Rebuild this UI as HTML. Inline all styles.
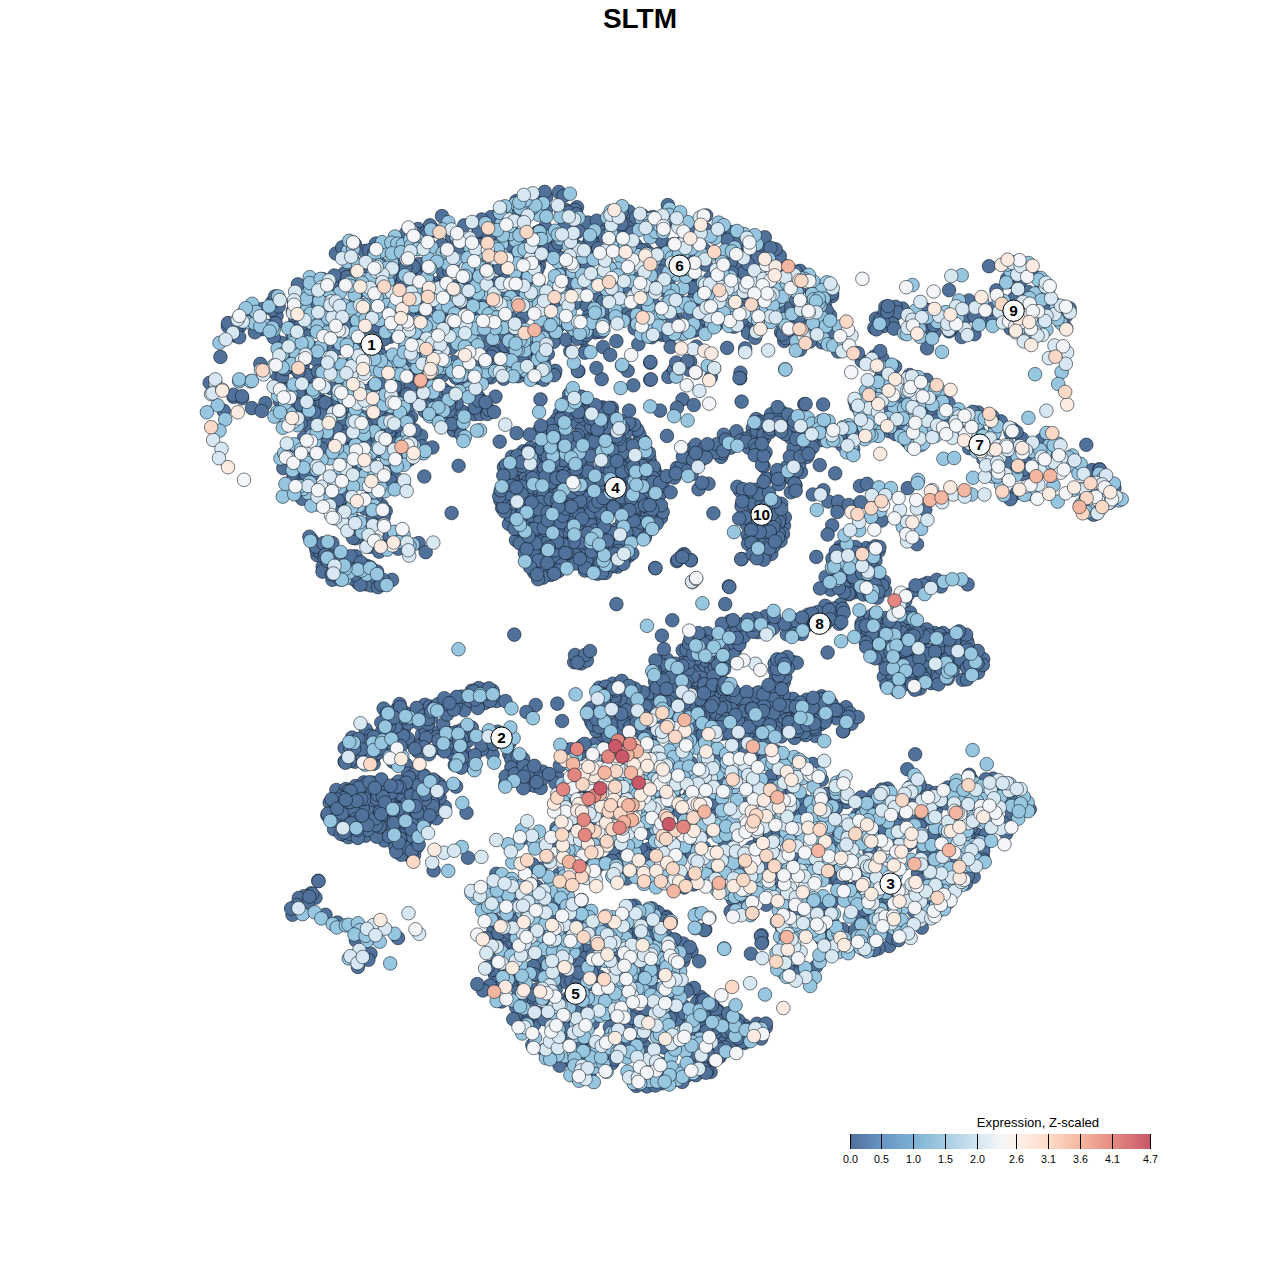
<!DOCTYPE html>
<html><head><meta charset="utf-8"><title>SLTM</title>
<style>
html,body{margin:0;padding:0;background:#fff;}
body{width:1280px;height:1280px;overflow:hidden;font-family:"Liberation Sans",sans-serif;}
svg{display:block}
#d circle{stroke:#0b1622;stroke-opacity:.8;stroke-width:.7px}
.lc{fill:#fafbfc;stroke:#000;stroke-width:1px}
text{font-family:"Liberation Sans",sans-serif;fill:#000;text-anchor:middle}
#lb text{font-weight:bold;font-size:15.4px}
.tk{font-size:10.67px}
</style></head><body>
<svg width="1280" height="1280" viewBox="0 0 1280 1280">
<defs><linearGradient id="lg" x1="0" x2="1" y1="0" y2="0">
<stop offset="0" stop-color="#4f6f98"/><stop offset="0.106" stop-color="#6796c6"/><stop offset="0.213" stop-color="#7db1d4"/><stop offset="0.319" stop-color="#a6cee3"/><stop offset="0.426" stop-color="#d4e6f1"/><stop offset="0.5" stop-color="#f4f6f8"/><stop offset="0.553" stop-color="#fdf1ea"/><stop offset="0.66" stop-color="#fddbc8"/><stop offset="0.766" stop-color="#f5b7a0"/><stop offset="0.872" stop-color="#e48b80"/><stop offset="1" stop-color="#c8566a"/>
</linearGradient></defs>
<text x="640" y="27.5" style="font-weight:bold;font-size:28px">SLTM</text>
<g id="d">
<g fill="#50719a">
<circle cx="1016.2" cy="493.4" r="6.8"/><circle cx="1010.4" cy="499.2" r="6.8"/><circle cx="1020.5" cy="490.9" r="6.8"/><circle cx="616.4" cy="604.1" r="6.8"/><circle cx="514.3" cy="634.6" r="6.8"/><circle cx="650.2" cy="736.8" r="6.8"/><circle cx="688.4" cy="735.6" r="6.8"/><circle cx="701.9" cy="738.6" r="6.8"/><circle cx="733.5" cy="735.6" r="6.8"/><circle cx="734.9" cy="736.6" r="6.8"/><circle cx="745.8" cy="738.3" r="6.8"/><circle cx="749.7" cy="738.9" r="6.8"/><circle cx="759.2" cy="739.4" r="6.8"/><circle cx="766.4" cy="737.7" r="6.8"/><circle cx="777.7" cy="735.4" r="6.8"/><circle cx="794.5" cy="737.9" r="6.8"/><circle cx="781.2" cy="736.4" r="6.8"/><circle cx="815.4" cy="736.0" r="6.8"/><circle cx="805.6" cy="735.1" r="6.8"/><circle cx="566.9" cy="749.9" r="6.8"/><circle cx="579.7" cy="754.2" r="6.8"/><circle cx="571.0" cy="749.3" r="6.8"/><circle cx="595.4" cy="743.6" r="6.8"/><circle cx="582.2" cy="745.7" r="6.8"/><circle cx="584.5" cy="743.9" r="6.8"/><circle cx="605.2" cy="753.5" r="6.8"/><circle cx="623.2" cy="743.6" r="6.8"/><circle cx="638.6" cy="745.8" r="6.8"/><circle cx="673.3" cy="750.5" r="6.8"/><circle cx="679.9" cy="742.6" r="6.8"/><circle cx="719.1" cy="757.9" r="6.8"/><circle cx="737.2" cy="742.7" r="6.8"/><circle cx="733.9" cy="744.3" r="6.8"/><circle cx="558.6" cy="778.3" r="6.8"/><circle cx="559.9" cy="765.6" r="6.8"/><circle cx="612.1" cy="771.2" r="6.8"/><circle cx="659.0" cy="772.4" r="6.8"/><circle cx="691.0" cy="763.0" r="6.8"/><circle cx="686.5" cy="770.1" r="6.8"/><circle cx="739.7" cy="772.6" r="6.8"/><circle cx="555.6" cy="783.3" r="6.8"/><circle cx="579.5" cy="791.8" r="6.8"/><circle cx="573.2" cy="799.8" r="6.8"/><circle cx="590.2" cy="791.5" r="6.8"/><circle cx="590.5" cy="793.3" r="6.8"/><circle cx="606.2" cy="783.1" r="6.8"/><circle cx="625.0" cy="784.2" r="6.8"/><circle cx="676.9" cy="785.0" r="6.8"/><circle cx="662.9" cy="795.8" r="6.8"/><circle cx="675.0" cy="797.6" r="6.8"/><circle cx="689.2" cy="796.0" r="6.8"/><circle cx="692.9" cy="785.2" r="6.8"/><circle cx="719.6" cy="781.0" r="6.8"/><circle cx="711.0" cy="799.2" r="6.8"/><circle cx="572.0" cy="807.0" r="6.8"/><circle cx="617.4" cy="808.5" r="6.8"/><circle cx="600.5" cy="815.0" r="6.8"/><circle cx="661.6" cy="813.0" r="6.8"/><circle cx="678.0" cy="819.6" r="6.8"/><circle cx="675.9" cy="812.3" r="6.8"/><circle cx="667.1" cy="809.5" r="6.8"/><circle cx="712.2" cy="809.5" r="6.8"/><circle cx="702.7" cy="807.6" r="6.8"/><circle cx="712.9" cy="802.9" r="6.8"/><circle cx="728.4" cy="812.5" r="6.8"/><circle cx="730.6" cy="815.2" r="6.8"/><circle cx="556.5" cy="828.0" r="6.8"/><circle cx="570.0" cy="839.1" r="6.8"/><circle cx="561.6" cy="837.2" r="6.8"/><circle cx="569.3" cy="835.2" r="6.8"/><circle cx="573.2" cy="829.3" r="6.8"/><circle cx="589.4" cy="822.2" r="6.8"/><circle cx="586.2" cy="826.4" r="6.8"/><circle cx="600.7" cy="839.9" r="6.8"/><circle cx="639.4" cy="824.7" r="6.8"/><circle cx="647.4" cy="832.6" r="6.8"/><circle cx="644.0" cy="830.5" r="6.8"/><circle cx="651.7" cy="834.5" r="6.8"/><circle cx="706.6" cy="831.7" r="6.8"/><circle cx="721.8" cy="834.3" r="6.8"/><circle cx="554.9" cy="840.3" r="6.8"/><circle cx="598.7" cy="843.8" r="6.8"/><circle cx="609.7" cy="856.2" r="6.8"/><circle cx="613.8" cy="859.5" r="6.8"/><circle cx="616.4" cy="846.2" r="6.8"/><circle cx="607.4" cy="849.5" r="6.8"/><circle cx="602.5" cy="853.9" r="6.8"/><circle cx="612.6" cy="848.3" r="6.8"/><circle cx="613.9" cy="853.8" r="6.8"/><circle cx="638.1" cy="847.8" r="6.8"/><circle cx="620.5" cy="859.6" r="6.8"/><circle cx="625.8" cy="851.1" r="6.8"/><circle cx="649.0" cy="848.9" r="6.8"/><circle cx="644.3" cy="857.2" r="6.8"/><circle cx="646.3" cy="853.8" r="6.8"/><circle cx="641.1" cy="849.7" r="6.8"/><circle cx="649.5" cy="856.3" r="6.8"/><circle cx="686.3" cy="850.6" r="6.8"/><circle cx="692.2" cy="853.4" r="6.8"/><circle cx="688.2" cy="840.5" r="6.8"/><circle cx="718.0" cy="857.3" r="6.8"/><circle cx="714.2" cy="852.5" r="6.8"/><circle cx="703.7" cy="847.2" r="6.8"/><circle cx="724.8" cy="843.0" r="6.8"/><circle cx="739.8" cy="856.8" r="6.8"/><circle cx="727.9" cy="858.5" r="6.8"/><circle cx="559.1" cy="874.2" r="6.8"/><circle cx="573.0" cy="872.9" r="6.8"/><circle cx="599.4" cy="864.8" r="6.8"/><circle cx="582.2" cy="862.8" r="6.8"/><circle cx="592.2" cy="860.2" r="6.8"/><circle cx="612.1" cy="861.0" r="6.8"/><circle cx="626.0" cy="874.4" r="6.8"/><circle cx="626.8" cy="878.5" r="6.8"/><circle cx="644.2" cy="863.9" r="6.8"/><circle cx="687.1" cy="878.7" r="6.8"/><circle cx="698.2" cy="877.6" r="6.8"/><circle cx="697.5" cy="874.4" r="6.8"/><circle cx="714.5" cy="866.7" r="6.8"/><circle cx="704.7" cy="877.6" r="6.8"/><circle cx="714.5" cy="871.2" r="6.8"/><circle cx="720.5" cy="869.0" r="6.8"/><circle cx="731.5" cy="862.8" r="6.8"/><circle cx="815.7" cy="967.0" r="6.8"/><circle cx="566.6" cy="517.1" r="6.8"/><circle cx="527.1" cy="542.2" r="6.8"/><circle cx="610.9" cy="507.3" r="6.8"/><circle cx="605.5" cy="479.9" r="6.8"/><circle cx="627.4" cy="536.7" r="6.8"/><circle cx="649.6" cy="515.4" r="6.8"/><circle cx="526.5" cy="469.5" r="6.8"/><circle cx="510.2" cy="476.0" r="6.8"/><circle cx="591.8" cy="443.0" r="6.8"/><circle cx="593.6" cy="421.0" r="6.8"/><circle cx="544.0" cy="549.5" r="6.8"/><circle cx="605.9" cy="422.4" r="6.8"/><circle cx="530.9" cy="447.7" r="6.8"/><circle cx="539.4" cy="430.1" r="6.8"/><circle cx="546.6" cy="481.3" r="6.8"/><circle cx="565.2" cy="558.7" r="6.8"/><circle cx="628.8" cy="476.4" r="6.8"/><circle cx="628.8" cy="556.0" r="6.8"/><circle cx="558.5" cy="453.1" r="6.8"/><circle cx="572.5" cy="480.7" r="6.8"/><circle cx="574.1" cy="537.5" r="6.8"/><circle cx="632.7" cy="533.7" r="6.8"/><circle cx="586.1" cy="520.0" r="6.8"/><circle cx="562.2" cy="465.9" r="6.8"/><circle cx="535.0" cy="524.2" r="6.8"/><circle cx="584.6" cy="551.6" r="6.8"/><circle cx="639.3" cy="495.9" r="6.8"/><circle cx="516.3" cy="490.7" r="6.8"/><circle cx="551.7" cy="562.3" r="6.8"/><circle cx="646.1" cy="499.3" r="6.8"/><circle cx="547.5" cy="536.0" r="6.8"/><circle cx="569.0" cy="424.0" r="6.8"/><circle cx="567.4" cy="447.6" r="6.8"/><circle cx="595.9" cy="455.3" r="6.8"/><circle cx="587.3" cy="432.6" r="6.8"/><circle cx="500.3" cy="500.2" r="6.8"/><circle cx="603.1" cy="558.1" r="6.8"/><circle cx="644.0" cy="441.5" r="6.8"/><circle cx="533.7" cy="552.8" r="6.8"/><circle cx="508.9" cy="523.9" r="6.8"/><circle cx="542.4" cy="460.4" r="6.8"/><circle cx="516.0" cy="540.2" r="6.8"/><circle cx="586.0" cy="496.8" r="6.8"/><circle cx="584.5" cy="410.6" r="6.8"/><circle cx="573.6" cy="519.6" r="6.8"/><circle cx="583.5" cy="473.2" r="6.8"/><circle cx="634.6" cy="479.7" r="6.8"/><circle cx="577.4" cy="423.1" r="6.8"/><circle cx="614.6" cy="481.6" r="6.8"/><circle cx="507.5" cy="470.1" r="6.8"/><circle cx="559.8" cy="413.3" r="6.8"/><circle cx="601.4" cy="446.8" r="6.8"/><circle cx="555.2" cy="518.4" r="6.8"/><circle cx="587.3" cy="464.7" r="6.8"/><circle cx="650.1" cy="462.6" r="6.8"/><circle cx="600.1" cy="516.3" r="6.8"/><circle cx="597.5" cy="573.8" r="6.8"/><circle cx="561.1" cy="425.6" r="6.8"/><circle cx="517.7" cy="512.1" r="6.8"/><circle cx="594.0" cy="498.7" r="6.8"/><circle cx="558.0" cy="571.3" r="6.8"/><circle cx="505.1" cy="491.4" r="6.8"/><circle cx="616.2" cy="529.3" r="6.8"/><circle cx="541.0" cy="525.1" r="6.8"/><circle cx="614.1" cy="467.1" r="6.8"/><circle cx="575.5" cy="439.0" r="6.8"/><circle cx="543.0" cy="566.2" r="6.8"/><circle cx="546.8" cy="492.7" r="6.8"/><circle cx="603.6" cy="534.7" r="6.8"/><circle cx="614.9" cy="536.5" r="6.8"/><circle cx="517.6" cy="529.1" r="6.8"/><circle cx="530.5" cy="537.9" r="6.8"/><circle cx="608.1" cy="490.1" r="6.8"/><circle cx="524.2" cy="481.0" r="6.8"/><circle cx="624.0" cy="421.2" r="6.8"/><circle cx="582.2" cy="428.8" r="6.8"/><circle cx="585.8" cy="509.1" r="6.8"/><circle cx="511.9" cy="456.8" r="6.8"/><circle cx="528.6" cy="506.9" r="6.8"/><circle cx="543.4" cy="558.9" r="6.8"/><circle cx="516.5" cy="526.2" r="6.8"/><circle cx="639.3" cy="434.2" r="6.8"/><circle cx="547.1" cy="428.1" r="6.8"/><circle cx="516.4" cy="464.5" r="6.8"/><circle cx="652.8" cy="526.0" r="6.8"/><circle cx="632.2" cy="454.4" r="6.8"/><circle cx="562.5" cy="502.3" r="6.8"/><circle cx="649.7" cy="477.9" r="6.8"/><circle cx="554.2" cy="464.4" r="6.8"/><circle cx="523.3" cy="451.4" r="6.8"/><circle cx="575.2" cy="497.6" r="6.8"/><circle cx="586.7" cy="564.9" r="6.8"/><circle cx="630.6" cy="528.9" r="6.8"/><circle cx="611.9" cy="407.9" r="6.8"/><circle cx="519.9" cy="543.4" r="6.8"/><circle cx="588.4" cy="447.1" r="6.8"/><circle cx="637.7" cy="508.1" r="6.8"/><circle cx="595.2" cy="432.3" r="6.8"/><circle cx="549.1" cy="530.5" r="6.8"/><circle cx="587.9" cy="539.5" r="6.8"/><circle cx="651.5" cy="472.2" r="6.8"/><circle cx="561.4" cy="535.6" r="6.8"/><circle cx="636.6" cy="520.8" r="6.8"/><circle cx="576.0" cy="555.3" r="6.8"/><circle cx="564.5" cy="530.9" r="6.8"/><circle cx="596.8" cy="564.6" r="6.8"/><circle cx="572.5" cy="402.8" r="6.8"/><circle cx="517.9" cy="498.8" r="6.8"/><circle cx="614.6" cy="478.2" r="6.8"/><circle cx="612.0" cy="497.3" r="6.8"/><circle cx="636.6" cy="444.3" r="6.8"/><circle cx="609.9" cy="435.0" r="6.8"/><circle cx="617.5" cy="465.9" r="6.8"/><circle cx="619.4" cy="429.4" r="6.8"/><circle cx="556.1" cy="557.5" r="6.8"/><circle cx="582.7" cy="404.8" r="6.8"/><circle cx="581.1" cy="467.3" r="6.8"/><circle cx="642.3" cy="505.4" r="6.8"/><circle cx="595.9" cy="548.4" r="6.8"/><circle cx="509.0" cy="508.3" r="6.8"/><circle cx="585.1" cy="419.4" r="6.8"/><circle cx="537.0" cy="449.9" r="6.8"/><circle cx="580.3" cy="400.3" r="6.8"/><circle cx="649.3" cy="458.0" r="6.8"/><circle cx="651.3" cy="506.3" r="6.8"/><circle cx="586.1" cy="482.2" r="6.8"/><circle cx="627.1" cy="501.4" r="6.8"/><circle cx="555.1" cy="567.4" r="6.8"/><circle cx="518.3" cy="474.4" r="6.8"/><circle cx="560.7" cy="558.3" r="6.8"/><circle cx="567.0" cy="462.8" r="6.8"/><circle cx="579.7" cy="542.2" r="6.8"/><circle cx="581.1" cy="396.6" r="6.8"/><circle cx="514.7" cy="506.3" r="6.8"/><circle cx="608.3" cy="415.4" r="6.8"/><circle cx="644.7" cy="520.3" r="6.8"/><circle cx="567.2" cy="545.1" r="6.8"/><circle cx="575.1" cy="460.2" r="6.8"/><circle cx="606.8" cy="477.2" r="6.8"/><circle cx="553.8" cy="434.7" r="6.8"/><circle cx="635.8" cy="497.3" r="6.8"/><circle cx="645.9" cy="532.6" r="6.8"/><circle cx="533.8" cy="453.7" r="6.8"/><circle cx="593.5" cy="557.7" r="6.8"/><circle cx="536.9" cy="498.3" r="6.8"/><circle cx="594.8" cy="448.8" r="6.8"/><circle cx="556.8" cy="488.2" r="6.8"/><circle cx="587.3" cy="555.0" r="6.8"/><circle cx="595.4" cy="438.8" r="6.8"/><circle cx="579.4" cy="445.9" r="6.8"/><circle cx="589.2" cy="570.4" r="6.8"/><circle cx="568.9" cy="413.5" r="6.8"/><circle cx="638.3" cy="485.8" r="6.8"/><circle cx="616.8" cy="456.5" r="6.8"/><circle cx="582.9" cy="562.3" r="6.8"/><circle cx="609.2" cy="463.7" r="6.8"/><circle cx="637.2" cy="429.6" r="6.8"/><circle cx="555.8" cy="492.6" r="6.8"/><circle cx="598.9" cy="409.3" r="6.8"/><circle cx="545.1" cy="454.9" r="6.8"/><circle cx="522.1" cy="507.0" r="6.8"/><circle cx="623.8" cy="495.6" r="6.8"/><circle cx="539.9" cy="570.9" r="6.8"/><circle cx="573.0" cy="486.3" r="6.8"/><circle cx="625.3" cy="440.9" r="6.8"/><circle cx="579.0" cy="524.5" r="6.8"/><circle cx="610.4" cy="552.7" r="6.8"/><circle cx="579.4" cy="415.8" r="6.8"/><circle cx="637.3" cy="460.6" r="6.8"/><circle cx="627.0" cy="463.5" r="6.8"/><circle cx="649.2" cy="479.8" r="6.8"/><circle cx="510.6" cy="515.8" r="6.8"/><circle cx="529.7" cy="434.5" r="6.8"/><circle cx="548.7" cy="478.8" r="6.8"/><circle cx="621.1" cy="477.7" r="6.8"/><circle cx="589.2" cy="529.6" r="6.8"/><circle cx="635.9" cy="489.2" r="6.8"/><circle cx="524.1" cy="484.6" r="6.8"/><circle cx="622.5" cy="562.4" r="6.8"/><circle cx="550.6" cy="575.0" r="6.8"/><circle cx="591.4" cy="520.0" r="6.8"/><circle cx="583.6" cy="500.0" r="6.8"/><circle cx="534.2" cy="572.4" r="6.8"/><circle cx="609.5" cy="431.6" r="6.8"/><circle cx="543.0" cy="577.6" r="6.8"/><circle cx="546.7" cy="504.7" r="6.8"/><circle cx="539.0" cy="468.7" r="6.8"/><circle cx="571.0" cy="467.0" r="6.8"/><circle cx="557.8" cy="441.6" r="6.8"/><circle cx="572.4" cy="396.4" r="6.8"/><circle cx="650.0" cy="491.8" r="6.8"/><circle cx="553.5" cy="556.2" r="6.8"/><circle cx="655.7" cy="473.3" r="6.8"/><circle cx="570.6" cy="510.0" r="6.8"/><circle cx="604.7" cy="484.9" r="6.8"/><circle cx="553.0" cy="520.2" r="6.8"/><circle cx="629.1" cy="548.3" r="6.8"/><circle cx="562.4" cy="419.2" r="6.8"/><circle cx="505.7" cy="497.5" r="6.8"/><circle cx="587.7" cy="492.0" r="6.8"/><circle cx="603.0" cy="530.4" r="6.8"/><circle cx="590.5" cy="489.4" r="6.8"/><circle cx="609.6" cy="484.0" r="6.8"/><circle cx="645.5" cy="529.7" r="6.8"/><circle cx="649.2" cy="467.8" r="6.8"/><circle cx="528.1" cy="487.3" r="6.8"/><circle cx="617.4" cy="566.6" r="6.8"/><circle cx="613.1" cy="566.1" r="6.8"/><circle cx="577.5" cy="442.0" r="6.8"/><circle cx="598.3" cy="536.8" r="6.8"/><circle cx="649.0" cy="483.8" r="6.8"/><circle cx="605.3" cy="573.0" r="6.8"/><circle cx="607.3" cy="454.1" r="6.8"/><circle cx="580.3" cy="459.2" r="6.8"/><circle cx="632.3" cy="553.3" r="6.8"/><circle cx="596.5" cy="477.4" r="6.8"/><circle cx="550.5" cy="508.8" r="6.8"/><circle cx="550.7" cy="451.6" r="6.8"/><circle cx="623.2" cy="522.5" r="6.8"/><circle cx="561.4" cy="458.9" r="6.8"/><circle cx="609.5" cy="504.3" r="6.8"/><circle cx="654.2" cy="469.4" r="6.8"/><circle cx="632.3" cy="468.5" r="6.8"/><circle cx="540.6" cy="484.8" r="6.8"/><circle cx="590.9" cy="441.1" r="6.8"/><circle cx="607.9" cy="546.3" r="6.8"/><circle cx="515.6" cy="472.6" r="6.8"/><circle cx="543.3" cy="543.9" r="6.8"/><circle cx="635.2" cy="500.9" r="6.8"/><circle cx="652.6" cy="501.4" r="6.8"/><circle cx="629.3" cy="481.9" r="6.8"/><circle cx="618.4" cy="482.9" r="6.8"/><circle cx="608.6" cy="455.2" r="6.8"/><circle cx="502.1" cy="507.9" r="6.8"/><circle cx="579.3" cy="514.5" r="6.8"/><circle cx="598.2" cy="453.2" r="6.8"/><circle cx="599.0" cy="442.1" r="6.8"/><circle cx="575.7" cy="563.4" r="6.8"/><circle cx="586.3" cy="560.4" r="6.8"/><circle cx="556.3" cy="420.0" r="6.8"/><circle cx="557.0" cy="512.2" r="6.8"/><circle cx="574.5" cy="504.5" r="6.8"/><circle cx="602.7" cy="518.7" r="6.8"/><circle cx="581.0" cy="442.9" r="6.8"/><circle cx="608.5" cy="500.8" r="6.8"/><circle cx="563.3" cy="454.5" r="6.8"/><circle cx="611.7" cy="480.0" r="6.8"/><circle cx="658.2" cy="490.9" r="6.8"/><circle cx="630.2" cy="488.9" r="6.8"/><circle cx="526.9" cy="500.6" r="6.8"/><circle cx="657.0" cy="509.2" r="6.8"/><circle cx="533.5" cy="533.3" r="6.8"/><circle cx="570.4" cy="526.8" r="6.8"/><circle cx="614.7" cy="425.3" r="6.8"/><circle cx="576.1" cy="449.3" r="6.8"/><circle cx="503.9" cy="467.1" r="6.8"/><circle cx="571.4" cy="496.1" r="6.8"/><circle cx="568.2" cy="487.6" r="6.8"/><circle cx="639.8" cy="499.3" r="6.8"/><circle cx="552.1" cy="424.4" r="6.8"/><circle cx="608.0" cy="501.8" r="6.8"/><circle cx="552.7" cy="544.2" r="6.8"/><circle cx="553.7" cy="501.7" r="6.8"/><circle cx="600.5" cy="563.6" r="6.8"/><circle cx="562.0" cy="471.0" r="6.8"/><circle cx="596.0" cy="414.7" r="6.8"/><circle cx="615.1" cy="556.3" r="6.8"/><circle cx="647.6" cy="514.5" r="6.8"/><circle cx="564.1" cy="412.1" r="6.8"/><circle cx="589.5" cy="504.5" r="6.8"/><circle cx="660.0" cy="494.3" r="6.8"/><circle cx="660.8" cy="518.0" r="6.8"/><circle cx="630.4" cy="458.5" r="6.8"/><circle cx="558.2" cy="526.4" r="6.8"/><circle cx="631.6" cy="477.0" r="6.8"/><circle cx="600.8" cy="469.2" r="6.8"/><circle cx="557.7" cy="432.6" r="6.8"/><circle cx="554.1" cy="511.7" r="6.8"/><circle cx="504.6" cy="511.5" r="6.8"/><circle cx="521.6" cy="471.1" r="6.8"/><circle cx="628.0" cy="489.8" r="6.8"/><circle cx="538.5" cy="560.5" r="6.8"/><circle cx="524.1" cy="518.6" r="6.8"/><circle cx="648.2" cy="507.6" r="6.8"/><circle cx="562.4" cy="565.0" r="6.8"/><circle cx="512.9" cy="494.8" r="6.8"/><circle cx="560.8" cy="522.4" r="6.8"/><circle cx="616.0" cy="546.3" r="6.8"/><circle cx="530.2" cy="567.3" r="6.8"/><circle cx="533.5" cy="462.5" r="6.8"/><circle cx="553.1" cy="430.9" r="6.8"/><circle cx="662.7" cy="512.1" r="6.8"/><circle cx="539.4" cy="535.7" r="6.8"/><circle cx="527.7" cy="451.6" r="6.8"/><circle cx="591.6" cy="525.3" r="6.8"/><circle cx="600.6" cy="507.5" r="6.8"/><circle cx="532.9" cy="488.3" r="6.8"/><circle cx="555.1" cy="550.4" r="6.8"/><circle cx="615.9" cy="442.6" r="6.8"/><circle cx="536.1" cy="543.4" r="6.8"/><circle cx="614.9" cy="549.9" r="6.8"/><circle cx="577.9" cy="435.3" r="6.8"/><circle cx="627.5" cy="526.3" r="6.8"/><circle cx="623.6" cy="520.1" r="6.8"/><circle cx="547.6" cy="471.8" r="6.8"/><circle cx="539.4" cy="529.0" r="6.8"/><circle cx="584.8" cy="570.5" r="6.8"/><circle cx="538.7" cy="514.2" r="6.8"/><circle cx="607.6" cy="410.2" r="6.8"/><circle cx="531.5" cy="515.8" r="6.8"/><circle cx="563.1" cy="494.2" r="6.8"/><circle cx="531.7" cy="510.5" r="6.8"/><circle cx="654.9" cy="475.0" r="6.8"/><circle cx="624.8" cy="508.5" r="6.8"/><circle cx="622.3" cy="521.3" r="6.8"/><circle cx="594.1" cy="493.5" r="6.8"/><circle cx="591.8" cy="551.5" r="6.8"/><circle cx="642.8" cy="531.5" r="6.8"/><circle cx="538.0" cy="579.2" r="6.8"/><circle cx="615.2" cy="504.2" r="6.8"/><circle cx="600.2" cy="531.6" r="6.8"/><circle cx="566.3" cy="478.9" r="6.8"/><circle cx="546.2" cy="484.6" r="6.8"/><circle cx="541.0" cy="425.7" r="6.8"/><circle cx="661.0" cy="505.3" r="6.8"/><circle cx="598.8" cy="540.5" r="6.8"/><circle cx="569.1" cy="394.6" r="6.8"/><circle cx="592.6" cy="488.7" r="6.8"/><circle cx="552.6" cy="468.0" r="6.8"/><circle cx="628.8" cy="454.4" r="6.8"/><circle cx="525.8" cy="476.0" r="6.8"/><circle cx="527.8" cy="482.0" r="6.8"/><circle cx="591.6" cy="511.9" r="6.8"/><circle cx="653.7" cy="466.8" r="6.8"/><circle cx="541.8" cy="448.6" r="6.8"/><circle cx="584.4" cy="412.2" r="6.8"/><circle cx="540.0" cy="521.5" r="6.8"/><circle cx="517.5" cy="455.7" r="6.8"/><circle cx="560.4" cy="489.2" r="6.8"/><circle cx="613.8" cy="539.3" r="6.8"/><circle cx="524.8" cy="553.3" r="6.8"/><circle cx="614.1" cy="464.7" r="6.8"/><circle cx="550.2" cy="449.2" r="6.8"/><circle cx="551.1" cy="482.4" r="6.8"/><circle cx="544.2" cy="468.1" r="6.8"/><circle cx="560.5" cy="448.6" r="6.8"/><circle cx="527.0" cy="493.8" r="6.8"/><circle cx="537.1" cy="574.3" r="6.8"/><circle cx="514.5" cy="528.8" r="6.8"/><circle cx="614.7" cy="427.9" r="6.8"/><circle cx="623.9" cy="558.6" r="6.8"/><circle cx="615.7" cy="497.0" r="6.8"/><circle cx="636.8" cy="529.5" r="6.8"/><circle cx="614.3" cy="509.3" r="6.8"/><circle cx="503.5" cy="506.9" r="6.8"/><circle cx="545.0" cy="507.1" r="6.8"/><circle cx="626.4" cy="532.4" r="6.8"/><circle cx="533.7" cy="507.9" r="6.8"/><circle cx="567.3" cy="552.9" r="6.8"/><circle cx="603.3" cy="522.9" r="6.8"/><circle cx="625.9" cy="432.2" r="6.8"/><circle cx="556.9" cy="534.9" r="6.8"/><circle cx="644.9" cy="537.5" r="6.8"/><circle cx="516.4" cy="469.0" r="6.8"/><circle cx="589.0" cy="497.6" r="6.8"/><circle cx="559.2" cy="570.4" r="6.8"/><circle cx="591.4" cy="426.4" r="6.8"/><circle cx="543.5" cy="495.2" r="6.8"/><circle cx="511.1" cy="497.7" r="6.8"/><circle cx="564.6" cy="451.4" r="6.8"/><circle cx="594.4" cy="445.7" r="6.8"/><circle cx="574.0" cy="473.3" r="6.8"/><circle cx="623.0" cy="452.5" r="6.8"/><circle cx="573.6" cy="541.8" r="6.8"/><circle cx="504.4" cy="496.1" r="6.8"/><circle cx="601.2" cy="547.9" r="6.8"/><circle cx="509.3" cy="493.7" r="6.8"/><circle cx="607.6" cy="469.4" r="6.8"/><circle cx="540.4" cy="502.1" r="6.8"/><circle cx="640.6" cy="473.8" r="6.8"/><circle cx="640.6" cy="522.6" r="6.8"/><circle cx="610.2" cy="470.7" r="6.8"/><circle cx="633.8" cy="520.9" r="6.8"/><circle cx="613.0" cy="533.1" r="6.8"/><circle cx="576.1" cy="438.0" r="6.8"/><circle cx="642.4" cy="466.0" r="6.8"/><circle cx="624.1" cy="548.4" r="6.8"/><circle cx="529.7" cy="500.1" r="6.8"/><circle cx="548.3" cy="540.8" r="6.8"/><circle cx="545.0" cy="530.1" r="6.8"/><circle cx="530.7" cy="469.1" r="6.8"/><circle cx="534.3" cy="528.9" r="6.8"/><circle cx="620.5" cy="543.2" r="6.8"/><circle cx="634.2" cy="507.5" r="6.8"/><circle cx="611.6" cy="411.3" r="6.8"/><circle cx="562.7" cy="515.8" r="6.8"/><circle cx="590.4" cy="455.8" r="6.8"/><circle cx="566.1" cy="508.6" r="6.8"/><circle cx="606.2" cy="441.1" r="6.8"/><circle cx="558.1" cy="494.4" r="6.8"/><circle cx="590.4" cy="418.2" r="6.8"/><circle cx="612.0" cy="417.0" r="6.8"/><circle cx="545.2" cy="476.7" r="6.8"/><circle cx="632.3" cy="463.1" r="6.8"/><circle cx="521.8" cy="486.5" r="6.8"/><circle cx="547.4" cy="562.9" r="6.8"/><circle cx="570.7" cy="446.2" r="6.8"/><circle cx="557.3" cy="501.1" r="6.8"/><circle cx="618.8" cy="550.9" r="6.8"/><circle cx="566.8" cy="437.9" r="6.8"/><circle cx="634.0" cy="424.6" r="6.8"/><circle cx="599.7" cy="481.6" r="6.8"/><circle cx="559.5" cy="463.5" r="6.8"/><circle cx="589.7" cy="484.2" r="6.8"/><circle cx="617.0" cy="494.6" r="6.8"/><circle cx="646.5" cy="480.9" r="6.8"/><circle cx="522.2" cy="465.8" r="6.8"/><circle cx="592.2" cy="502.8" r="6.8"/><circle cx="621.0" cy="445.4" r="6.8"/><circle cx="623.4" cy="563.7" r="6.8"/><circle cx="606.2" cy="460.9" r="6.8"/><circle cx="550.7" cy="499.0" r="6.8"/><circle cx="508.0" cy="467.7" r="6.8"/><circle cx="601.0" cy="512.5" r="6.8"/><circle cx="499.1" cy="496.1" r="6.8"/><circle cx="601.9" cy="572.8" r="6.8"/><circle cx="621.8" cy="467.9" r="6.8"/><circle cx="579.4" cy="409.8" r="6.8"/><circle cx="557.1" cy="499.7" r="6.8"/><circle cx="538.4" cy="509.3" r="6.8"/><circle cx="652.0" cy="519.4" r="6.8"/><circle cx="565.2" cy="403.3" r="6.8"/><circle cx="500.7" cy="490.4" r="6.8"/><circle cx="656.7" cy="523.7" r="6.8"/><circle cx="612.2" cy="449.6" r="6.8"/><circle cx="580.1" cy="501.1" r="6.8"/><circle cx="521.2" cy="462.2" r="6.8"/><circle cx="505.9" cy="464.9" r="6.8"/><circle cx="562.8" cy="460.0" r="6.8"/><circle cx="547.6" cy="512.4" r="6.8"/><circle cx="520.7" cy="517.2" r="6.8"/><circle cx="588.2" cy="471.7" r="6.8"/><circle cx="562.6" cy="544.3" r="6.8"/><circle cx="650.7" cy="512.2" r="6.8"/><circle cx="621.6" cy="497.3" r="6.8"/><circle cx="571.7" cy="492.1" r="6.8"/><circle cx="645.1" cy="505.5" r="6.8"/><circle cx="582.1" cy="518.7" r="6.8"/><circle cx="631.1" cy="498.7" r="6.8"/><circle cx="614.7" cy="554.1" r="6.8"/><circle cx="556.4" cy="478.3" r="6.8"/><circle cx="560.9" cy="419.1" r="6.8"/><circle cx="571.3" cy="506.7" r="6.8"/><circle cx="598.9" cy="489.5" r="6.8"/><circle cx="626.9" cy="511.4" r="6.8"/><circle cx="543.9" cy="527.8" r="6.8"/><circle cx="653.6" cy="478.2" r="6.8"/><circle cx="607.0" cy="427.8" r="6.8"/><circle cx="613.1" cy="486.8" r="6.8"/><circle cx="629.0" cy="423.2" r="6.8"/><circle cx="622.3" cy="471.7" r="6.8"/><circle cx="511.6" cy="485.4" r="6.8"/><circle cx="602.3" cy="496.3" r="6.8"/><circle cx="635.0" cy="475.8" r="6.8"/><circle cx="602.3" cy="417.1" r="6.8"/><circle cx="576.0" cy="468.9" r="6.8"/><circle cx="601.1" cy="424.3" r="6.8"/><circle cx="526.7" cy="549.1" r="6.8"/><circle cx="622.7" cy="428.3" r="6.8"/><circle cx="528.6" cy="536.3" r="6.8"/><circle cx="521.6" cy="493.9" r="6.8"/><circle cx="648.4" cy="486.1" r="6.8"/><circle cx="576.7" cy="485.7" r="6.8"/><circle cx="516.3" cy="487.3" r="6.8"/><circle cx="656.5" cy="489.5" r="6.8"/><circle cx="594.7" cy="505.6" r="6.8"/><circle cx="607.2" cy="540.7" r="6.8"/><circle cx="547.9" cy="520.4" r="6.8"/><circle cx="557.2" cy="541.8" r="6.8"/><circle cx="593.9" cy="419.0" r="6.8"/><circle cx="613.4" cy="507.2" r="6.8"/><circle cx="598.5" cy="501.6" r="6.8"/><circle cx="563.2" cy="476.6" r="6.8"/><circle cx="601.8" cy="444.1" r="6.8"/><circle cx="565.4" cy="553.0" r="6.8"/><circle cx="558.3" cy="506.9" r="6.8"/><circle cx="602.5" cy="407.4" r="6.8"/><circle cx="594.5" cy="530.7" r="6.8"/><circle cx="618.7" cy="427.8" r="6.8"/><circle cx="618.8" cy="438.6" r="6.8"/><circle cx="633.0" cy="445.7" r="6.8"/><circle cx="594.0" cy="441.6" r="6.8"/><circle cx="548.8" cy="547.4" r="6.8"/><circle cx="616.5" cy="436.4" r="6.8"/><circle cx="652.2" cy="509.3" r="6.8"/><circle cx="585.2" cy="567.9" r="6.8"/><circle cx="600.5" cy="479.2" r="6.8"/><circle cx="588.2" cy="533.1" r="6.8"/><circle cx="579.8" cy="558.7" r="6.8"/><circle cx="629.4" cy="510.1" r="6.8"/><circle cx="547.8" cy="456.9" r="6.8"/><circle cx="532.5" cy="478.2" r="6.8"/><circle cx="649.6" cy="505.1" r="6.8"/><circle cx="511.0" cy="472.4" r="6.8"/><circle cx="602.1" cy="409.3" r="6.8"/><circle cx="652.8" cy="482.3" r="6.8"/><circle cx="604.0" cy="526.6" r="6.8"/><circle cx="611.2" cy="565.1" r="6.8"/><circle cx="597.4" cy="429.5" r="6.8"/><circle cx="648.9" cy="452.9" r="6.8"/><circle cx="617.0" cy="461.1" r="6.8"/><circle cx="576.6" cy="408.3" r="6.8"/><circle cx="553.2" cy="461.9" r="6.8"/><circle cx="631.1" cy="468.1" r="6.8"/><circle cx="528.6" cy="503.7" r="6.8"/><circle cx="554.1" cy="573.8" r="6.8"/><circle cx="523.4" cy="511.5" r="6.8"/><circle cx="603.4" cy="498.0" r="6.8"/><circle cx="503.3" cy="475.5" r="6.8"/><circle cx="633.6" cy="466.7" r="6.8"/><circle cx="531.6" cy="502.4" r="6.8"/><circle cx="578.7" cy="489.0" r="6.8"/><circle cx="765.9" cy="496.6" r="6.8"/><circle cx="766.7" cy="530.1" r="6.8"/><circle cx="754.8" cy="535.4" r="6.8"/><circle cx="743.8" cy="513.6" r="6.8"/><circle cx="754.2" cy="513.7" r="6.8"/><circle cx="739.9" cy="490.7" r="6.8"/><circle cx="784.0" cy="525.6" r="6.8"/><circle cx="765.5" cy="549.4" r="6.8"/><circle cx="745.9" cy="500.1" r="6.8"/><circle cx="746.5" cy="524.0" r="6.8"/><circle cx="762.3" cy="513.9" r="6.8"/><circle cx="756.3" cy="537.9" r="6.8"/><circle cx="762.1" cy="497.6" r="6.8"/><circle cx="778.7" cy="529.6" r="6.8"/><circle cx="747.7" cy="535.0" r="6.8"/><circle cx="756.0" cy="489.7" r="6.8"/><circle cx="771.3" cy="553.9" r="6.8"/><circle cx="737.3" cy="486.8" r="6.8"/><circle cx="742.4" cy="503.9" r="6.8"/><circle cx="746.1" cy="509.3" r="6.8"/><circle cx="749.5" cy="539.2" r="6.8"/><circle cx="776.6" cy="518.7" r="6.8"/><circle cx="760.9" cy="551.4" r="6.8"/><circle cx="778.6" cy="511.1" r="6.8"/><circle cx="757.6" cy="524.8" r="6.8"/><circle cx="752.5" cy="546.7" r="6.8"/><circle cx="758.8" cy="508.1" r="6.8"/><circle cx="783.0" cy="533.9" r="6.8"/><circle cx="780.5" cy="540.9" r="6.8"/><circle cx="757.0" cy="551.6" r="6.8"/><circle cx="747.3" cy="499.5" r="6.8"/><circle cx="784.8" cy="517.3" r="6.8"/><circle cx="752.9" cy="503.9" r="6.8"/><circle cx="751.7" cy="491.3" r="6.8"/><circle cx="778.6" cy="533.5" r="6.8"/><circle cx="768.3" cy="535.4" r="6.8"/><circle cx="755.4" cy="542.9" r="6.8"/><circle cx="742.9" cy="489.2" r="6.8"/><circle cx="752.0" cy="526.4" r="6.8"/><circle cx="781.2" cy="503.7" r="6.8"/><circle cx="761.7" cy="503.3" r="6.8"/><circle cx="779.7" cy="518.2" r="6.8"/><circle cx="778.9" cy="521.8" r="6.8"/><circle cx="764.6" cy="555.2" r="6.8"/><circle cx="778.0" cy="537.6" r="6.8"/><circle cx="762.9" cy="544.9" r="6.8"/><circle cx="774.6" cy="523.0" r="6.8"/><circle cx="754.3" cy="549.5" r="6.8"/><circle cx="771.4" cy="514.4" r="6.8"/><circle cx="741.5" cy="506.1" r="6.8"/><circle cx="758.2" cy="520.7" r="6.8"/><circle cx="763.5" cy="494.0" r="6.8"/><circle cx="756.0" cy="513.9" r="6.8"/><circle cx="759.0" cy="494.4" r="6.8"/><circle cx="781.2" cy="509.1" r="6.8"/><circle cx="773.3" cy="527.3" r="6.8"/><circle cx="748.0" cy="543.8" r="6.8"/><circle cx="766.2" cy="506.2" r="6.8"/><circle cx="742.3" cy="501.4" r="6.8"/><circle cx="769.7" cy="531.5" r="6.8"/><circle cx="769.3" cy="545.2" r="6.8"/><circle cx="759.7" cy="532.1" r="6.8"/><circle cx="751.2" cy="530.2" r="6.8"/><circle cx="750.3" cy="489.4" r="6.8"/><circle cx="769.1" cy="492.7" r="6.8"/><circle cx="773.9" cy="545.9" r="6.8"/><circle cx="774.9" cy="501.7" r="6.8"/><circle cx="745.1" cy="517.4" r="6.8"/><circle cx="739.1" cy="518.6" r="6.8"/><circle cx="751.4" cy="542.7" r="6.8"/><circle cx="755.9" cy="554.8" r="6.8"/><circle cx="883.5" cy="653.6" r="6.8"/><circle cx="905.8" cy="684.3" r="6.8"/><circle cx="952.1" cy="635.8" r="6.8"/><circle cx="922.1" cy="640.9" r="6.8"/><circle cx="972.4" cy="658.5" r="6.8"/><circle cx="875.0" cy="613.4" r="6.8"/><circle cx="931.2" cy="683.1" r="6.8"/><circle cx="904.8" cy="655.2" r="6.8"/><circle cx="892.9" cy="664.2" r="6.8"/><circle cx="876.1" cy="643.9" r="6.8"/><circle cx="962.6" cy="679.7" r="6.8"/><circle cx="881.3" cy="618.7" r="6.8"/><circle cx="959.3" cy="650.1" r="6.8"/><circle cx="876.1" cy="649.9" r="6.8"/><circle cx="914.8" cy="649.1" r="6.8"/><circle cx="966.2" cy="664.6" r="6.8"/><circle cx="934.7" cy="633.0" r="6.8"/><circle cx="907.2" cy="630.9" r="6.8"/><circle cx="934.1" cy="657.2" r="6.8"/><circle cx="875.6" cy="636.2" r="6.8"/><circle cx="926.7" cy="629.4" r="6.8"/><circle cx="863.8" cy="620.1" r="6.8"/><circle cx="936.1" cy="667.0" r="6.8"/><circle cx="906.3" cy="620.4" r="6.8"/><circle cx="953.8" cy="664.6" r="6.8"/><circle cx="975.3" cy="669.2" r="6.8"/><circle cx="943.0" cy="633.0" r="6.8"/><circle cx="958.0" cy="639.0" r="6.8"/><circle cx="920.9" cy="632.6" r="6.8"/><circle cx="957.0" cy="661.7" r="6.8"/><circle cx="892.5" cy="627.2" r="6.8"/><circle cx="911.9" cy="679.1" r="6.8"/><circle cx="890.1" cy="634.6" r="6.8"/><circle cx="946.0" cy="642.9" r="6.8"/><circle cx="967.0" cy="679.3" r="6.8"/><circle cx="883.8" cy="676.8" r="6.8"/><circle cx="897.2" cy="656.2" r="6.8"/><circle cx="864.8" cy="634.9" r="6.8"/><circle cx="908.4" cy="642.9" r="6.8"/><circle cx="887.3" cy="665.2" r="6.8"/><circle cx="914.3" cy="668.1" r="6.8"/><circle cx="960.6" cy="659.2" r="6.8"/><circle cx="897.7" cy="677.1" r="6.8"/><circle cx="886.4" cy="685.0" r="6.8"/><circle cx="918.3" cy="674.5" r="6.8"/><circle cx="967.0" cy="667.7" r="6.8"/><circle cx="885.4" cy="642.6" r="6.8"/><circle cx="892.6" cy="645.3" r="6.8"/><circle cx="893.1" cy="640.3" r="6.8"/><circle cx="910.1" cy="612.5" r="6.8"/><circle cx="885.7" cy="618.0" r="6.8"/><circle cx="947.8" cy="649.8" r="6.8"/><circle cx="919.8" cy="688.5" r="6.8"/><circle cx="882.4" cy="659.8" r="6.8"/><circle cx="920.7" cy="654.3" r="6.8"/><circle cx="915.3" cy="637.7" r="6.8"/><circle cx="906.0" cy="645.7" r="6.8"/><circle cx="928.4" cy="635.2" r="6.8"/><circle cx="904.9" cy="678.0" r="6.8"/><circle cx="920.1" cy="650.8" r="6.8"/><circle cx="952.7" cy="671.0" r="6.8"/><circle cx="918.0" cy="664.3" r="6.8"/><circle cx="910.2" cy="625.7" r="6.8"/><circle cx="874.2" cy="624.7" r="6.8"/><circle cx="929.7" cy="650.1" r="6.8"/><circle cx="945.2" cy="672.1" r="6.8"/><circle cx="914.8" cy="689.7" r="6.8"/><circle cx="861.6" cy="623.3" r="6.8"/><circle cx="945.7" cy="659.2" r="6.8"/><circle cx="911.9" cy="671.8" r="6.8"/><circle cx="938.9" cy="663.9" r="6.8"/><circle cx="886.9" cy="655.8" r="6.8"/><circle cx="967.0" cy="641.0" r="6.8"/><circle cx="939.9" cy="634.7" r="6.8"/><circle cx="870.8" cy="616.5" r="6.8"/><circle cx="983.2" cy="659.1" r="6.8"/><circle cx="885.7" cy="647.9" r="6.8"/><circle cx="906.4" cy="660.8" r="6.8"/><circle cx="903.0" cy="642.5" r="6.8"/><circle cx="892.7" cy="675.6" r="6.8"/><circle cx="978.4" cy="669.6" r="6.8"/><circle cx="910.4" cy="648.1" r="6.8"/><circle cx="947.0" cy="659.5" r="6.8"/><circle cx="884.6" cy="625.8" r="6.8"/><circle cx="900.5" cy="646.4" r="6.8"/><circle cx="913.0" cy="633.6" r="6.8"/><circle cx="928.9" cy="674.4" r="6.8"/><circle cx="861.4" cy="626.6" r="6.8"/><circle cx="889.4" cy="638.7" r="6.8"/><circle cx="938.4" cy="677.8" r="6.8"/><circle cx="977.7" cy="650.9" r="6.8"/><circle cx="880.8" cy="637.4" r="6.8"/><circle cx="967.8" cy="644.2" r="6.8"/><circle cx="890.9" cy="685.7" r="6.8"/><circle cx="901.2" cy="664.3" r="6.8"/><circle cx="891.5" cy="637.5" r="6.8"/><circle cx="941.5" cy="668.7" r="6.8"/><circle cx="913.1" cy="640.1" r="6.8"/><circle cx="914.9" cy="622.6" r="6.8"/><circle cx="924.7" cy="671.2" r="6.8"/><circle cx="900.0" cy="623.9" r="6.8"/><circle cx="881.1" cy="630.3" r="6.8"/><circle cx="901.6" cy="632.5" r="6.8"/><circle cx="976.4" cy="666.4" r="6.8"/><circle cx="941.3" cy="647.7" r="6.8"/><circle cx="970.0" cy="664.9" r="6.8"/><circle cx="896.6" cy="690.5" r="6.8"/><circle cx="978.0" cy="672.6" r="6.8"/><circle cx="938.0" cy="648.5" r="6.8"/><circle cx="918.4" cy="645.8" r="6.8"/><circle cx="947.7" cy="678.6" r="6.8"/><circle cx="909.8" cy="636.9" r="6.8"/><circle cx="921.6" cy="674.4" r="6.8"/><circle cx="967.5" cy="649.9" r="6.8"/><circle cx="926.5" cy="661.6" r="6.8"/><circle cx="880.0" cy="652.6" r="6.8"/><circle cx="881.9" cy="642.9" r="6.8"/><circle cx="872.8" cy="656.7" r="6.8"/><circle cx="945.4" cy="639.4" r="6.8"/><circle cx="982.8" cy="665.0" r="6.8"/><circle cx="928.3" cy="654.2" r="6.8"/><circle cx="902.6" cy="677.8" r="6.8"/><circle cx="888.5" cy="626.0" r="6.8"/><circle cx="867.6" cy="629.3" r="6.8"/><circle cx="904.1" cy="664.2" r="6.8"/><circle cx="925.2" cy="637.0" r="6.8"/><circle cx="909.7" cy="667.6" r="6.8"/><circle cx="966.2" cy="634.7" r="6.8"/><circle cx="869.0" cy="647.6" r="6.8"/><circle cx="879.1" cy="640.6" r="6.8"/><circle cx="894.7" cy="626.8" r="6.8"/><circle cx="912.0" cy="684.3" r="6.8"/><circle cx="940.9" cy="640.2" r="6.8"/><circle cx="889.5" cy="620.8" r="6.8"/><circle cx="911.5" cy="662.6" r="6.8"/><circle cx="890.5" cy="651.7" r="6.8"/><circle cx="950.9" cy="649.1" r="6.8"/><circle cx="872.1" cy="633.5" r="6.8"/><circle cx="908.1" cy="617.8" r="6.8"/><circle cx="959.1" cy="631.4" r="6.8"/><circle cx="875.3" cy="617.9" r="6.8"/><circle cx="865.8" cy="642.5" r="6.8"/><circle cx="866.2" cy="646.9" r="6.8"/><circle cx="906.4" cy="649.8" r="6.8"/><circle cx="875.2" cy="658.3" r="6.8"/><circle cx="865.9" cy="625.5" r="6.8"/><circle cx="917.0" cy="632.9" r="6.8"/><circle cx="885.6" cy="668.5" r="6.8"/><circle cx="949.4" cy="639.7" r="6.8"/><circle cx="924.3" cy="678.5" r="6.8"/><circle cx="919.4" cy="658.7" r="6.8"/><circle cx="934.9" cy="651.8" r="6.8"/><circle cx="918.6" cy="670.0" r="6.8"/><circle cx="977.5" cy="663.5" r="6.8"/><circle cx="913.6" cy="635.7" r="6.8"/><circle cx="938.3" cy="684.3" r="6.8"/><circle cx="852.0" cy="550.3" r="6.8"/><circle cx="884.0" cy="581.6" r="6.8"/><circle cx="869.9" cy="592.4" r="6.8"/><circle cx="875.5" cy="560.6" r="6.8"/><circle cx="846.0" cy="582.6" r="6.8"/><circle cx="850.6" cy="568.6" r="6.8"/><circle cx="830.7" cy="589.6" r="6.8"/><circle cx="873.4" cy="587.0" r="6.8"/><circle cx="878.6" cy="551.2" r="6.8"/><circle cx="885.1" cy="590.3" r="6.8"/><circle cx="831.6" cy="577.3" r="6.8"/><circle cx="877.8" cy="580.6" r="6.8"/><circle cx="872.7" cy="567.9" r="6.8"/><circle cx="848.5" cy="590.0" r="6.8"/><circle cx="839.8" cy="547.0" r="6.8"/><circle cx="840.1" cy="572.1" r="6.8"/><circle cx="870.1" cy="574.1" r="6.8"/><circle cx="864.4" cy="576.4" r="6.8"/><circle cx="866.4" cy="548.1" r="6.8"/><circle cx="857.0" cy="557.9" r="6.8"/><circle cx="838.5" cy="583.4" r="6.8"/><circle cx="854.5" cy="589.7" r="6.8"/><circle cx="855.1" cy="592.1" r="6.8"/><circle cx="865.4" cy="583.9" r="6.8"/><circle cx="842.3" cy="554.0" r="6.8"/><circle cx="833.4" cy="561.0" r="6.8"/><circle cx="837.5" cy="557.2" r="6.8"/><circle cx="851.5" cy="575.5" r="6.8"/><circle cx="838.3" cy="550.7" r="6.8"/><circle cx="875.2" cy="546.2" r="6.8"/><circle cx="864.9" cy="589.0" r="6.8"/><circle cx="855.3" cy="547.0" r="6.8"/><circle cx="833.2" cy="579.6" r="6.8"/><circle cx="864.3" cy="579.7" r="6.8"/><circle cx="870.5" cy="560.5" r="6.8"/><circle cx="877.4" cy="597.7" r="6.8"/><circle cx="865.4" cy="562.8" r="6.8"/><circle cx="871.5" cy="588.3" r="6.8"/><circle cx="874.1" cy="553.8" r="6.8"/><circle cx="862.0" cy="566.3" r="6.8"/><circle cx="849.3" cy="594.3" r="6.8"/><circle cx="832.5" cy="558.5" r="6.8"/><circle cx="863.5" cy="594.5" r="6.8"/><circle cx="844.2" cy="587.6" r="6.8"/><circle cx="882.4" cy="585.6" r="6.8"/><circle cx="872.2" cy="549.5" r="6.8"/><circle cx="870.0" cy="595.4" r="6.8"/><circle cx="832.0" cy="580.7" r="6.8"/><circle cx="857.5" cy="565.9" r="6.8"/><circle cx="842.2" cy="556.3" r="6.8"/><circle cx="853.5" cy="577.2" r="6.8"/><circle cx="848.6" cy="593.6" r="6.8"/><circle cx="825.6" cy="577.0" r="6.8"/><circle cx="844.0" cy="592.5" r="6.8"/><circle cx="839.8" cy="566.9" r="6.8"/><circle cx="862.2" cy="573.2" r="6.8"/><circle cx="838.8" cy="588.0" r="6.8"/><circle cx="835.8" cy="551.2" r="6.8"/><circle cx="879.4" cy="547.0" r="6.8"/><circle cx="877.0" cy="590.5" r="6.8"/><circle cx="875.2" cy="584.6" r="6.8"/><circle cx="878.4" cy="591.7" r="6.8"/><circle cx="855.6" cy="552.8" r="6.8"/><circle cx="798.2" cy="715.6" r="6.8"/><circle cx="700.9" cy="639.6" r="6.8"/><circle cx="652.8" cy="697.1" r="6.8"/><circle cx="706.3" cy="673.9" r="6.8"/><circle cx="824.7" cy="700.5" r="6.8"/><circle cx="793.1" cy="698.9" r="6.8"/><circle cx="724.6" cy="655.1" r="6.8"/><circle cx="714.1" cy="717.4" r="6.8"/><circle cx="675.9" cy="663.7" r="6.8"/><circle cx="722.0" cy="718.6" r="6.8"/><circle cx="814.5" cy="714.6" r="6.8"/><circle cx="728.6" cy="706.8" r="6.8"/><circle cx="740.8" cy="695.5" r="6.8"/><circle cx="673.9" cy="695.0" r="6.8"/><circle cx="755.3" cy="727.3" r="6.8"/><circle cx="682.0" cy="691.2" r="6.8"/><circle cx="654.7" cy="717.1" r="6.8"/><circle cx="708.4" cy="705.8" r="6.8"/><circle cx="772.7" cy="703.9" r="6.8"/><circle cx="698.4" cy="688.5" r="6.8"/><circle cx="850.3" cy="717.9" r="6.8"/><circle cx="675.4" cy="712.2" r="6.8"/><circle cx="696.9" cy="721.3" r="6.8"/><circle cx="806.6" cy="699.7" r="6.8"/><circle cx="688.7" cy="661.3" r="6.8"/><circle cx="691.0" cy="684.5" r="6.8"/><circle cx="659.0" cy="727.7" r="6.8"/><circle cx="735.9" cy="648.0" r="6.8"/><circle cx="674.6" cy="668.1" r="6.8"/><circle cx="765.0" cy="725.7" r="6.8"/><circle cx="694.9" cy="679.7" r="6.8"/><circle cx="820.9" cy="724.2" r="6.8"/><circle cx="780.3" cy="666.4" r="6.8"/><circle cx="841.7" cy="714.6" r="6.8"/><circle cx="741.8" cy="729.4" r="6.8"/><circle cx="783.8" cy="682.1" r="6.8"/><circle cx="760.1" cy="702.6" r="6.8"/><circle cx="662.9" cy="686.8" r="6.8"/><circle cx="680.7" cy="728.3" r="6.8"/><circle cx="703.5" cy="656.2" r="6.8"/><circle cx="713.7" cy="697.9" r="6.8"/><circle cx="810.4" cy="716.1" r="6.8"/><circle cx="775.9" cy="677.8" r="6.8"/><circle cx="744.0" cy="705.9" r="6.8"/><circle cx="829.6" cy="709.3" r="6.8"/><circle cx="783.9" cy="723.1" r="6.8"/><circle cx="649.4" cy="717.3" r="6.8"/><circle cx="781.6" cy="696.9" r="6.8"/><circle cx="793.7" cy="662.3" r="6.8"/><circle cx="788.9" cy="724.2" r="6.8"/><circle cx="667.3" cy="662.7" r="6.8"/><circle cx="745.3" cy="725.1" r="6.8"/><circle cx="760.0" cy="705.2" r="6.8"/><circle cx="719.1" cy="695.3" r="6.8"/><circle cx="716.8" cy="727.7" r="6.8"/><circle cx="776.5" cy="692.9" r="6.8"/><circle cx="699.2" cy="694.4" r="6.8"/><circle cx="724.1" cy="638.4" r="6.8"/><circle cx="735.6" cy="718.9" r="6.8"/><circle cx="704.4" cy="684.2" r="6.8"/><circle cx="774.2" cy="727.7" r="6.8"/><circle cx="727.1" cy="697.6" r="6.8"/><circle cx="685.9" cy="657.7" r="6.8"/><circle cx="831.1" cy="702.8" r="6.8"/><circle cx="846.0" cy="707.2" r="6.8"/><circle cx="705.0" cy="727.7" r="6.8"/><circle cx="659.2" cy="661.7" r="6.8"/><circle cx="662.4" cy="681.6" r="6.8"/><circle cx="710.5" cy="730.1" r="6.8"/><circle cx="793.8" cy="731.5" r="6.8"/><circle cx="707.2" cy="709.8" r="6.8"/><circle cx="689.8" cy="724.9" r="6.8"/><circle cx="791.1" cy="708.9" r="6.8"/><circle cx="699.3" cy="709.7" r="6.8"/><circle cx="645.8" cy="709.2" r="6.8"/><circle cx="814.2" cy="705.8" r="6.8"/><circle cx="748.9" cy="702.1" r="6.8"/><circle cx="699.1" cy="704.9" r="6.8"/><circle cx="713.0" cy="732.9" r="6.8"/><circle cx="850.2" cy="713.3" r="6.8"/><circle cx="821.2" cy="712.2" r="6.8"/><circle cx="822.7" cy="705.8" r="6.8"/><circle cx="682.0" cy="710.3" r="6.8"/><circle cx="645.8" cy="727.4" r="6.8"/><circle cx="684.9" cy="679.0" r="6.8"/><circle cx="851.5" cy="723.7" r="6.8"/><circle cx="643.4" cy="698.3" r="6.8"/><circle cx="676.7" cy="679.2" r="6.8"/><circle cx="718.6" cy="681.4" r="6.8"/><circle cx="670.3" cy="695.8" r="6.8"/><circle cx="731.9" cy="643.0" r="6.8"/><circle cx="695.9" cy="665.8" r="6.8"/><circle cx="785.3" cy="677.2" r="6.8"/><circle cx="836.5" cy="718.3" r="6.8"/><circle cx="783.4" cy="695.0" r="6.8"/><circle cx="710.5" cy="661.9" r="6.8"/><circle cx="785.0" cy="711.8" r="6.8"/><circle cx="729.1" cy="704.1" r="6.8"/><circle cx="756.1" cy="693.7" r="6.8"/><circle cx="705.7" cy="722.3" r="6.8"/><circle cx="701.4" cy="661.6" r="6.8"/><circle cx="735.4" cy="641.6" r="6.8"/><circle cx="724.5" cy="701.6" r="6.8"/><circle cx="668.2" cy="704.2" r="6.8"/><circle cx="732.1" cy="700.7" r="6.8"/><circle cx="776.9" cy="703.3" r="6.8"/><circle cx="739.9" cy="712.3" r="6.8"/><circle cx="709.6" cy="724.5" r="6.8"/><circle cx="701.9" cy="708.7" r="6.8"/><circle cx="821.7" cy="696.3" r="6.8"/><circle cx="796.8" cy="662.8" r="6.8"/><circle cx="786.5" cy="728.2" r="6.8"/><circle cx="779.7" cy="712.9" r="6.8"/><circle cx="669.6" cy="683.0" r="6.8"/><circle cx="708.1" cy="702.0" r="6.8"/><circle cx="753.5" cy="702.8" r="6.8"/><circle cx="673.2" cy="684.3" r="6.8"/><circle cx="780.2" cy="708.1" r="6.8"/><circle cx="667.2" cy="659.7" r="6.8"/><circle cx="777.1" cy="699.9" r="6.8"/><circle cx="714.8" cy="642.3" r="6.8"/><circle cx="655.9" cy="701.2" r="6.8"/><circle cx="711.3" cy="637.0" r="6.8"/><circle cx="646.6" cy="702.4" r="6.8"/><circle cx="728.0" cy="660.6" r="6.8"/><circle cx="673.5" cy="708.5" r="6.8"/><circle cx="655.0" cy="681.8" r="6.8"/><circle cx="715.6" cy="646.5" r="6.8"/><circle cx="816.1" cy="719.4" r="6.8"/><circle cx="774.6" cy="670.0" r="6.8"/><circle cx="654.2" cy="732.5" r="6.8"/><circle cx="651.4" cy="724.0" r="6.8"/><circle cx="722.6" cy="704.6" r="6.8"/><circle cx="776.8" cy="721.7" r="6.8"/><circle cx="683.1" cy="677.3" r="6.8"/><circle cx="692.7" cy="694.7" r="6.8"/><circle cx="732.6" cy="721.0" r="6.8"/><circle cx="789.0" cy="722.3" r="6.8"/><circle cx="692.7" cy="676.2" r="6.8"/><circle cx="792.6" cy="706.9" r="6.8"/><circle cx="826.1" cy="718.7" r="6.8"/><circle cx="736.3" cy="697.7" r="6.8"/><circle cx="685.3" cy="699.0" r="6.8"/><circle cx="653.5" cy="707.8" r="6.8"/><circle cx="807.4" cy="726.9" r="6.8"/><circle cx="665.7" cy="678.8" r="6.8"/><circle cx="800.2" cy="702.6" r="6.8"/><circle cx="670.6" cy="733.3" r="6.8"/><circle cx="705.3" cy="665.4" r="6.8"/><circle cx="681.4" cy="667.6" r="6.8"/><circle cx="683.6" cy="719.8" r="6.8"/><circle cx="775.4" cy="727.4" r="6.8"/><circle cx="733.3" cy="690.0" r="6.8"/><circle cx="708.2" cy="695.9" r="6.8"/><circle cx="770.6" cy="691.5" r="6.8"/><circle cx="699.4" cy="727.8" r="6.8"/><circle cx="811.5" cy="727.4" r="6.8"/><circle cx="763.5" cy="732.8" r="6.8"/><circle cx="659.0" cy="678.3" r="6.8"/><circle cx="734.2" cy="652.6" r="6.8"/><circle cx="694.4" cy="702.6" r="6.8"/><circle cx="677.0" cy="722.4" r="6.8"/><circle cx="705.0" cy="730.9" r="6.8"/><circle cx="758.5" cy="698.1" r="6.8"/><circle cx="660.2" cy="691.4" r="6.8"/><circle cx="778.6" cy="675.4" r="6.8"/><circle cx="701.7" cy="726.0" r="6.8"/><circle cx="711.5" cy="668.9" r="6.8"/><circle cx="678.7" cy="718.8" r="6.8"/><circle cx="719.0" cy="662.4" r="6.8"/><circle cx="814.9" cy="729.2" r="6.8"/><circle cx="673.0" cy="726.0" r="6.8"/><circle cx="693.4" cy="722.7" r="6.8"/><circle cx="787.3" cy="657.0" r="6.8"/><circle cx="754.7" cy="696.3" r="6.8"/><circle cx="787.9" cy="668.3" r="6.8"/><circle cx="721.4" cy="733.8" r="6.8"/><circle cx="731.4" cy="709.2" r="6.8"/><circle cx="732.0" cy="730.2" r="6.8"/><circle cx="789.5" cy="706.2" r="6.8"/><circle cx="813.7" cy="727.2" r="6.8"/><circle cx="698.9" cy="650.0" r="6.8"/><circle cx="725.1" cy="707.2" r="6.8"/><circle cx="703.2" cy="717.0" r="6.8"/><circle cx="721.1" cy="708.1" r="6.8"/><circle cx="773.6" cy="699.3" r="6.8"/><circle cx="774.7" cy="732.0" r="6.8"/><circle cx="785.7" cy="706.0" r="6.8"/><circle cx="734.0" cy="730.1" r="6.8"/><circle cx="769.0" cy="707.6" r="6.8"/><circle cx="738.6" cy="720.6" r="6.8"/><circle cx="668.1" cy="672.7" r="6.8"/><circle cx="801.1" cy="711.4" r="6.8"/><circle cx="774.6" cy="663.5" r="6.8"/><circle cx="799.6" cy="708.1" r="6.8"/><circle cx="725.0" cy="733.4" r="6.8"/><circle cx="751.1" cy="718.2" r="6.8"/><circle cx="667.4" cy="716.1" r="6.8"/><circle cx="729.2" cy="654.7" r="6.8"/><circle cx="668.8" cy="701.9" r="6.8"/><circle cx="705.9" cy="660.4" r="6.8"/><circle cx="649.4" cy="697.3" r="6.8"/><circle cx="691.7" cy="698.7" r="6.8"/><circle cx="814.7" cy="709.2" r="6.8"/><circle cx="723.2" cy="647.0" r="6.8"/><circle cx="758.5" cy="692.4" r="6.8"/><circle cx="655.9" cy="705.6" r="6.8"/><circle cx="680.8" cy="674.1" r="6.8"/><circle cx="751.3" cy="714.5" r="6.8"/><circle cx="857.7" cy="717.0" r="6.8"/><circle cx="708.5" cy="643.4" r="6.8"/><circle cx="695.8" cy="707.9" r="6.8"/><circle cx="767.1" cy="721.5" r="6.8"/><circle cx="777.0" cy="668.8" r="6.8"/><circle cx="714.9" cy="666.5" r="6.8"/><circle cx="682.7" cy="650.3" r="6.8"/><circle cx="713.4" cy="702.5" r="6.8"/><circle cx="651.2" cy="692.8" r="6.8"/><circle cx="746.6" cy="692.0" r="6.8"/><circle cx="665.0" cy="665.5" r="6.8"/><circle cx="743.6" cy="732.6" r="6.8"/><circle cx="746.8" cy="704.0" r="6.8"/><circle cx="691.6" cy="657.6" r="6.8"/><circle cx="777.2" cy="659.3" r="6.8"/><circle cx="803.7" cy="732.4" r="6.8"/><circle cx="706.0" cy="648.9" r="6.8"/><circle cx="723.5" cy="662.0" r="6.8"/><circle cx="713.6" cy="676.1" r="6.8"/><circle cx="822.3" cy="699.0" r="6.8"/><circle cx="771.5" cy="718.1" r="6.8"/><circle cx="810.3" cy="719.8" r="6.8"/><circle cx="687.3" cy="700.6" r="6.8"/><circle cx="818.2" cy="707.4" r="6.8"/><circle cx="656.8" cy="733.4" r="6.8"/><circle cx="821.9" cy="714.3" r="6.8"/><circle cx="823.0" cy="703.6" r="6.8"/><circle cx="661.1" cy="720.4" r="6.8"/><circle cx="824.8" cy="721.8" r="6.8"/><circle cx="722.1" cy="655.1" r="6.8"/><circle cx="695.9" cy="658.4" r="6.8"/><circle cx="729.4" cy="726.8" r="6.8"/><circle cx="711.6" cy="706.1" r="6.8"/><circle cx="833.4" cy="706.5" r="6.8"/><circle cx="837.9" cy="710.9" r="6.8"/><circle cx="714.3" cy="685.2" r="6.8"/><circle cx="781.7" cy="689.0" r="6.8"/><circle cx="668.8" cy="707.9" r="6.8"/><circle cx="814.3" cy="720.2" r="6.8"/><circle cx="714.8" cy="659.5" r="6.8"/><circle cx="708.8" cy="690.4" r="6.8"/><circle cx="763.3" cy="694.6" r="6.8"/><circle cx="655.9" cy="729.0" r="6.8"/><circle cx="660.8" cy="664.8" r="6.8"/><circle cx="724.1" cy="669.0" r="6.8"/><circle cx="726.8" cy="719.3" r="6.8"/><circle cx="805.9" cy="717.1" r="6.8"/><circle cx="707.7" cy="637.8" r="6.8"/><circle cx="654.6" cy="669.1" r="6.8"/><circle cx="660.3" cy="695.8" r="6.8"/><circle cx="699.5" cy="699.2" r="6.8"/><circle cx="643.1" cy="692.2" r="6.8"/><circle cx="734.6" cy="644.6" r="6.8"/><circle cx="666.1" cy="730.2" r="6.8"/><circle cx="674.7" cy="685.5" r="6.8"/><circle cx="703.0" cy="653.2" r="6.8"/><circle cx="848.5" cy="716.9" r="6.8"/><circle cx="699.9" cy="716.5" r="6.8"/><circle cx="644.0" cy="719.5" r="6.8"/><circle cx="666.3" cy="723.0" r="6.8"/><circle cx="812.6" cy="707.4" r="6.8"/><circle cx="781.6" cy="659.6" r="6.8"/><circle cx="689.3" cy="706.5" r="6.8"/><circle cx="813.1" cy="697.8" r="6.8"/><circle cx="712.9" cy="684.9" r="6.8"/><circle cx="745.0" cy="710.9" r="6.8"/><circle cx="699.3" cy="731.7" r="6.8"/><circle cx="656.7" cy="687.7" r="6.8"/><circle cx="773.3" cy="713.3" r="6.8"/><circle cx="703.9" cy="693.2" r="6.8"/><circle cx="723.5" cy="722.7" r="6.8"/><circle cx="797.0" cy="730.8" r="6.8"/><circle cx="664.7" cy="702.3" r="6.8"/><circle cx="682.9" cy="684.6" r="6.8"/><circle cx="709.4" cy="647.7" r="6.8"/><circle cx="749.0" cy="726.7" r="6.8"/><circle cx="798.5" cy="727.3" r="6.8"/><circle cx="758.4" cy="719.8" r="6.8"/><circle cx="692.7" cy="649.5" r="6.8"/><circle cx="670.6" cy="677.5" r="6.8"/><circle cx="694.3" cy="652.8" r="6.8"/><circle cx="729.0" cy="732.7" r="6.8"/><circle cx="722.6" cy="688.5" r="6.8"/><circle cx="687.7" cy="669.7" r="6.8"/><circle cx="696.8" cy="728.7" r="6.8"/><circle cx="723.8" cy="689.2" r="6.8"/><circle cx="795.8" cy="706.8" r="6.8"/><circle cx="694.0" cy="733.6" r="6.8"/><circle cx="811.0" cy="721.3" r="6.8"/><circle cx="689.7" cy="650.8" r="6.8"/><circle cx="717.8" cy="664.0" r="6.8"/><circle cx="719.4" cy="727.3" r="6.8"/><circle cx="768.5" cy="685.0" r="6.8"/><circle cx="712.3" cy="652.9" r="6.8"/><circle cx="764.0" cy="706.5" r="6.8"/><circle cx="726.3" cy="688.0" r="6.8"/><circle cx="686.7" cy="681.8" r="6.8"/><circle cx="806.9" cy="724.9" r="6.8"/><circle cx="814.2" cy="723.6" r="6.8"/><circle cx="685.1" cy="712.1" r="6.8"/><circle cx="733.6" cy="655.4" r="6.8"/><circle cx="735.4" cy="715.1" r="6.8"/><circle cx="688.3" cy="662.1" r="6.8"/><circle cx="763.1" cy="711.0" r="6.8"/><circle cx="784.6" cy="664.2" r="6.8"/><circle cx="769.8" cy="725.2" r="6.8"/><circle cx="655.0" cy="671.8" r="6.8"/><circle cx="779.5" cy="704.6" r="6.8"/><circle cx="739.4" cy="644.3" r="6.8"/><circle cx="835.8" cy="710.1" r="6.8"/><circle cx="724.6" cy="683.1" r="6.8"/><circle cx="751.4" cy="709.0" r="6.8"/><circle cx="684.8" cy="702.3" r="6.8"/><circle cx="707.6" cy="657.0" r="6.8"/><circle cx="663.1" cy="680.4" r="6.8"/><circle cx="682.2" cy="665.8" r="6.8"/><circle cx="645.7" cy="706.3" r="6.8"/><circle cx="666.5" cy="688.9" r="6.8"/><circle cx="686.5" cy="649.6" r="6.8"/><circle cx="643.8" cy="716.1" r="6.8"/><circle cx="710.7" cy="643.6" r="6.8"/><circle cx="667.5" cy="720.1" r="6.8"/><circle cx="752.2" cy="708.7" r="6.8"/><circle cx="684.8" cy="684.8" r="6.8"/><circle cx="662.3" cy="724.0" r="6.8"/><circle cx="646.2" cy="735.4" r="6.8"/><circle cx="693.2" cy="725.0" r="6.8"/><circle cx="702.7" cy="734.7" r="6.8"/><circle cx="467.6" cy="741.1" r="6.8"/><circle cx="523.2" cy="758.9" r="6.8"/><circle cx="488.1" cy="736.5" r="6.8"/><circle cx="505.5" cy="783.5" r="6.8"/><circle cx="519.3" cy="768.9" r="6.8"/><circle cx="394.3" cy="755.8" r="6.8"/><circle cx="452.4" cy="753.6" r="6.8"/><circle cx="355.1" cy="754.2" r="6.8"/><circle cx="529.5" cy="784.7" r="6.8"/><circle cx="441.2" cy="742.4" r="6.8"/><circle cx="438.5" cy="748.1" r="6.8"/><circle cx="509.3" cy="743.4" r="6.8"/><circle cx="381.7" cy="732.0" r="6.8"/><circle cx="352.0" cy="737.6" r="6.8"/><circle cx="429.0" cy="754.3" r="6.8"/><circle cx="471.8" cy="727.6" r="6.8"/><circle cx="392.8" cy="761.7" r="6.8"/><circle cx="542.6" cy="771.6" r="6.8"/><circle cx="456.7" cy="731.8" r="6.8"/><circle cx="373.6" cy="763.7" r="6.8"/><circle cx="422.0" cy="734.5" r="6.8"/><circle cx="374.6" cy="755.4" r="6.8"/><circle cx="472.0" cy="766.9" r="6.8"/><circle cx="497.3" cy="738.7" r="6.8"/><circle cx="449.5" cy="732.9" r="6.8"/><circle cx="344.6" cy="761.4" r="6.8"/><circle cx="366.9" cy="733.0" r="6.8"/><circle cx="418.6" cy="751.9" r="6.8"/><circle cx="370.3" cy="760.2" r="6.8"/><circle cx="492.6" cy="754.5" r="6.8"/><circle cx="481.7" cy="749.6" r="6.8"/><circle cx="355.1" cy="761.7" r="6.8"/><circle cx="403.9" cy="729.0" r="6.8"/><circle cx="365.8" cy="729.5" r="6.8"/><circle cx="537.4" cy="775.5" r="6.8"/><circle cx="433.7" cy="732.7" r="6.8"/><circle cx="464.5" cy="752.4" r="6.8"/><circle cx="377.6" cy="752.9" r="6.8"/><circle cx="422.7" cy="744.1" r="6.8"/><circle cx="425.8" cy="730.8" r="6.8"/><circle cx="519.4" cy="781.0" r="6.8"/><circle cx="393.6" cy="727.0" r="6.8"/><circle cx="398.9" cy="738.5" r="6.8"/><circle cx="481.4" cy="745.3" r="6.8"/><circle cx="534.6" cy="785.8" r="6.8"/><circle cx="393.4" cy="749.5" r="6.8"/><circle cx="509.2" cy="754.1" r="6.8"/><circle cx="437.4" cy="736.9" r="6.8"/><circle cx="370.7" cy="735.8" r="6.8"/><circle cx="410.0" cy="742.1" r="6.8"/><circle cx="467.8" cy="735.1" r="6.8"/><circle cx="426.2" cy="737.9" r="6.8"/><circle cx="391.9" cy="744.2" r="6.8"/><circle cx="418.0" cy="746.5" r="6.8"/><circle cx="462.1" cy="729.8" r="6.8"/><circle cx="344.6" cy="747.9" r="6.8"/><circle cx="359.9" cy="747.0" r="6.8"/><circle cx="364.3" cy="754.3" r="6.8"/><circle cx="443.2" cy="724.3" r="6.8"/><circle cx="514.6" cy="767.1" r="6.8"/><circle cx="540.7" cy="788.0" r="6.8"/><circle cx="511.3" cy="759.1" r="6.8"/><circle cx="463.3" cy="765.6" r="6.8"/><circle cx="454.9" cy="742.1" r="6.8"/><circle cx="368.3" cy="741.0" r="6.8"/><circle cx="380.6" cy="748.2" r="6.8"/><circle cx="511.4" cy="767.4" r="6.8"/><circle cx="360.9" cy="759.1" r="6.8"/><circle cx="542.7" cy="778.5" r="6.8"/><circle cx="358.4" cy="738.9" r="6.8"/><circle cx="438.5" cy="740.2" r="6.8"/><circle cx="455.1" cy="736.1" r="6.8"/><circle cx="474.8" cy="755.2" r="6.8"/><circle cx="461.3" cy="767.6" r="6.8"/><circle cx="371.6" cy="753.4" r="6.8"/><circle cx="462.0" cy="738.3" r="6.8"/><circle cx="536.5" cy="782.0" r="6.8"/><circle cx="361.6" cy="749.4" r="6.8"/><circle cx="408.0" cy="738.6" r="6.8"/><circle cx="505.7" cy="776.4" r="6.8"/><circle cx="403.1" cy="735.7" r="6.8"/><circle cx="399.2" cy="751.4" r="6.8"/><circle cx="423.9" cy="747.3" r="6.8"/><circle cx="517.4" cy="755.9" r="6.8"/><circle cx="350.4" cy="748.3" r="6.8"/><circle cx="349.8" cy="761.0" r="6.8"/><circle cx="514.8" cy="774.0" r="6.8"/><circle cx="523.3" cy="788.3" r="6.8"/><circle cx="523.6" cy="765.7" r="6.8"/><circle cx="373.8" cy="737.0" r="6.8"/><circle cx="450.1" cy="747.5" r="6.8"/><circle cx="497.8" cy="731.7" r="6.8"/><circle cx="461.8" cy="754.2" r="6.8"/><circle cx="345.4" cy="762.8" r="6.8"/><circle cx="406.2" cy="764.7" r="6.8"/><circle cx="459.3" cy="749.9" r="6.8"/><circle cx="454.8" cy="764.9" r="6.8"/><circle cx="395.8" cy="726.5" r="6.8"/><circle cx="388.9" cy="725.9" r="6.8"/><circle cx="354.1" cy="748.8" r="6.8"/><circle cx="444.4" cy="751.4" r="6.8"/><circle cx="493.5" cy="743.9" r="6.8"/><circle cx="400.6" cy="746.1" r="6.8"/><circle cx="528.0" cy="771.9" r="6.8"/><circle cx="459.0" cy="741.1" r="6.8"/><circle cx="549.0" cy="773.9" r="6.8"/><circle cx="462.1" cy="757.4" r="6.8"/><circle cx="414.9" cy="748.8" r="6.8"/><circle cx="488.3" cy="733.0" r="6.8"/><circle cx="534.3" cy="765.9" r="6.8"/><circle cx="523.6" cy="776.6" r="6.8"/><circle cx="353.4" cy="823.9" r="6.8"/><circle cx="424.9" cy="821.7" r="6.8"/><circle cx="333.7" cy="818.1" r="6.8"/><circle cx="355.5" cy="786.1" r="6.8"/><circle cx="365.7" cy="835.6" r="6.8"/><circle cx="413.7" cy="827.2" r="6.8"/><circle cx="397.1" cy="803.3" r="6.8"/><circle cx="375.4" cy="813.5" r="6.8"/><circle cx="330.9" cy="803.2" r="6.8"/><circle cx="410.4" cy="855.7" r="6.8"/><circle cx="427.7" cy="787.2" r="6.8"/><circle cx="384.4" cy="840.5" r="6.8"/><circle cx="362.7" cy="827.8" r="6.8"/><circle cx="332.1" cy="806.8" r="6.8"/><circle cx="403.0" cy="803.8" r="6.8"/><circle cx="377.2" cy="830.9" r="6.8"/><circle cx="369.6" cy="791.5" r="6.8"/><circle cx="382.9" cy="805.9" r="6.8"/><circle cx="408.7" cy="838.0" r="6.8"/><circle cx="340.1" cy="831.2" r="6.8"/><circle cx="440.5" cy="812.7" r="6.8"/><circle cx="370.9" cy="785.7" r="6.8"/><circle cx="387.5" cy="827.2" r="6.8"/><circle cx="391.8" cy="810.1" r="6.8"/><circle cx="374.4" cy="800.9" r="6.8"/><circle cx="404.0" cy="843.4" r="6.8"/><circle cx="372.0" cy="820.4" r="6.8"/><circle cx="433.1" cy="792.2" r="6.8"/><circle cx="356.1" cy="810.2" r="6.8"/><circle cx="405.5" cy="816.3" r="6.8"/><circle cx="407.8" cy="854.8" r="6.8"/><circle cx="423.7" cy="775.3" r="6.8"/><circle cx="412.9" cy="790.7" r="6.8"/><circle cx="408.0" cy="773.7" r="6.8"/><circle cx="369.2" cy="801.7" r="6.8"/><circle cx="415.0" cy="781.1" r="6.8"/><circle cx="415.8" cy="843.2" r="6.8"/><circle cx="344.8" cy="815.6" r="6.8"/><circle cx="414.0" cy="774.7" r="6.8"/><circle cx="436.5" cy="818.3" r="6.8"/><circle cx="395.3" cy="846.4" r="6.8"/><circle cx="339.0" cy="811.7" r="6.8"/><circle cx="343.1" cy="801.4" r="6.8"/><circle cx="419.2" cy="799.1" r="6.8"/><circle cx="347.8" cy="833.1" r="6.8"/><circle cx="396.1" cy="792.3" r="6.8"/><circle cx="329.7" cy="802.8" r="6.8"/><circle cx="376.7" cy="836.7" r="6.8"/><circle cx="336.3" cy="790.0" r="6.8"/><circle cx="350.4" cy="805.7" r="6.8"/><circle cx="406.5" cy="799.6" r="6.8"/><circle cx="357.1" cy="803.9" r="6.8"/><circle cx="342.9" cy="810.8" r="6.8"/><circle cx="414.1" cy="855.1" r="6.8"/><circle cx="361.8" cy="792.3" r="6.8"/><circle cx="400.5" cy="816.4" r="6.8"/><circle cx="388.2" cy="799.6" r="6.8"/><circle cx="345.8" cy="789.1" r="6.8"/><circle cx="381.3" cy="788.7" r="6.8"/><circle cx="414.4" cy="795.9" r="6.8"/><circle cx="363.8" cy="796.5" r="6.8"/><circle cx="402.8" cy="835.7" r="6.8"/><circle cx="423.3" cy="785.5" r="6.8"/><circle cx="402.0" cy="794.7" r="6.8"/><circle cx="397.5" cy="807.7" r="6.8"/><circle cx="403.4" cy="787.7" r="6.8"/><circle cx="366.6" cy="816.3" r="6.8"/><circle cx="437.0" cy="809.1" r="6.8"/><circle cx="435.2" cy="781.2" r="6.8"/><circle cx="434.3" cy="801.4" r="6.8"/><circle cx="363.8" cy="782.4" r="6.8"/><circle cx="408.9" cy="781.4" r="6.8"/><circle cx="426.1" cy="813.0" r="6.8"/><circle cx="391.2" cy="792.7" r="6.8"/><circle cx="384.7" cy="814.8" r="6.8"/><circle cx="401.2" cy="854.8" r="6.8"/><circle cx="444.9" cy="806.9" r="6.8"/><circle cx="409.2" cy="777.6" r="6.8"/><circle cx="393.7" cy="816.3" r="6.8"/><circle cx="405.5" cy="847.3" r="6.8"/><circle cx="355.6" cy="833.9" r="6.8"/><circle cx="394.5" cy="827.5" r="6.8"/><circle cx="404.1" cy="816.0" r="6.8"/><circle cx="370.0" cy="812.6" r="6.8"/><circle cx="327.4" cy="815.4" r="6.8"/><circle cx="345.0" cy="803.6" r="6.8"/><circle cx="362.7" cy="808.3" r="6.8"/><circle cx="400.0" cy="828.6" r="6.8"/><circle cx="411.9" cy="815.9" r="6.8"/><circle cx="439.7" cy="797.8" r="6.8"/><circle cx="421.5" cy="798.0" r="6.8"/><circle cx="349.6" cy="828.9" r="6.8"/><circle cx="367.0" cy="787.9" r="6.8"/><circle cx="416.6" cy="802.8" r="6.8"/><circle cx="341.2" cy="827.0" r="6.8"/><circle cx="396.3" cy="851.8" r="6.8"/><circle cx="412.1" cy="835.3" r="6.8"/><circle cx="401.0" cy="808.2" r="6.8"/><circle cx="410.8" cy="799.7" r="6.8"/><circle cx="342.2" cy="795.8" r="6.8"/><circle cx="373.0" cy="782.7" r="6.8"/><circle cx="426.5" cy="818.8" r="6.8"/><circle cx="398.9" cy="839.2" r="6.8"/><circle cx="437.7" cy="793.6" r="6.8"/><circle cx="349.1" cy="815.5" r="6.8"/><circle cx="348.2" cy="790.9" r="6.8"/><circle cx="331.8" cy="812.8" r="6.8"/><circle cx="439.2" cy="784.0" r="6.8"/><circle cx="327.8" cy="813.7" r="6.8"/><circle cx="395.0" cy="784.8" r="6.8"/><circle cx="412.9" cy="836.7" r="6.8"/><circle cx="344.9" cy="835.2" r="6.8"/><circle cx="431.5" cy="798.5" r="6.8"/><circle cx="365.0" cy="798.9" r="6.8"/><circle cx="416.2" cy="848.1" r="6.8"/><circle cx="335.6" cy="818.7" r="6.8"/><circle cx="398.4" cy="781.5" r="6.8"/><circle cx="365.6" cy="784.3" r="6.8"/><circle cx="407.0" cy="803.5" r="6.8"/><circle cx="358.9" cy="787.6" r="6.8"/><circle cx="421.0" cy="781.3" r="6.8"/><circle cx="346.1" cy="796.3" r="6.8"/><circle cx="342.7" cy="816.2" r="6.8"/><circle cx="350.4" cy="791.0" r="6.8"/><circle cx="353.8" cy="803.9" r="6.8"/><circle cx="348.4" cy="837.2" r="6.8"/><circle cx="411.8" cy="851.0" r="6.8"/><circle cx="379.1" cy="815.1" r="6.8"/><circle cx="411.5" cy="795.2" r="6.8"/><circle cx="343.5" cy="798.2" r="6.8"/><circle cx="353.3" cy="810.1" r="6.8"/><circle cx="356.1" cy="818.9" r="6.8"/><circle cx="394.8" cy="833.9" r="6.8"/><circle cx="420.0" cy="832.7" r="6.8"/><circle cx="377.0" cy="799.0" r="6.8"/><circle cx="418.3" cy="785.4" r="6.8"/><circle cx="339.8" cy="815.7" r="6.8"/><circle cx="336.7" cy="799.5" r="6.8"/><circle cx="397.5" cy="817.8" r="6.8"/><circle cx="406.0" cy="782.7" r="6.8"/><circle cx="385.3" cy="786.7" r="6.8"/><circle cx="416.4" cy="810.7" r="6.8"/><circle cx="343.8" cy="821.5" r="6.8"/><circle cx="381.4" cy="779.4" r="6.8"/><circle cx="419.5" cy="830.2" r="6.8"/><circle cx="418.7" cy="844.7" r="6.8"/><circle cx="432.8" cy="803.3" r="6.8"/><circle cx="337.8" cy="828.3" r="6.8"/><circle cx="377.9" cy="794.7" r="6.8"/><circle cx="424.7" cy="776.4" r="6.8"/><circle cx="422.0" cy="821.0" r="6.8"/><circle cx="399.5" cy="787.0" r="6.8"/><circle cx="404.6" cy="822.8" r="6.8"/><circle cx="404.6" cy="821.2" r="6.8"/><circle cx="361.6" cy="822.4" r="6.8"/><circle cx="396.9" cy="786.6" r="6.8"/><circle cx="432.7" cy="806.2" r="6.8"/><circle cx="350.9" cy="834.2" r="6.8"/><circle cx="442.5" cy="787.5" r="6.8"/><circle cx="334.0" cy="829.1" r="6.8"/><circle cx="358.3" cy="821.1" r="6.8"/><circle cx="367.6" cy="829.9" r="6.8"/><circle cx="408.5" cy="823.0" r="6.8"/><circle cx="340.9" cy="833.9" r="6.8"/><circle cx="429.7" cy="815.5" r="6.8"/><circle cx="392.7" cy="830.3" r="6.8"/><circle cx="357.8" cy="837.9" r="6.8"/><circle cx="333.3" cy="820.5" r="6.8"/><circle cx="379.5" cy="826.6" r="6.8"/><circle cx="376.2" cy="825.2" r="6.8"/><circle cx="350.0" cy="802.1" r="6.8"/><circle cx="331.5" cy="799.2" r="6.8"/><circle cx="392.4" cy="812.4" r="6.8"/><circle cx="342.0" cy="813.5" r="6.8"/><circle cx="390.6" cy="785.7" r="6.8"/><circle cx="369.5" cy="782.2" r="6.8"/><circle cx="390.4" cy="815.8" r="6.8"/><circle cx="357.3" cy="829.7" r="6.8"/><circle cx="344.2" cy="832.4" r="6.8"/><circle cx="407.2" cy="808.1" r="6.8"/><circle cx="424.6" cy="799.5" r="6.8"/><circle cx="411.2" cy="822.1" r="6.8"/><circle cx="400.2" cy="838.7" r="6.8"/><circle cx="404.8" cy="809.3" r="6.8"/><circle cx="394.1" cy="818.6" r="6.8"/><circle cx="389.0" cy="836.4" r="6.8"/><circle cx="398.5" cy="809.2" r="6.8"/><circle cx="382.8" cy="796.9" r="6.8"/><circle cx="387.1" cy="809.2" r="6.8"/><circle cx="361.2" cy="799.1" r="6.8"/><circle cx="411.6" cy="829.3" r="6.8"/><circle cx="393.0" cy="810.6" r="6.8"/><circle cx="337.1" cy="808.7" r="6.8"/><circle cx="374.7" cy="787.9" r="6.8"/><circle cx="417.2" cy="812.5" r="6.8"/><circle cx="375.4" cy="818.5" r="6.8"/><circle cx="418.6" cy="796.1" r="6.8"/><circle cx="356.7" cy="800.9" r="6.8"/><circle cx="380.0" cy="811.9" r="6.8"/><circle cx="425.4" cy="794.2" r="6.8"/><circle cx="384.9" cy="802.5" r="6.8"/><circle cx="398.9" cy="842.4" r="6.8"/><circle cx="345.8" cy="799.8" r="6.8"/><circle cx="393.7" cy="823.0" r="6.8"/><circle cx="433.2" cy="779.5" r="6.8"/><circle cx="367.3" cy="825.0" r="6.8"/><circle cx="351.1" cy="823.3" r="6.8"/><circle cx="362.0" cy="815.4" r="6.8"/><circle cx="415.5" cy="806.2" r="6.8"/><circle cx="381.0" cy="814.0" r="6.8"/><circle cx="599.2" cy="687.7" r="6.8"/><circle cx="602.7" cy="734.7" r="6.8"/><circle cx="625.8" cy="696.3" r="6.8"/><circle cx="612.8" cy="683.7" r="6.8"/><circle cx="588.8" cy="716.4" r="6.8"/><circle cx="632.1" cy="710.0" r="6.8"/><circle cx="620.3" cy="698.5" r="6.8"/><circle cx="596.3" cy="730.8" r="6.8"/><circle cx="596.4" cy="705.4" r="6.8"/><circle cx="621.8" cy="680.9" r="6.8"/><circle cx="635.5" cy="716.4" r="6.8"/><circle cx="619.7" cy="722.4" r="6.8"/><circle cx="615.3" cy="736.8" r="6.8"/><circle cx="596.2" cy="711.4" r="6.8"/><circle cx="608.1" cy="694.7" r="6.8"/><circle cx="627.0" cy="733.9" r="6.8"/><circle cx="634.8" cy="688.6" r="6.8"/><circle cx="591.3" cy="721.9" r="6.8"/><circle cx="615.1" cy="710.6" r="6.8"/><circle cx="599.2" cy="701.0" r="6.8"/><circle cx="618.5" cy="729.6" r="6.8"/><circle cx="631.4" cy="727.8" r="6.8"/><circle cx="603.0" cy="698.4" r="6.8"/><circle cx="609.1" cy="711.3" r="6.8"/><circle cx="587.8" cy="711.2" r="6.8"/><circle cx="623.8" cy="693.2" r="6.8"/><circle cx="604.4" cy="728.7" r="6.8"/><circle cx="623.4" cy="702.6" r="6.8"/><circle cx="623.8" cy="713.7" r="6.8"/><circle cx="635.0" cy="732.3" r="6.8"/><circle cx="614.6" cy="698.9" r="6.8"/><circle cx="601.8" cy="718.3" r="6.8"/><circle cx="605.6" cy="686.6" r="6.8"/><circle cx="631.8" cy="737.4" r="6.8"/><circle cx="632.6" cy="703.0" r="6.8"/><circle cx="629.4" cy="720.9" r="6.8"/><circle cx="601.7" cy="693.7" r="6.8"/><circle cx="592.7" cy="724.8" r="6.8"/><circle cx="590.9" cy="708.1" r="6.8"/><circle cx="627.4" cy="717.3" r="6.8"/><circle cx="607.9" cy="736.1" r="6.8"/><circle cx="611.0" cy="724.5" r="6.8"/><circle cx="602.5" cy="695.3" r="6.8"/><circle cx="614.5" cy="696.2" r="6.8"/><circle cx="600.7" cy="705.1" r="6.8"/><circle cx="615.0" cy="690.5" r="6.8"/><circle cx="627.9" cy="723.1" r="6.8"/><circle cx="634.2" cy="713.3" r="6.8"/><circle cx="624.0" cy="724.2" r="6.8"/><circle cx="630.2" cy="726.6" r="6.8"/><circle cx="621.0" cy="712.5" r="6.8"/><circle cx="628.9" cy="685.9" r="6.8"/><circle cx="599.4" cy="727.1" r="6.8"/><circle cx="626.5" cy="710.4" r="6.8"/><circle cx="636.5" cy="722.3" r="6.8"/><circle cx="594.0" cy="715.6" r="6.8"/><circle cx="605.9" cy="695.7" r="6.8"/><circle cx="596.4" cy="719.0" r="6.8"/><circle cx="607.8" cy="713.7" r="6.8"/><circle cx="621.3" cy="713.7" r="6.8"/><circle cx="613.1" cy="688.6" r="6.8"/><circle cx="603.9" cy="701.9" r="6.8"/><circle cx="522.3" cy="838.4" r="6.8"/><circle cx="540.7" cy="868.8" r="6.8"/><circle cx="532.7" cy="864.4" r="6.8"/><circle cx="542.5" cy="896.6" r="6.8"/><circle cx="474.2" cy="414.1" r="6.8"/><circle cx="451.7" cy="419.1" r="6.8"/><circle cx="424.4" cy="392.0" r="6.8"/><circle cx="461.9" cy="392.2" r="6.8"/><circle cx="479.0" cy="397.8" r="6.8"/><circle cx="434.4" cy="405.2" r="6.8"/><circle cx="453.8" cy="430.4" r="6.8"/><circle cx="474.6" cy="383.4" r="6.8"/><circle cx="443.6" cy="389.6" r="6.8"/><circle cx="480.2" cy="414.0" r="6.8"/><circle cx="422.6" cy="388.3" r="6.8"/><circle cx="439.8" cy="421.7" r="6.8"/><circle cx="436.0" cy="385.0" r="6.8"/><circle cx="437.9" cy="412.5" r="6.8"/><circle cx="436.7" cy="396.2" r="6.8"/><circle cx="427.0" cy="394.5" r="6.8"/><circle cx="463.8" cy="412.7" r="6.8"/><circle cx="484.6" cy="407.2" r="6.8"/><circle cx="425.1" cy="400.8" r="6.8"/><circle cx="487.4" cy="414.0" r="6.8"/><circle cx="461.7" cy="411.2" r="6.8"/><circle cx="439.7" cy="412.9" r="6.8"/><circle cx="474.8" cy="407.8" r="6.8"/><circle cx="442.0" cy="422.9" r="6.8"/><circle cx="476.9" cy="395.2" r="6.8"/><circle cx="457.9" cy="426.6" r="6.8"/><circle cx="424.6" cy="411.0" r="6.8"/><circle cx="456.6" cy="403.4" r="6.8"/><circle cx="433.5" cy="412.9" r="6.8"/><circle cx="424.5" cy="405.5" r="6.8"/><circle cx="448.9" cy="392.8" r="6.8"/><circle cx="427.6" cy="386.4" r="6.8"/><circle cx="438.8" cy="403.8" r="6.8"/><circle cx="440.8" cy="416.8" r="6.8"/><circle cx="461.3" cy="434.4" r="6.8"/><circle cx="488.9" cy="409.8" r="6.8"/><circle cx="478.7" cy="400.5" r="6.8"/><circle cx="421.5" cy="396.5" r="6.8"/><circle cx="446.8" cy="423.8" r="6.8"/><circle cx="449.5" cy="411.1" r="6.8"/><circle cx="450.7" cy="400.3" r="6.8"/><circle cx="448.9" cy="404.7" r="6.8"/><circle cx="451.6" cy="424.0" r="6.8"/><circle cx="462.3" cy="386.9" r="6.8"/><circle cx="432.6" cy="416.2" r="6.8"/><circle cx="365.3" cy="508.6" r="6.8"/><circle cx="280.1" cy="401.6" r="6.8"/><circle cx="283.3" cy="468.1" r="6.8"/><circle cx="313.8" cy="404.7" r="6.8"/><circle cx="378.0" cy="470.4" r="6.8"/><circle cx="348.3" cy="422.1" r="6.8"/><circle cx="295.7" cy="452.2" r="6.8"/><circle cx="411.2" cy="417.2" r="6.8"/><circle cx="345.8" cy="491.1" r="6.8"/><circle cx="296.4" cy="474.9" r="6.8"/><circle cx="363.2" cy="447.7" r="6.8"/><circle cx="421.1" cy="435.7" r="6.8"/><circle cx="293.5" cy="476.5" r="6.8"/><circle cx="307.0" cy="450.5" r="6.8"/><circle cx="372.8" cy="517.3" r="6.8"/><circle cx="293.0" cy="403.1" r="6.8"/><circle cx="394.4" cy="439.2" r="6.8"/><circle cx="377.1" cy="440.2" r="6.8"/><circle cx="370.1" cy="546.7" r="6.8"/><circle cx="378.0" cy="417.7" r="6.8"/><circle cx="400.7" cy="406.4" r="6.8"/><circle cx="318.8" cy="449.2" r="6.8"/><circle cx="300.6" cy="409.4" r="6.8"/><circle cx="306.7" cy="384.2" r="6.8"/><circle cx="302.9" cy="442.6" r="6.8"/><circle cx="348.5" cy="503.9" r="6.8"/><circle cx="405.7" cy="426.6" r="6.8"/><circle cx="371.1" cy="494.7" r="6.8"/><circle cx="377.2" cy="451.4" r="6.8"/><circle cx="342.1" cy="497.8" r="6.8"/><circle cx="383.3" cy="416.2" r="6.8"/><circle cx="366.0" cy="528.5" r="6.8"/><circle cx="307.5" cy="416.3" r="6.8"/><circle cx="398.4" cy="428.5" r="6.8"/><circle cx="346.9" cy="478.9" r="6.8"/><circle cx="401.5" cy="388.6" r="6.8"/><circle cx="321.8" cy="401.4" r="6.8"/><circle cx="404.6" cy="488.1" r="6.8"/><circle cx="389.6" cy="536.4" r="6.8"/><circle cx="309.5" cy="426.6" r="6.8"/><circle cx="385.7" cy="511.0" r="6.8"/><circle cx="344.5" cy="431.3" r="6.8"/><circle cx="347.2" cy="466.4" r="6.8"/><circle cx="356.8" cy="464.5" r="6.8"/><circle cx="329.1" cy="447.9" r="6.8"/><circle cx="329.1" cy="499.9" r="6.8"/><circle cx="343.2" cy="403.3" r="6.8"/><circle cx="383.1" cy="399.6" r="6.8"/><circle cx="392.1" cy="468.0" r="6.8"/><circle cx="322.0" cy="414.6" r="6.8"/><circle cx="398.5" cy="459.7" r="6.8"/><circle cx="336.5" cy="508.2" r="6.8"/><circle cx="387.7" cy="546.6" r="6.8"/><circle cx="340.7" cy="444.7" r="6.8"/><circle cx="328.4" cy="438.8" r="6.8"/><circle cx="350.1" cy="457.4" r="6.8"/><circle cx="284.0" cy="388.5" r="6.8"/><circle cx="366.7" cy="543.3" r="6.8"/><circle cx="301.1" cy="423.6" r="6.8"/><circle cx="352.7" cy="518.8" r="6.8"/><circle cx="301.2" cy="476.0" r="6.8"/><circle cx="315.0" cy="393.9" r="6.8"/><circle cx="332.7" cy="495.1" r="6.8"/><circle cx="358.9" cy="451.4" r="6.8"/><circle cx="380.6" cy="427.5" r="6.8"/><circle cx="383.6" cy="517.0" r="6.8"/><circle cx="401.4" cy="386.9" r="6.8"/><circle cx="400.0" cy="399.7" r="6.8"/><circle cx="398.4" cy="449.3" r="6.8"/><circle cx="422.4" cy="446.3" r="6.8"/><circle cx="369.5" cy="412.3" r="6.8"/><circle cx="293.3" cy="479.8" r="6.8"/><circle cx="337.7" cy="499.9" r="6.8"/><circle cx="398.2" cy="548.7" r="6.8"/><circle cx="375.1" cy="411.4" r="6.8"/><circle cx="388.1" cy="411.4" r="6.8"/><circle cx="380.2" cy="384.0" r="6.8"/><circle cx="401.0" cy="454.7" r="6.8"/><circle cx="393.8" cy="398.1" r="6.8"/><circle cx="378.3" cy="512.4" r="6.8"/><circle cx="320.0" cy="388.9" r="6.8"/><circle cx="381.5" cy="505.3" r="6.8"/><circle cx="288.7" cy="389.0" r="6.8"/><circle cx="384.3" cy="407.0" r="6.8"/><circle cx="355.4" cy="538.3" r="6.8"/><circle cx="373.4" cy="386.1" r="6.8"/><circle cx="306.0" cy="394.1" r="6.8"/><circle cx="391.3" cy="436.6" r="6.8"/><circle cx="312.0" cy="491.3" r="6.8"/><circle cx="322.5" cy="456.2" r="6.8"/><circle cx="364.6" cy="439.5" r="6.8"/><circle cx="389.1" cy="432.2" r="6.8"/><circle cx="376.1" cy="498.0" r="6.8"/><circle cx="377.1" cy="421.4" r="6.8"/><circle cx="402.1" cy="437.5" r="6.8"/><circle cx="414.6" cy="430.4" r="6.8"/><circle cx="343.3" cy="418.8" r="6.8"/><circle cx="359.2" cy="398.0" r="6.8"/><circle cx="302.2" cy="498.8" r="6.8"/><circle cx="361.9" cy="469.8" r="6.8"/><circle cx="401.6" cy="457.8" r="6.8"/><circle cx="418.6" cy="543.1" r="6.8"/><circle cx="379.0" cy="410.0" r="6.8"/><circle cx="371.4" cy="464.0" r="6.8"/><circle cx="353.0" cy="537.8" r="6.8"/><circle cx="349.2" cy="443.4" r="6.8"/><circle cx="410.1" cy="405.2" r="6.8"/><circle cx="314.0" cy="412.4" r="6.8"/><circle cx="325.7" cy="444.4" r="6.8"/><circle cx="302.3" cy="461.7" r="6.8"/><circle cx="395.2" cy="443.9" r="6.8"/><circle cx="324.3" cy="495.0" r="6.8"/><circle cx="367.5" cy="446.3" r="6.8"/><circle cx="312.5" cy="474.7" r="6.8"/><circle cx="345.1" cy="409.9" r="6.8"/><circle cx="336.5" cy="429.0" r="6.8"/><circle cx="340.4" cy="385.4" r="6.8"/><circle cx="299.6" cy="484.3" r="6.8"/><circle cx="394.7" cy="387.0" r="6.8"/><circle cx="425.7" cy="552.1" r="6.8"/><circle cx="411.0" cy="386.2" r="6.8"/><circle cx="336.4" cy="400.6" r="6.8"/><circle cx="360.9" cy="458.9" r="6.8"/><circle cx="344.6" cy="386.9" r="6.8"/><circle cx="294.2" cy="407.7" r="6.8"/><circle cx="364.2" cy="413.5" r="6.8"/><circle cx="337.5" cy="512.9" r="6.8"/><circle cx="399.4" cy="482.7" r="6.8"/><circle cx="353.1" cy="481.7" r="6.8"/><circle cx="325.4" cy="402.6" r="6.8"/><circle cx="306.1" cy="475.1" r="6.8"/><circle cx="412.1" cy="448.8" r="6.8"/><circle cx="395.8" cy="478.0" r="6.8"/><circle cx="390.1" cy="423.4" r="6.8"/><circle cx="388.5" cy="427.1" r="6.8"/><circle cx="365.5" cy="424.7" r="6.8"/><circle cx="349.5" cy="411.4" r="6.8"/><circle cx="295.0" cy="456.2" r="6.8"/><circle cx="392.7" cy="452.2" r="6.8"/><circle cx="319.8" cy="429.5" r="6.8"/><circle cx="406.9" cy="394.6" r="6.8"/><circle cx="341.2" cy="442.1" r="6.8"/><circle cx="408.3" cy="420.6" r="6.8"/><circle cx="365.6" cy="391.1" r="6.8"/><circle cx="346.1" cy="398.9" r="6.8"/><circle cx="316.6" cy="462.8" r="6.8"/><circle cx="351.6" cy="528.9" r="6.8"/><circle cx="350.2" cy="526.1" r="6.8"/><circle cx="378.0" cy="431.1" r="6.8"/><circle cx="350.9" cy="404.3" r="6.8"/><circle cx="330.7" cy="388.2" r="6.8"/><circle cx="297.1" cy="399.8" r="6.8"/><circle cx="304.0" cy="437.8" r="6.8"/><circle cx="345.5" cy="435.8" r="6.8"/><circle cx="334.2" cy="410.8" r="6.8"/><circle cx="390.6" cy="481.0" r="6.8"/><circle cx="321.6" cy="448.8" r="6.8"/><circle cx="298.6" cy="392.2" r="6.8"/><circle cx="316.4" cy="387.3" r="6.8"/><circle cx="344.6" cy="406.1" r="6.8"/><circle cx="300.9" cy="404.6" r="6.8"/><circle cx="357.4" cy="393.1" r="6.8"/><circle cx="379.1" cy="551.6" r="6.8"/><circle cx="409.1" cy="459.8" r="6.8"/><circle cx="338.3" cy="457.2" r="6.8"/><circle cx="421.2" cy="452.4" r="6.8"/><circle cx="342.7" cy="556.6" r="6.8"/><circle cx="322.7" cy="566.6" r="6.8"/><circle cx="366.2" cy="584.3" r="6.8"/><circle cx="317.4" cy="555.3" r="6.8"/><circle cx="366.5" cy="565.7" r="6.8"/><circle cx="316.4" cy="549.9" r="6.8"/><circle cx="358.6" cy="567.3" r="6.8"/><circle cx="330.4" cy="567.7" r="6.8"/><circle cx="332.4" cy="579.8" r="6.8"/><circle cx="338.6" cy="571.5" r="6.8"/><circle cx="347.5" cy="567.6" r="6.8"/><circle cx="355.6" cy="556.3" r="6.8"/><circle cx="392.0" cy="579.9" r="6.8"/><circle cx="330.7" cy="547.3" r="6.8"/><circle cx="344.6" cy="560.6" r="6.8"/><circle cx="322.5" cy="571.6" r="6.8"/><circle cx="319.9" cy="551.6" r="6.8"/><circle cx="311.8" cy="539.9" r="6.8"/><circle cx="315.9" cy="546.7" r="6.8"/><circle cx="323.2" cy="543.2" r="6.8"/><circle cx="341.9" cy="560.2" r="6.8"/><circle cx="362.9" cy="576.5" r="6.8"/><circle cx="357.8" cy="582.6" r="6.8"/><circle cx="371.3" cy="585.5" r="6.8"/><circle cx="350.5" cy="556.2" r="6.8"/><circle cx="377.3" cy="579.5" r="6.8"/><circle cx="309.4" cy="536.7" r="6.8"/><circle cx="324.5" cy="557.4" r="6.8"/><circle cx="378.0" cy="587.1" r="6.8"/><circle cx="334.0" cy="554.0" r="6.8"/><circle cx="330.6" cy="545.7" r="6.8"/><circle cx="325.3" cy="554.7" r="6.8"/><circle cx="383.0" cy="579.8" r="6.8"/><circle cx="352.9" cy="578.7" r="6.8"/><circle cx="360.8" cy="562.4" r="6.8"/><circle cx="370.3" cy="567.2" r="6.8"/><circle cx="340.3" cy="579.5" r="6.8"/><circle cx="331.7" cy="574.3" r="6.8"/><circle cx="327.8" cy="561.3" r="6.8"/><circle cx="377.1" cy="571.6" r="6.8"/><circle cx="336.9" cy="563.8" r="6.8"/><circle cx="381.0" cy="584.5" r="6.8"/><circle cx="360.2" cy="584.8" r="6.8"/><circle cx="332.4" cy="543.1" r="6.8"/><circle cx="354.6" cy="574.6" r="6.8"/><circle cx="335.5" cy="559.2" r="6.8"/><circle cx="876.0" cy="318.6" r="6.8"/><circle cx="885.4" cy="306.8" r="6.8"/><circle cx="889.5" cy="325.2" r="6.8"/><circle cx="895.7" cy="313.2" r="6.8"/><circle cx="883.6" cy="326.1" r="6.8"/><circle cx="884.1" cy="313.5" r="6.8"/><circle cx="894.4" cy="314.5" r="6.8"/><circle cx="902.5" cy="308.6" r="6.8"/><circle cx="874.3" cy="328.0" r="6.8"/><circle cx="895.5" cy="306.8" r="6.8"/><circle cx="887.4" cy="317.7" r="6.8"/><circle cx="880.1" cy="320.0" r="6.8"/><circle cx="897.7" cy="312.5" r="6.8"/><circle cx="892.5" cy="323.8" r="6.8"/><circle cx="893.9" cy="328.6" r="6.8"/><circle cx="883.0" cy="321.8" r="6.8"/><circle cx="887.2" cy="311.8" r="6.8"/><circle cx="888.0" cy="306.1" r="6.8"/><circle cx="876.4" cy="329.4" r="6.8"/><circle cx="1069.5" cy="308.2" r="6.8"/><circle cx="1011.4" cy="281.9" r="6.8"/><circle cx="1018.2" cy="285.9" r="6.8"/><circle cx="1066.1" cy="328.2" r="6.8"/><circle cx="1030.5" cy="270.8" r="6.8"/><circle cx="996.4" cy="290.4" r="6.8"/><circle cx="1033.1" cy="275.2" r="6.8"/><circle cx="1041.1" cy="282.3" r="6.8"/><circle cx="1028.3" cy="292.0" r="6.8"/><circle cx="1065.5" cy="316.6" r="6.8"/><circle cx="1014.9" cy="321.7" r="6.8"/><circle cx="1010.5" cy="328.5" r="6.8"/><circle cx="998.5" cy="320.6" r="6.8"/><circle cx="1042.6" cy="288.0" r="6.8"/><circle cx="1021.7" cy="279.8" r="6.8"/><circle cx="1046.7" cy="308.8" r="6.8"/><circle cx="987.9" cy="319.9" r="6.8"/><circle cx="1016.3" cy="296.4" r="6.8"/><circle cx="993.2" cy="318.3" r="6.8"/><circle cx="1026.6" cy="323.3" r="6.8"/><circle cx="1040.3" cy="315.8" r="6.8"/><circle cx="1052.7" cy="316.4" r="6.8"/><circle cx="1007.1" cy="278.7" r="6.8"/><circle cx="1021.6" cy="311.5" r="6.8"/><circle cx="1013.5" cy="299.4" r="6.8"/><circle cx="1025.9" cy="305.3" r="6.8"/><circle cx="804.8" cy="326.6" r="6.8"/><circle cx="832.0" cy="296.1" r="6.8"/><circle cx="832.2" cy="293.1" r="6.8"/><circle cx="839.3" cy="348.2" r="6.8"/><circle cx="838.1" cy="351.5" r="6.8"/><circle cx="810.3" cy="288.7" r="6.8"/><circle cx="822.0" cy="342.4" r="6.8"/><circle cx="830.6" cy="328.0" r="6.8"/><circle cx="830.5" cy="332.1" r="6.8"/><circle cx="816.6" cy="288.4" r="6.8"/><circle cx="824.8" cy="303.7" r="6.8"/><circle cx="810.4" cy="336.6" r="6.8"/><circle cx="810.0" cy="341.5" r="6.8"/><circle cx="830.0" cy="315.4" r="6.8"/><circle cx="821.2" cy="329.8" r="6.8"/><circle cx="880.9" cy="377.2" r="6.8"/><circle cx="995.0" cy="427.1" r="6.8"/><circle cx="1092.1" cy="470.0" r="6.8"/><circle cx="948.5" cy="403.0" r="6.8"/><circle cx="1049.0" cy="472.5" r="6.8"/><circle cx="948.6" cy="417.0" r="6.8"/><circle cx="1022.2" cy="438.8" r="6.8"/><circle cx="874.3" cy="356.6" r="6.8"/><circle cx="948.8" cy="433.3" r="6.8"/><circle cx="1045.0" cy="442.2" r="6.8"/><circle cx="1036.5" cy="475.7" r="6.8"/><circle cx="1016.2" cy="452.2" r="6.8"/><circle cx="889.3" cy="431.3" r="6.8"/><circle cx="861.8" cy="360.9" r="6.8"/><circle cx="1023.4" cy="474.2" r="6.8"/><circle cx="941.5" cy="393.5" r="6.8"/><circle cx="978.3" cy="412.5" r="6.8"/><circle cx="923.6" cy="412.9" r="6.8"/><circle cx="1024.5" cy="459.0" r="6.8"/><circle cx="960.2" cy="426.0" r="6.8"/><circle cx="929.3" cy="426.6" r="6.8"/><circle cx="1025.2" cy="469.1" r="6.8"/><circle cx="1000.8" cy="421.4" r="6.8"/><circle cx="864.3" cy="405.9" r="6.8"/><circle cx="924.3" cy="383.7" r="6.8"/><circle cx="1006.5" cy="469.5" r="6.8"/><circle cx="933.3" cy="415.3" r="6.8"/><circle cx="856.2" cy="406.3" r="6.8"/><circle cx="938.3" cy="392.4" r="6.8"/><circle cx="1050.5" cy="440.7" r="6.8"/><circle cx="902.5" cy="411.8" r="6.8"/><circle cx="876.5" cy="419.8" r="6.8"/><circle cx="973.3" cy="423.0" r="6.8"/><circle cx="886.4" cy="413.0" r="6.8"/><circle cx="992.3" cy="416.2" r="6.8"/><circle cx="880.7" cy="368.4" r="6.8"/><circle cx="920.7" cy="433.7" r="6.8"/><circle cx="1012.6" cy="429.0" r="6.8"/><circle cx="884.7" cy="421.6" r="6.8"/><circle cx="988.9" cy="416.0" r="6.8"/><circle cx="926.6" cy="379.9" r="6.8"/><circle cx="972.8" cy="411.8" r="6.8"/><circle cx="882.3" cy="358.2" r="6.8"/><circle cx="922.0" cy="424.0" r="6.8"/><circle cx="1010.5" cy="432.8" r="6.8"/><circle cx="945.8" cy="412.9" r="6.8"/><circle cx="1054.2" cy="469.2" r="6.8"/><circle cx="911.7" cy="391.1" r="6.8"/><circle cx="903.7" cy="385.4" r="6.8"/><circle cx="902.5" cy="398.4" r="6.8"/><circle cx="1003.1" cy="463.5" r="6.8"/><circle cx="963.1" cy="435.0" r="6.8"/><circle cx="993.0" cy="472.7" r="6.8"/><circle cx="983.4" cy="459.0" r="6.8"/><circle cx="1047.0" cy="439.0" r="6.8"/><circle cx="927.2" cy="403.3" r="6.8"/><circle cx="1007.3" cy="462.3" r="6.8"/><circle cx="898.9" cy="427.2" r="6.8"/><circle cx="857.9" cy="353.1" r="6.8"/><circle cx="1050.6" cy="457.3" r="6.8"/><circle cx="871.0" cy="383.6" r="6.8"/><circle cx="866.1" cy="399.8" r="6.8"/><circle cx="978.3" cy="430.5" r="6.8"/><circle cx="992.4" cy="438.1" r="6.8"/><circle cx="919.9" cy="425.8" r="6.8"/><circle cx="1016.6" cy="432.1" r="6.8"/><circle cx="912.9" cy="439.3" r="6.8"/><circle cx="969.2" cy="448.1" r="6.8"/><circle cx="883.8" cy="380.8" r="6.8"/><circle cx="1028.2" cy="451.0" r="6.8"/><circle cx="853.2" cy="448.9" r="6.8"/><circle cx="852.7" cy="429.2" r="6.8"/><circle cx="845.2" cy="435.4" r="6.8"/><circle cx="820.9" cy="440.1" r="6.8"/><circle cx="824.8" cy="424.8" r="6.8"/><circle cx="861.1" cy="430.1" r="6.8"/><circle cx="829.4" cy="427.1" r="6.8"/><circle cx="819.9" cy="433.7" r="6.8"/><circle cx="852.9" cy="435.9" r="6.8"/><circle cx="833.6" cy="439.2" r="6.8"/><circle cx="519.4" cy="287.4" r="6.8"/><circle cx="493.9" cy="336.5" r="6.8"/><circle cx="442.0" cy="216.1" r="6.8"/><circle cx="421.7" cy="302.6" r="6.8"/><circle cx="344.4" cy="273.4" r="6.8"/><circle cx="315.5" cy="289.8" r="6.8"/><circle cx="422.7" cy="283.1" r="6.8"/><circle cx="312.9" cy="347.7" r="6.8"/><circle cx="390.3" cy="336.7" r="6.8"/><circle cx="444.2" cy="293.4" r="6.8"/><circle cx="430.5" cy="357.5" r="6.8"/><circle cx="424.7" cy="263.9" r="6.8"/><circle cx="360.1" cy="342.4" r="6.8"/><circle cx="501.8" cy="260.7" r="6.8"/><circle cx="466.6" cy="368.5" r="6.8"/><circle cx="443.6" cy="276.9" r="6.8"/><circle cx="542.0" cy="231.6" r="6.8"/><circle cx="444.3" cy="370.9" r="6.8"/><circle cx="459.7" cy="338.5" r="6.8"/><circle cx="502.9" cy="317.9" r="6.8"/><circle cx="333.3" cy="291.6" r="6.8"/><circle cx="545.1" cy="226.9" r="6.8"/><circle cx="467.1" cy="298.1" r="6.8"/><circle cx="404.3" cy="326.6" r="6.8"/><circle cx="304.3" cy="324.0" r="6.8"/><circle cx="535.9" cy="202.0" r="6.8"/><circle cx="538.0" cy="283.4" r="6.8"/><circle cx="404.7" cy="237.3" r="6.8"/><circle cx="514.4" cy="253.7" r="6.8"/><circle cx="315.7" cy="302.7" r="6.8"/><circle cx="402.4" cy="300.2" r="6.8"/><circle cx="506.1" cy="349.5" r="6.8"/><circle cx="541.6" cy="373.9" r="6.8"/><circle cx="520.7" cy="334.9" r="6.8"/><circle cx="510.9" cy="317.5" r="6.8"/><circle cx="405.0" cy="361.8" r="6.8"/><circle cx="426.6" cy="326.3" r="6.8"/><circle cx="339.0" cy="348.4" r="6.8"/><circle cx="453.9" cy="362.0" r="6.8"/><circle cx="295.4" cy="319.7" r="6.8"/><circle cx="534.9" cy="198.1" r="6.8"/><circle cx="369.9" cy="277.0" r="6.8"/><circle cx="418.0" cy="229.0" r="6.8"/><circle cx="396.0" cy="280.2" r="6.8"/><circle cx="364.3" cy="251.0" r="6.8"/><circle cx="419.9" cy="324.8" r="6.8"/><circle cx="522.0" cy="293.3" r="6.8"/><circle cx="335.9" cy="253.5" r="6.8"/><circle cx="276.5" cy="374.0" r="6.8"/><circle cx="479.4" cy="349.1" r="6.8"/><circle cx="337.6" cy="316.7" r="6.8"/><circle cx="466.7" cy="349.1" r="6.8"/><circle cx="526.1" cy="285.4" r="6.8"/><circle cx="477.0" cy="225.3" r="6.8"/><circle cx="451.3" cy="347.9" r="6.8"/><circle cx="475.9" cy="317.9" r="6.8"/><circle cx="491.2" cy="217.1" r="6.8"/><circle cx="538.0" cy="251.0" r="6.8"/><circle cx="465.4" cy="376.6" r="6.8"/><circle cx="497.9" cy="371.6" r="6.8"/><circle cx="441.4" cy="314.2" r="6.8"/><circle cx="432.1" cy="345.2" r="6.8"/><circle cx="497.2" cy="283.1" r="6.8"/><circle cx="524.4" cy="203.6" r="6.8"/><circle cx="300.9" cy="376.9" r="6.8"/><circle cx="511.5" cy="247.4" r="6.8"/><circle cx="402.3" cy="263.7" r="6.8"/><circle cx="427.8" cy="345.7" r="6.8"/><circle cx="418.0" cy="269.1" r="6.8"/><circle cx="460.1" cy="255.9" r="6.8"/><circle cx="340.3" cy="286.0" r="6.8"/><circle cx="482.9" cy="241.2" r="6.8"/><circle cx="529.3" cy="263.6" r="6.8"/><circle cx="292.8" cy="310.9" r="6.8"/><circle cx="473.2" cy="287.4" r="6.8"/><circle cx="395.3" cy="273.5" r="6.8"/><circle cx="462.5" cy="307.6" r="6.8"/><circle cx="373.2" cy="278.9" r="6.8"/><circle cx="534.9" cy="303.5" r="6.8"/><circle cx="448.6" cy="333.4" r="6.8"/><circle cx="290.0" cy="354.4" r="6.8"/><circle cx="448.1" cy="246.4" r="6.8"/><circle cx="331.9" cy="284.3" r="6.8"/><circle cx="341.5" cy="374.1" r="6.8"/><circle cx="522.8" cy="316.7" r="6.8"/><circle cx="521.7" cy="254.1" r="6.8"/><circle cx="417.6" cy="353.7" r="6.8"/><circle cx="331.9" cy="338.4" r="6.8"/><circle cx="545.0" cy="332.7" r="6.8"/><circle cx="522.5" cy="353.7" r="6.8"/><circle cx="342.2" cy="247.4" r="6.8"/><circle cx="452.3" cy="238.0" r="6.8"/><circle cx="363.7" cy="334.1" r="6.8"/><circle cx="303.0" cy="325.8" r="6.8"/><circle cx="303.8" cy="287.1" r="6.8"/><circle cx="442.6" cy="375.5" r="6.8"/><circle cx="443.2" cy="271.5" r="6.8"/><circle cx="433.9" cy="283.3" r="6.8"/><circle cx="327.0" cy="308.1" r="6.8"/><circle cx="486.0" cy="280.5" r="6.8"/><circle cx="527.7" cy="240.6" r="6.8"/><circle cx="415.6" cy="302.8" r="6.8"/><circle cx="488.3" cy="353.5" r="6.8"/><circle cx="530.8" cy="253.5" r="6.8"/><circle cx="297.9" cy="284.4" r="6.8"/><circle cx="479.9" cy="336.2" r="6.8"/><circle cx="356.9" cy="293.0" r="6.8"/><circle cx="298.6" cy="328.8" r="6.8"/><circle cx="531.6" cy="202.6" r="6.8"/><circle cx="371.4" cy="323.9" r="6.8"/><circle cx="513.9" cy="368.4" r="6.8"/><circle cx="321.0" cy="297.9" r="6.8"/><circle cx="441.8" cy="245.0" r="6.8"/><circle cx="546.2" cy="209.8" r="6.8"/><circle cx="387.1" cy="329.5" r="6.8"/><circle cx="517.6" cy="281.3" r="6.8"/><circle cx="458.7" cy="325.4" r="6.8"/><circle cx="482.7" cy="297.2" r="6.8"/><circle cx="428.1" cy="281.4" r="6.8"/><circle cx="430.0" cy="225.3" r="6.8"/><circle cx="439.0" cy="371.8" r="6.8"/><circle cx="375.6" cy="351.3" r="6.8"/><circle cx="369.0" cy="285.3" r="6.8"/><circle cx="530.8" cy="369.2" r="6.8"/><circle cx="292.0" cy="358.3" r="6.8"/><circle cx="501.5" cy="360.7" r="6.8"/><circle cx="518.9" cy="324.3" r="6.8"/><circle cx="350.7" cy="330.0" r="6.8"/><circle cx="539.0" cy="265.4" r="6.8"/><circle cx="474.6" cy="279.2" r="6.8"/><circle cx="354.8" cy="244.2" r="6.8"/><circle cx="325.0" cy="326.5" r="6.8"/><circle cx="419.0" cy="264.0" r="6.8"/><circle cx="402.9" cy="312.8" r="6.8"/><circle cx="386.3" cy="249.9" r="6.8"/><circle cx="347.1" cy="277.1" r="6.8"/><circle cx="380.7" cy="295.0" r="6.8"/><circle cx="469.3" cy="271.5" r="6.8"/><circle cx="375.9" cy="243.6" r="6.8"/><circle cx="356.4" cy="338.1" r="6.8"/><circle cx="377.9" cy="348.0" r="6.8"/><circle cx="428.0" cy="270.6" r="6.8"/><circle cx="282.2" cy="376.3" r="6.8"/><circle cx="452.7" cy="265.1" r="6.8"/><circle cx="527.3" cy="375.8" r="6.8"/><circle cx="492.5" cy="364.4" r="6.8"/><circle cx="338.2" cy="365.2" r="6.8"/><circle cx="386.8" cy="322.0" r="6.8"/><circle cx="420.9" cy="313.8" r="6.8"/><circle cx="403.6" cy="249.8" r="6.8"/><circle cx="326.5" cy="368.8" r="6.8"/><circle cx="418.3" cy="333.2" r="6.8"/><circle cx="401.7" cy="284.3" r="6.8"/><circle cx="325.6" cy="301.1" r="6.8"/><circle cx="311.0" cy="375.9" r="6.8"/><circle cx="317.2" cy="327.9" r="6.8"/><circle cx="365.5" cy="270.9" r="6.8"/><circle cx="466.8" cy="339.9" r="6.8"/><circle cx="384.3" cy="339.1" r="6.8"/><circle cx="496.5" cy="326.2" r="6.8"/><circle cx="515.3" cy="354.1" r="6.8"/><circle cx="449.4" cy="271.4" r="6.8"/><circle cx="536.6" cy="350.7" r="6.8"/><circle cx="410.9" cy="264.3" r="6.8"/><circle cx="512.7" cy="257.6" r="6.8"/><circle cx="520.1" cy="242.1" r="6.8"/><circle cx="481.7" cy="219.5" r="6.8"/><circle cx="506.4" cy="355.0" r="6.8"/><circle cx="497.0" cy="351.2" r="6.8"/><circle cx="435.1" cy="230.7" r="6.8"/><circle cx="512.0" cy="209.1" r="6.8"/><circle cx="419.3" cy="288.1" r="6.8"/><circle cx="316.1" cy="359.8" r="6.8"/><circle cx="304.7" cy="334.0" r="6.8"/><circle cx="420.2" cy="318.7" r="6.8"/><circle cx="454.9" cy="286.3" r="6.8"/><circle cx="449.8" cy="321.1" r="6.8"/><circle cx="376.5" cy="332.3" r="6.8"/><circle cx="466.8" cy="318.8" r="6.8"/><circle cx="505.5" cy="274.9" r="6.8"/><circle cx="423.4" cy="376.1" r="6.8"/><circle cx="368.8" cy="272.6" r="6.8"/><circle cx="411.0" cy="270.1" r="6.8"/><circle cx="363.1" cy="289.6" r="6.8"/><circle cx="457.2" cy="242.7" r="6.8"/><circle cx="516.4" cy="201.0" r="6.8"/><circle cx="490.0" cy="285.9" r="6.8"/><circle cx="294.1" cy="302.6" r="6.8"/><circle cx="512.1" cy="231.8" r="6.8"/><circle cx="352.8" cy="323.1" r="6.8"/><circle cx="369.1" cy="250.4" r="6.8"/><circle cx="326.6" cy="344.5" r="6.8"/><circle cx="437.7" cy="309.6" r="6.8"/><circle cx="482.7" cy="231.2" r="6.8"/><circle cx="410.1" cy="376.0" r="6.8"/><circle cx="466.0" cy="244.1" r="6.8"/><circle cx="419.8" cy="234.0" r="6.8"/><circle cx="489.0" cy="323.0" r="6.8"/><circle cx="413.7" cy="267.2" r="6.8"/><circle cx="292.4" cy="335.8" r="6.8"/><circle cx="461.4" cy="296.6" r="6.8"/><circle cx="365.6" cy="324.1" r="6.8"/><circle cx="303.4" cy="363.1" r="6.8"/><circle cx="334.3" cy="275.6" r="6.8"/><circle cx="537.4" cy="269.4" r="6.8"/><circle cx="437.3" cy="303.7" r="6.8"/><circle cx="353.2" cy="261.0" r="6.8"/><circle cx="504.4" cy="335.5" r="6.8"/><circle cx="518.3" cy="376.2" r="6.8"/><circle cx="512.3" cy="334.4" r="6.8"/><circle cx="522.1" cy="301.5" r="6.8"/><circle cx="439.7" cy="289.2" r="6.8"/><circle cx="292.3" cy="367.1" r="6.8"/><circle cx="416.9" cy="325.9" r="6.8"/><circle cx="409.6" cy="316.8" r="6.8"/><circle cx="419.5" cy="355.6" r="6.8"/><circle cx="475.3" cy="303.8" r="6.8"/><circle cx="535.3" cy="259.3" r="6.8"/><circle cx="303.8" cy="371.2" r="6.8"/><circle cx="464.3" cy="225.3" r="6.8"/><circle cx="488.8" cy="334.0" r="6.8"/><circle cx="307.3" cy="322.3" r="6.8"/><circle cx="478.6" cy="230.7" r="6.8"/><circle cx="544.3" cy="255.2" r="6.8"/><circle cx="406.2" cy="375.7" r="6.8"/><circle cx="456.2" cy="294.1" r="6.8"/><circle cx="522.7" cy="211.9" r="6.8"/><circle cx="479.2" cy="245.2" r="6.8"/><circle cx="377.1" cy="289.5" r="6.8"/><circle cx="425.2" cy="330.9" r="6.8"/><circle cx="529.3" cy="355.5" r="6.8"/><circle cx="449.9" cy="255.8" r="6.8"/><circle cx="368.4" cy="362.5" r="6.8"/><circle cx="484.0" cy="357.9" r="6.8"/><circle cx="403.9" cy="297.1" r="6.8"/><circle cx="306.8" cy="375.1" r="6.8"/><circle cx="408.2" cy="235.4" r="6.8"/><circle cx="403.3" cy="277.7" r="6.8"/><circle cx="317.9" cy="371.5" r="6.8"/><circle cx="355.9" cy="302.0" r="6.8"/><circle cx="419.7" cy="370.6" r="6.8"/><circle cx="546.1" cy="197.0" r="6.8"/><circle cx="529.8" cy="267.5" r="6.8"/><circle cx="469.3" cy="283.9" r="6.8"/><circle cx="291.4" cy="327.9" r="6.8"/><circle cx="381.4" cy="355.2" r="6.8"/><circle cx="429.2" cy="245.2" r="6.8"/><circle cx="539.1" cy="255.8" r="6.8"/><circle cx="281.5" cy="343.0" r="6.8"/><circle cx="524.3" cy="345.8" r="6.8"/><circle cx="422.4" cy="358.7" r="6.8"/><circle cx="458.3" cy="249.0" r="6.8"/><circle cx="546.3" cy="245.3" r="6.8"/><circle cx="483.9" cy="291.4" r="6.8"/><circle cx="417.5" cy="304.3" r="6.8"/><circle cx="399.1" cy="325.8" r="6.8"/><circle cx="481.7" cy="335.5" r="6.8"/><circle cx="284.9" cy="369.1" r="6.8"/><circle cx="322.9" cy="279.3" r="6.8"/><circle cx="451.1" cy="327.3" r="6.8"/><circle cx="345.6" cy="325.2" r="6.8"/><circle cx="504.6" cy="291.5" r="6.8"/><circle cx="351.9" cy="362.3" r="6.8"/><circle cx="360.6" cy="357.2" r="6.8"/><circle cx="298.5" cy="372.2" r="6.8"/><circle cx="530.6" cy="361.2" r="6.8"/><circle cx="300.9" cy="325.4" r="6.8"/><circle cx="409.8" cy="283.1" r="6.8"/><circle cx="499.4" cy="323.2" r="6.8"/><circle cx="353.3" cy="344.0" r="6.8"/><circle cx="378.6" cy="262.2" r="6.8"/><circle cx="341.3" cy="337.9" r="6.8"/><circle cx="532.9" cy="347.0" r="6.8"/><circle cx="544.2" cy="364.0" r="6.8"/><circle cx="490.7" cy="263.9" r="6.8"/><circle cx="357.7" cy="323.8" r="6.8"/><circle cx="483.5" cy="355.1" r="6.8"/><circle cx="452.1" cy="300.7" r="6.8"/><circle cx="478.1" cy="309.5" r="6.8"/><circle cx="386.6" cy="363.8" r="6.8"/><circle cx="347.9" cy="376.1" r="6.8"/><circle cx="479.2" cy="369.0" r="6.8"/><circle cx="532.3" cy="338.4" r="6.8"/><circle cx="406.0" cy="233.3" r="6.8"/><circle cx="425.2" cy="233.2" r="6.8"/><circle cx="502.1" cy="238.7" r="6.8"/><circle cx="424.6" cy="316.9" r="6.8"/><circle cx="535.7" cy="233.3" r="6.8"/><circle cx="479.3" cy="350.4" r="6.8"/><circle cx="544.7" cy="191.9" r="6.8"/><circle cx="439.6" cy="318.5" r="6.8"/><circle cx="377.1" cy="325.9" r="6.8"/><circle cx="405.7" cy="267.4" r="6.8"/><circle cx="381.2" cy="309.1" r="6.8"/><circle cx="521.9" cy="270.2" r="6.8"/><circle cx="344.9" cy="347.1" r="6.8"/><circle cx="402.5" cy="359.7" r="6.8"/><circle cx="338.0" cy="325.0" r="6.8"/><circle cx="538.8" cy="211.5" r="6.8"/><circle cx="405.2" cy="285.7" r="6.8"/><circle cx="374.4" cy="252.5" r="6.8"/><circle cx="497.1" cy="369.4" r="6.8"/><circle cx="538.2" cy="356.4" r="6.8"/><circle cx="469.4" cy="277.5" r="6.8"/><circle cx="533.2" cy="339.3" r="6.8"/><circle cx="426.6" cy="235.1" r="6.8"/><circle cx="518.7" cy="347.2" r="6.8"/><circle cx="440.8" cy="286.2" r="6.8"/><circle cx="468.8" cy="311.6" r="6.8"/><circle cx="329.7" cy="315.9" r="6.8"/><circle cx="488.4" cy="238.0" r="6.8"/><circle cx="472.5" cy="255.9" r="6.8"/><circle cx="361.5" cy="314.4" r="6.8"/><circle cx="539.0" cy="231.3" r="6.8"/><circle cx="457.6" cy="288.9" r="6.8"/><circle cx="491.5" cy="313.0" r="6.8"/><circle cx="499.9" cy="268.4" r="6.8"/><circle cx="467.3" cy="241.5" r="6.8"/><circle cx="498.0" cy="311.4" r="6.8"/><circle cx="481.9" cy="365.1" r="6.8"/><circle cx="529.4" cy="346.3" r="6.8"/><circle cx="509.5" cy="375.1" r="6.8"/><circle cx="255.3" cy="317.0" r="6.8"/><circle cx="235.3" cy="335.7" r="6.8"/><circle cx="271.3" cy="325.9" r="6.8"/><circle cx="276.6" cy="315.7" r="6.8"/><circle cx="273.7" cy="337.4" r="6.8"/><circle cx="262.5" cy="309.0" r="6.8"/><circle cx="275.7" cy="323.3" r="6.8"/><circle cx="272.5" cy="309.8" r="6.8"/><circle cx="227.9" cy="326.3" r="6.8"/><circle cx="278.6" cy="306.4" r="6.8"/><circle cx="262.1" cy="329.1" r="6.8"/><circle cx="248.2" cy="315.8" r="6.8"/><circle cx="239.0" cy="327.6" r="6.8"/><circle cx="257.3" cy="321.7" r="6.8"/><circle cx="254.9" cy="332.3" r="6.8"/><circle cx="254.1" cy="320.1" r="6.8"/><circle cx="236.4" cy="332.6" r="6.8"/><circle cx="243.2" cy="313.6" r="6.8"/><circle cx="272.3" cy="302.0" r="6.8"/><circle cx="477.2" cy="379.8" r="6.8"/><circle cx="503.6" cy="378.8" r="6.8"/><circle cx="538.8" cy="377.8" r="6.8"/><circle cx="533.1" cy="377.7" r="6.8"/><circle cx="491.0" cy="377.3" r="6.8"/><circle cx="487.7" cy="348.2" r="6.8"/><circle cx="546.6" cy="371.9" r="6.8"/><circle cx="493.2" cy="353.1" r="6.8"/><circle cx="462.1" cy="368.4" r="6.8"/><circle cx="537.9" cy="374.3" r="6.8"/><circle cx="491.3" cy="356.6" r="6.8"/><circle cx="478.0" cy="376.4" r="6.8"/><circle cx="472.2" cy="366.3" r="6.8"/><circle cx="541.8" cy="346.2" r="6.8"/><circle cx="535.0" cy="344.7" r="6.8"/><circle cx="456.2" cy="371.1" r="6.8"/><circle cx="472.8" cy="372.6" r="6.8"/><circle cx="479.8" cy="371.7" r="6.8"/><circle cx="543.8" cy="379.7" r="6.8"/><circle cx="548.9" cy="341.8" r="6.8"/><circle cx="516.6" cy="347.0" r="6.8"/><circle cx="517.6" cy="372.6" r="6.8"/><circle cx="489.2" cy="364.3" r="6.8"/><circle cx="547.8" cy="353.9" r="6.8"/><circle cx="522.3" cy="360.9" r="6.8"/><circle cx="478.3" cy="364.7" r="6.8"/><circle cx="505.3" cy="345.8" r="6.8"/><circle cx="522.1" cy="346.9" r="6.8"/><circle cx="455.9" cy="377.7" r="6.8"/><circle cx="484.3" cy="368.9" r="6.8"/><circle cx="519.7" cy="370.7" r="6.8"/><circle cx="511.2" cy="344.9" r="6.8"/><circle cx="614.4" cy="1022.5" r="6.8"/><circle cx="566.1" cy="999.4" r="6.8"/><circle cx="544.0" cy="1050.1" r="6.8"/><circle cx="592.1" cy="1001.7" r="6.8"/><circle cx="560.4" cy="956.8" r="6.8"/><circle cx="609.6" cy="999.1" r="6.8"/><circle cx="516.2" cy="1007.3" r="6.8"/><circle cx="632.8" cy="1049.4" r="6.8"/><circle cx="616.1" cy="957.0" r="6.8"/><circle cx="660.4" cy="1079.3" r="6.8"/><circle cx="493.7" cy="965.8" r="6.8"/><circle cx="587.2" cy="1062.9" r="6.8"/><circle cx="646.2" cy="915.9" r="6.8"/><circle cx="709.4" cy="1057.8" r="6.8"/><circle cx="691.5" cy="951.2" r="6.8"/><circle cx="534.1" cy="1024.4" r="6.8"/><circle cx="667.8" cy="1008.2" r="6.8"/><circle cx="592.5" cy="1023.2" r="6.8"/><circle cx="523.9" cy="1014.9" r="6.8"/><circle cx="632.2" cy="982.7" r="6.8"/><circle cx="531.2" cy="927.4" r="6.8"/><circle cx="647.7" cy="989.8" r="6.8"/><circle cx="576.8" cy="1047.0" r="6.8"/><circle cx="499.5" cy="939.1" r="6.8"/><circle cx="569.1" cy="936.5" r="6.8"/><circle cx="649.6" cy="940.2" r="6.8"/><circle cx="582.5" cy="958.0" r="6.8"/><circle cx="567.1" cy="1043.9" r="6.8"/><circle cx="611.9" cy="980.7" r="6.8"/><circle cx="649.5" cy="999.7" r="6.8"/><circle cx="711.6" cy="1050.5" r="6.8"/><circle cx="515.0" cy="971.7" r="6.8"/><circle cx="638.5" cy="943.1" r="6.8"/><circle cx="570.3" cy="1060.6" r="6.8"/><circle cx="647.2" cy="926.4" r="6.8"/><circle cx="644.7" cy="1045.9" r="6.8"/><circle cx="552.3" cy="904.6" r="6.8"/><circle cx="523.1" cy="988.7" r="6.8"/><circle cx="561.8" cy="887.1" r="6.8"/><circle cx="627.0" cy="1009.2" r="6.8"/><circle cx="525.4" cy="998.3" r="6.8"/><circle cx="561.3" cy="906.4" r="6.8"/><circle cx="594.3" cy="965.9" r="6.8"/><circle cx="704.3" cy="1052.1" r="6.8"/><circle cx="533.9" cy="893.6" r="6.8"/><circle cx="677.4" cy="1043.4" r="6.8"/><circle cx="546.9" cy="995.3" r="6.8"/><circle cx="581.4" cy="999.3" r="6.8"/><circle cx="528.6" cy="908.5" r="6.8"/><circle cx="612.0" cy="1063.3" r="6.8"/><circle cx="495.0" cy="975.0" r="6.8"/><circle cx="538.9" cy="1013.1" r="6.8"/><circle cx="513.2" cy="955.8" r="6.8"/><circle cx="541.9" cy="970.7" r="6.8"/><circle cx="497.6" cy="982.4" r="6.8"/><circle cx="523.0" cy="979.8" r="6.8"/><circle cx="592.7" cy="952.0" r="6.8"/><circle cx="638.7" cy="967.5" r="6.8"/><circle cx="585.1" cy="944.7" r="6.8"/><circle cx="533.9" cy="999.8" r="6.8"/><circle cx="510.7" cy="985.4" r="6.8"/><circle cx="602.1" cy="959.1" r="6.8"/><circle cx="488.2" cy="910.5" r="6.8"/><circle cx="624.6" cy="1045.0" r="6.8"/><circle cx="493.4" cy="929.7" r="6.8"/><circle cx="569.6" cy="1015.6" r="6.8"/><circle cx="680.1" cy="1012.2" r="6.8"/><circle cx="497.9" cy="959.3" r="6.8"/><circle cx="557.2" cy="975.2" r="6.8"/><circle cx="515.1" cy="948.1" r="6.8"/><circle cx="684.6" cy="1006.7" r="6.8"/><circle cx="530.1" cy="1010.0" r="6.8"/><circle cx="585.1" cy="1041.7" r="6.8"/><circle cx="559.6" cy="1065.7" r="6.8"/><circle cx="582.0" cy="921.4" r="6.8"/><circle cx="545.9" cy="928.7" r="6.8"/><circle cx="505.1" cy="943.4" r="6.8"/><circle cx="634.7" cy="905.7" r="6.8"/><circle cx="627.5" cy="930.1" r="6.8"/><circle cx="675.3" cy="1075.7" r="6.8"/><circle cx="679.0" cy="1018.4" r="6.8"/><circle cx="536.7" cy="886.5" r="6.8"/><circle cx="618.5" cy="1043.2" r="6.8"/><circle cx="616.2" cy="999.7" r="6.8"/><circle cx="492.5" cy="969.7" r="6.8"/><circle cx="683.3" cy="961.0" r="6.8"/><circle cx="667.5" cy="1078.0" r="6.8"/><circle cx="630.3" cy="934.6" r="6.8"/><circle cx="517.2" cy="992.0" r="6.8"/><circle cx="636.9" cy="982.5" r="6.8"/><circle cx="552.6" cy="1043.1" r="6.8"/><circle cx="566.6" cy="982.3" r="6.8"/><circle cx="657.6" cy="956.0" r="6.8"/><circle cx="655.8" cy="988.7" r="6.8"/><circle cx="486.0" cy="919.4" r="6.8"/><circle cx="552.6" cy="921.1" r="6.8"/><circle cx="559.7" cy="1016.3" r="6.8"/><circle cx="571.8" cy="1026.3" r="6.8"/><circle cx="582.7" cy="1024.7" r="6.8"/><circle cx="599.8" cy="976.9" r="6.8"/><circle cx="647.8" cy="1075.6" r="6.8"/><circle cx="521.1" cy="903.3" r="6.8"/><circle cx="543.9" cy="1019.2" r="6.8"/><circle cx="527.0" cy="947.9" r="6.8"/><circle cx="633.8" cy="1026.1" r="6.8"/><circle cx="505.6" cy="934.9" r="6.8"/><circle cx="496.1" cy="988.3" r="6.8"/><circle cx="581.8" cy="966.0" r="6.8"/><circle cx="611.5" cy="929.8" r="6.8"/><circle cx="676.5" cy="1019.6" r="6.8"/><circle cx="644.2" cy="1003.0" r="6.8"/><circle cx="578.8" cy="962.9" r="6.8"/><circle cx="561.1" cy="949.3" r="6.8"/><circle cx="666.4" cy="916.6" r="6.8"/><circle cx="571.3" cy="981.0" r="6.8"/><circle cx="704.4" cy="1066.1" r="6.8"/><circle cx="577.7" cy="1007.4" r="6.8"/><circle cx="648.6" cy="933.7" r="6.8"/><circle cx="591.8" cy="972.7" r="6.8"/><circle cx="661.0" cy="972.8" r="6.8"/><circle cx="511.1" cy="977.2" r="6.8"/><circle cx="656.4" cy="945.5" r="6.8"/><circle cx="556.7" cy="953.5" r="6.8"/><circle cx="667.3" cy="995.0" r="6.8"/><circle cx="618.3" cy="939.2" r="6.8"/><circle cx="555.7" cy="989.6" r="6.8"/><circle cx="538.3" cy="891.3" r="6.8"/><circle cx="580.5" cy="930.1" r="6.8"/><circle cx="551.5" cy="1001.4" r="6.8"/><circle cx="696.4" cy="1055.5" r="6.8"/><circle cx="642.5" cy="977.8" r="6.8"/><circle cx="635.7" cy="952.6" r="6.8"/><circle cx="636.3" cy="1035.1" r="6.8"/><circle cx="628.3" cy="937.7" r="6.8"/><circle cx="583.3" cy="987.0" r="6.8"/><circle cx="630.3" cy="984.5" r="6.8"/><circle cx="633.1" cy="1012.8" r="6.8"/><circle cx="680.1" cy="1077.5" r="6.8"/><circle cx="629.4" cy="1040.4" r="6.8"/><circle cx="580.9" cy="911.1" r="6.8"/><circle cx="695.9" cy="1075.1" r="6.8"/><circle cx="495.6" cy="921.8" r="6.8"/><circle cx="630.6" cy="906.0" r="6.8"/><circle cx="576.8" cy="947.9" r="6.8"/><circle cx="638.5" cy="984.3" r="6.8"/><circle cx="559.8" cy="1051.6" r="6.8"/><circle cx="509.6" cy="901.5" r="6.8"/><circle cx="644.7" cy="1015.7" r="6.8"/><circle cx="553.2" cy="906.4" r="6.8"/><circle cx="668.6" cy="1035.8" r="6.8"/><circle cx="611.8" cy="996.3" r="6.8"/><circle cx="538.7" cy="958.2" r="6.8"/><circle cx="718.2" cy="1054.4" r="6.8"/><circle cx="612.4" cy="933.1" r="6.8"/><circle cx="619.6" cy="925.8" r="6.8"/><circle cx="560.5" cy="1033.5" r="6.8"/><circle cx="639.1" cy="992.8" r="6.8"/><circle cx="590.3" cy="1078.8" r="6.8"/><circle cx="565.5" cy="1029.1" r="6.8"/><circle cx="529.0" cy="1017.8" r="6.8"/><circle cx="626.0" cy="932.9" r="6.8"/><circle cx="491.5" cy="916.0" r="6.8"/><circle cx="549.5" cy="995.9" r="6.8"/><circle cx="559.7" cy="914.5" r="6.8"/><circle cx="489.9" cy="985.6" r="6.8"/><circle cx="517.1" cy="934.2" r="6.8"/><circle cx="557.7" cy="904.8" r="6.8"/><circle cx="691.6" cy="1069.8" r="6.8"/><circle cx="589.7" cy="983.9" r="6.8"/><circle cx="636.7" cy="997.4" r="6.8"/><circle cx="486.5" cy="938.0" r="6.8"/><circle cx="684.9" cy="1013.6" r="6.8"/><circle cx="626.0" cy="1026.0" r="6.8"/><circle cx="607.0" cy="949.8" r="6.8"/><circle cx="662.8" cy="1064.4" r="6.8"/><circle cx="576.6" cy="995.3" r="6.8"/><circle cx="562.1" cy="891.5" r="6.8"/><circle cx="515.9" cy="913.9" r="6.8"/><circle cx="498.4" cy="933.3" r="6.8"/><circle cx="644.3" cy="1053.1" r="6.8"/><circle cx="516.8" cy="923.1" r="6.8"/><circle cx="675.8" cy="956.1" r="6.8"/><circle cx="614.5" cy="1059.3" r="6.8"/><circle cx="526.9" cy="1022.7" r="6.8"/><circle cx="553.7" cy="897.4" r="6.8"/><circle cx="652.1" cy="923.6" r="6.8"/><circle cx="558.4" cy="1024.7" r="6.8"/><circle cx="644.1" cy="967.9" r="6.8"/><circle cx="631.5" cy="1017.8" r="6.8"/><circle cx="566.3" cy="1023.3" r="6.8"/><circle cx="556.6" cy="970.7" r="6.8"/><circle cx="501.9" cy="949.3" r="6.8"/><circle cx="533.5" cy="966.1" r="6.8"/><circle cx="613.9" cy="938.4" r="6.8"/><circle cx="554.8" cy="931.4" r="6.8"/><circle cx="629.0" cy="945.8" r="6.8"/><circle cx="501.5" cy="1001.5" r="6.8"/><circle cx="577.9" cy="982.6" r="6.8"/><circle cx="589.1" cy="1076.0" r="6.8"/><circle cx="670.0" cy="1018.3" r="6.8"/><circle cx="578.8" cy="972.7" r="6.8"/><circle cx="513.3" cy="1019.2" r="6.8"/><circle cx="690.5" cy="1034.3" r="6.8"/><circle cx="537.9" cy="975.9" r="6.8"/><circle cx="568.9" cy="1000.9" r="6.8"/><circle cx="591.5" cy="1066.6" r="6.8"/><circle cx="612.5" cy="1017.7" r="6.8"/><circle cx="578.9" cy="1055.3" r="6.8"/><circle cx="535.7" cy="990.1" r="6.8"/><circle cx="646.5" cy="1008.9" r="6.8"/><circle cx="609.8" cy="1027.0" r="6.8"/><circle cx="489.9" cy="892.4" r="6.8"/><circle cx="675.5" cy="940.2" r="6.8"/><circle cx="642.1" cy="1035.8" r="6.8"/><circle cx="666.2" cy="935.7" r="6.8"/><circle cx="570.2" cy="943.5" r="6.8"/><circle cx="508.7" cy="970.4" r="6.8"/><circle cx="569.8" cy="957.7" r="6.8"/><circle cx="504.7" cy="897.2" r="6.8"/><circle cx="599.7" cy="1055.3" r="6.8"/><circle cx="575.9" cy="919.1" r="6.8"/><circle cx="697.8" cy="1032.2" r="6.8"/><circle cx="651.8" cy="961.8" r="6.8"/><circle cx="561.6" cy="1048.2" r="6.8"/><circle cx="486.1" cy="891.9" r="6.8"/><circle cx="578.6" cy="1049.4" r="6.8"/><circle cx="581.3" cy="1048.2" r="6.8"/><circle cx="658.0" cy="912.1" r="6.8"/><circle cx="509.4" cy="932.6" r="6.8"/><circle cx="553.4" cy="1045.2" r="6.8"/><circle cx="530.6" cy="899.3" r="6.8"/><circle cx="549.3" cy="915.2" r="6.8"/><circle cx="579.2" cy="1044.9" r="6.8"/><circle cx="664.5" cy="949.0" r="6.8"/><circle cx="533.5" cy="995.2" r="6.8"/><circle cx="663.7" cy="1047.4" r="6.8"/><circle cx="532.3" cy="1045.1" r="6.8"/><circle cx="603.9" cy="929.0" r="6.8"/><circle cx="564.0" cy="1027.3" r="6.8"/><circle cx="575.4" cy="989.8" r="6.8"/><circle cx="501.6" cy="994.5" r="6.8"/><circle cx="483.1" cy="990.4" r="6.8"/><circle cx="587.1" cy="912.2" r="6.8"/><circle cx="605.9" cy="927.1" r="6.8"/><circle cx="533.7" cy="974.4" r="6.8"/><circle cx="515.0" cy="931.5" r="6.8"/><circle cx="609.1" cy="942.4" r="6.8"/><circle cx="614.1" cy="962.3" r="6.8"/><circle cx="574.6" cy="1009.1" r="6.8"/><circle cx="514.8" cy="921.1" r="6.8"/><circle cx="727.4" cy="1015.9" r="6.8"/><circle cx="730.6" cy="1041.7" r="6.8"/><circle cx="701.5" cy="1062.4" r="6.8"/><circle cx="700.5" cy="996.9" r="6.8"/><circle cx="739.4" cy="1031.4" r="6.8"/><circle cx="647.0" cy="1086.4" r="6.8"/><circle cx="713.4" cy="1031.1" r="6.8"/><circle cx="761.2" cy="1038.5" r="6.8"/><circle cx="725.0" cy="1029.7" r="6.8"/><circle cx="694.4" cy="1071.1" r="6.8"/><circle cx="694.0" cy="987.9" r="6.8"/><circle cx="710.6" cy="1072.0" r="6.8"/><circle cx="751.3" cy="1036.1" r="6.8"/><circle cx="676.5" cy="1075.2" r="6.8"/><circle cx="744.5" cy="1037.7" r="6.8"/><circle cx="744.5" cy="1042.9" r="6.8"/><circle cx="719.8" cy="1056.8" r="6.8"/><circle cx="714.7" cy="1018.1" r="6.8"/><circle cx="718.9" cy="1039.5" r="6.8"/><circle cx="713.8" cy="1007.0" r="6.8"/><circle cx="697.3" cy="1002.1" r="6.8"/><circle cx="722.9" cy="1043.3" r="6.8"/><circle cx="661.9" cy="1083.2" r="6.8"/><circle cx="707.1" cy="1071.4" r="6.8"/><circle cx="636.4" cy="1085.9" r="6.8"/><circle cx="730.1" cy="1044.2" r="6.8"/><circle cx="685.8" cy="988.9" r="6.8"/><circle cx="744.5" cy="1025.5" r="6.8"/><circle cx="718.2" cy="1010.9" r="6.8"/><circle cx="724.5" cy="1047.4" r="6.8"/><circle cx="726.7" cy="1031.4" r="6.8"/><circle cx="686.9" cy="991.2" r="6.8"/><circle cx="718.9" cy="1056.3" r="6.8"/><circle cx="717.7" cy="1015.7" r="6.8"/><circle cx="738.3" cy="1020.2" r="6.8"/><circle cx="711.2" cy="1028.9" r="6.8"/><circle cx="701.1" cy="1021.2" r="6.8"/><circle cx="663.8" cy="1078.8" r="6.8"/><circle cx="687.0" cy="1075.6" r="6.8"/><circle cx="713.8" cy="1027.7" r="6.8"/><circle cx="655.4" cy="1085.5" r="6.8"/><circle cx="716.8" cy="1011.4" r="6.8"/><circle cx="742.3" cy="1041.9" r="6.8"/><circle cx="721.2" cy="1021.3" r="6.8"/><circle cx="701.2" cy="1006.2" r="6.8"/><circle cx="737.7" cy="1024.7" r="6.8"/><circle cx="682.2" cy="1081.9" r="6.8"/><circle cx="749.2" cy="1029.3" r="6.8"/><circle cx="765.8" cy="1027.5" r="6.8"/><circle cx="756.9" cy="1023.8" r="6.8"/><circle cx="728.1" cy="1013.2" r="6.8"/><circle cx="715.5" cy="1045.0" r="6.8"/><circle cx="714.4" cy="1029.0" r="6.8"/><circle cx="702.5" cy="1000.5" r="6.8"/><circle cx="737.6" cy="1038.2" r="6.8"/><circle cx="704.1" cy="999.8" r="6.8"/><circle cx="703.9" cy="1069.2" r="6.8"/><circle cx="706.9" cy="1048.1" r="6.8"/><circle cx="711.9" cy="1005.4" r="6.8"/><circle cx="685.5" cy="1071.8" r="6.8"/><circle cx="732.6" cy="1032.4" r="6.8"/><circle cx="706.8" cy="1023.7" r="6.8"/><circle cx="765.9" cy="1023.6" r="6.8"/><circle cx="708.9" cy="1055.0" r="6.8"/><circle cx="672.9" cy="1080.6" r="6.8"/><circle cx="706.3" cy="1031.2" r="6.8"/><circle cx="697.9" cy="1014.0" r="6.8"/><circle cx="720.2" cy="1049.3" r="6.8"/><circle cx="705.9" cy="1072.7" r="6.8"/><circle cx="703.8" cy="1015.4" r="6.8"/><circle cx="676.5" cy="991.1" r="6.8"/><circle cx="652.5" cy="988.6" r="6.8"/><circle cx="660.2" cy="968.4" r="6.8"/><circle cx="655.4" cy="972.4" r="6.8"/><circle cx="645.1" cy="993.7" r="6.8"/><circle cx="672.2" cy="992.2" r="6.8"/><circle cx="630.3" cy="1000.6" r="6.8"/><circle cx="676.6" cy="995.8" r="6.8"/><circle cx="658.8" cy="998.6" r="6.8"/><circle cx="645.8" cy="966.0" r="6.8"/><circle cx="661.0" cy="949.1" r="6.8"/><circle cx="685.2" cy="955.7" r="6.8"/><circle cx="683.1" cy="943.5" r="6.8"/><circle cx="689.8" cy="947.0" r="6.8"/><circle cx="699.1" cy="961.3" r="6.8"/><circle cx="675.9" cy="961.6" r="6.8"/><circle cx="672.6" cy="958.4" r="6.8"/><circle cx="745.2" cy="899.2" r="6.8"/><circle cx="796.5" cy="967.9" r="6.8"/><circle cx="732.9" cy="899.7" r="6.8"/><circle cx="766.2" cy="904.7" r="6.8"/><circle cx="791.8" cy="900.6" r="6.8"/><circle cx="786.9" cy="912.9" r="6.8"/><circle cx="776.5" cy="889.5" r="6.8"/><circle cx="798.8" cy="930.8" r="6.8"/><circle cx="758.3" cy="896.2" r="6.8"/><circle cx="794.5" cy="973.1" r="6.8"/><circle cx="787.5" cy="967.4" r="6.8"/><circle cx="798.5" cy="916.3" r="6.8"/><circle cx="730.6" cy="911.5" r="6.8"/><circle cx="782.3" cy="929.1" r="6.8"/><circle cx="792.7" cy="952.4" r="6.8"/><circle cx="693.5" cy="884.5" r="6.8"/><circle cx="684.1" cy="887.5" r="6.8"/><circle cx="748.1" cy="276.3" r="6.8"/><circle cx="575.6" cy="303.1" r="6.8"/><circle cx="695.3" cy="293.8" r="6.8"/><circle cx="565.9" cy="210.0" r="6.8"/><circle cx="643.9" cy="291.5" r="6.8"/><circle cx="595.7" cy="332.4" r="6.8"/><circle cx="577.0" cy="207.2" r="6.8"/><circle cx="587.0" cy="306.0" r="6.8"/><circle cx="602.1" cy="290.2" r="6.8"/><circle cx="751.8" cy="292.9" r="6.8"/><circle cx="662.4" cy="290.0" r="6.8"/><circle cx="693.6" cy="279.2" r="6.8"/><circle cx="567.1" cy="284.1" r="6.8"/><circle cx="632.0" cy="215.5" r="6.8"/><circle cx="558.9" cy="192.0" r="6.8"/><circle cx="592.9" cy="242.6" r="6.8"/><circle cx="574.2" cy="244.9" r="6.8"/><circle cx="703.7" cy="248.7" r="6.8"/><circle cx="661.9" cy="334.9" r="6.8"/><circle cx="639.7" cy="278.1" r="6.8"/><circle cx="602.4" cy="306.8" r="6.8"/><circle cx="587.7" cy="328.8" r="6.8"/><circle cx="661.3" cy="329.1" r="6.8"/><circle cx="651.2" cy="284.4" r="6.8"/><circle cx="604.0" cy="321.0" r="6.8"/><circle cx="716.4" cy="324.8" r="6.8"/><circle cx="706.2" cy="215.5" r="6.8"/><circle cx="620.5" cy="235.6" r="6.8"/><circle cx="789.6" cy="308.0" r="6.8"/><circle cx="782.9" cy="264.5" r="6.8"/><circle cx="703.2" cy="320.5" r="6.8"/><circle cx="765.0" cy="249.5" r="6.8"/><circle cx="779.8" cy="255.8" r="6.8"/><circle cx="796.2" cy="299.9" r="6.8"/><circle cx="645.6" cy="250.0" r="6.8"/><circle cx="607.6" cy="224.5" r="6.8"/><circle cx="645.1" cy="303.1" r="6.8"/><circle cx="563.7" cy="196.0" r="6.8"/><circle cx="719.0" cy="315.1" r="6.8"/><circle cx="752.9" cy="267.0" r="6.8"/><circle cx="655.0" cy="308.1" r="6.8"/><circle cx="702.3" cy="307.1" r="6.8"/><circle cx="800.2" cy="272.5" r="6.8"/><circle cx="564.0" cy="220.3" r="6.8"/><circle cx="666.9" cy="286.5" r="6.8"/><circle cx="587.7" cy="222.5" r="6.8"/><circle cx="600.9" cy="232.2" r="6.8"/><circle cx="652.7" cy="303.3" r="6.8"/><circle cx="724.4" cy="230.1" r="6.8"/><circle cx="665.0" cy="267.2" r="6.8"/><circle cx="686.4" cy="257.2" r="6.8"/><circle cx="658.6" cy="253.7" r="6.8"/><circle cx="625.5" cy="308.5" r="6.8"/><circle cx="775.6" cy="249.3" r="6.8"/><circle cx="558.3" cy="326.3" r="6.8"/><circle cx="743.9" cy="325.3" r="6.8"/><circle cx="748.1" cy="333.0" r="6.8"/><circle cx="628.9" cy="211.6" r="6.8"/><circle cx="692.4" cy="232.3" r="6.8"/><circle cx="567.3" cy="232.7" r="6.8"/><circle cx="565.7" cy="291.2" r="6.8"/><circle cx="760.0" cy="283.1" r="6.8"/><circle cx="661.4" cy="260.8" r="6.8"/><circle cx="581.9" cy="286.6" r="6.8"/><circle cx="740.8" cy="267.9" r="6.8"/><circle cx="575.1" cy="209.9" r="6.8"/><circle cx="716.8" cy="321.9" r="6.8"/><circle cx="732.3" cy="232.1" r="6.8"/><circle cx="778.3" cy="308.0" r="6.8"/><circle cx="661.9" cy="240.6" r="6.8"/><circle cx="661.3" cy="224.1" r="6.8"/><circle cx="675.0" cy="314.7" r="6.8"/><circle cx="595.1" cy="255.8" r="6.8"/><circle cx="778.0" cy="271.3" r="6.8"/><circle cx="592.9" cy="316.4" r="6.8"/><circle cx="742.8" cy="245.8" r="6.8"/><circle cx="722.9" cy="289.6" r="6.8"/><circle cx="565.2" cy="214.3" r="6.8"/><circle cx="604.7" cy="236.1" r="6.8"/><circle cx="792.3" cy="325.1" r="6.8"/><circle cx="646.0" cy="265.0" r="6.8"/><circle cx="755.0" cy="289.9" r="6.8"/><circle cx="690.5" cy="322.2" r="6.8"/><circle cx="732.0" cy="293.9" r="6.8"/><circle cx="623.1" cy="278.4" r="6.8"/><circle cx="738.4" cy="296.3" r="6.8"/><circle cx="693.9" cy="243.3" r="6.8"/><circle cx="556.6" cy="257.3" r="6.8"/><circle cx="643.0" cy="215.8" r="6.8"/><circle cx="681.3" cy="243.1" r="6.8"/><circle cx="572.6" cy="282.6" r="6.8"/><circle cx="596.7" cy="220.7" r="6.8"/><circle cx="705.8" cy="264.7" r="6.8"/><circle cx="590.9" cy="280.2" r="6.8"/><circle cx="763.8" cy="315.8" r="6.8"/><circle cx="576.4" cy="260.6" r="6.8"/><circle cx="587.1" cy="266.4" r="6.8"/><circle cx="658.9" cy="332.9" r="6.8"/><circle cx="664.6" cy="223.2" r="6.8"/><circle cx="746.5" cy="254.0" r="6.8"/><circle cx="757.6" cy="257.6" r="6.8"/><circle cx="798.9" cy="342.3" r="6.8"/><circle cx="634.6" cy="300.9" r="6.8"/><circle cx="554.9" cy="248.2" r="6.8"/><circle cx="641.4" cy="302.2" r="6.8"/><circle cx="699.6" cy="286.6" r="6.8"/><circle cx="721.0" cy="255.1" r="6.8"/><circle cx="601.0" cy="254.8" r="6.8"/><circle cx="706.3" cy="229.9" r="6.8"/><circle cx="652.8" cy="257.8" r="6.8"/><circle cx="771.0" cy="270.8" r="6.8"/><circle cx="639.3" cy="218.6" r="6.8"/><circle cx="621.7" cy="212.0" r="6.8"/><circle cx="723.0" cy="299.4" r="6.8"/><circle cx="618.4" cy="295.2" r="6.8"/><circle cx="738.9" cy="239.5" r="6.8"/><circle cx="694.3" cy="269.2" r="6.8"/><circle cx="589.6" cy="241.2" r="6.8"/><circle cx="730.6" cy="262.7" r="6.8"/><circle cx="723.3" cy="255.0" r="6.8"/><circle cx="750.0" cy="313.5" r="6.8"/><circle cx="576.3" cy="232.2" r="6.8"/><circle cx="702.1" cy="289.3" r="6.8"/><circle cx="596.7" cy="282.5" r="6.8"/><circle cx="563.7" cy="298.2" r="6.8"/><circle cx="641.6" cy="287.2" r="6.8"/><circle cx="740.3" cy="277.8" r="6.8"/><circle cx="647.3" cy="315.8" r="6.8"/><circle cx="744.0" cy="272.4" r="6.8"/><circle cx="589.8" cy="277.1" r="6.8"/><circle cx="694.4" cy="246.2" r="6.8"/><circle cx="661.2" cy="271.7" r="6.8"/><circle cx="630.5" cy="228.6" r="6.8"/><circle cx="763.7" cy="243.8" r="6.8"/><circle cx="762.7" cy="239.1" r="6.8"/><circle cx="620.5" cy="222.7" r="6.8"/><circle cx="564.1" cy="227.3" r="6.8"/><circle cx="599.3" cy="297.3" r="6.8"/><circle cx="561.4" cy="210.6" r="6.8"/><circle cx="747.6" cy="263.6" r="6.8"/><circle cx="673.8" cy="320.9" r="6.8"/><circle cx="639.6" cy="249.7" r="6.8"/><circle cx="690.2" cy="284.0" r="6.8"/><circle cx="746.9" cy="304.7" r="6.8"/><circle cx="568.3" cy="212.4" r="6.8"/><circle cx="766.6" cy="276.7" r="6.8"/><circle cx="616.1" cy="232.5" r="6.8"/><circle cx="754.0" cy="322.3" r="6.8"/><circle cx="635.6" cy="244.9" r="6.8"/><circle cx="649.0" cy="267.0" r="6.8"/><circle cx="590.4" cy="240.2" r="6.8"/><circle cx="603.3" cy="301.0" r="6.8"/><circle cx="652.8" cy="217.0" r="6.8"/><circle cx="728.3" cy="248.5" r="6.8"/><circle cx="687.8" cy="325.0" r="6.8"/><circle cx="649.9" cy="253.8" r="6.8"/><circle cx="584.0" cy="277.0" r="6.8"/><circle cx="578.5" cy="231.3" r="6.8"/><circle cx="798.9" cy="317.0" r="6.8"/><circle cx="714.4" cy="320.9" r="6.8"/><circle cx="710.4" cy="277.7" r="6.8"/><circle cx="756.2" cy="329.6" r="6.8"/><circle cx="632.6" cy="232.4" r="6.8"/><circle cx="742.5" cy="291.0" r="6.8"/><circle cx="712.5" cy="301.7" r="6.8"/><circle cx="692.2" cy="300.4" r="6.8"/><circle cx="558.4" cy="243.3" r="6.8"/><circle cx="677.3" cy="298.0" r="6.8"/><circle cx="611.1" cy="309.2" r="6.8"/><circle cx="646.2" cy="219.9" r="6.8"/><circle cx="799.3" cy="288.5" r="6.8"/><circle cx="706.6" cy="296.1" r="6.8"/><circle cx="562.1" cy="258.1" r="6.8"/><circle cx="564.0" cy="268.8" r="6.8"/><circle cx="785.1" cy="321.8" r="6.8"/><circle cx="668.3" cy="282.3" r="6.8"/><circle cx="604.6" cy="275.9" r="6.8"/><circle cx="695.3" cy="242.6" r="6.8"/><circle cx="598.3" cy="248.5" r="6.8"/><circle cx="580.8" cy="247.7" r="6.8"/><circle cx="644.8" cy="257.9" r="6.8"/><circle cx="642.1" cy="250.2" r="6.8"/><circle cx="696.1" cy="286.7" r="6.8"/><circle cx="716.3" cy="285.8" r="6.8"/><circle cx="727.4" cy="239.9" r="6.8"/><circle cx="633.3" cy="256.4" r="6.8"/><circle cx="559.0" cy="279.2" r="6.8"/><circle cx="798.8" cy="334.2" r="6.8"/><circle cx="721.7" cy="271.3" r="6.8"/><circle cx="691.7" cy="287.5" r="6.8"/><circle cx="690.0" cy="273.8" r="6.8"/><circle cx="775.4" cy="272.1" r="6.8"/><circle cx="665.7" cy="221.1" r="6.8"/><circle cx="553.2" cy="304.8" r="6.8"/><circle cx="731.7" cy="272.7" r="6.8"/><circle cx="772.4" cy="317.2" r="6.8"/><circle cx="776.9" cy="294.1" r="6.8"/><circle cx="636.0" cy="217.4" r="6.8"/><circle cx="740.6" cy="303.9" r="6.8"/><circle cx="628.5" cy="287.0" r="6.8"/><circle cx="581.1" cy="288.5" r="6.8"/><circle cx="875.2" cy="805.8" r="6.8"/><circle cx="857.4" cy="814.8" r="6.8"/><circle cx="873.6" cy="795.0" r="6.8"/><circle cx="861.2" cy="797.4" r="6.8"/><circle cx="861.9" cy="813.3" r="6.8"/><circle cx="875.2" cy="810.8" r="6.8"/><circle cx="917.0" cy="810.0" r="6.8"/><circle cx="907.4" cy="808.6" r="6.8"/><circle cx="909.7" cy="802.5" r="6.8"/><circle cx="936.2" cy="809.2" r="6.8"/><circle cx="925.8" cy="813.7" r="6.8"/><circle cx="911.0" cy="815.4" r="6.8"/><circle cx="927.8" cy="791.0" r="6.8"/><circle cx="936.4" cy="802.1" r="6.8"/><circle cx="973.7" cy="876.8" r="6.8"/><circle cx="982.7" cy="855.8" r="6.8"/><circle cx="969.4" cy="853.5" r="6.8"/><circle cx="977.1" cy="834.6" r="6.8"/><circle cx="971.3" cy="863.1" r="6.8"/><circle cx="965.8" cy="883.7" r="6.8"/><circle cx="985.6" cy="834.7" r="6.8"/><circle cx="959.9" cy="850.5" r="6.8"/><circle cx="959.7" cy="832.9" r="6.8"/><circle cx="821.1" cy="911.5" r="6.8"/><circle cx="796.4" cy="910.1" r="6.8"/><circle cx="832.1" cy="920.6" r="6.8"/><circle cx="829.9" cy="908.2" r="6.8"/><circle cx="800.0" cy="900.5" r="6.8"/><circle cx="814.6" cy="901.5" r="6.8"/><circle cx="757.3" cy="748.3" r="6.8"/><circle cx="744.8" cy="750.6" r="6.8"/><circle cx="743.2" cy="746.4" r="6.8"/><circle cx="758.8" cy="755.2" r="6.8"/><circle cx="752.5" cy="754.5" r="6.8"/><circle cx="971.6" cy="779.7" r="6.8"/><circle cx="821.8" cy="779.8" r="6.8"/><circle cx="778.2" cy="876.9" r="6.8"/><circle cx="947.6" cy="848.9" r="6.8"/><circle cx="755.4" cy="788.9" r="6.8"/><circle cx="993.0" cy="778.6" r="6.8"/><circle cx="954.3" cy="840.7" r="6.8"/><circle cx="917.9" cy="873.6" r="6.8"/><circle cx="794.0" cy="780.8" r="6.8"/><circle cx="1008.9" cy="803.7" r="6.8"/><circle cx="841.7" cy="792.3" r="6.8"/><circle cx="947.9" cy="787.5" r="6.8"/><circle cx="777.1" cy="837.4" r="6.8"/><circle cx="1006.2" cy="833.6" r="6.8"/><circle cx="889.1" cy="946.0" r="6.8"/><circle cx="903.8" cy="934.7" r="6.8"/><circle cx="827.6" cy="944.6" r="6.8"/><circle cx="930.7" cy="899.2" r="6.8"/><circle cx="952.9" cy="865.3" r="6.8"/><circle cx="835.2" cy="790.4" r="6.8"/><circle cx="990.3" cy="819.2" r="6.8"/><circle cx="826.7" cy="793.9" r="6.8"/><circle cx="976.1" cy="840.7" r="6.8"/><circle cx="870.1" cy="917.2" r="6.8"/><circle cx="970.9" cy="827.8" r="6.8"/><circle cx="783.9" cy="789.0" r="6.8"/><circle cx="794.8" cy="813.3" r="6.8"/><circle cx="892.6" cy="829.3" r="6.8"/><circle cx="842.5" cy="929.4" r="6.8"/><circle cx="885.9" cy="897.7" r="6.8"/><circle cx="783.0" cy="828.5" r="6.8"/><circle cx="863.7" cy="905.6" r="6.8"/><circle cx="812.8" cy="763.9" r="6.8"/><circle cx="842.0" cy="882.0" r="6.8"/><circle cx="964.4" cy="828.5" r="6.8"/><circle cx="985.3" cy="843.3" r="6.8"/><circle cx="900.5" cy="804.2" r="6.8"/><circle cx="892.2" cy="937.6" r="6.8"/><circle cx="891.7" cy="893.6" r="6.8"/><circle cx="775.9" cy="751.3" r="6.8"/><circle cx="798.3" cy="859.2" r="6.8"/><circle cx="778.8" cy="787.0" r="6.8"/><circle cx="882.3" cy="798.4" r="6.8"/><circle cx="855.4" cy="929.8" r="6.8"/><circle cx="799.4" cy="765.3" r="6.8"/><circle cx="804.1" cy="800.3" r="6.8"/><circle cx="825.0" cy="818.0" r="6.8"/><circle cx="1010.5" cy="819.8" r="6.8"/><circle cx="889.1" cy="908.7" r="6.8"/><circle cx="759.8" cy="839.6" r="6.8"/><circle cx="901.1" cy="864.4" r="6.8"/><circle cx="943.2" cy="882.5" r="6.8"/><circle cx="998.2" cy="789.1" r="6.8"/><circle cx="946.3" cy="803.3" r="6.8"/><circle cx="771.6" cy="775.7" r="6.8"/><circle cx="846.2" cy="802.1" r="6.8"/><circle cx="754.0" cy="865.5" r="6.8"/><circle cx="852.5" cy="868.4" r="6.8"/><circle cx="878.5" cy="948.4" r="6.8"/><circle cx="755.3" cy="823.1" r="6.8"/><circle cx="823.3" cy="801.8" r="6.8"/><circle cx="935.1" cy="839.1" r="6.8"/><circle cx="790.5" cy="808.2" r="6.8"/><circle cx="754.9" cy="743.6" r="6.8"/><circle cx="896.5" cy="905.0" r="6.8"/><circle cx="768.3" cy="864.2" r="6.8"/><circle cx="821.0" cy="934.2" r="6.8"/><circle cx="763.0" cy="846.2" r="6.8"/><circle cx="849.9" cy="849.7" r="6.8"/><circle cx="902.2" cy="814.4" r="6.8"/><circle cx="852.6" cy="945.6" r="6.8"/><circle cx="779.5" cy="825.9" r="6.8"/><circle cx="857.4" cy="916.2" r="6.8"/><circle cx="867.6" cy="875.1" r="6.8"/><circle cx="871.0" cy="803.5" r="6.8"/><circle cx="787.8" cy="759.7" r="6.8"/><circle cx="756.8" cy="748.8" r="6.8"/><circle cx="831.3" cy="877.5" r="6.8"/><circle cx="819.2" cy="916.6" r="6.8"/><circle cx="844.6" cy="860.9" r="6.8"/><circle cx="852.1" cy="888.9" r="6.8"/><circle cx="883.3" cy="828.7" r="6.8"/><circle cx="927.1" cy="867.7" r="6.8"/><circle cx="776.6" cy="758.6" r="6.8"/><circle cx="833.3" cy="812.5" r="6.8"/><circle cx="907.7" cy="845.2" r="6.8"/><circle cx="969.7" cy="793.6" r="6.8"/><circle cx="878.4" cy="857.7" r="6.8"/><circle cx="898.6" cy="940.1" r="6.8"/><circle cx="832.1" cy="901.7" r="6.8"/><circle cx="873.7" cy="950.1" r="6.8"/><circle cx="924.2" cy="820.1" r="6.8"/><circle cx="809.4" cy="808.1" r="6.8"/><circle cx="839.5" cy="848.3" r="6.8"/><circle cx="919.7" cy="825.8" r="6.8"/><circle cx="864.1" cy="909.8" r="6.8"/><circle cx="857.0" cy="886.8" r="6.8"/><circle cx="971.5" cy="784.4" r="6.8"/><circle cx="978.3" cy="855.2" r="6.8"/><circle cx="803.7" cy="869.8" r="6.8"/><circle cx="890.3" cy="912.9" r="6.8"/><circle cx="821.4" cy="872.5" r="6.8"/><circle cx="781.2" cy="795.2" r="6.8"/><circle cx="770.1" cy="833.5" r="6.8"/><circle cx="837.4" cy="879.6" r="6.8"/><circle cx="934.1" cy="849.8" r="6.8"/><circle cx="887.6" cy="788.6" r="6.8"/><circle cx="985.7" cy="779.3" r="6.8"/><circle cx="821.4" cy="833.7" r="6.8"/><circle cx="838.1" cy="830.2" r="6.8"/><circle cx="1012.2" cy="813.4" r="6.8"/><circle cx="749.3" cy="770.7" r="6.8"/><circle cx="841.1" cy="784.9" r="6.8"/><circle cx="893.3" cy="839.6" r="6.8"/><circle cx="917.9" cy="905.9" r="6.8"/><circle cx="915.2" cy="797.1" r="6.8"/><circle cx="881.9" cy="789.6" r="6.8"/><circle cx="921.8" cy="927.6" r="6.8"/><circle cx="870.7" cy="879.5" r="6.8"/><circle cx="839.1" cy="885.2" r="6.8"/><circle cx="876.3" cy="846.8" r="6.8"/><circle cx="821.7" cy="939.3" r="6.8"/><circle cx="983.2" cy="850.8" r="6.8"/><circle cx="855.4" cy="835.1" r="6.8"/><circle cx="745.2" cy="869.0" r="6.8"/><circle cx="833.6" cy="840.9" r="6.8"/><circle cx="805.3" cy="809.7" r="6.8"/><circle cx="814.2" cy="864.5" r="6.8"/><circle cx="861.2" cy="804.1" r="6.8"/><circle cx="839.0" cy="868.2" r="6.8"/><circle cx="876.4" cy="903.3" r="6.8"/><circle cx="989.1" cy="799.6" r="6.8"/><circle cx="913.6" cy="841.8" r="6.8"/><circle cx="932.3" cy="834.0" r="6.8"/><circle cx="777.8" cy="829.8" r="6.8"/><circle cx="946.2" cy="841.4" r="6.8"/><circle cx="910.3" cy="786.7" r="6.8"/><circle cx="745.3" cy="804.0" r="6.8"/><circle cx="829.6" cy="916.8" r="6.8"/><circle cx="869.5" cy="851.9" r="6.8"/><circle cx="888.0" cy="925.3" r="6.8"/><circle cx="844.8" cy="831.9" r="6.8"/><circle cx="856.9" cy="900.0" r="6.8"/><circle cx="824.5" cy="915.5" r="6.8"/><circle cx="983.4" cy="860.0" r="6.8"/><circle cx="803.0" cy="863.0" r="6.8"/><circle cx="935.8" cy="793.0" r="6.8"/><circle cx="958.4" cy="803.4" r="6.8"/><circle cx="792.1" cy="790.2" r="6.8"/><circle cx="835.8" cy="862.6" r="6.8"/><circle cx="815.8" cy="823.0" r="6.8"/><circle cx="992.3" cy="813.4" r="6.8"/><circle cx="967.8" cy="875.8" r="6.8"/><circle cx="872.0" cy="832.4" r="6.8"/><circle cx="903.4" cy="859.1" r="6.8"/><circle cx="1015.0" cy="793.7" r="6.8"/><circle cx="992.9" cy="814.8" r="6.8"/><circle cx="909.3" cy="790.6" r="6.8"/><circle cx="771.8" cy="786.1" r="6.8"/><circle cx="836.0" cy="808.0" r="6.8"/><circle cx="751.7" cy="847.3" r="6.8"/><circle cx="922.2" cy="879.8" r="6.8"/><circle cx="908.6" cy="816.2" r="6.8"/><circle cx="801.1" cy="867.0" r="6.8"/><circle cx="863.5" cy="949.2" r="6.8"/><circle cx="744.1" cy="753.8" r="6.8"/><circle cx="968.0" cy="835.6" r="6.8"/><circle cx="883.0" cy="803.5" r="6.8"/><circle cx="857.7" cy="873.2" r="6.8"/><circle cx="893.2" cy="924.8" r="6.8"/><circle cx="976.5" cy="862.5" r="6.8"/><circle cx="783.0" cy="778.4" r="6.8"/><circle cx="939.0" cy="795.9" r="6.8"/><circle cx="826.8" cy="925.1" r="6.8"/><circle cx="959.5" cy="798.7" r="6.8"/><circle cx="822.3" cy="903.1" r="6.8"/><circle cx="895.9" cy="825.2" r="6.8"/><circle cx="914.2" cy="911.6" r="6.8"/><circle cx="919.7" cy="784.9" r="6.8"/><circle cx="949.3" cy="791.1" r="6.8"/><circle cx="877.8" cy="802.2" r="6.8"/><circle cx="923.3" cy="852.0" r="6.8"/><circle cx="1097.9" cy="503.5" r="6.8"/><circle cx="1088.5" cy="492.9" r="6.8"/><circle cx="1114.5" cy="488.0" r="6.8"/><circle cx="1083.9" cy="506.3" r="6.8"/><circle cx="1093.5" cy="514.7" r="6.8"/><circle cx="1085.6" cy="498.9" r="6.8"/><circle cx="570.3" cy="351.2" r="6.8"/><circle cx="710.9" cy="377.1" r="6.8"/><circle cx="582.7" cy="338.6" r="6.8"/><circle cx="627.7" cy="370.8" r="6.8"/><circle cx="601.7" cy="379.1" r="6.8"/><circle cx="616.4" cy="341.1" r="6.8"/><circle cx="727.1" cy="347.9" r="6.8"/><circle cx="585.8" cy="350.7" r="6.8"/><circle cx="672.0" cy="373.5" r="6.8"/><circle cx="696.4" cy="346.5" r="6.8"/><circle cx="688.8" cy="369.7" r="6.8"/><circle cx="690.1" cy="361.6" r="6.8"/><circle cx="740.4" cy="372.7" r="6.8"/><circle cx="596.4" cy="368.0" r="6.8"/><circle cx="741.0" cy="438.9" r="6.8"/><circle cx="752.8" cy="428.2" r="6.8"/><circle cx="693.1" cy="448.1" r="6.8"/><circle cx="785.3" cy="421.7" r="6.8"/><circle cx="695.8" cy="444.7" r="6.8"/><circle cx="730.6" cy="447.6" r="6.8"/><circle cx="782.2" cy="412.6" r="6.8"/><circle cx="674.1" cy="477.6" r="6.8"/><circle cx="781.7" cy="424.8" r="6.8"/><circle cx="704.8" cy="447.9" r="6.8"/><circle cx="721.0" cy="456.9" r="6.8"/><circle cx="676.9" cy="467.9" r="6.8"/><circle cx="749.8" cy="437.1" r="6.8"/><circle cx="691.7" cy="474.2" r="6.8"/><circle cx="687.5" cy="457.6" r="6.8"/><circle cx="681.4" cy="466.4" r="6.8"/><circle cx="736.5" cy="431.2" r="6.8"/><circle cx="687.5" cy="470.9" r="6.8"/><circle cx="693.9" cy="455.0" r="6.8"/><circle cx="757.0" cy="430.4" r="6.8"/><circle cx="722.6" cy="453.1" r="6.8"/><circle cx="662.5" cy="484.4" r="6.8"/><circle cx="764.2" cy="438.4" r="6.8"/><circle cx="771.2" cy="414.2" r="6.8"/><circle cx="713.7" cy="449.7" r="6.8"/><circle cx="701.5" cy="459.5" r="6.8"/><circle cx="778.7" cy="417.0" r="6.8"/><circle cx="748.4" cy="447.5" r="6.8"/><circle cx="682.8" cy="456.6" r="6.8"/><circle cx="756.2" cy="419.0" r="6.8"/><circle cx="693.0" cy="459.5" r="6.8"/><circle cx="715.8" cy="452.2" r="6.8"/><circle cx="723.8" cy="434.7" r="6.8"/><circle cx="763.6" cy="434.4" r="6.8"/><circle cx="777.6" cy="407.1" r="6.8"/><circle cx="745.0" cy="438.7" r="6.8"/><circle cx="771.6" cy="423.1" r="6.8"/><circle cx="716.7" cy="444.2" r="6.8"/><circle cx="705.8" cy="457.4" r="6.8"/><circle cx="761.3" cy="421.6" r="6.8"/><circle cx="707.5" cy="444.2" r="6.8"/><circle cx="740.2" cy="440.9" r="6.8"/><circle cx="725.7" cy="439.7" r="6.8"/><circle cx="670.6" cy="492.3" r="6.8"/><circle cx="769.7" cy="432.3" r="6.8"/><circle cx="695.7" cy="453.0" r="6.8"/><circle cx="769.6" cy="419.8" r="6.8"/><circle cx="745.9" cy="441.5" r="6.8"/><circle cx="788.0" cy="414.6" r="6.8"/><circle cx="770.5" cy="429.2" r="6.8"/><circle cx="660.2" cy="482.7" r="6.8"/><circle cx="666.8" cy="476.1" r="6.8"/><circle cx="757.6" cy="422.8" r="6.8"/><circle cx="723.1" cy="450.9" r="6.8"/><circle cx="675.8" cy="473.4" r="6.8"/><circle cx="801.0" cy="472.0" r="6.8"/><circle cx="783.1" cy="471.5" r="6.8"/><circle cx="795.9" cy="443.6" r="6.8"/><circle cx="802.1" cy="449.5" r="6.8"/><circle cx="792.2" cy="460.7" r="6.8"/><circle cx="797.0" cy="427.4" r="6.8"/><circle cx="780.0" cy="481.2" r="6.8"/><circle cx="795.6" cy="485.4" r="6.8"/><circle cx="805.7" cy="429.0" r="6.8"/><circle cx="799.4" cy="463.9" r="6.8"/><circle cx="791.1" cy="432.0" r="6.8"/><circle cx="790.8" cy="437.8" r="6.8"/><circle cx="792.0" cy="479.0" r="6.8"/><circle cx="794.1" cy="421.0" r="6.8"/><circle cx="780.4" cy="429.1" r="6.8"/><circle cx="778.8" cy="484.1" r="6.8"/><circle cx="796.5" cy="470.6" r="6.8"/><circle cx="795.8" cy="457.2" r="6.8"/><circle cx="786.9" cy="466.8" r="6.8"/><circle cx="793.6" cy="448.3" r="6.8"/><circle cx="790.8" cy="492.3" r="6.8"/><circle cx="789.8" cy="456.7" r="6.8"/><circle cx="811.2" cy="441.6" r="6.8"/><circle cx="785.4" cy="434.0" r="6.8"/><circle cx="812.6" cy="447.4" r="6.8"/><circle cx="794.6" cy="483.6" r="6.8"/><circle cx="807.2" cy="456.8" r="6.8"/><circle cx="777.9" cy="422.6" r="6.8"/><circle cx="795.7" cy="490.7" r="6.8"/><circle cx="800.4" cy="456.6" r="6.8"/><circle cx="781.4" cy="431.4" r="6.8"/><circle cx="796.2" cy="438.9" r="6.8"/><circle cx="754.7" cy="445.0" r="6.8"/><circle cx="766.2" cy="478.4" r="6.8"/><circle cx="763.6" cy="466.2" r="6.8"/><circle cx="777.1" cy="473.3" r="6.8"/><circle cx="756.5" cy="449.1" r="6.8"/><circle cx="763.7" cy="481.7" r="6.8"/><circle cx="777.4" cy="470.1" r="6.8"/><circle cx="765.5" cy="452.4" r="6.8"/><circle cx="778.1" cy="479.0" r="6.8"/><circle cx="754.7" cy="455.2" r="6.8"/><circle cx="762.0" cy="464.9" r="6.8"/><circle cx="763.6" cy="455.7" r="6.8"/><circle cx="761.8" cy="443.7" r="6.8"/><circle cx="708.5" cy="483.7" r="6.8"/><circle cx="698.5" cy="489.2" r="6.8"/><circle cx="702.0" cy="482.7" r="6.8"/><circle cx="808.0" cy="614.7" r="6.8"/><circle cx="790.0" cy="621.2" r="6.8"/><circle cx="704.8" cy="638.8" r="6.8"/><circle cx="752.9" cy="621.7" r="6.8"/><circle cx="735.3" cy="624.5" r="6.8"/><circle cx="689.1" cy="643.4" r="6.8"/><circle cx="825.2" cy="605.8" r="6.8"/><circle cx="807.2" cy="625.2" r="6.8"/><circle cx="802.4" cy="629.8" r="6.8"/><circle cx="726.4" cy="626.0" r="6.8"/><circle cx="792.8" cy="619.3" r="6.8"/><circle cx="792.2" cy="625.2" r="6.8"/><circle cx="734.6" cy="626.9" r="6.8"/><circle cx="743.8" cy="636.5" r="6.8"/><circle cx="786.8" cy="634.3" r="6.8"/><circle cx="757.9" cy="632.1" r="6.8"/><circle cx="707.2" cy="633.2" r="6.8"/><circle cx="839.1" cy="623.8" r="6.8"/><circle cx="840.4" cy="604.8" r="6.8"/><circle cx="813.7" cy="624.4" r="6.8"/><circle cx="836.7" cy="613.5" r="6.8"/><circle cx="733.7" cy="631.3" r="6.8"/><circle cx="817.7" cy="612.1" r="6.8"/><circle cx="769.9" cy="624.3" r="6.8"/><circle cx="696.4" cy="640.2" r="6.8"/><circle cx="753.0" cy="631.6" r="6.8"/><circle cx="758.6" cy="622.5" r="6.8"/><circle cx="774.4" cy="626.2" r="6.8"/><circle cx="765.7" cy="616.4" r="6.8"/><circle cx="741.9" cy="624.2" r="6.8"/><circle cx="800.5" cy="622.7" r="6.8"/><circle cx="772.9" cy="628.5" r="6.8"/><circle cx="833.7" cy="608.5" r="6.8"/><circle cx="730.0" cy="621.2" r="6.8"/><circle cx="706.9" cy="642.0" r="6.8"/><circle cx="801.1" cy="621.0" r="6.8"/><circle cx="693.3" cy="654.4" r="6.8"/><circle cx="829.1" cy="610.1" r="6.8"/><circle cx="830.0" cy="619.1" r="6.8"/><circle cx="724.3" cy="632.7" r="6.8"/><circle cx="784.6" cy="623.7" r="6.8"/><circle cx="842.7" cy="608.8" r="6.8"/><circle cx="774.3" cy="617.0" r="6.8"/><circle cx="843.7" cy="612.7" r="6.8"/><circle cx="756.2" cy="618.4" r="6.8"/><circle cx="710.7" cy="646.5" r="6.8"/><circle cx="699.2" cy="637.0" r="6.8"/><circle cx="721.9" cy="623.8" r="6.8"/><circle cx="797.1" cy="621.7" r="6.8"/><circle cx="752.5" cy="624.7" r="6.8"/><circle cx="690.4" cy="638.5" r="6.8"/><circle cx="747.9" cy="619.8" r="6.8"/><circle cx="733.1" cy="620.1" r="6.8"/><circle cx="801.8" cy="634.0" r="6.8"/><circle cx="825.2" cy="624.1" r="6.8"/><circle cx="812.2" cy="613.6" r="6.8"/><circle cx="802.0" cy="617.6" r="6.8"/><circle cx="817.3" cy="625.3" r="6.8"/><circle cx="795.1" cy="634.0" r="6.8"/><circle cx="701.5" cy="646.9" r="6.8"/><circle cx="736.8" cy="638.0" r="6.8"/><circle cx="841.3" cy="622.1" r="6.8"/><circle cx="704.2" cy="644.0" r="6.8"/><circle cx="814.7" cy="622.5" r="6.8"/><circle cx="698.5" cy="633.1" r="6.8"/><circle cx="927.5" cy="583.0" r="6.8"/><circle cx="905.2" cy="600.9" r="6.8"/><circle cx="907.7" cy="594.9" r="6.8"/><circle cx="915.7" cy="589.9" r="6.8"/><circle cx="923.1" cy="584.8" r="6.8"/><circle cx="967.6" cy="584.4" r="6.8"/><circle cx="915.6" cy="585.4" r="6.8"/><circle cx="940.9" cy="586.5" r="6.8"/><circle cx="936.8" cy="579.9" r="6.8"/><circle cx="485.0" cy="702.9" r="6.8"/><circle cx="464.3" cy="710.3" r="6.8"/><circle cx="396.3" cy="709.8" r="6.8"/><circle cx="483.6" cy="689.9" r="6.8"/><circle cx="455.9" cy="704.7" r="6.8"/><circle cx="408.1" cy="723.1" r="6.8"/><circle cx="470.3" cy="700.7" r="6.8"/><circle cx="424.8" cy="704.8" r="6.8"/><circle cx="461.9" cy="696.6" r="6.8"/><circle cx="456.7" cy="696.9" r="6.8"/><circle cx="418.5" cy="722.8" r="6.8"/><circle cx="449.1" cy="707.8" r="6.8"/><circle cx="383.6" cy="708.6" r="6.8"/><circle cx="413.9" cy="713.0" r="6.8"/><circle cx="415.8" cy="717.2" r="6.8"/><circle cx="477.8" cy="708.0" r="6.8"/><circle cx="447.0" cy="714.5" r="6.8"/><circle cx="405.3" cy="713.1" r="6.8"/><circle cx="477.0" cy="697.7" r="6.8"/><circle cx="496.6" cy="701.0" r="6.8"/><circle cx="388.6" cy="715.2" r="6.8"/><circle cx="471.6" cy="690.8" r="6.8"/><circle cx="404.2" cy="717.7" r="6.8"/><circle cx="401.3" cy="712.0" r="6.8"/><circle cx="478.6" cy="688.1" r="6.8"/><circle cx="429.7" cy="706.5" r="6.8"/><circle cx="434.1" cy="707.6" r="6.8"/><circle cx="399.6" cy="704.0" r="6.8"/><circle cx="416.7" cy="707.9" r="6.8"/><circle cx="490.0" cy="700.9" r="6.8"/><circle cx="486.6" cy="693.5" r="6.8"/><circle cx="428.2" cy="723.7" r="6.8"/><circle cx="475.3" cy="699.4" r="6.8"/><circle cx="445.5" cy="703.9" r="6.8"/><circle cx="423.6" cy="715.8" r="6.8"/><circle cx="388.1" cy="720.9" r="6.8"/><circle cx="492.6" cy="690.8" r="6.8"/><circle cx="430.9" cy="718.0" r="6.8"/><circle cx="400.2" cy="707.0" r="6.8"/><circle cx="453.7" cy="709.7" r="6.8"/><circle cx="473.7" cy="691.4" r="6.8"/><circle cx="386.5" cy="713.7" r="6.8"/><circle cx="394.2" cy="717.4" r="6.8"/><circle cx="505.5" cy="701.1" r="6.8"/><circle cx="437.9" cy="704.2" r="6.8"/><circle cx="488.9" cy="688.4" r="6.8"/><circle cx="444.3" cy="698.2" r="6.8"/><circle cx="381.3" cy="722.5" r="6.8"/><circle cx="427.6" cy="719.2" r="6.8"/><circle cx="431.2" cy="711.5" r="6.8"/><circle cx="449.4" cy="703.1" r="6.8"/><circle cx="963.7" cy="320.2" r="6.8"/><circle cx="926.4" cy="309.5" r="6.8"/><circle cx="956.7" cy="328.7" r="6.8"/><circle cx="974.4" cy="316.4" r="6.8"/><circle cx="951.0" cy="319.9" r="6.8"/><circle cx="991.1" cy="309.1" r="6.8"/><circle cx="922.3" cy="332.8" r="6.8"/><circle cx="931.0" cy="328.7" r="6.8"/><circle cx="934.6" cy="332.3" r="6.8"/><circle cx="933.7" cy="325.3" r="6.8"/><circle cx="953.4" cy="313.1" r="6.8"/><circle cx="700.3" cy="314.3" r="6.8"/><circle cx="561.5" cy="323.6" r="6.8"/><circle cx="781.0" cy="332.2" r="6.8"/><circle cx="646.4" cy="319.1" r="6.8"/><circle cx="669.1" cy="337.0" r="6.8"/><circle cx="799.6" cy="339.8" r="6.8"/><circle cx="588.4" cy="316.5" r="6.8"/><circle cx="734.1" cy="318.5" r="6.8"/><circle cx="565.9" cy="339.7" r="6.8"/><circle cx="708.7" cy="313.8" r="6.8"/><circle cx="630.6" cy="317.5" r="6.8"/><circle cx="677.3" cy="325.6" r="6.8"/><circle cx="688.7" cy="316.8" r="6.8"/><circle cx="553.5" cy="341.9" r="6.8"/><circle cx="597.9" cy="315.9" r="6.8"/><circle cx="784.2" cy="340.9" r="6.8"/><circle cx="646.4" cy="333.3" r="6.8"/><circle cx="601.5" cy="332.0" r="6.8"/><circle cx="694.0" cy="330.7" r="6.8"/><circle cx="759.9" cy="325.1" r="6.8"/><circle cx="785.8" cy="338.2" r="6.8"/><circle cx="634.7" cy="328.4" r="6.8"/><circle cx="692.0" cy="326.9" r="6.8"/><circle cx="753.6" cy="306.8" r="6.8"/><circle cx="587.5" cy="320.9" r="6.8"/><circle cx="570.7" cy="320.3" r="6.8"/><circle cx="577.7" cy="338.7" r="6.8"/><circle cx="740.4" cy="308.1" r="6.8"/><circle cx="595.5" cy="326.5" r="6.8"/><circle cx="782.7" cy="334.3" r="6.8"/><circle cx="704.8" cy="331.6" r="6.8"/><circle cx="671.1" cy="317.5" r="6.8"/><circle cx="598.3" cy="318.9" r="6.8"/><circle cx="713.7" cy="316.5" r="6.8"/><circle cx="597.4" cy="322.9" r="6.8"/><circle cx="743.2" cy="318.5" r="6.8"/><circle cx="697.3" cy="329.2" r="6.8"/><circle cx="736.0" cy="310.1" r="6.8"/><circle cx="598.1" cy="330.8" r="6.8"/><circle cx="640.5" cy="313.7" r="6.8"/><circle cx="586.4" cy="335.0" r="6.8"/><circle cx="578.4" cy="371.2" r="6.8"/><circle cx="633.3" cy="385.3" r="6.8"/><circle cx="650.2" cy="379.7" r="6.8"/><circle cx="629.1" cy="410.6" r="6.8"/><circle cx="667.0" cy="435.9" r="6.8"/><circle cx="660.0" cy="410.6" r="6.8"/><circle cx="650.2" cy="362.8" r="6.8"/><circle cx="668.4" cy="376.9" r="6.8"/><circle cx="682.5" cy="399.4" r="6.8"/><circle cx="693.8" cy="405.0" r="6.8"/><circle cx="676.9" cy="407.8" r="6.8"/><circle cx="674.1" cy="369.8" r="6.8"/><circle cx="740.2" cy="378.3" r="6.8"/><circle cx="741.6" cy="401.6" r="6.8"/><circle cx="804.3" cy="404.2" r="6.8"/><circle cx="676.9" cy="561.1" r="6.8"/><circle cx="683.9" cy="554.1" r="6.8"/><circle cx="690.9" cy="560.2" r="6.8"/><circle cx="681.1" cy="556.9" r="6.8"/><circle cx="655.2" cy="568.1" r="6.8"/><circle cx="713.4" cy="513.3" r="6.8"/><circle cx="728.9" cy="586.4" r="6.8"/><circle cx="741.6" cy="559.1" r="6.8"/><circle cx="494.1" cy="412.0" r="6.8"/><circle cx="499.7" cy="441.6" r="6.8"/><circle cx="516.6" cy="433.1" r="6.8"/><circle cx="495.5" cy="396.6" r="6.8"/><circle cx="485.6" cy="402.2" r="6.8"/><circle cx="540.5" cy="399.4" r="6.8"/><circle cx="554.5" cy="374.1" r="6.8"/><circle cx="496.9" cy="365.6" r="6.8"/><circle cx="487.0" cy="376.9" r="6.8"/><circle cx="505.3" cy="371.2" r="6.8"/><circle cx="578.4" cy="412.0" r="6.8"/><circle cx="595.3" cy="405.0" r="6.8"/><circle cx="609.4" cy="407.8" r="6.8"/><circle cx="678.0" cy="559.7" r="6.8"/><circle cx="685.0" cy="555.5" r="6.8"/><circle cx="690.6" cy="560.2" r="6.8"/><circle cx="682.2" cy="556.9" r="6.8"/><circle cx="655.5" cy="568.1" r="6.8"/><circle cx="741.2" cy="559.1" r="6.8"/><circle cx="752.5" cy="554.1" r="6.8"/><circle cx="763.8" cy="559.7" r="6.8"/><circle cx="769.4" cy="548.4" r="6.8"/><circle cx="775.0" cy="541.4" r="6.8"/><circle cx="756.7" cy="558.3" r="6.8"/><circle cx="729.4" cy="587.0" r="6.8"/><circle cx="725.2" cy="604.1" r="6.8"/><circle cx="672.3" cy="620.2" r="6.8"/><circle cx="661.9" cy="635.6" r="6.8"/><circle cx="663.9" cy="649.1" r="6.8"/><circle cx="655.5" cy="660.4" r="6.8"/><circle cx="816.3" cy="556.9" r="6.8"/><circle cx="820.0" cy="588.4" r="6.8"/><circle cx="827.6" cy="652.5" r="6.8"/><circle cx="843.3" cy="731.2" r="6.8"/><circle cx="917.0" cy="544.2" r="6.8"/><circle cx="456.1" cy="786.6" r="6.8"/><circle cx="466.5" cy="812.7" r="6.8"/><circle cx="467.9" cy="857.7" r="6.8"/><circle cx="433.6" cy="870.4" r="6.8"/><circle cx="535.7" cy="705.0" r="6.8"/><circle cx="526.4" cy="712.0" r="6.8"/><circle cx="557.3" cy="703.6" r="6.8"/><circle cx="562.1" cy="721.0" r="6.8"/><circle cx="574.2" cy="662.2" r="6.8"/><circle cx="581.2" cy="663.4" r="6.8"/><circle cx="586.9" cy="660.6" r="6.8"/><circle cx="496.3" cy="873.8" r="6.8"/><circle cx="506.7" cy="886.4" r="6.8"/><circle cx="318.3" cy="880.8" r="6.8"/><circle cx="311.2" cy="893.4" r="6.8"/><circle cx="304.2" cy="896.2" r="6.8"/><circle cx="315.5" cy="897.7" r="6.8"/><circle cx="223.8" cy="410.9" r="6.8"/><circle cx="233.6" cy="396.9" r="6.8"/><circle cx="242.0" cy="398.3" r="6.8"/><circle cx="209.7" cy="382.8" r="6.8"/><circle cx="251.9" cy="408.1" r="6.8"/><circle cx="265.4" cy="403.1" r="6.8"/><circle cx="261.7" cy="410.9" r="6.8"/><circle cx="432.4" cy="447.5" r="6.8"/><circle cx="424.3" cy="476.5" r="6.8"/><circle cx="458.6" cy="465.8" r="6.8"/><circle cx="451.6" cy="513.0" r="6.8"/><circle cx="399.5" cy="486.9" r="6.8"/><circle cx="927.1" cy="348.3" r="6.8"/><circle cx="949.1" cy="331.4" r="6.8"/><circle cx="961.7" cy="337.0" r="6.8"/><circle cx="974.4" cy="334.2" r="6.8"/><circle cx="949.1" cy="290.1" r="6.8"/><circle cx="968.8" cy="300.5" r="6.8"/><circle cx="989.0" cy="266.2" r="6.8"/><circle cx="800.0" cy="270.9" r="6.8"/><circle cx="819.1" cy="297.7" r="6.8"/><circle cx="826.7" cy="310.3" r="6.8"/><circle cx="800.0" cy="349.7" r="6.8"/><circle cx="895.1" cy="366.6" r="6.8"/><circle cx="909.7" cy="375.0" r="6.8"/><circle cx="880.2" cy="351.1" r="6.8"/><circle cx="854.8" cy="401.7" r="6.8"/><circle cx="895.6" cy="434.1" r="6.8"/><circle cx="906.9" cy="441.1" r="6.8"/><circle cx="929.4" cy="435.5" r="6.8"/><circle cx="937.8" cy="420.0" r="6.8"/><circle cx="1041.9" cy="439.7" r="6.8"/><circle cx="1086.3" cy="444.8" r="6.8"/><circle cx="1078.4" cy="465.0" r="6.8"/><circle cx="1099.5" cy="469.2" r="6.8"/><circle cx="805.6" cy="404.0" r="6.8"/><circle cx="823.1" cy="404.5" r="6.8"/><circle cx="842.2" cy="445.3" r="6.8"/><circle cx="808.4" cy="453.8" r="6.8"/><circle cx="819.7" cy="465.0" r="6.8"/><circle cx="835.2" cy="473.4" r="6.8"/><circle cx="220.4" cy="356.9" r="6.8"/><circle cx="239.2" cy="337.2" r="6.8"/><circle cx="275.2" cy="296.4" r="6.8"/><circle cx="228.0" cy="323.1" r="6.8"/><circle cx="233.6" cy="394.8" r="6.8"/><circle cx="242.0" cy="396.2" r="6.8"/><circle cx="260.3" cy="363.9" r="6.8"/><circle cx="651.9" cy="908.4" r="6.8"/><circle cx="705.3" cy="929.5" r="6.8"/><circle cx="761.6" cy="935.2" r="6.8"/><circle cx="762.1" cy="942.2" r="6.8"/><circle cx="674.4" cy="939.4" r="6.8"/><circle cx="665.9" cy="918.3" r="6.8"/><circle cx="664.5" cy="921.1" r="6.8"/><circle cx="477.3" cy="984.1" r="6.8"/><circle cx="488.0" cy="967.2" r="6.8"/><circle cx="760.8" cy="936.2" r="6.8"/><circle cx="761.6" cy="943.3" r="6.8"/><circle cx="750.9" cy="953.7" r="6.8"/><circle cx="704.5" cy="930.1" r="6.8"/><circle cx="576.4" cy="328.8" r="6.8"/><circle cx="580.6" cy="333.0" r="6.8"/><circle cx="584.8" cy="352.7" r="6.8"/><circle cx="603.1" cy="347.0" r="6.8"/><circle cx="610.2" cy="354.9" r="6.8"/><circle cx="638.3" cy="344.2" r="6.8"/><circle cx="651.8" cy="337.2" r="6.8"/><circle cx="650.4" cy="361.9" r="6.8"/><circle cx="650.9" cy="379.4" r="6.8"/><circle cx="577.8" cy="370.9" r="6.8"/><circle cx="555.3" cy="370.9" r="6.8"/><circle cx="553.9" cy="375.2" r="6.8"/><circle cx="670.6" cy="347.0" r="6.8"/><circle cx="676.2" cy="362.5" r="6.8"/><circle cx="687.5" cy="361.1" r="6.8"/><circle cx="733.9" cy="326.8" r="6.8"/><circle cx="755.0" cy="337.8" r="6.8"/><circle cx="739.5" cy="378.0" r="6.8"/><circle cx="745.2" cy="348.4" r="6.8"/><circle cx="667.8" cy="205.0" r="6.8"/><circle cx="576.4" cy="214.3" r="6.8"/><circle cx="621.4" cy="224.1" r="6.8"/><circle cx="764.8" cy="237.3" r="6.8"/><circle cx="770.5" cy="247.8" r="6.8"/><circle cx="673.4" cy="244.4" r="6.8"/><circle cx="639.7" cy="306.2" r="6.8"/><circle cx="643.9" cy="325.9" r="6.8"/><circle cx="795.8" cy="271.9" r="6.8"/><circle cx="915.2" cy="754.3" r="6.8"/><circle cx="907.3" cy="769.2" r="6.8"/><circle cx="969.2" cy="774.8" r="6.8"/><circle cx="842.9" cy="731.2" r="6.8"/><circle cx="845.5" cy="797.3" r="6.8"/><circle cx="837.0" cy="795.9" r="6.8"/><circle cx="1029.7" cy="809.4" r="6.8"/><circle cx="318.5" cy="881.1" r="6.8"/><circle cx="312.2" cy="893.8" r="6.8"/><circle cx="298.8" cy="898.0" r="6.8"/><circle cx="308.0" cy="902.2" r="6.8"/><circle cx="296.7" cy="905.0" r="6.8"/><circle cx="292.5" cy="914.8" r="6.8"/><circle cx="291.1" cy="908.5" r="6.8"/><circle cx="309.4" cy="896.6" r="6.8"/><circle cx="325.5" cy="914.8" r="6.8"/><circle cx="337.5" cy="922.6" r="6.8"/><circle cx="355.8" cy="940.2" r="6.8"/><circle cx="370.5" cy="953.5" r="6.8"/><circle cx="368.4" cy="959.8" r="6.8"/><circle cx="357.9" cy="966.9" r="6.8"/><circle cx="398.0" cy="938.0" r="6.8"/><circle cx="823.4" cy="490.2" r="6.8"/><circle cx="812.8" cy="494.5" r="6.8"/><circle cx="828.3" cy="501.5" r="6.8"/><circle cx="838.1" cy="501.5" r="6.8"/><circle cx="837.4" cy="512.0" r="6.8"/><circle cx="848.7" cy="505.0" r="6.8"/><circle cx="859.9" cy="486.0" r="6.8"/><circle cx="867.0" cy="483.9" r="6.8"/><circle cx="860.6" cy="502.2" r="6.8"/><circle cx="881.7" cy="520.5" r="6.8"/><circle cx="832.2" cy="525.4" r="6.8"/><circle cx="827.6" cy="534.5" r="6.8"/><circle cx="907.7" cy="488.1" r="6.8"/><circle cx="925.3" cy="509.9" r="6.8"/><circle cx="1099.8" cy="469.8" r="6.8"/><circle cx="577.5" cy="658.7" r="6.8"/><circle cx="575.0" cy="655.0" r="6.8"/><circle cx="585.0" cy="655.0" r="6.8"/><circle cx="590.0" cy="651.0" r="6.8"/><circle cx="577.5" cy="662.5" r="6.8"/>
</g>
<g fill="#97c7e0">
<circle cx="1003.8" cy="495.1" r="6.8"/><circle cx="1000.7" cy="484.4" r="6.8"/><circle cx="1030.9" cy="494.0" r="6.8"/><circle cx="1024.5" cy="494.9" r="6.8"/><circle cx="458.5" cy="649.2" r="6.8"/><circle cx="644.4" cy="739.0" r="6.8"/><circle cx="679.2" cy="738.9" r="6.8"/><circle cx="712.2" cy="736.6" r="6.8"/><circle cx="575.9" cy="755.4" r="6.8"/><circle cx="560.3" cy="744.8" r="6.8"/><circle cx="596.1" cy="758.9" r="6.8"/><circle cx="595.4" cy="750.8" r="6.8"/><circle cx="610.5" cy="749.9" r="6.8"/><circle cx="641.4" cy="754.7" r="6.8"/><circle cx="653.1" cy="746.4" r="6.8"/><circle cx="679.2" cy="759.3" r="6.8"/><circle cx="674.4" cy="745.6" r="6.8"/><circle cx="669.3" cy="750.5" r="6.8"/><circle cx="673.4" cy="757.0" r="6.8"/><circle cx="696.8" cy="747.8" r="6.8"/><circle cx="687.5" cy="750.4" r="6.8"/><circle cx="690.1" cy="740.4" r="6.8"/><circle cx="686.5" cy="741.6" r="6.8"/><circle cx="686.3" cy="756.8" r="6.8"/><circle cx="709.4" cy="746.2" r="6.8"/><circle cx="717.3" cy="748.5" r="6.8"/><circle cx="705.1" cy="742.9" r="6.8"/><circle cx="704.1" cy="756.6" r="6.8"/><circle cx="731.5" cy="750.2" r="6.8"/><circle cx="726.1" cy="754.1" r="6.8"/><circle cx="573.8" cy="769.3" r="6.8"/><circle cx="569.9" cy="764.0" r="6.8"/><circle cx="571.8" cy="760.1" r="6.8"/><circle cx="586.6" cy="769.6" r="6.8"/><circle cx="587.0" cy="776.3" r="6.8"/><circle cx="598.7" cy="771.9" r="6.8"/><circle cx="611.6" cy="760.2" r="6.8"/><circle cx="619.5" cy="776.3" r="6.8"/><circle cx="607.9" cy="761.9" r="6.8"/><circle cx="630.4" cy="764.6" r="6.8"/><circle cx="630.2" cy="777.5" r="6.8"/><circle cx="647.1" cy="773.1" r="6.8"/><circle cx="654.2" cy="771.7" r="6.8"/><circle cx="643.3" cy="777.1" r="6.8"/><circle cx="641.6" cy="773.6" r="6.8"/><circle cx="653.0" cy="779.1" r="6.8"/><circle cx="669.1" cy="777.9" r="6.8"/><circle cx="679.5" cy="773.0" r="6.8"/><circle cx="667.9" cy="763.9" r="6.8"/><circle cx="671.3" cy="770.5" r="6.8"/><circle cx="680.0" cy="767.6" r="6.8"/><circle cx="689.0" cy="766.6" r="6.8"/><circle cx="692.7" cy="777.3" r="6.8"/><circle cx="683.7" cy="777.6" r="6.8"/><circle cx="717.5" cy="773.8" r="6.8"/><circle cx="713.8" cy="764.9" r="6.8"/><circle cx="727.3" cy="767.6" r="6.8"/><circle cx="726.8" cy="762.4" r="6.8"/><circle cx="734.1" cy="775.3" r="6.8"/><circle cx="736.5" cy="774.7" r="6.8"/><circle cx="569.5" cy="791.8" r="6.8"/><circle cx="562.5" cy="783.9" r="6.8"/><circle cx="596.5" cy="795.9" r="6.8"/><circle cx="613.7" cy="784.7" r="6.8"/><circle cx="618.3" cy="786.7" r="6.8"/><circle cx="603.7" cy="795.0" r="6.8"/><circle cx="625.8" cy="789.9" r="6.8"/><circle cx="635.2" cy="789.3" r="6.8"/><circle cx="637.3" cy="794.4" r="6.8"/><circle cx="621.9" cy="797.4" r="6.8"/><circle cx="654.9" cy="790.9" r="6.8"/><circle cx="648.6" cy="797.2" r="6.8"/><circle cx="651.7" cy="787.5" r="6.8"/><circle cx="645.5" cy="789.7" r="6.8"/><circle cx="642.2" cy="781.1" r="6.8"/><circle cx="673.3" cy="791.5" r="6.8"/><circle cx="695.9" cy="780.5" r="6.8"/><circle cx="714.4" cy="792.5" r="6.8"/><circle cx="708.3" cy="784.6" r="6.8"/><circle cx="703.4" cy="782.2" r="6.8"/><circle cx="733.9" cy="787.1" r="6.8"/><circle cx="728.7" cy="784.0" r="6.8"/><circle cx="737.0" cy="800.0" r="6.8"/><circle cx="722.2" cy="798.0" r="6.8"/><circle cx="725.5" cy="791.8" r="6.8"/><circle cx="562.9" cy="801.3" r="6.8"/><circle cx="585.3" cy="815.4" r="6.8"/><circle cx="601.0" cy="809.4" r="6.8"/><circle cx="612.0" cy="813.6" r="6.8"/><circle cx="639.2" cy="808.4" r="6.8"/><circle cx="634.4" cy="812.6" r="6.8"/><circle cx="645.8" cy="818.6" r="6.8"/><circle cx="653.5" cy="812.8" r="6.8"/><circle cx="649.4" cy="800.6" r="6.8"/><circle cx="666.9" cy="807.6" r="6.8"/><circle cx="674.3" cy="801.8" r="6.8"/><circle cx="669.0" cy="800.8" r="6.8"/><circle cx="684.3" cy="801.0" r="6.8"/><circle cx="684.9" cy="809.7" r="6.8"/><circle cx="693.5" cy="812.0" r="6.8"/><circle cx="689.4" cy="802.0" r="6.8"/><circle cx="705.7" cy="816.0" r="6.8"/><circle cx="722.3" cy="815.4" r="6.8"/><circle cx="724.1" cy="818.8" r="6.8"/><circle cx="721.8" cy="810.3" r="6.8"/><circle cx="557.8" cy="831.2" r="6.8"/><circle cx="594.9" cy="836.7" r="6.8"/><circle cx="582.8" cy="827.1" r="6.8"/><circle cx="617.7" cy="823.3" r="6.8"/><circle cx="617.5" cy="837.5" r="6.8"/><circle cx="614.0" cy="833.1" r="6.8"/><circle cx="617.1" cy="839.7" r="6.8"/><circle cx="636.9" cy="829.3" r="6.8"/><circle cx="656.0" cy="828.6" r="6.8"/><circle cx="649.9" cy="822.2" r="6.8"/><circle cx="646.5" cy="821.9" r="6.8"/><circle cx="668.1" cy="831.8" r="6.8"/><circle cx="678.4" cy="836.7" r="6.8"/><circle cx="691.0" cy="834.5" r="6.8"/><circle cx="686.6" cy="835.6" r="6.8"/><circle cx="683.2" cy="828.3" r="6.8"/><circle cx="684.7" cy="820.5" r="6.8"/><circle cx="718.2" cy="836.5" r="6.8"/><circle cx="700.9" cy="821.5" r="6.8"/><circle cx="703.0" cy="825.6" r="6.8"/><circle cx="715.7" cy="824.3" r="6.8"/><circle cx="732.7" cy="821.7" r="6.8"/><circle cx="733.1" cy="834.4" r="6.8"/><circle cx="726.2" cy="834.8" r="6.8"/><circle cx="726.1" cy="826.4" r="6.8"/><circle cx="568.2" cy="856.9" r="6.8"/><circle cx="572.6" cy="841.5" r="6.8"/><circle cx="578.8" cy="849.4" r="6.8"/><circle cx="565.4" cy="842.5" r="6.8"/><circle cx="568.4" cy="849.9" r="6.8"/><circle cx="563.5" cy="850.5" r="6.8"/><circle cx="594.3" cy="849.6" r="6.8"/><circle cx="593.5" cy="857.4" r="6.8"/><circle cx="593.6" cy="844.5" r="6.8"/><circle cx="585.8" cy="840.5" r="6.8"/><circle cx="586.1" cy="851.2" r="6.8"/><circle cx="634.9" cy="852.6" r="6.8"/><circle cx="636.2" cy="841.3" r="6.8"/><circle cx="627.9" cy="845.5" r="6.8"/><circle cx="659.7" cy="859.9" r="6.8"/><circle cx="655.2" cy="841.2" r="6.8"/><circle cx="671.2" cy="847.2" r="6.8"/><circle cx="665.2" cy="841.2" r="6.8"/><circle cx="698.4" cy="856.4" r="6.8"/><circle cx="697.0" cy="850.9" r="6.8"/><circle cx="684.9" cy="846.5" r="6.8"/><circle cx="708.6" cy="855.9" r="6.8"/><circle cx="732.8" cy="855.3" r="6.8"/><circle cx="556.7" cy="879.7" r="6.8"/><circle cx="564.8" cy="868.1" r="6.8"/><circle cx="579.1" cy="869.4" r="6.8"/><circle cx="564.5" cy="876.0" r="6.8"/><circle cx="594.1" cy="864.7" r="6.8"/><circle cx="605.8" cy="863.4" r="6.8"/><circle cx="612.3" cy="876.4" r="6.8"/><circle cx="618.9" cy="879.3" r="6.8"/><circle cx="616.2" cy="865.9" r="6.8"/><circle cx="634.3" cy="870.6" r="6.8"/><circle cx="629.5" cy="862.5" r="6.8"/><circle cx="635.7" cy="877.0" r="6.8"/><circle cx="653.6" cy="871.0" r="6.8"/><circle cx="651.3" cy="873.6" r="6.8"/><circle cx="655.4" cy="878.4" r="6.8"/><circle cx="650.6" cy="866.5" r="6.8"/><circle cx="677.9" cy="878.8" r="6.8"/><circle cx="674.1" cy="865.8" r="6.8"/><circle cx="664.8" cy="869.9" r="6.8"/><circle cx="680.1" cy="860.6" r="6.8"/><circle cx="706.1" cy="873.7" r="6.8"/><circle cx="710.8" cy="861.8" r="6.8"/><circle cx="719.8" cy="876.2" r="6.8"/><circle cx="739.0" cy="875.4" r="6.8"/><circle cx="732.9" cy="863.1" r="6.8"/><circle cx="725.0" cy="872.8" r="6.8"/><circle cx="814.9" cy="977.2" r="6.8"/><circle cx="819.7" cy="962.1" r="6.8"/><circle cx="810.2" cy="986.0" r="6.8"/><circle cx="605.8" cy="564.9" r="6.8"/><circle cx="621.7" cy="515.3" r="6.8"/><circle cx="501.8" cy="486.5" r="6.8"/><circle cx="552.9" cy="455.5" r="6.8"/><circle cx="550.7" cy="440.4" r="6.8"/><circle cx="565.4" cy="428.4" r="6.8"/><circle cx="580.6" cy="485.0" r="6.8"/><circle cx="642.8" cy="486.5" r="6.8"/><circle cx="631.3" cy="542.8" r="6.8"/><circle cx="634.3" cy="481.4" r="6.8"/><circle cx="594.9" cy="475.8" r="6.8"/><circle cx="552.3" cy="514.1" r="6.8"/><circle cx="509.9" cy="462.7" r="6.8"/><circle cx="600.8" cy="419.5" r="6.8"/><circle cx="550.6" cy="447.2" r="6.8"/><circle cx="635.8" cy="471.7" r="6.8"/><circle cx="566.0" cy="453.8" r="6.8"/><circle cx="541.5" cy="439.2" r="6.8"/><circle cx="563.7" cy="489.9" r="6.8"/><circle cx="602.1" cy="451.8" r="6.8"/><circle cx="603.2" cy="560.5" r="6.8"/><circle cx="525.1" cy="531.3" r="6.8"/><circle cx="533.4" cy="484.1" r="6.8"/><circle cx="607.7" cy="447.7" r="6.8"/><circle cx="519.9" cy="524.8" r="6.8"/><circle cx="645.5" cy="451.1" r="6.8"/><circle cx="566.9" cy="568.4" r="6.8"/><circle cx="607.2" cy="517.2" r="6.8"/><circle cx="590.8" cy="542.1" r="6.8"/><circle cx="648.0" cy="522.7" r="6.8"/><circle cx="526.7" cy="512.3" r="6.8"/><circle cx="605.4" cy="440.7" r="6.8"/><circle cx="542.3" cy="485.6" r="6.8"/><circle cx="564.4" cy="422.4" r="6.8"/><circle cx="569.7" cy="406.1" r="6.8"/><circle cx="571.5" cy="392.0" r="6.8"/><circle cx="525.0" cy="561.4" r="6.8"/><circle cx="623.6" cy="526.9" r="6.8"/><circle cx="610.3" cy="479.4" r="6.8"/><circle cx="619.4" cy="423.6" r="6.8"/><circle cx="616.8" cy="419.0" r="6.8"/><circle cx="548.0" cy="550.0" r="6.8"/><circle cx="645.2" cy="443.2" r="6.8"/><circle cx="579.1" cy="452.8" r="6.8"/><circle cx="573.9" cy="525.8" r="6.8"/><circle cx="571.1" cy="457.5" r="6.8"/><circle cx="643.5" cy="539.5" r="6.8"/><circle cx="559.6" cy="496.8" r="6.8"/><circle cx="516.6" cy="519.2" r="6.8"/><circle cx="632.9" cy="494.8" r="6.8"/><circle cx="574.3" cy="534.6" r="6.8"/><circle cx="604.1" cy="555.1" r="6.8"/><circle cx="596.6" cy="534.3" r="6.8"/><circle cx="552.6" cy="532.8" r="6.8"/><circle cx="530.8" cy="457.5" r="6.8"/><circle cx="646.2" cy="469.8" r="6.8"/><circle cx="582.8" cy="445.4" r="6.8"/><circle cx="564.7" cy="445.9" r="6.8"/><circle cx="593.5" cy="572.8" r="6.8"/><circle cx="575.4" cy="464.0" r="6.8"/><circle cx="655.5" cy="493.0" r="6.8"/><circle cx="627.7" cy="551.5" r="6.8"/><circle cx="591.3" cy="538.9" r="6.8"/><circle cx="548.8" cy="466.3" r="6.8"/><circle cx="599.1" cy="544.5" r="6.8"/><circle cx="652.2" cy="529.0" r="6.8"/><circle cx="610.6" cy="492.6" r="6.8"/><circle cx="594.1" cy="490.9" r="6.8"/><circle cx="575.2" cy="402.3" r="6.8"/><circle cx="636.4" cy="484.8" r="6.8"/><circle cx="553.4" cy="437.2" r="6.8"/><circle cx="894.5" cy="635.0" r="6.8"/><circle cx="946.1" cy="662.8" r="6.8"/><circle cx="946.5" cy="677.4" r="6.8"/><circle cx="903.3" cy="665.6" r="6.8"/><circle cx="925.3" cy="682.3" r="6.8"/><circle cx="892.9" cy="647.8" r="6.8"/><circle cx="975.5" cy="661.9" r="6.8"/><circle cx="870.3" cy="656.4" r="6.8"/><circle cx="948.0" cy="671.8" r="6.8"/><circle cx="896.5" cy="645.5" r="6.8"/><circle cx="971.0" cy="653.7" r="6.8"/><circle cx="900.2" cy="615.2" r="6.8"/><circle cx="913.5" cy="618.7" r="6.8"/><circle cx="893.0" cy="668.4" r="6.8"/><circle cx="831.9" cy="567.4" r="6.8"/><circle cx="844.6" cy="562.6" r="6.8"/><circle cx="846.8" cy="543.9" r="6.8"/><circle cx="872.8" cy="591.0" r="6.8"/><circle cx="879.4" cy="572.3" r="6.8"/><circle cx="850.4" cy="560.3" r="6.8"/><circle cx="872.0" cy="596.8" r="6.8"/><circle cx="837.2" cy="579.7" r="6.8"/><circle cx="755.5" cy="714.4" r="6.8"/><circle cx="721.8" cy="669.3" r="6.8"/><circle cx="697.9" cy="653.7" r="6.8"/><circle cx="730.3" cy="684.0" r="6.8"/><circle cx="828.6" cy="697.7" r="6.8"/><circle cx="846.4" cy="722.0" r="6.8"/><circle cx="665.9" cy="731.1" r="6.8"/><circle cx="681.8" cy="680.7" r="6.8"/><circle cx="807.4" cy="719.1" r="6.8"/><circle cx="825.6" cy="713.1" r="6.8"/><circle cx="698.6" cy="646.5" r="6.8"/><circle cx="727.6" cy="688.2" r="6.8"/><circle cx="652.3" cy="671.2" r="6.8"/><circle cx="671.1" cy="664.6" r="6.8"/><circle cx="718.7" cy="642.2" r="6.8"/><circle cx="768.8" cy="731.6" r="6.8"/><circle cx="712.2" cy="649.7" r="6.8"/><circle cx="802.3" cy="707.1" r="6.8"/><circle cx="687.5" cy="729.0" r="6.8"/><circle cx="688.9" cy="717.5" r="6.8"/><circle cx="667.2" cy="712.6" r="6.8"/><circle cx="680.6" cy="734.1" r="6.8"/><circle cx="658.2" cy="712.1" r="6.8"/><circle cx="640.9" cy="724.1" r="6.8"/><circle cx="660.4" cy="701.8" r="6.8"/><circle cx="679.6" cy="717.9" r="6.8"/><circle cx="697.8" cy="713.7" r="6.8"/><circle cx="702.4" cy="723.2" r="6.8"/><circle cx="398.4" cy="759.5" r="6.8"/><circle cx="353.7" cy="742.8" r="6.8"/><circle cx="373.1" cy="742.7" r="6.8"/><circle cx="504.1" cy="733.5" r="6.8"/><circle cx="513.6" cy="738.1" r="6.8"/><circle cx="402.5" cy="756.8" r="6.8"/><circle cx="389.4" cy="756.7" r="6.8"/><circle cx="365.1" cy="764.6" r="6.8"/><circle cx="476.3" cy="735.9" r="6.8"/><circle cx="382.4" cy="740.4" r="6.8"/><circle cx="398.2" cy="765.8" r="6.8"/><circle cx="458.6" cy="759.2" r="6.8"/><circle cx="489.0" cy="730.3" r="6.8"/><circle cx="418.5" cy="836.8" r="6.8"/><circle cx="423.5" cy="826.9" r="6.8"/><circle cx="423.3" cy="789.6" r="6.8"/><circle cx="408.5" cy="805.8" r="6.8"/><circle cx="631.4" cy="691.6" r="6.8"/><circle cx="604.6" cy="722.0" r="6.8"/><circle cx="596.2" cy="691.5" r="6.8"/><circle cx="600.3" cy="712.2" r="6.8"/><circle cx="496.4" cy="895.9" r="6.8"/><circle cx="501.9" cy="874.2" r="6.8"/><circle cx="491.2" cy="889.9" r="6.8"/><circle cx="511.8" cy="878.9" r="6.8"/><circle cx="504.1" cy="889.7" r="6.8"/><circle cx="551.1" cy="883.5" r="6.8"/><circle cx="520.8" cy="886.0" r="6.8"/><circle cx="538.2" cy="871.9" r="6.8"/><circle cx="533.8" cy="843.0" r="6.8"/><circle cx="508.4" cy="895.4" r="6.8"/><circle cx="522.0" cy="830.0" r="6.8"/><circle cx="517.5" cy="843.8" r="6.8"/><circle cx="535.0" cy="848.5" r="6.8"/><circle cx="486.5" cy="894.6" r="6.8"/><circle cx="548.3" cy="876.6" r="6.8"/><circle cx="448.5" cy="399.9" r="6.8"/><circle cx="443.6" cy="410.7" r="6.8"/><circle cx="468.3" cy="388.5" r="6.8"/><circle cx="431.9" cy="386.5" r="6.8"/><circle cx="463.4" cy="422.4" r="6.8"/><circle cx="469.6" cy="393.4" r="6.8"/><circle cx="429.6" cy="416.3" r="6.8"/><circle cx="433.9" cy="408.1" r="6.8"/><circle cx="459.0" cy="391.0" r="6.8"/><circle cx="438.4" cy="407.3" r="6.8"/><circle cx="464.9" cy="436.9" r="6.8"/><circle cx="468.4" cy="397.2" r="6.8"/><circle cx="433.0" cy="392.4" r="6.8"/><circle cx="481.9" cy="383.7" r="6.8"/><circle cx="339.1" cy="442.5" r="6.8"/><circle cx="407.3" cy="434.1" r="6.8"/><circle cx="322.9" cy="491.1" r="6.8"/><circle cx="348.6" cy="388.7" r="6.8"/><circle cx="360.2" cy="418.9" r="6.8"/><circle cx="290.8" cy="395.2" r="6.8"/><circle cx="326.8" cy="432.1" r="6.8"/><circle cx="311.9" cy="435.7" r="6.8"/><circle cx="313.4" cy="392.1" r="6.8"/><circle cx="374.2" cy="505.6" r="6.8"/><circle cx="394.1" cy="531.8" r="6.8"/><circle cx="385.0" cy="491.2" r="6.8"/><circle cx="329.6" cy="458.4" r="6.8"/><circle cx="354.5" cy="401.0" r="6.8"/><circle cx="358.1" cy="479.0" r="6.8"/><circle cx="282.8" cy="496.6" r="6.8"/><circle cx="374.3" cy="431.4" r="6.8"/><circle cx="353.7" cy="417.0" r="6.8"/><circle cx="312.9" cy="389.5" r="6.8"/><circle cx="382.7" cy="508.9" r="6.8"/><circle cx="305.3" cy="459.9" r="6.8"/><circle cx="308.0" cy="493.1" r="6.8"/><circle cx="284.6" cy="392.4" r="6.8"/><circle cx="297.5" cy="425.2" r="6.8"/><circle cx="347.6" cy="451.3" r="6.8"/><circle cx="286.7" cy="417.2" r="6.8"/><circle cx="401.4" cy="442.9" r="6.8"/><circle cx="367.0" cy="396.1" r="6.8"/><circle cx="386.8" cy="458.6" r="6.8"/><circle cx="315.0" cy="450.0" r="6.8"/><circle cx="296.3" cy="462.9" r="6.8"/><circle cx="341.4" cy="457.8" r="6.8"/><circle cx="407.7" cy="441.5" r="6.8"/><circle cx="317.2" cy="504.5" r="6.8"/><circle cx="403.5" cy="534.6" r="6.8"/><circle cx="335.7" cy="476.1" r="6.8"/><circle cx="413.9" cy="445.9" r="6.8"/><circle cx="375.2" cy="384.0" r="6.8"/><circle cx="309.0" cy="410.5" r="6.8"/><circle cx="292.6" cy="470.2" r="6.8"/><circle cx="364.1" cy="434.6" r="6.8"/><circle cx="280.4" cy="458.5" r="6.8"/><circle cx="397.3" cy="419.3" r="6.8"/><circle cx="408.7" cy="454.6" r="6.8"/><circle cx="355.5" cy="444.9" r="6.8"/><circle cx="339.4" cy="414.0" r="6.8"/><circle cx="372.4" cy="510.1" r="6.8"/><circle cx="344.4" cy="466.9" r="6.8"/><circle cx="358.8" cy="505.9" r="6.8"/><circle cx="363.2" cy="426.7" r="6.8"/><circle cx="380.4" cy="486.8" r="6.8"/><circle cx="423.7" cy="453.3" r="6.8"/><circle cx="371.1" cy="452.6" r="6.8"/><circle cx="337.1" cy="448.3" r="6.8"/><circle cx="390.8" cy="406.5" r="6.8"/><circle cx="372.4" cy="399.7" r="6.8"/><circle cx="350.3" cy="514.4" r="6.8"/><circle cx="318.5" cy="458.1" r="6.8"/><circle cx="294.2" cy="444.3" r="6.8"/><circle cx="364.6" cy="475.7" r="6.8"/><circle cx="398.1" cy="403.0" r="6.8"/><circle cx="375.3" cy="405.4" r="6.8"/><circle cx="285.4" cy="483.9" r="6.8"/><circle cx="378.9" cy="401.9" r="6.8"/><circle cx="284.2" cy="453.0" r="6.8"/><circle cx="362.3" cy="462.2" r="6.8"/><circle cx="370.2" cy="541.5" r="6.8"/><circle cx="403.9" cy="464.8" r="6.8"/><circle cx="362.0" cy="483.9" r="6.8"/><circle cx="353.0" cy="486.3" r="6.8"/><circle cx="352.4" cy="422.3" r="6.8"/><circle cx="361.9" cy="532.4" r="6.8"/><circle cx="277.9" cy="395.6" r="6.8"/><circle cx="377.9" cy="447.2" r="6.8"/><circle cx="396.9" cy="466.4" r="6.8"/><circle cx="338.6" cy="395.0" r="6.8"/><circle cx="316.4" cy="469.8" r="6.8"/><circle cx="309.7" cy="482.3" r="6.8"/><circle cx="314.6" cy="442.2" r="6.8"/><circle cx="343.9" cy="397.7" r="6.8"/><circle cx="425.1" cy="451.0" r="6.8"/><circle cx="316.6" cy="433.3" r="6.8"/><circle cx="374.7" cy="492.1" r="6.8"/><circle cx="290.0" cy="413.3" r="6.8"/><circle cx="349.6" cy="384.4" r="6.8"/><circle cx="333.9" cy="479.9" r="6.8"/><circle cx="285.2" cy="403.0" r="6.8"/><circle cx="303.2" cy="489.0" r="6.8"/><circle cx="332.5" cy="452.3" r="6.8"/><circle cx="404.0" cy="407.3" r="6.8"/><circle cx="306.7" cy="462.7" r="6.8"/><circle cx="386.7" cy="453.2" r="6.8"/><circle cx="400.0" cy="412.5" r="6.8"/><circle cx="394.8" cy="489.4" r="6.8"/><circle cx="300.1" cy="486.3" r="6.8"/><circle cx="360.0" cy="522.2" r="6.8"/><circle cx="385.5" cy="395.8" r="6.8"/><circle cx="387.2" cy="549.6" r="6.8"/><circle cx="383.9" cy="404.6" r="6.8"/><circle cx="355.4" cy="409.1" r="6.8"/><circle cx="413.0" cy="544.6" r="6.8"/><circle cx="281.6" cy="415.1" r="6.8"/><circle cx="351.7" cy="507.5" r="6.8"/><circle cx="321.6" cy="459.5" r="6.8"/><circle cx="343.1" cy="465.3" r="6.8"/><circle cx="341.2" cy="519.0" r="6.8"/><circle cx="385.4" cy="394.7" r="6.8"/><circle cx="294.2" cy="494.3" r="6.8"/><circle cx="293.6" cy="384.5" r="6.8"/><circle cx="301.1" cy="449.3" r="6.8"/><circle cx="348.4" cy="473.9" r="6.8"/><circle cx="311.5" cy="505.6" r="6.8"/><circle cx="277.2" cy="412.0" r="6.8"/><circle cx="325.0" cy="499.9" r="6.8"/><circle cx="374.6" cy="473.9" r="6.8"/><circle cx="409.5" cy="546.0" r="6.8"/><circle cx="384.0" cy="422.4" r="6.8"/><circle cx="351.6" cy="395.1" r="6.8"/><circle cx="398.4" cy="542.1" r="6.8"/><circle cx="303.7" cy="467.7" r="6.8"/><circle cx="340.0" cy="487.4" r="6.8"/><circle cx="345.1" cy="578.4" r="6.8"/><circle cx="340.7" cy="552.0" r="6.8"/><circle cx="349.4" cy="572.4" r="6.8"/><circle cx="367.0" cy="574.5" r="6.8"/><circle cx="361.4" cy="570.6" r="6.8"/><circle cx="357.9" cy="569.5" r="6.8"/><circle cx="345.5" cy="568.7" r="6.8"/><circle cx="386.6" cy="585.1" r="6.8"/><circle cx="328.1" cy="557.4" r="6.8"/><circle cx="1030.7" cy="331.9" r="6.8"/><circle cx="992.7" cy="326.0" r="6.8"/><circle cx="1028.5" cy="263.1" r="6.8"/><circle cx="1013.0" cy="323.6" r="6.8"/><circle cx="1046.4" cy="329.8" r="6.8"/><circle cx="1040.7" cy="278.0" r="6.8"/><circle cx="1010.7" cy="272.0" r="6.8"/><circle cx="1046.4" cy="298.0" r="6.8"/><circle cx="1016.2" cy="261.8" r="6.8"/><circle cx="1003.7" cy="300.8" r="6.8"/><circle cx="1043.7" cy="290.2" r="6.8"/><circle cx="1055.8" cy="304.7" r="6.8"/><circle cx="1036.6" cy="306.1" r="6.8"/><circle cx="1027.9" cy="326.4" r="6.8"/><circle cx="1061.0" cy="323.1" r="6.8"/><circle cx="1057.5" cy="319.2" r="6.8"/><circle cx="1036.4" cy="321.6" r="6.8"/><circle cx="1018.9" cy="329.5" r="6.8"/><circle cx="1009.9" cy="316.1" r="6.8"/><circle cx="1026.4" cy="321.2" r="6.8"/><circle cx="1035.0" cy="293.4" r="6.8"/><circle cx="1007.5" cy="264.5" r="6.8"/><circle cx="1029.3" cy="298.1" r="6.8"/><circle cx="1006.2" cy="282.5" r="6.8"/><circle cx="1018.5" cy="264.1" r="6.8"/><circle cx="1037.8" cy="327.5" r="6.8"/><circle cx="1038.4" cy="279.8" r="6.8"/><circle cx="1020.4" cy="303.3" r="6.8"/><circle cx="1048.1" cy="290.5" r="6.8"/><circle cx="1041.4" cy="300.1" r="6.8"/><circle cx="998.7" cy="301.0" r="6.8"/><circle cx="813.4" cy="281.4" r="6.8"/><circle cx="821.2" cy="316.9" r="6.8"/><circle cx="808.6" cy="279.3" r="6.8"/><circle cx="838.7" cy="326.6" r="6.8"/><circle cx="808.7" cy="274.8" r="6.8"/><circle cx="826.8" cy="282.3" r="6.8"/><circle cx="805.6" cy="335.1" r="6.8"/><circle cx="822.9" cy="337.7" r="6.8"/><circle cx="810.4" cy="315.5" r="6.8"/><circle cx="816.9" cy="295.0" r="6.8"/><circle cx="827.9" cy="344.3" r="6.8"/><circle cx="825.8" cy="326.2" r="6.8"/><circle cx="821.8" cy="290.1" r="6.8"/><circle cx="823.6" cy="298.6" r="6.8"/><circle cx="833.3" cy="345.6" r="6.8"/><circle cx="820.2" cy="305.6" r="6.8"/><circle cx="843.7" cy="342.1" r="6.8"/><circle cx="830.1" cy="320.5" r="6.8"/><circle cx="812.2" cy="294.0" r="6.8"/><circle cx="812.8" cy="323.2" r="6.8"/><circle cx="818.6" cy="303.2" r="6.8"/><circle cx="813.8" cy="299.2" r="6.8"/><circle cx="804.2" cy="278.8" r="6.8"/><circle cx="818.8" cy="298.5" r="6.8"/><circle cx="815.9" cy="301.3" r="6.8"/><circle cx="907.9" cy="431.9" r="6.8"/><circle cx="930.0" cy="432.9" r="6.8"/><circle cx="943.8" cy="413.4" r="6.8"/><circle cx="929.2" cy="388.8" r="6.8"/><circle cx="879.3" cy="429.6" r="6.8"/><circle cx="1048.8" cy="435.3" r="6.8"/><circle cx="894.1" cy="406.9" r="6.8"/><circle cx="865.8" cy="390.8" r="6.8"/><circle cx="887.1" cy="367.5" r="6.8"/><circle cx="873.3" cy="408.4" r="6.8"/><circle cx="917.4" cy="389.7" r="6.8"/><circle cx="914.3" cy="421.5" r="6.8"/><circle cx="1008.0" cy="444.8" r="6.8"/><circle cx="983.0" cy="435.9" r="6.8"/><circle cx="920.9" cy="431.5" r="6.8"/><circle cx="992.6" cy="476.5" r="6.8"/><circle cx="872.7" cy="389.5" r="6.8"/><circle cx="1056.4" cy="450.4" r="6.8"/><circle cx="994.4" cy="467.6" r="6.8"/><circle cx="904.0" cy="408.2" r="6.8"/><circle cx="1049.6" cy="445.0" r="6.8"/><circle cx="890.5" cy="399.9" r="6.8"/><circle cx="920.8" cy="445.1" r="6.8"/><circle cx="910.7" cy="445.7" r="6.8"/><circle cx="900.6" cy="436.0" r="6.8"/><circle cx="984.4" cy="442.3" r="6.8"/><circle cx="897.5" cy="391.8" r="6.8"/><circle cx="1016.3" cy="474.8" r="6.8"/><circle cx="882.5" cy="394.4" r="6.8"/><circle cx="923.3" cy="443.5" r="6.8"/><circle cx="911.8" cy="420.9" r="6.8"/><circle cx="919.3" cy="405.0" r="6.8"/><circle cx="939.7" cy="390.6" r="6.8"/><circle cx="942.5" cy="401.9" r="6.8"/><circle cx="1058.6" cy="443.8" r="6.8"/><circle cx="876.8" cy="384.7" r="6.8"/><circle cx="977.6" cy="423.2" r="6.8"/><circle cx="888.5" cy="417.9" r="6.8"/><circle cx="1032.1" cy="451.3" r="6.8"/><circle cx="882.0" cy="426.7" r="6.8"/><circle cx="918.3" cy="377.1" r="6.8"/><circle cx="976.4" cy="451.5" r="6.8"/><circle cx="882.7" cy="389.6" r="6.8"/><circle cx="1018.2" cy="467.0" r="6.8"/><circle cx="860.9" cy="400.9" r="6.8"/><circle cx="906.8" cy="392.9" r="6.8"/><circle cx="871.7" cy="423.2" r="6.8"/><circle cx="892.4" cy="384.7" r="6.8"/><circle cx="973.6" cy="445.2" r="6.8"/><circle cx="952.9" cy="426.3" r="6.8"/><circle cx="903.0" cy="418.5" r="6.8"/><circle cx="921.3" cy="402.3" r="6.8"/><circle cx="910.8" cy="401.3" r="6.8"/><circle cx="869.1" cy="419.2" r="6.8"/><circle cx="1017.5" cy="455.9" r="6.8"/><circle cx="877.5" cy="414.4" r="6.8"/><circle cx="997.2" cy="476.5" r="6.8"/><circle cx="1071.7" cy="465.3" r="6.8"/><circle cx="1072.3" cy="455.5" r="6.8"/><circle cx="1046.0" cy="466.7" r="6.8"/><circle cx="884.4" cy="384.0" r="6.8"/><circle cx="994.4" cy="433.1" r="6.8"/><circle cx="891.7" cy="364.6" r="6.8"/><circle cx="878.7" cy="399.1" r="6.8"/><circle cx="1045.2" cy="452.1" r="6.8"/><circle cx="935.6" cy="388.5" r="6.8"/><circle cx="1078.5" cy="473.4" r="6.8"/><circle cx="1035.8" cy="464.4" r="6.8"/><circle cx="1053.8" cy="445.4" r="6.8"/><circle cx="886.1" cy="423.9" r="6.8"/><circle cx="1099.3" cy="473.8" r="6.8"/><circle cx="935.9" cy="435.6" r="6.8"/><circle cx="990.2" cy="443.2" r="6.8"/><circle cx="1040.3" cy="449.9" r="6.8"/><circle cx="904.7" cy="438.4" r="6.8"/><circle cx="890.3" cy="427.0" r="6.8"/><circle cx="877.6" cy="381.8" r="6.8"/><circle cx="1046.5" cy="432.9" r="6.8"/><circle cx="860.0" cy="412.2" r="6.8"/><circle cx="987.4" cy="446.3" r="6.8"/><circle cx="958.6" cy="409.4" r="6.8"/><circle cx="1080.6" cy="463.8" r="6.8"/><circle cx="978.3" cy="417.2" r="6.8"/><circle cx="984.8" cy="418.6" r="6.8"/><circle cx="971.5" cy="442.8" r="6.8"/><circle cx="983.4" cy="445.3" r="6.8"/><circle cx="907.9" cy="404.8" r="6.8"/><circle cx="932.3" cy="404.8" r="6.8"/><circle cx="997.5" cy="426.2" r="6.8"/><circle cx="957.4" cy="428.3" r="6.8"/><circle cx="1060.6" cy="464.5" r="6.8"/><circle cx="871.2" cy="419.6" r="6.8"/><circle cx="1068.9" cy="457.6" r="6.8"/><circle cx="955.6" cy="414.0" r="6.8"/><circle cx="807.5" cy="417.7" r="6.8"/><circle cx="864.7" cy="439.3" r="6.8"/><circle cx="812.2" cy="423.6" r="6.8"/><circle cx="821.1" cy="421.1" r="6.8"/><circle cx="848.7" cy="425.3" r="6.8"/><circle cx="836.9" cy="440.5" r="6.8"/><circle cx="863.8" cy="426.6" r="6.8"/><circle cx="828.5" cy="421.1" r="6.8"/><circle cx="812.2" cy="433.4" r="6.8"/><circle cx="843.3" cy="427.0" r="6.8"/><circle cx="827.3" cy="433.8" r="6.8"/><circle cx="846.7" cy="452.3" r="6.8"/><circle cx="878.0" cy="436.0" r="6.8"/><circle cx="827.3" cy="436.4" r="6.8"/><circle cx="818.7" cy="428.8" r="6.8"/><circle cx="851.7" cy="446.1" r="6.8"/><circle cx="871.4" cy="435.4" r="6.8"/><circle cx="868.7" cy="434.0" r="6.8"/><circle cx="850.3" cy="428.2" r="6.8"/><circle cx="827.1" cy="441.2" r="6.8"/><circle cx="532.2" cy="306.9" r="6.8"/><circle cx="376.8" cy="305.1" r="6.8"/><circle cx="277.6" cy="348.7" r="6.8"/><circle cx="385.6" cy="359.8" r="6.8"/><circle cx="356.6" cy="271.5" r="6.8"/><circle cx="515.6" cy="240.5" r="6.8"/><circle cx="418.2" cy="321.4" r="6.8"/><circle cx="457.7" cy="333.6" r="6.8"/><circle cx="540.3" cy="319.7" r="6.8"/><circle cx="388.0" cy="282.2" r="6.8"/><circle cx="538.2" cy="214.7" r="6.8"/><circle cx="501.8" cy="244.0" r="6.8"/><circle cx="410.0" cy="341.0" r="6.8"/><circle cx="486.4" cy="371.6" r="6.8"/><circle cx="433.2" cy="322.9" r="6.8"/><circle cx="501.3" cy="223.7" r="6.8"/><circle cx="296.7" cy="299.4" r="6.8"/><circle cx="470.5" cy="248.4" r="6.8"/><circle cx="359.6" cy="362.1" r="6.8"/><circle cx="502.4" cy="254.9" r="6.8"/><circle cx="510.5" cy="297.1" r="6.8"/><circle cx="349.8" cy="369.9" r="6.8"/><circle cx="485.7" cy="293.4" r="6.8"/><circle cx="442.0" cy="307.7" r="6.8"/><circle cx="385.5" cy="332.0" r="6.8"/><circle cx="368.8" cy="292.0" r="6.8"/><circle cx="395.5" cy="314.1" r="6.8"/><circle cx="335.7" cy="363.0" r="6.8"/><circle cx="376.0" cy="366.6" r="6.8"/><circle cx="425.7" cy="290.2" r="6.8"/><circle cx="486.1" cy="264.1" r="6.8"/><circle cx="531.2" cy="334.7" r="6.8"/><circle cx="390.8" cy="371.9" r="6.8"/><circle cx="294.4" cy="335.3" r="6.8"/><circle cx="441.7" cy="367.8" r="6.8"/><circle cx="451.4" cy="298.1" r="6.8"/><circle cx="482.2" cy="308.2" r="6.8"/><circle cx="327.5" cy="326.2" r="6.8"/><circle cx="469.8" cy="264.0" r="6.8"/><circle cx="514.9" cy="272.6" r="6.8"/><circle cx="468.2" cy="314.3" r="6.8"/><circle cx="405.0" cy="347.6" r="6.8"/><circle cx="391.8" cy="262.0" r="6.8"/><circle cx="372.4" cy="305.9" r="6.8"/><circle cx="417.2" cy="243.9" r="6.8"/><circle cx="546.3" cy="236.5" r="6.8"/><circle cx="505.9" cy="209.5" r="6.8"/><circle cx="339.7" cy="292.7" r="6.8"/><circle cx="341.5" cy="364.8" r="6.8"/><circle cx="535.3" cy="273.4" r="6.8"/><circle cx="351.7" cy="339.8" r="6.8"/><circle cx="378.9" cy="285.7" r="6.8"/><circle cx="488.8" cy="314.0" r="6.8"/><circle cx="387.3" cy="306.5" r="6.8"/><circle cx="394.0" cy="363.7" r="6.8"/><circle cx="494.3" cy="246.9" r="6.8"/><circle cx="426.0" cy="334.3" r="6.8"/><circle cx="531.5" cy="208.8" r="6.8"/><circle cx="507.3" cy="266.5" r="6.8"/><circle cx="347.9" cy="250.8" r="6.8"/><circle cx="537.2" cy="296.7" r="6.8"/><circle cx="322.4" cy="372.6" r="6.8"/><circle cx="503.7" cy="324.4" r="6.8"/><circle cx="394.9" cy="236.5" r="6.8"/><circle cx="543.2" cy="337.9" r="6.8"/><circle cx="429.5" cy="286.3" r="6.8"/><circle cx="515.6" cy="203.5" r="6.8"/><circle cx="375.4" cy="258.8" r="6.8"/><circle cx="533.1" cy="207.2" r="6.8"/><circle cx="456.1" cy="259.1" r="6.8"/><circle cx="539.0" cy="339.1" r="6.8"/><circle cx="402.9" cy="370.3" r="6.8"/><circle cx="356.9" cy="320.7" r="6.8"/><circle cx="477.5" cy="321.5" r="6.8"/><circle cx="438.6" cy="316.7" r="6.8"/><circle cx="304.8" cy="307.8" r="6.8"/><circle cx="463.7" cy="369.5" r="6.8"/><circle cx="307.7" cy="342.6" r="6.8"/><circle cx="363.2" cy="279.2" r="6.8"/><circle cx="308.5" cy="316.0" r="6.8"/><circle cx="385.8" cy="366.6" r="6.8"/><circle cx="488.5" cy="227.6" r="6.8"/><circle cx="476.6" cy="342.4" r="6.8"/><circle cx="335.8" cy="310.0" r="6.8"/><circle cx="543.1" cy="203.3" r="6.8"/><circle cx="372.9" cy="268.9" r="6.8"/><circle cx="546.3" cy="216.6" r="6.8"/><circle cx="408.4" cy="306.4" r="6.8"/><circle cx="360.4" cy="310.5" r="6.8"/><circle cx="456.2" cy="236.1" r="6.8"/><circle cx="417.4" cy="367.4" r="6.8"/><circle cx="317.5" cy="319.9" r="6.8"/><circle cx="467.7" cy="257.9" r="6.8"/><circle cx="374.2" cy="369.5" r="6.8"/><circle cx="481.8" cy="268.0" r="6.8"/><circle cx="350.5" cy="281.9" r="6.8"/><circle cx="539.9" cy="233.7" r="6.8"/><circle cx="397.6" cy="306.0" r="6.8"/><circle cx="505.5" cy="303.0" r="6.8"/><circle cx="508.8" cy="365.8" r="6.8"/><circle cx="484.8" cy="254.5" r="6.8"/><circle cx="448.2" cy="306.6" r="6.8"/><circle cx="369.9" cy="338.9" r="6.8"/><circle cx="416.7" cy="238.8" r="6.8"/><circle cx="392.8" cy="354.7" r="6.8"/><circle cx="525.1" cy="350.4" r="6.8"/><circle cx="542.3" cy="350.6" r="6.8"/><circle cx="311.0" cy="322.7" r="6.8"/><circle cx="441.5" cy="341.8" r="6.8"/><circle cx="448.5" cy="365.9" r="6.8"/><circle cx="431.5" cy="247.3" r="6.8"/><circle cx="413.1" cy="356.9" r="6.8"/><circle cx="349.2" cy="240.8" r="6.8"/><circle cx="499.8" cy="369.2" r="6.8"/><circle cx="470.8" cy="335.8" r="6.8"/><circle cx="510.1" cy="234.0" r="6.8"/><circle cx="394.8" cy="374.0" r="6.8"/><circle cx="477.6" cy="345.3" r="6.8"/><circle cx="417.3" cy="296.2" r="6.8"/><circle cx="477.9" cy="293.4" r="6.8"/><circle cx="447.7" cy="263.9" r="6.8"/><circle cx="354.0" cy="350.0" r="6.8"/><circle cx="461.9" cy="375.5" r="6.8"/><circle cx="325.4" cy="340.1" r="6.8"/><circle cx="381.1" cy="251.4" r="6.8"/><circle cx="428.6" cy="259.0" r="6.8"/><circle cx="518.6" cy="251.5" r="6.8"/><circle cx="497.9" cy="316.4" r="6.8"/><circle cx="374.1" cy="256.6" r="6.8"/><circle cx="385.0" cy="300.3" r="6.8"/><circle cx="382.1" cy="242.2" r="6.8"/><circle cx="365.6" cy="319.2" r="6.8"/><circle cx="314.1" cy="281.9" r="6.8"/><circle cx="524.2" cy="340.7" r="6.8"/><circle cx="457.7" cy="376.2" r="6.8"/><circle cx="448.3" cy="222.3" r="6.8"/><circle cx="317.7" cy="325.6" r="6.8"/><circle cx="535.4" cy="205.4" r="6.8"/><circle cx="426.9" cy="277.3" r="6.8"/><circle cx="430.9" cy="229.6" r="6.8"/><circle cx="473.0" cy="305.9" r="6.8"/><circle cx="496.0" cy="304.2" r="6.8"/><circle cx="409.6" cy="323.9" r="6.8"/><circle cx="462.9" cy="362.2" r="6.8"/><circle cx="505.5" cy="359.5" r="6.8"/><circle cx="371.1" cy="278.0" r="6.8"/><circle cx="501.2" cy="209.4" r="6.8"/><circle cx="356.9" cy="289.0" r="6.8"/><circle cx="467.7" cy="268.9" r="6.8"/><circle cx="309.7" cy="277.2" r="6.8"/><circle cx="505.1" cy="206.3" r="6.8"/><circle cx="357.7" cy="279.9" r="6.8"/><circle cx="297.7" cy="336.3" r="6.8"/><circle cx="354.3" cy="359.6" r="6.8"/><circle cx="415.2" cy="284.6" r="6.8"/><circle cx="503.2" cy="327.9" r="6.8"/><circle cx="485.7" cy="362.2" r="6.8"/><circle cx="465.5" cy="275.9" r="6.8"/><circle cx="359.7" cy="367.4" r="6.8"/><circle cx="340.0" cy="343.6" r="6.8"/><circle cx="443.8" cy="296.2" r="6.8"/><circle cx="476.0" cy="328.4" r="6.8"/><circle cx="499.9" cy="212.8" r="6.8"/><circle cx="399.7" cy="360.9" r="6.8"/><circle cx="344.4" cy="305.4" r="6.8"/><circle cx="517.0" cy="263.4" r="6.8"/><circle cx="320.6" cy="347.0" r="6.8"/><circle cx="404.7" cy="341.1" r="6.8"/><circle cx="378.3" cy="265.3" r="6.8"/><circle cx="355.1" cy="332.6" r="6.8"/><circle cx="425.0" cy="244.5" r="6.8"/><circle cx="508.9" cy="340.6" r="6.8"/><circle cx="298.3" cy="300.3" r="6.8"/><circle cx="347.3" cy="261.9" r="6.8"/><circle cx="492.8" cy="338.7" r="6.8"/><circle cx="358.1" cy="264.7" r="6.8"/><circle cx="389.3" cy="271.4" r="6.8"/><circle cx="391.3" cy="242.7" r="6.8"/><circle cx="307.4" cy="293.5" r="6.8"/><circle cx="329.3" cy="296.5" r="6.8"/><circle cx="520.3" cy="208.2" r="6.8"/><circle cx="346.9" cy="344.8" r="6.8"/><circle cx="372.1" cy="341.5" r="6.8"/><circle cx="510.9" cy="373.9" r="6.8"/><circle cx="306.2" cy="298.8" r="6.8"/><circle cx="539.0" cy="303.8" r="6.8"/><circle cx="442.6" cy="253.1" r="6.8"/><circle cx="369.1" cy="340.0" r="6.8"/><circle cx="536.7" cy="289.1" r="6.8"/><circle cx="299.5" cy="357.9" r="6.8"/><circle cx="310.3" cy="288.6" r="6.8"/><circle cx="510.4" cy="225.8" r="6.8"/><circle cx="327.1" cy="332.5" r="6.8"/><circle cx="517.8" cy="350.3" r="6.8"/><circle cx="403.9" cy="352.2" r="6.8"/><circle cx="519.5" cy="235.2" r="6.8"/><circle cx="301.6" cy="347.5" r="6.8"/><circle cx="515.7" cy="350.1" r="6.8"/><circle cx="415.4" cy="289.1" r="6.8"/><circle cx="497.7" cy="249.2" r="6.8"/><circle cx="436.8" cy="261.7" r="6.8"/><circle cx="457.4" cy="343.5" r="6.8"/><circle cx="546.4" cy="376.4" r="6.8"/><circle cx="430.2" cy="268.4" r="6.8"/><circle cx="452.3" cy="371.4" r="6.8"/><circle cx="529.5" cy="295.0" r="6.8"/><circle cx="309.7" cy="283.0" r="6.8"/><circle cx="324.5" cy="303.3" r="6.8"/><circle cx="296.0" cy="354.3" r="6.8"/><circle cx="407.8" cy="298.9" r="6.8"/><circle cx="454.7" cy="313.6" r="6.8"/><circle cx="480.0" cy="252.4" r="6.8"/><circle cx="351.8" cy="308.4" r="6.8"/><circle cx="495.3" cy="328.2" r="6.8"/><circle cx="520.2" cy="340.1" r="6.8"/><circle cx="539.5" cy="231.9" r="6.8"/><circle cx="436.8" cy="368.2" r="6.8"/><circle cx="349.3" cy="282.8" r="6.8"/><circle cx="489.4" cy="257.1" r="6.8"/><circle cx="415.1" cy="332.5" r="6.8"/><circle cx="515.6" cy="343.5" r="6.8"/><circle cx="524.8" cy="329.7" r="6.8"/><circle cx="385.9" cy="291.8" r="6.8"/><circle cx="291.5" cy="364.0" r="6.8"/><circle cx="502.8" cy="235.4" r="6.8"/><circle cx="459.0" cy="289.5" r="6.8"/><circle cx="397.3" cy="243.7" r="6.8"/><circle cx="405.0" cy="275.3" r="6.8"/><circle cx="447.0" cy="251.7" r="6.8"/><circle cx="273.5" cy="365.7" r="6.8"/><circle cx="353.3" cy="249.1" r="6.8"/><circle cx="394.7" cy="306.1" r="6.8"/><circle cx="537.7" cy="359.5" r="6.8"/><circle cx="380.1" cy="371.1" r="6.8"/><circle cx="497.1" cy="230.1" r="6.8"/><circle cx="320.6" cy="278.9" r="6.8"/><circle cx="484.3" cy="328.6" r="6.8"/><circle cx="310.3" cy="313.7" r="6.8"/><circle cx="372.2" cy="265.6" r="6.8"/><circle cx="483.2" cy="277.6" r="6.8"/><circle cx="427.3" cy="352.6" r="6.8"/><circle cx="528.5" cy="276.4" r="6.8"/><circle cx="379.8" cy="319.8" r="6.8"/><circle cx="414.0" cy="306.3" r="6.8"/><circle cx="376.7" cy="297.4" r="6.8"/><circle cx="402.8" cy="244.5" r="6.8"/><circle cx="362.2" cy="282.8" r="6.8"/><circle cx="508.4" cy="306.8" r="6.8"/><circle cx="381.1" cy="360.9" r="6.8"/><circle cx="525.4" cy="200.3" r="6.8"/><circle cx="374.4" cy="359.0" r="6.8"/><circle cx="476.0" cy="285.9" r="6.8"/><circle cx="525.8" cy="294.3" r="6.8"/><circle cx="288.2" cy="328.2" r="6.8"/><circle cx="479.2" cy="276.3" r="6.8"/><circle cx="410.3" cy="239.2" r="6.8"/><circle cx="293.2" cy="342.9" r="6.8"/><circle cx="392.0" cy="253.3" r="6.8"/><circle cx="387.5" cy="267.8" r="6.8"/><circle cx="425.9" cy="326.2" r="6.8"/><circle cx="354.7" cy="294.9" r="6.8"/><circle cx="444.8" cy="360.8" r="6.8"/><circle cx="538.2" cy="239.1" r="6.8"/><circle cx="339.2" cy="376.7" r="6.8"/><circle cx="442.5" cy="229.4" r="6.8"/><circle cx="316.8" cy="331.7" r="6.8"/><circle cx="400.4" cy="374.4" r="6.8"/><circle cx="317.5" cy="351.5" r="6.8"/><circle cx="301.6" cy="342.9" r="6.8"/><circle cx="411.1" cy="245.6" r="6.8"/><circle cx="541.3" cy="239.0" r="6.8"/><circle cx="485.3" cy="223.3" r="6.8"/><circle cx="321.8" cy="311.9" r="6.8"/><circle cx="524.5" cy="249.5" r="6.8"/><circle cx="406.9" cy="323.0" r="6.8"/><circle cx="393.8" cy="327.0" r="6.8"/><circle cx="519.3" cy="202.5" r="6.8"/><circle cx="401.0" cy="252.2" r="6.8"/><circle cx="459.0" cy="365.6" r="6.8"/><circle cx="464.8" cy="346.6" r="6.8"/><circle cx="350.5" cy="285.8" r="6.8"/><circle cx="282.6" cy="367.5" r="6.8"/><circle cx="364.2" cy="305.1" r="6.8"/><circle cx="376.0" cy="313.5" r="6.8"/><circle cx="319.4" cy="300.7" r="6.8"/><circle cx="282.3" cy="354.2" r="6.8"/><circle cx="328.1" cy="318.1" r="6.8"/><circle cx="417.1" cy="249.1" r="6.8"/><circle cx="278.1" cy="296.4" r="6.8"/><circle cx="247.0" cy="322.3" r="6.8"/><circle cx="253.2" cy="309.2" r="6.8"/><circle cx="254.5" cy="323.3" r="6.8"/><circle cx="252.1" cy="303.8" r="6.8"/><circle cx="266.2" cy="326.1" r="6.8"/><circle cx="269.0" cy="306.4" r="6.8"/><circle cx="256.0" cy="311.9" r="6.8"/><circle cx="245.8" cy="308.2" r="6.8"/><circle cx="264.4" cy="325.2" r="6.8"/><circle cx="273.7" cy="329.9" r="6.8"/><circle cx="272.4" cy="327.8" r="6.8"/><circle cx="260.4" cy="326.2" r="6.8"/><circle cx="269.7" cy="331.4" r="6.8"/><circle cx="495.0" cy="371.2" r="6.8"/><circle cx="537.2" cy="348.3" r="6.8"/><circle cx="511.4" cy="360.4" r="6.8"/><circle cx="542.5" cy="356.0" r="6.8"/><circle cx="475.5" cy="372.1" r="6.8"/><circle cx="525.9" cy="370.9" r="6.8"/><circle cx="596.0" cy="937.2" r="6.8"/><circle cx="691.3" cy="1016.6" r="6.8"/><circle cx="601.9" cy="1055.8" r="6.8"/><circle cx="587.3" cy="982.7" r="6.8"/><circle cx="508.0" cy="979.6" r="6.8"/><circle cx="680.2" cy="971.2" r="6.8"/><circle cx="625.7" cy="937.8" r="6.8"/><circle cx="529.7" cy="973.5" r="6.8"/><circle cx="544.3" cy="941.2" r="6.8"/><circle cx="573.5" cy="952.2" r="6.8"/><circle cx="611.3" cy="946.6" r="6.8"/><circle cx="568.2" cy="907.4" r="6.8"/><circle cx="633.7" cy="1083.3" r="6.8"/><circle cx="671.0" cy="1057.0" r="6.8"/><circle cx="685.4" cy="1051.5" r="6.8"/><circle cx="542.3" cy="998.6" r="6.8"/><circle cx="610.3" cy="1036.7" r="6.8"/><circle cx="682.3" cy="1032.7" r="6.8"/><circle cx="698.6" cy="1048.9" r="6.8"/><circle cx="605.1" cy="960.9" r="6.8"/><circle cx="627.1" cy="1057.5" r="6.8"/><circle cx="594.1" cy="1067.4" r="6.8"/><circle cx="512.2" cy="1000.4" r="6.8"/><circle cx="653.0" cy="1057.8" r="6.8"/><circle cx="682.2" cy="1070.1" r="6.8"/><circle cx="643.5" cy="940.4" r="6.8"/><circle cx="555.1" cy="891.7" r="6.8"/><circle cx="557.0" cy="945.8" r="6.8"/><circle cx="606.6" cy="1071.8" r="6.8"/><circle cx="656.7" cy="946.7" r="6.8"/><circle cx="654.4" cy="915.6" r="6.8"/><circle cx="600.3" cy="995.1" r="6.8"/><circle cx="615.7" cy="933.7" r="6.8"/><circle cx="602.2" cy="1044.1" r="6.8"/><circle cx="564.9" cy="1056.2" r="6.8"/><circle cx="625.7" cy="961.2" r="6.8"/><circle cx="577.4" cy="1028.0" r="6.8"/><circle cx="658.0" cy="1062.6" r="6.8"/><circle cx="570.4" cy="1075.2" r="6.8"/><circle cx="633.3" cy="970.3" r="6.8"/><circle cx="556.9" cy="1018.7" r="6.8"/><circle cx="625.6" cy="1036.2" r="6.8"/><circle cx="554.1" cy="1005.6" r="6.8"/><circle cx="596.6" cy="1000.1" r="6.8"/><circle cx="527.0" cy="1024.7" r="6.8"/><circle cx="587.8" cy="998.2" r="6.8"/><circle cx="643.4" cy="935.1" r="6.8"/><circle cx="670.0" cy="1038.3" r="6.8"/><circle cx="627.3" cy="922.5" r="6.8"/><circle cx="664.0" cy="1018.2" r="6.8"/><circle cx="589.4" cy="1017.7" r="6.8"/><circle cx="535.1" cy="1037.8" r="6.8"/><circle cx="559.1" cy="1041.3" r="6.8"/><circle cx="689.2" cy="1008.9" r="6.8"/><circle cx="653.7" cy="1025.4" r="6.8"/><circle cx="649.8" cy="1080.9" r="6.8"/><circle cx="661.3" cy="1037.8" r="6.8"/><circle cx="660.4" cy="958.4" r="6.8"/><circle cx="591.2" cy="910.9" r="6.8"/><circle cx="596.6" cy="1060.9" r="6.8"/><circle cx="622.7" cy="999.1" r="6.8"/><circle cx="680.3" cy="997.4" r="6.8"/><circle cx="646.2" cy="942.4" r="6.8"/><circle cx="669.8" cy="922.2" r="6.8"/><circle cx="573.8" cy="1052.9" r="6.8"/><circle cx="677.6" cy="1079.6" r="6.8"/><circle cx="535.9" cy="947.9" r="6.8"/><circle cx="532.5" cy="900.3" r="6.8"/><circle cx="587.7" cy="1029.3" r="6.8"/><circle cx="587.9" cy="967.2" r="6.8"/><circle cx="689.2" cy="1065.9" r="6.8"/><circle cx="525.8" cy="952.6" r="6.8"/><circle cx="579.1" cy="1080.7" r="6.8"/><circle cx="671.7" cy="1067.6" r="6.8"/><circle cx="674.9" cy="1049.6" r="6.8"/><circle cx="589.2" cy="937.9" r="6.8"/><circle cx="620.3" cy="987.1" r="6.8"/><circle cx="548.6" cy="943.6" r="6.8"/><circle cx="693.1" cy="1073.3" r="6.8"/><circle cx="610.3" cy="936.8" r="6.8"/><circle cx="643.1" cy="989.7" r="6.8"/><circle cx="501.0" cy="951.4" r="6.8"/><circle cx="591.5" cy="1053.0" r="6.8"/><circle cx="612.8" cy="1002.1" r="6.8"/><circle cx="593.8" cy="1082.1" r="6.8"/><circle cx="643.0" cy="999.3" r="6.8"/><circle cx="610.2" cy="1048.2" r="6.8"/><circle cx="474.9" cy="894.2" r="6.8"/><circle cx="605.2" cy="1001.1" r="6.8"/><circle cx="661.9" cy="936.5" r="6.8"/><circle cx="585.9" cy="929.1" r="6.8"/><circle cx="631.4" cy="975.9" r="6.8"/><circle cx="700.0" cy="1038.7" r="6.8"/><circle cx="692.2" cy="1041.8" r="6.8"/><circle cx="504.9" cy="909.2" r="6.8"/><circle cx="567.8" cy="944.7" r="6.8"/><circle cx="597.3" cy="1048.2" r="6.8"/><circle cx="525.6" cy="983.0" r="6.8"/><circle cx="700.1" cy="1043.5" r="6.8"/><circle cx="476.4" cy="898.2" r="6.8"/><circle cx="551.7" cy="909.3" r="6.8"/><circle cx="617.6" cy="1052.2" r="6.8"/><circle cx="522.7" cy="940.1" r="6.8"/><circle cx="621.0" cy="979.6" r="6.8"/><circle cx="532.1" cy="904.3" r="6.8"/><circle cx="502.6" cy="977.2" r="6.8"/><circle cx="520.8" cy="964.7" r="6.8"/><circle cx="679.6" cy="952.4" r="6.8"/><circle cx="611.5" cy="1032.9" r="6.8"/><circle cx="496.7" cy="1001.0" r="6.8"/><circle cx="628.8" cy="983.4" r="6.8"/><circle cx="482.0" cy="910.8" r="6.8"/><circle cx="576.0" cy="1024.6" r="6.8"/><circle cx="591.3" cy="1057.4" r="6.8"/><circle cx="691.5" cy="1045.7" r="6.8"/><circle cx="523.7" cy="1008.2" r="6.8"/><circle cx="544.1" cy="949.0" r="6.8"/><circle cx="545.8" cy="1058.0" r="6.8"/><circle cx="548.7" cy="1050.6" r="6.8"/><circle cx="522.2" cy="1033.5" r="6.8"/><circle cx="693.8" cy="1025.8" r="6.8"/><circle cx="582.6" cy="993.1" r="6.8"/><circle cx="547.9" cy="964.8" r="6.8"/><circle cx="670.1" cy="946.8" r="6.8"/><circle cx="665.1" cy="975.2" r="6.8"/><circle cx="637.4" cy="988.9" r="6.8"/><circle cx="672.1" cy="952.5" r="6.8"/><circle cx="583.3" cy="1051.0" r="6.8"/><circle cx="678.0" cy="962.8" r="6.8"/><circle cx="648.7" cy="975.2" r="6.8"/><circle cx="624.1" cy="1012.3" r="6.8"/><circle cx="650.8" cy="979.3" r="6.8"/><circle cx="496.4" cy="902.1" r="6.8"/><circle cx="651.2" cy="994.9" r="6.8"/><circle cx="541.1" cy="924.4" r="6.8"/><circle cx="615.2" cy="1032.2" r="6.8"/><circle cx="568.0" cy="896.3" r="6.8"/><circle cx="540.9" cy="902.7" r="6.8"/><circle cx="577.2" cy="1035.9" r="6.8"/><circle cx="522.2" cy="912.0" r="6.8"/><circle cx="600.2" cy="1015.7" r="6.8"/><circle cx="725.7" cy="1051.4" r="6.8"/><circle cx="650.6" cy="970.1" r="6.8"/><circle cx="648.7" cy="908.7" r="6.8"/><circle cx="653.4" cy="950.6" r="6.8"/><circle cx="669.1" cy="990.9" r="6.8"/><circle cx="603.3" cy="944.9" r="6.8"/><circle cx="673.5" cy="1042.7" r="6.8"/><circle cx="563.8" cy="889.3" r="6.8"/><circle cx="603.4" cy="1063.7" r="6.8"/><circle cx="574.6" cy="1058.4" r="6.8"/><circle cx="666.4" cy="961.6" r="6.8"/><circle cx="520.0" cy="1006.6" r="6.8"/><circle cx="597.5" cy="927.5" r="6.8"/><circle cx="557.7" cy="1055.3" r="6.8"/><circle cx="651.6" cy="1072.3" r="6.8"/><circle cx="639.4" cy="1031.8" r="6.8"/><circle cx="656.8" cy="1036.7" r="6.8"/><circle cx="510.4" cy="907.9" r="6.8"/><circle cx="550.7" cy="928.4" r="6.8"/><circle cx="606.0" cy="1014.0" r="6.8"/><circle cx="692.9" cy="1020.4" r="6.8"/><circle cx="659.9" cy="1034.1" r="6.8"/><circle cx="663.7" cy="1007.3" r="6.8"/><circle cx="520.4" cy="930.4" r="6.8"/><circle cx="591.3" cy="931.7" r="6.8"/><circle cx="601.1" cy="1057.5" r="6.8"/><circle cx="616.2" cy="1014.9" r="6.8"/><circle cx="574.3" cy="1065.6" r="6.8"/><circle cx="533.9" cy="920.6" r="6.8"/><circle cx="516.6" cy="938.3" r="6.8"/><circle cx="552.9" cy="951.4" r="6.8"/><circle cx="552.0" cy="941.1" r="6.8"/><circle cx="506.7" cy="913.8" r="6.8"/><circle cx="642.9" cy="1063.5" r="6.8"/><circle cx="521.8" cy="975.8" r="6.8"/><circle cx="563.4" cy="950.8" r="6.8"/><circle cx="551.3" cy="977.2" r="6.8"/><circle cx="660.5" cy="996.1" r="6.8"/><circle cx="558.4" cy="1029.4" r="6.8"/><circle cx="672.9" cy="970.3" r="6.8"/><circle cx="494.5" cy="907.0" r="6.8"/><circle cx="554.0" cy="979.8" r="6.8"/><circle cx="638.0" cy="1051.0" r="6.8"/><circle cx="560.7" cy="898.0" r="6.8"/><circle cx="569.3" cy="1007.6" r="6.8"/><circle cx="527.3" cy="917.1" r="6.8"/><circle cx="645.6" cy="1069.8" r="6.8"/><circle cx="491.3" cy="919.5" r="6.8"/><circle cx="575.7" cy="941.8" r="6.8"/><circle cx="557.7" cy="931.8" r="6.8"/><circle cx="545.4" cy="923.7" r="6.8"/><circle cx="677.6" cy="988.8" r="6.8"/><circle cx="599.1" cy="934.5" r="6.8"/><circle cx="566.2" cy="940.4" r="6.8"/><circle cx="627.5" cy="1071.6" r="6.8"/><circle cx="543.7" cy="892.5" r="6.8"/><circle cx="615.2" cy="993.5" r="6.8"/><circle cx="622.2" cy="946.0" r="6.8"/><circle cx="476.5" cy="890.8" r="6.8"/><circle cx="488.1" cy="906.7" r="6.8"/><circle cx="582.6" cy="1000.5" r="6.8"/><circle cx="681.6" cy="1073.3" r="6.8"/><circle cx="646.6" cy="1027.5" r="6.8"/><circle cx="656.9" cy="1081.5" r="6.8"/><circle cx="510.9" cy="955.6" r="6.8"/><circle cx="584.2" cy="1037.3" r="6.8"/><circle cx="526.4" cy="892.0" r="6.8"/><circle cx="588.7" cy="917.1" r="6.8"/><circle cx="550.2" cy="1059.3" r="6.8"/><circle cx="636.6" cy="1045.8" r="6.8"/><circle cx="608.1" cy="1039.8" r="6.8"/><circle cx="647.6" cy="910.4" r="6.8"/><circle cx="544.6" cy="977.5" r="6.8"/><circle cx="630.6" cy="970.0" r="6.8"/><circle cx="602.3" cy="932.3" r="6.8"/><circle cx="620.8" cy="916.7" r="6.8"/><circle cx="672.5" cy="978.1" r="6.8"/><circle cx="686.8" cy="1063.0" r="6.8"/><circle cx="629.9" cy="1051.8" r="6.8"/><circle cx="659.0" cy="930.5" r="6.8"/><circle cx="663.2" cy="987.6" r="6.8"/><circle cx="511.6" cy="883.7" r="6.8"/><circle cx="566.6" cy="905.9" r="6.8"/><circle cx="644.9" cy="978.1" r="6.8"/><circle cx="668.7" cy="1025.2" r="6.8"/><circle cx="666.4" cy="967.1" r="6.8"/><circle cx="670.9" cy="921.0" r="6.8"/><circle cx="612.7" cy="917.2" r="6.8"/><circle cx="735.3" cy="1035.9" r="6.8"/><circle cx="699.6" cy="1010.4" r="6.8"/><circle cx="718.4" cy="1024.2" r="6.8"/><circle cx="750.4" cy="1041.2" r="6.8"/><circle cx="669.2" cy="1084.5" r="6.8"/><circle cx="700.3" cy="1015.2" r="6.8"/><circle cx="715.3" cy="1022.2" r="6.8"/><circle cx="682.5" cy="1076.9" r="6.8"/><circle cx="735.2" cy="1026.0" r="6.8"/><circle cx="732.9" cy="1016.7" r="6.8"/><circle cx="722.2" cy="1026.1" r="6.8"/><circle cx="761.2" cy="1028.8" r="6.8"/><circle cx="640.3" cy="1083.3" r="6.8"/><circle cx="708.8" cy="1003.5" r="6.8"/><circle cx="712.1" cy="1022.0" r="6.8"/><circle cx="745.7" cy="1030.0" r="6.8"/><circle cx="669.6" cy="1075.1" r="6.8"/><circle cx="664.7" cy="1081.7" r="6.8"/><circle cx="780.1" cy="936.9" r="6.8"/><circle cx="783.1" cy="893.7" r="6.8"/><circle cx="776.2" cy="894.4" r="6.8"/><circle cx="806.0" cy="927.8" r="6.8"/><circle cx="728.8" cy="893.7" r="6.8"/><circle cx="740.3" cy="886.8" r="6.8"/><circle cx="717.1" cy="890.2" r="6.8"/><circle cx="784.5" cy="973.9" r="6.8"/><circle cx="795.1" cy="932.5" r="6.8"/><circle cx="782.2" cy="950.0" r="6.8"/><circle cx="785.5" cy="936.4" r="6.8"/><circle cx="805.4" cy="917.7" r="6.8"/><circle cx="750.4" cy="915.2" r="6.8"/><circle cx="759.3" cy="888.7" r="6.8"/><circle cx="783.8" cy="945.0" r="6.8"/><circle cx="791.9" cy="895.1" r="6.8"/><circle cx="804.4" cy="899.2" r="6.8"/><circle cx="776.5" cy="953.0" r="6.8"/><circle cx="784.8" cy="901.7" r="6.8"/><circle cx="778.8" cy="910.4" r="6.8"/><circle cx="801.3" cy="927.5" r="6.8"/><circle cx="776.9" cy="921.6" r="6.8"/><circle cx="791.5" cy="890.4" r="6.8"/><circle cx="734.9" cy="896.8" r="6.8"/><circle cx="794.6" cy="958.4" r="6.8"/><circle cx="747.6" cy="908.8" r="6.8"/><circle cx="752.6" cy="890.3" r="6.8"/><circle cx="769.4" cy="887.7" r="6.8"/><circle cx="757.9" cy="892.8" r="6.8"/><circle cx="723.0" cy="890.4" r="6.8"/><circle cx="782.6" cy="904.8" r="6.8"/><circle cx="777.3" cy="969.4" r="6.8"/><circle cx="735.9" cy="910.6" r="6.8"/><circle cx="781.8" cy="959.5" r="6.8"/><circle cx="805.1" cy="968.0" r="6.8"/><circle cx="795.8" cy="925.0" r="6.8"/><circle cx="785.5" cy="926.0" r="6.8"/><circle cx="740.7" cy="894.5" r="6.8"/><circle cx="786.6" cy="976.9" r="6.8"/><circle cx="748.3" cy="906.7" r="6.8"/><circle cx="643.9" cy="884.0" r="6.8"/><circle cx="678.0" cy="885.0" r="6.8"/><circle cx="709.5" cy="883.6" r="6.8"/><circle cx="656.0" cy="887.3" r="6.8"/><circle cx="678.3" cy="306.9" r="6.8"/><circle cx="650.4" cy="237.3" r="6.8"/><circle cx="725.1" cy="250.6" r="6.8"/><circle cx="572.6" cy="271.8" r="6.8"/><circle cx="666.8" cy="252.6" r="6.8"/><circle cx="744.0" cy="234.1" r="6.8"/><circle cx="689.1" cy="303.7" r="6.8"/><circle cx="606.5" cy="261.7" r="6.8"/><circle cx="636.9" cy="314.9" r="6.8"/><circle cx="753.6" cy="317.3" r="6.8"/><circle cx="783.8" cy="289.1" r="6.8"/><circle cx="710.1" cy="255.0" r="6.8"/><circle cx="628.4" cy="253.4" r="6.8"/><circle cx="665.6" cy="304.2" r="6.8"/><circle cx="683.4" cy="251.9" r="6.8"/><circle cx="569.7" cy="311.7" r="6.8"/><circle cx="682.9" cy="288.1" r="6.8"/><circle cx="756.8" cy="244.1" r="6.8"/><circle cx="614.1" cy="247.8" r="6.8"/><circle cx="714.4" cy="288.6" r="6.8"/><circle cx="687.9" cy="222.1" r="6.8"/><circle cx="669.4" cy="208.8" r="6.8"/><circle cx="649.3" cy="219.0" r="6.8"/><circle cx="578.5" cy="217.9" r="6.8"/><circle cx="614.8" cy="213.5" r="6.8"/><circle cx="721.9" cy="262.0" r="6.8"/><circle cx="557.7" cy="319.0" r="6.8"/><circle cx="577.5" cy="283.5" r="6.8"/><circle cx="728.3" cy="294.5" r="6.8"/><circle cx="652.6" cy="263.6" r="6.8"/><circle cx="558.8" cy="274.9" r="6.8"/><circle cx="685.3" cy="303.3" r="6.8"/><circle cx="775.8" cy="319.8" r="6.8"/><circle cx="657.0" cy="317.7" r="6.8"/><circle cx="686.5" cy="331.7" r="6.8"/><circle cx="735.6" cy="314.4" r="6.8"/><circle cx="800.7" cy="303.5" r="6.8"/><circle cx="622.7" cy="274.6" r="6.8"/><circle cx="722.9" cy="309.1" r="6.8"/><circle cx="681.1" cy="333.7" r="6.8"/><circle cx="724.7" cy="319.1" r="6.8"/><circle cx="694.4" cy="265.5" r="6.8"/><circle cx="641.8" cy="219.2" r="6.8"/><circle cx="554.2" cy="284.3" r="6.8"/><circle cx="761.3" cy="303.8" r="6.8"/><circle cx="676.9" cy="274.6" r="6.8"/><circle cx="763.3" cy="323.3" r="6.8"/><circle cx="730.4" cy="276.8" r="6.8"/><circle cx="777.4" cy="289.6" r="6.8"/><circle cx="713.9" cy="294.0" r="6.8"/><circle cx="555.8" cy="332.0" r="6.8"/><circle cx="764.5" cy="311.6" r="6.8"/><circle cx="715.5" cy="298.3" r="6.8"/><circle cx="660.9" cy="228.0" r="6.8"/><circle cx="703.0" cy="282.7" r="6.8"/><circle cx="603.4" cy="329.9" r="6.8"/><circle cx="648.3" cy="309.9" r="6.8"/><circle cx="615.8" cy="313.2" r="6.8"/><circle cx="650.7" cy="275.4" r="6.8"/><circle cx="784.1" cy="319.1" r="6.8"/><circle cx="607.1" cy="217.5" r="6.8"/><circle cx="686.1" cy="276.8" r="6.8"/><circle cx="637.4" cy="255.2" r="6.8"/><circle cx="617.0" cy="306.4" r="6.8"/><circle cx="628.4" cy="271.0" r="6.8"/><circle cx="779.3" cy="300.5" r="6.8"/><circle cx="599.3" cy="256.7" r="6.8"/><circle cx="655.6" cy="231.9" r="6.8"/><circle cx="699.7" cy="297.4" r="6.8"/><circle cx="651.8" cy="327.1" r="6.8"/><circle cx="669.2" cy="214.8" r="6.8"/><circle cx="681.5" cy="251.2" r="6.8"/><circle cx="718.7" cy="222.6" r="6.8"/><circle cx="608.8" cy="296.0" r="6.8"/><circle cx="623.4" cy="320.8" r="6.8"/><circle cx="672.7" cy="290.0" r="6.8"/><circle cx="616.7" cy="290.2" r="6.8"/><circle cx="735.1" cy="282.8" r="6.8"/><circle cx="599.1" cy="311.9" r="6.8"/><circle cx="611.2" cy="232.6" r="6.8"/><circle cx="648.5" cy="306.1" r="6.8"/><circle cx="723.7" cy="225.2" r="6.8"/><circle cx="639.3" cy="262.8" r="6.8"/><circle cx="603.7" cy="259.9" r="6.8"/><circle cx="734.5" cy="247.6" r="6.8"/><circle cx="677.6" cy="249.0" r="6.8"/><circle cx="763.0" cy="307.9" r="6.8"/><circle cx="594.4" cy="308.7" r="6.8"/><circle cx="560.4" cy="238.5" r="6.8"/><circle cx="729.7" cy="305.2" r="6.8"/><circle cx="758.2" cy="291.0" r="6.8"/><circle cx="796.8" cy="292.0" r="6.8"/><circle cx="586.1" cy="331.3" r="6.8"/><circle cx="690.4" cy="307.7" r="6.8"/><circle cx="785.5" cy="325.5" r="6.8"/><circle cx="757.2" cy="332.4" r="6.8"/><circle cx="571.5" cy="327.1" r="6.8"/><circle cx="629.7" cy="247.1" r="6.8"/><circle cx="771.4" cy="309.4" r="6.8"/><circle cx="646.8" cy="327.1" r="6.8"/><circle cx="582.1" cy="274.3" r="6.8"/><circle cx="769.0" cy="302.4" r="6.8"/><circle cx="722.8" cy="274.7" r="6.8"/><circle cx="555.1" cy="230.7" r="6.8"/><circle cx="762.3" cy="288.6" r="6.8"/><circle cx="591.9" cy="322.7" r="6.8"/><circle cx="663.5" cy="220.0" r="6.8"/><circle cx="557.8" cy="234.6" r="6.8"/><circle cx="622.0" cy="206.2" r="6.8"/><circle cx="774.3" cy="313.6" r="6.8"/><circle cx="786.9" cy="283.7" r="6.8"/><circle cx="654.5" cy="259.3" r="6.8"/><circle cx="663.1" cy="232.1" r="6.8"/><circle cx="680.2" cy="212.2" r="6.8"/><circle cx="582.7" cy="331.5" r="6.8"/><circle cx="664.4" cy="286.8" r="6.8"/><circle cx="637.2" cy="324.0" r="6.8"/><circle cx="737.2" cy="291.4" r="6.8"/><circle cx="670.7" cy="296.1" r="6.8"/><circle cx="737.0" cy="231.0" r="6.8"/><circle cx="560.4" cy="216.7" r="6.8"/><circle cx="574.5" cy="329.9" r="6.8"/><circle cx="671.8" cy="257.5" r="6.8"/><circle cx="729.0" cy="326.0" r="6.8"/><circle cx="732.0" cy="251.4" r="6.8"/><circle cx="592.9" cy="287.0" r="6.8"/><circle cx="735.5" cy="322.2" r="6.8"/><circle cx="553.0" cy="321.4" r="6.8"/><circle cx="775.0" cy="299.8" r="6.8"/><circle cx="684.0" cy="333.6" r="6.8"/><circle cx="576.9" cy="326.0" r="6.8"/><circle cx="675.5" cy="330.4" r="6.8"/><circle cx="754.2" cy="285.5" r="6.8"/><circle cx="639.0" cy="229.9" r="6.8"/><circle cx="554.8" cy="276.1" r="6.8"/><circle cx="594.9" cy="312.7" r="6.8"/><circle cx="692.7" cy="270.8" r="6.8"/><circle cx="768.9" cy="258.9" r="6.8"/><circle cx="623.4" cy="301.3" r="6.8"/><circle cx="658.9" cy="224.9" r="6.8"/><circle cx="568.4" cy="324.1" r="6.8"/><circle cx="715.0" cy="237.9" r="6.8"/><circle cx="594.5" cy="230.6" r="6.8"/><circle cx="800.2" cy="278.0" r="6.8"/><circle cx="621.3" cy="256.9" r="6.8"/><circle cx="558.2" cy="262.0" r="6.8"/><circle cx="718.0" cy="306.5" r="6.8"/><circle cx="685.3" cy="268.7" r="6.8"/><circle cx="631.6" cy="281.6" r="6.8"/><circle cx="754.8" cy="235.2" r="6.8"/><circle cx="569.9" cy="193.7" r="6.8"/><circle cx="583.1" cy="257.6" r="6.8"/><circle cx="593.6" cy="259.5" r="6.8"/><circle cx="711.4" cy="323.1" r="6.8"/><circle cx="700.9" cy="253.9" r="6.8"/><circle cx="647.4" cy="292.7" r="6.8"/><circle cx="688.4" cy="241.6" r="6.8"/><circle cx="647.3" cy="226.1" r="6.8"/><circle cx="663.0" cy="313.0" r="6.8"/><circle cx="770.7" cy="322.0" r="6.8"/><circle cx="606.4" cy="289.3" r="6.8"/><circle cx="796.4" cy="341.4" r="6.8"/><circle cx="668.5" cy="272.1" r="6.8"/><circle cx="589.9" cy="235.2" r="6.8"/><circle cx="561.4" cy="312.3" r="6.8"/><circle cx="763.1" cy="309.6" r="6.8"/><circle cx="669.4" cy="301.6" r="6.8"/><circle cx="564.7" cy="297.3" r="6.8"/><circle cx="782.3" cy="296.8" r="6.8"/><circle cx="599.1" cy="275.1" r="6.8"/><circle cx="617.8" cy="268.4" r="6.8"/><circle cx="685.2" cy="251.3" r="6.8"/><circle cx="610.3" cy="268.7" r="6.8"/><circle cx="646.9" cy="299.1" r="6.8"/><circle cx="691.4" cy="248.6" r="6.8"/><circle cx="610.8" cy="211.1" r="6.8"/><circle cx="763.0" cy="273.7" r="6.8"/><circle cx="622.7" cy="250.2" r="6.8"/><circle cx="617.5" cy="275.3" r="6.8"/><circle cx="693.6" cy="324.3" r="6.8"/><circle cx="553.4" cy="258.1" r="6.8"/><circle cx="678.8" cy="254.9" r="6.8"/><circle cx="568.8" cy="245.8" r="6.8"/><circle cx="640.1" cy="291.8" r="6.8"/><circle cx="723.8" cy="312.8" r="6.8"/><circle cx="758.0" cy="320.1" r="6.8"/><circle cx="624.9" cy="243.9" r="6.8"/><circle cx="791.8" cy="314.1" r="6.8"/><circle cx="710.5" cy="235.8" r="6.8"/><circle cx="817.2" cy="833.3" r="6.8"/><circle cx="880.9" cy="909.3" r="6.8"/><circle cx="944.0" cy="860.8" r="6.8"/><circle cx="923.6" cy="844.9" r="6.8"/><circle cx="839.1" cy="952.0" r="6.8"/><circle cx="803.3" cy="763.1" r="6.8"/><circle cx="765.6" cy="763.9" r="6.8"/><circle cx="1027.6" cy="802.4" r="6.8"/><circle cx="843.3" cy="848.1" r="6.8"/><circle cx="861.5" cy="924.6" r="6.8"/><circle cx="1009.7" cy="783.8" r="6.8"/><circle cx="816.7" cy="797.0" r="6.8"/><circle cx="867.2" cy="951.4" r="6.8"/><circle cx="887.8" cy="795.0" r="6.8"/><circle cx="794.7" cy="837.1" r="6.8"/><circle cx="823.2" cy="896.2" r="6.8"/><circle cx="858.9" cy="837.4" r="6.8"/><circle cx="822.9" cy="877.8" r="6.8"/><circle cx="905.5" cy="863.4" r="6.8"/><circle cx="893.8" cy="928.2" r="6.8"/><circle cx="954.2" cy="845.0" r="6.8"/><circle cx="858.0" cy="936.3" r="6.8"/><circle cx="1028.1" cy="811.2" r="6.8"/><circle cx="935.3" cy="827.8" r="6.8"/><circle cx="844.3" cy="900.5" r="6.8"/><circle cx="826.2" cy="867.1" r="6.8"/><circle cx="749.5" cy="830.2" r="6.8"/><circle cx="1009.3" cy="828.2" r="6.8"/><circle cx="793.4" cy="804.2" r="6.8"/><circle cx="816.4" cy="842.3" r="6.8"/><circle cx="774.0" cy="840.6" r="6.8"/><circle cx="819.0" cy="935.9" r="6.8"/><circle cx="976.4" cy="844.7" r="6.8"/><circle cx="958.5" cy="852.2" r="6.8"/><circle cx="913.1" cy="785.0" r="6.8"/><circle cx="928.2" cy="910.5" r="6.8"/><circle cx="823.4" cy="831.4" r="6.8"/><circle cx="819.8" cy="773.5" r="6.8"/><circle cx="929.6" cy="873.8" r="6.8"/><circle cx="840.1" cy="836.2" r="6.8"/><circle cx="874.6" cy="932.4" r="6.8"/><circle cx="820.1" cy="844.6" r="6.8"/><circle cx="802.7" cy="778.1" r="6.8"/><circle cx="975.3" cy="797.9" r="6.8"/><circle cx="990.9" cy="804.1" r="6.8"/><circle cx="939.0" cy="910.4" r="6.8"/><circle cx="870.6" cy="943.8" r="6.8"/><circle cx="804.2" cy="861.9" r="6.8"/><circle cx="799.7" cy="792.0" r="6.8"/><circle cx="931.7" cy="845.1" r="6.8"/><circle cx="975.2" cy="783.6" r="6.8"/><circle cx="987.6" cy="813.7" r="6.8"/><circle cx="853.1" cy="819.6" r="6.8"/><circle cx="833.1" cy="934.2" r="6.8"/><circle cx="976.4" cy="820.6" r="6.8"/><circle cx="784.2" cy="802.2" r="6.8"/><circle cx="868.3" cy="845.2" r="6.8"/><circle cx="839.0" cy="826.2" r="6.8"/><circle cx="818.9" cy="838.7" r="6.8"/><circle cx="876.5" cy="924.2" r="6.8"/><circle cx="885.7" cy="803.4" r="6.8"/><circle cx="832.3" cy="806.5" r="6.8"/><circle cx="914.5" cy="825.4" r="6.8"/><circle cx="855.8" cy="844.5" r="6.8"/><circle cx="794.5" cy="767.1" r="6.8"/><circle cx="813.2" cy="930.6" r="6.8"/><circle cx="861.6" cy="936.2" r="6.8"/><circle cx="828.6" cy="826.6" r="6.8"/><circle cx="798.9" cy="825.8" r="6.8"/><circle cx="862.4" cy="815.4" r="6.8"/><circle cx="962.0" cy="885.0" r="6.8"/><circle cx="956.7" cy="780.5" r="6.8"/><circle cx="880.3" cy="934.3" r="6.8"/><circle cx="976.0" cy="795.1" r="6.8"/><circle cx="900.0" cy="929.3" r="6.8"/><circle cx="1018.2" cy="818.7" r="6.8"/><circle cx="837.4" cy="890.1" r="6.8"/><circle cx="775.2" cy="854.3" r="6.8"/><circle cx="806.4" cy="870.9" r="6.8"/><circle cx="822.5" cy="880.2" r="6.8"/><circle cx="891.9" cy="832.9" r="6.8"/><circle cx="787.8" cy="866.0" r="6.8"/><circle cx="887.8" cy="821.7" r="6.8"/><circle cx="798.7" cy="820.9" r="6.8"/><circle cx="828.5" cy="953.1" r="6.8"/><circle cx="895.6" cy="876.2" r="6.8"/><circle cx="838.6" cy="933.7" r="6.8"/><circle cx="905.2" cy="834.2" r="6.8"/><circle cx="810.3" cy="802.5" r="6.8"/><circle cx="821.2" cy="926.3" r="6.8"/><circle cx="936.0" cy="905.1" r="6.8"/><circle cx="785.0" cy="841.1" r="6.8"/><circle cx="813.5" cy="898.1" r="6.8"/><circle cx="921.5" cy="834.1" r="6.8"/><circle cx="872.9" cy="888.5" r="6.8"/><circle cx="871.6" cy="834.7" r="6.8"/><circle cx="794.0" cy="757.0" r="6.8"/><circle cx="931.3" cy="817.8" r="6.8"/><circle cx="784.3" cy="765.3" r="6.8"/><circle cx="841.1" cy="867.6" r="6.8"/><circle cx="866.5" cy="810.1" r="6.8"/><circle cx="917.7" cy="898.4" r="6.8"/><circle cx="965.2" cy="838.0" r="6.8"/><circle cx="813.1" cy="810.6" r="6.8"/><circle cx="953.7" cy="796.2" r="6.8"/><circle cx="1011.7" cy="805.9" r="6.8"/><circle cx="888.4" cy="856.1" r="6.8"/><circle cx="955.9" cy="785.2" r="6.8"/><circle cx="834.0" cy="913.7" r="6.8"/><circle cx="791.1" cy="832.4" r="6.8"/><circle cx="884.7" cy="846.4" r="6.8"/><circle cx="913.6" cy="792.8" r="6.8"/><circle cx="1000.8" cy="796.5" r="6.8"/><circle cx="941.4" cy="865.0" r="6.8"/><circle cx="959.2" cy="867.7" r="6.8"/><circle cx="786.1" cy="832.0" r="6.8"/><circle cx="964.3" cy="866.2" r="6.8"/><circle cx="909.1" cy="924.9" r="6.8"/><circle cx="824.8" cy="848.4" r="6.8"/><circle cx="836.7" cy="782.6" r="6.8"/><circle cx="886.0" cy="892.5" r="6.8"/><circle cx="873.2" cy="814.9" r="6.8"/><circle cx="948.4" cy="902.2" r="6.8"/><circle cx="898.1" cy="890.6" r="6.8"/><circle cx="954.3" cy="819.3" r="6.8"/><circle cx="761.3" cy="818.9" r="6.8"/><circle cx="886.4" cy="880.2" r="6.8"/><circle cx="970.5" cy="865.4" r="6.8"/><circle cx="861.1" cy="941.6" r="6.8"/><circle cx="944.1" cy="909.1" r="6.8"/><circle cx="773.3" cy="813.8" r="6.8"/><circle cx="815.5" cy="818.8" r="6.8"/><circle cx="789.9" cy="840.8" r="6.8"/><circle cx="911.2" cy="859.8" r="6.8"/><circle cx="902.9" cy="908.1" r="6.8"/><circle cx="974.0" cy="803.9" r="6.8"/><circle cx="966.7" cy="814.8" r="6.8"/><circle cx="799.3" cy="759.7" r="6.8"/><circle cx="819.4" cy="955.0" r="6.8"/><circle cx="753.5" cy="782.6" r="6.8"/><circle cx="849.7" cy="916.6" r="6.8"/><circle cx="875.4" cy="918.8" r="6.8"/><circle cx="823.9" cy="815.5" r="6.8"/><circle cx="901.5" cy="919.9" r="6.8"/><circle cx="864.4" cy="900.6" r="6.8"/><circle cx="934.8" cy="859.4" r="6.8"/><circle cx="823.5" cy="847.2" r="6.8"/><circle cx="945.0" cy="829.6" r="6.8"/><circle cx="948.0" cy="889.1" r="6.8"/><circle cx="894.9" cy="909.4" r="6.8"/><circle cx="798.1" cy="772.4" r="6.8"/><circle cx="776.8" cy="862.2" r="6.8"/><circle cx="944.0" cy="881.1" r="6.8"/><circle cx="982.9" cy="797.1" r="6.8"/><circle cx="782.6" cy="753.0" r="6.8"/><circle cx="914.4" cy="774.9" r="6.8"/><circle cx="878.0" cy="797.5" r="6.8"/><circle cx="858.7" cy="840.1" r="6.8"/><circle cx="877.3" cy="892.7" r="6.8"/><circle cx="868.2" cy="871.0" r="6.8"/><circle cx="977.1" cy="801.1" r="6.8"/><circle cx="986.0" cy="822.1" r="6.8"/><circle cx="915.4" cy="788.1" r="6.8"/><circle cx="840.5" cy="833.1" r="6.8"/><circle cx="848.8" cy="834.0" r="6.8"/><circle cx="860.4" cy="947.7" r="6.8"/><circle cx="917.1" cy="864.6" r="6.8"/><circle cx="980.5" cy="842.2" r="6.8"/><circle cx="934.8" cy="880.4" r="6.8"/><circle cx="965.3" cy="798.7" r="6.8"/><circle cx="802.7" cy="839.6" r="6.8"/><circle cx="848.1" cy="953.2" r="6.8"/><circle cx="813.1" cy="871.3" r="6.8"/><circle cx="879.2" cy="818.6" r="6.8"/><circle cx="862.2" cy="843.5" r="6.8"/><circle cx="952.1" cy="833.0" r="6.8"/><circle cx="756.0" cy="875.9" r="6.8"/><circle cx="868.8" cy="907.7" r="6.8"/><circle cx="832.8" cy="852.4" r="6.8"/><circle cx="971.6" cy="797.8" r="6.8"/><circle cx="829.2" cy="901.0" r="6.8"/><circle cx="823.1" cy="850.6" r="6.8"/><circle cx="898.1" cy="862.7" r="6.8"/><circle cx="1023.7" cy="796.9" r="6.8"/><circle cx="836.1" cy="927.1" r="6.8"/><circle cx="854.8" cy="898.3" r="6.8"/><circle cx="832.7" cy="949.7" r="6.8"/><circle cx="763.7" cy="788.9" r="6.8"/><circle cx="881.4" cy="871.1" r="6.8"/><circle cx="907.4" cy="929.7" r="6.8"/><circle cx="746.3" cy="859.0" r="6.8"/><circle cx="756.7" cy="851.1" r="6.8"/><circle cx="942.5" cy="898.6" r="6.8"/><circle cx="781.3" cy="818.3" r="6.8"/><circle cx="836.3" cy="793.1" r="6.8"/><circle cx="1020.8" cy="803.7" r="6.8"/><circle cx="950.2" cy="868.2" r="6.8"/><circle cx="982.1" cy="786.0" r="6.8"/><circle cx="991.1" cy="840.9" r="6.8"/><circle cx="892.8" cy="888.5" r="6.8"/><circle cx="973.4" cy="845.2" r="6.8"/><circle cx="749.4" cy="823.9" r="6.8"/><circle cx="995.7" cy="826.3" r="6.8"/><circle cx="966.6" cy="847.3" r="6.8"/><circle cx="778.7" cy="786.1" r="6.8"/><circle cx="850.3" cy="890.2" r="6.8"/><circle cx="757.7" cy="824.1" r="6.8"/><circle cx="1018.8" cy="811.3" r="6.8"/><circle cx="963.6" cy="789.9" r="6.8"/><circle cx="813.6" cy="786.7" r="6.8"/><circle cx="975.4" cy="858.8" r="6.8"/><circle cx="751.3" cy="825.0" r="6.8"/><circle cx="928.0" cy="886.1" r="6.8"/><circle cx="844.2" cy="938.6" r="6.8"/><circle cx="850.5" cy="863.0" r="6.8"/><circle cx="947.5" cy="837.4" r="6.8"/><circle cx="867.5" cy="836.7" r="6.8"/><circle cx="857.4" cy="904.4" r="6.8"/><circle cx="761.4" cy="779.5" r="6.8"/><circle cx="762.2" cy="748.1" r="6.8"/><circle cx="949.8" cy="896.8" r="6.8"/><circle cx="866.9" cy="803.2" r="6.8"/><circle cx="829.1" cy="848.7" r="6.8"/><circle cx="943.7" cy="891.0" r="6.8"/><circle cx="936.5" cy="887.0" r="6.8"/><circle cx="867.8" cy="820.2" r="6.8"/><circle cx="926.7" cy="894.5" r="6.8"/><circle cx="764.9" cy="843.9" r="6.8"/><circle cx="854.8" cy="857.8" r="6.8"/><circle cx="899.6" cy="897.9" r="6.8"/><circle cx="758.5" cy="793.6" r="6.8"/><circle cx="967.0" cy="830.7" r="6.8"/><circle cx="941.8" cy="903.0" r="6.8"/><circle cx="818.7" cy="802.1" r="6.8"/><circle cx="1012.8" cy="789.5" r="6.8"/><circle cx="813.7" cy="900.5" r="6.8"/><circle cx="826.0" cy="809.0" r="6.8"/><circle cx="772.4" cy="763.1" r="6.8"/><circle cx="890.3" cy="792.2" r="6.8"/><circle cx="1118.8" cy="500.5" r="6.8"/><circle cx="1110.1" cy="502.5" r="6.8"/><circle cx="1091.3" cy="485.9" r="6.8"/><circle cx="1080.6" cy="504.7" r="6.8"/><circle cx="1073.8" cy="489.7" r="6.8"/><circle cx="1090.8" cy="507.7" r="6.8"/><circle cx="1088.9" cy="503.6" r="6.8"/><circle cx="1081.2" cy="488.9" r="6.8"/><circle cx="1110.9" cy="494.3" r="6.8"/><circle cx="1053.4" cy="485.3" r="6.8"/><circle cx="1080.5" cy="507.5" r="6.8"/><circle cx="1086.5" cy="512.0" r="6.8"/><circle cx="1103.4" cy="490.0" r="6.8"/><circle cx="1107.5" cy="490.5" r="6.8"/><circle cx="705.3" cy="333.9" r="6.8"/><circle cx="573.8" cy="362.7" r="6.8"/><circle cx="754.3" cy="422.3" r="6.8"/><circle cx="747.4" cy="625.3" r="6.8"/><circle cx="718.5" cy="633.0" r="6.8"/><circle cx="768.8" cy="631.4" r="6.8"/><circle cx="695.7" cy="645.5" r="6.8"/><circle cx="729.1" cy="637.7" r="6.8"/><circle cx="943.8" cy="581.8" r="6.8"/><circle cx="961.4" cy="579.4" r="6.8"/><circle cx="901.5" cy="600.3" r="6.8"/><circle cx="924.7" cy="594.1" r="6.8"/><circle cx="897.3" cy="605.9" r="6.8"/><circle cx="898.9" cy="597.4" r="6.8"/><circle cx="952.3" cy="579.3" r="6.8"/><circle cx="433.9" cy="709.2" r="6.8"/><circle cx="480.1" cy="694.4" r="6.8"/><circle cx="409.1" cy="717.3" r="6.8"/><circle cx="468.5" cy="695.8" r="6.8"/><circle cx="919.4" cy="329.0" r="6.8"/><circle cx="904.2" cy="333.3" r="6.8"/><circle cx="937.3" cy="321.9" r="6.8"/><circle cx="915.4" cy="310.6" r="6.8"/><circle cx="945.6" cy="312.1" r="6.8"/><circle cx="979.0" cy="324.7" r="6.8"/><circle cx="982.2" cy="301.8" r="6.8"/><circle cx="927.4" cy="317.3" r="6.8"/><circle cx="957.5" cy="318.3" r="6.8"/><circle cx="658.7" cy="325.7" r="6.8"/><circle cx="579.8" cy="333.7" r="6.8"/><circle cx="550.5" cy="325.1" r="6.8"/><circle cx="766.0" cy="307.0" r="6.8"/><circle cx="641.1" cy="334.2" r="6.8"/><circle cx="615.3" cy="309.6" r="6.8"/><circle cx="714.3" cy="327.3" r="6.8"/><circle cx="602.7" cy="324.5" r="6.8"/><circle cx="615.6" cy="316.4" r="6.8"/><circle cx="648.4" cy="336.6" r="6.8"/><circle cx="772.7" cy="305.3" r="6.8"/><circle cx="674.4" cy="333.8" r="6.8"/><circle cx="689.4" cy="332.1" r="6.8"/><circle cx="795.8" cy="350.5" r="6.8"/><circle cx="650.2" cy="406.4" r="6.8"/><circle cx="620.6" cy="388.1" r="6.8"/><circle cx="622.0" cy="365.6" r="6.8"/><circle cx="674.1" cy="416.2" r="6.8"/><circle cx="687.6" cy="420.5" r="6.8"/><circle cx="707.8" cy="365.6" r="6.8"/><circle cx="785.2" cy="369.3" r="6.8"/><circle cx="734.0" cy="532.1" r="6.8"/><circle cx="480.0" cy="430.3" r="6.8"/><circle cx="539.1" cy="412.0" r="6.8"/><circle cx="530.6" cy="379.7" r="6.8"/><circle cx="544.7" cy="368.4" r="6.8"/><circle cx="518.0" cy="368.4" r="6.8"/><circle cx="513.2" cy="376.3" r="6.8"/><circle cx="572.8" cy="388.1" r="6.8"/><circle cx="586.9" cy="398.0" r="6.8"/><circle cx="561.6" cy="405.0" r="6.8"/><circle cx="688.1" cy="475.9" r="6.8"/><circle cx="728.9" cy="443.0" r="6.8"/><circle cx="737.3" cy="445.8" r="6.8"/><circle cx="797.8" cy="416.2" r="6.8"/><circle cx="803.4" cy="440.2" r="6.8"/><circle cx="788.0" cy="471.1" r="6.8"/><circle cx="771.1" cy="499.2" r="6.8"/><circle cx="757.9" cy="547.9" r="6.8"/><circle cx="849.5" cy="568.1" r="6.8"/><circle cx="867.8" cy="573.8" r="6.8"/><circle cx="839.7" cy="578.0" r="6.8"/><circle cx="829.8" cy="582.2" r="6.8"/><circle cx="860.8" cy="586.4" r="6.8"/><circle cx="873.4" cy="556.9" r="6.8"/><circle cx="834.1" cy="566.7" r="6.8"/><circle cx="773.6" cy="610.9" r="6.8"/><circle cx="789.1" cy="615.4" r="6.8"/><circle cx="760.9" cy="624.4" r="6.8"/><circle cx="802.6" cy="630.6" r="6.8"/><circle cx="791.9" cy="637.0" r="6.8"/><circle cx="841.1" cy="641.2" r="6.8"/><circle cx="854.3" cy="637.0" r="6.8"/><circle cx="713.7" cy="646.9" r="6.8"/><circle cx="723.0" cy="655.3" r="6.8"/><circle cx="705.2" cy="655.9" r="6.8"/><circle cx="677.4" cy="668.0" r="6.8"/><circle cx="784.3" cy="668.0" r="6.8"/><circle cx="800.3" cy="717.8" r="6.8"/><circle cx="730.0" cy="722.2" r="6.8"/><circle cx="711.7" cy="727.0" r="6.8"/><circle cx="762.3" cy="732.7" r="6.8"/><circle cx="758.1" cy="548.4" r="6.8"/><circle cx="702.4" cy="603.3" r="6.8"/><circle cx="647.0" cy="625.8" r="6.8"/><circle cx="654.1" cy="675.0" r="6.8"/><circle cx="662.5" cy="708.8" r="6.8"/><circle cx="775.0" cy="736.9" r="6.8"/><circle cx="824.2" cy="741.1" r="6.8"/><circle cx="859.4" cy="610.3" r="6.8"/><circle cx="876.2" cy="612.6" r="6.8"/><circle cx="873.4" cy="625.8" r="6.8"/><circle cx="886.1" cy="634.2" r="6.8"/><circle cx="879.1" cy="644.1" r="6.8"/><circle cx="917.0" cy="620.2" r="6.8"/><circle cx="908.6" cy="639.8" r="6.8"/><circle cx="936.7" cy="638.4" r="6.8"/><circle cx="956.4" cy="632.8" r="6.8"/><circle cx="950.8" cy="669.4" r="6.8"/><circle cx="971.9" cy="675.0" r="6.8"/><circle cx="893.1" cy="656.7" r="6.8"/><circle cx="905.8" cy="670.8" r="6.8"/><circle cx="898.8" cy="679.2" r="6.8"/><circle cx="887.5" cy="687.7" r="6.8"/><circle cx="898.8" cy="691.9" r="6.8"/><circle cx="388.0" cy="713.4" r="6.8"/><circle cx="405.5" cy="716.2" r="6.8"/><circle cx="418.7" cy="719.9" r="6.8"/><circle cx="437.2" cy="710.6" r="6.8"/><circle cx="480.0" cy="696.0" r="6.8"/><circle cx="492.7" cy="694.3" r="6.8"/><circle cx="511.5" cy="708.4" r="6.8"/><circle cx="467.3" cy="724.7" r="6.8"/><circle cx="349.2" cy="742.1" r="6.8"/><circle cx="373.7" cy="750.0" r="6.8"/><circle cx="381.6" cy="743.0" r="6.8"/><circle cx="391.4" cy="738.8" r="6.8"/><circle cx="385.2" cy="726.7" r="6.8"/><circle cx="446.2" cy="733.1" r="6.8"/><circle cx="458.3" cy="733.7" r="6.8"/><circle cx="460.3" cy="745.8" r="6.8"/><circle cx="443.4" cy="743.5" r="6.8"/><circle cx="456.1" cy="765.5" r="6.8"/><circle cx="474.4" cy="770.2" r="6.8"/><circle cx="475.8" cy="764.1" r="6.8"/><circle cx="494.1" cy="762.7" r="6.8"/><circle cx="519.4" cy="754.2" r="6.8"/><circle cx="506.7" cy="747.2" r="6.8"/><circle cx="513.8" cy="780.9" r="6.8"/><circle cx="505.3" cy="786.6" r="6.8"/><circle cx="510.4" cy="727.5" r="6.8"/><circle cx="430.2" cy="781.5" r="6.8"/><circle cx="392.8" cy="809.1" r="6.8"/><circle cx="405.5" cy="820.9" r="6.8"/><circle cx="330.4" cy="820.9" r="6.8"/><circle cx="356.2" cy="828.2" r="6.8"/><circle cx="394.2" cy="834.9" r="6.8"/><circle cx="453.3" cy="783.8" r="6.8"/><circle cx="462.3" cy="802.9" r="6.8"/><circle cx="461.7" cy="847.0" r="6.8"/><circle cx="448.2" cy="870.9" r="6.8"/><circle cx="532.9" cy="718.2" r="6.8"/><circle cx="575.6" cy="694.3" r="6.8"/><circle cx="603.8" cy="696.0" r="6.8"/><circle cx="637.5" cy="699.4" r="6.8"/><circle cx="586.9" cy="712.9" r="6.8"/><circle cx="610.8" cy="731.7" r="6.8"/><circle cx="508.1" cy="844.2" r="6.8"/><circle cx="539.1" cy="831.6" r="6.8"/><circle cx="512.3" cy="862.5" r="6.8"/><circle cx="496.9" cy="890.6" r="6.8"/><circle cx="471.6" cy="893.4" r="6.8"/><circle cx="519.4" cy="887.8" r="6.8"/><circle cx="539.1" cy="870.9" r="6.8"/><circle cx="217.6" cy="405.3" r="6.8"/><circle cx="206.9" cy="412.3" r="6.8"/><circle cx="225.2" cy="419.4" r="6.8"/><circle cx="219.5" cy="430.6" r="6.8"/><circle cx="239.2" cy="381.4" r="6.8"/><circle cx="250.5" cy="381.4" r="6.8"/><circle cx="274.4" cy="416.6" r="6.8"/><circle cx="282.8" cy="427.8" r="6.8"/><circle cx="280.0" cy="412.3" r="6.8"/><circle cx="429.1" cy="413.8" r="6.8"/><circle cx="438.9" cy="422.2" r="6.8"/><circle cx="464.2" cy="416.6" r="6.8"/><circle cx="476.9" cy="430.6" r="6.8"/><circle cx="463.4" cy="441.0" r="6.8"/><circle cx="406.6" cy="422.2" r="6.8"/><circle cx="310.4" cy="540.9" r="6.8"/><circle cx="327.8" cy="541.7" r="6.8"/><circle cx="327.2" cy="557.8" r="6.8"/><circle cx="344.1" cy="565.6" r="6.8"/><circle cx="341.9" cy="579.7" r="6.8"/><circle cx="370.0" cy="567.9" r="6.8"/><circle cx="377.0" cy="574.1" r="6.8"/><circle cx="906.9" cy="334.2" r="6.8"/><circle cx="920.4" cy="337.0" r="6.8"/><circle cx="932.2" cy="338.4" r="6.8"/><circle cx="942.0" cy="351.9" r="6.8"/><circle cx="912.5" cy="285.0" r="6.8"/><circle cx="961.7" cy="275.2" r="6.8"/><circle cx="958.9" cy="300.5" r="6.8"/><circle cx="879.6" cy="323.8" r="6.8"/><circle cx="1061.6" cy="372.2" r="6.8"/><circle cx="1058.2" cy="384.0" r="6.8"/><circle cx="1035.1" cy="374.2" r="6.8"/><circle cx="823.9" cy="420.0" r="6.8"/><circle cx="819.7" cy="432.7" r="6.8"/><circle cx="853.4" cy="455.2" r="6.8"/><circle cx="833.2" cy="440.2" r="6.8"/><circle cx="943.4" cy="458.8" r="6.8"/><circle cx="954.1" cy="458.0" r="6.8"/><circle cx="973.0" cy="477.7" r="6.8"/><circle cx="918.1" cy="479.9" r="6.8"/><circle cx="1028.4" cy="417.8" r="6.8"/><circle cx="219.5" cy="342.8" r="6.8"/><circle cx="239.2" cy="379.4" r="6.8"/><circle cx="251.9" cy="380.8" r="6.8"/><circle cx="639.2" cy="911.2" r="6.8"/><circle cx="696.9" cy="914.1" r="6.8"/><circle cx="695.5" cy="928.1" r="6.8"/><circle cx="724.2" cy="948.4" r="6.8"/><circle cx="660.3" cy="935.2" r="6.8"/><circle cx="581.6" cy="914.1" r="6.8"/><circle cx="724.2" cy="948.9" r="6.8"/><circle cx="765.0" cy="994.5" r="6.8"/><circle cx="735.5" cy="1005.2" r="6.8"/><circle cx="694.7" cy="915.2" r="6.8"/><circle cx="701.7" cy="913.2" r="6.8"/><circle cx="694.7" cy="927.8" r="6.8"/><circle cx="590.5" cy="352.1" r="6.8"/><circle cx="622.2" cy="364.8" r="6.8"/><circle cx="676.2" cy="376.6" r="6.8"/><circle cx="785.4" cy="369.5" r="6.8"/><circle cx="972.6" cy="750.1" r="6.8"/><circle cx="986.7" cy="764.2" r="6.8"/><circle cx="984.7" cy="862.0" r="6.8"/><circle cx="843.2" cy="779.1" r="6.8"/><circle cx="835.6" cy="788.9" r="6.8"/><circle cx="302.6" cy="914.1" r="6.8"/><circle cx="314.7" cy="912.3" r="6.8"/><circle cx="321.3" cy="918.4" r="6.8"/><circle cx="332.6" cy="924.0" r="6.8"/><circle cx="336.8" cy="927.5" r="6.8"/><circle cx="345.9" cy="925.4" r="6.8"/><circle cx="348.5" cy="924.7" r="6.8"/><circle cx="357.9" cy="923.3" r="6.8"/><circle cx="360.0" cy="930.0" r="6.8"/><circle cx="354.4" cy="934.5" r="6.8"/><circle cx="367.0" cy="940.9" r="6.8"/><circle cx="379.7" cy="941.6" r="6.8"/><circle cx="365.6" cy="935.9" r="6.8"/><circle cx="394.5" cy="933.8" r="6.8"/><circle cx="348.8" cy="958.4" r="6.8"/><circle cx="390.2" cy="963.4" r="6.8"/><circle cx="816.8" cy="509.9" r="6.8"/><circle cx="878.9" cy="487.4" r="6.8"/><circle cx="890.9" cy="488.1" r="6.8"/><circle cx="917.6" cy="483.2" r="6.8"/><circle cx="844.5" cy="535.2" r="6.8"/><circle cx="859.2" cy="530.3" r="6.8"/><circle cx="880.3" cy="510.6" r="6.8"/><circle cx="871.2" cy="517.0" r="6.8"/><circle cx="902.8" cy="526.8" r="6.8"/><circle cx="921.1" cy="528.9" r="6.8"/><circle cx="971.7" cy="494.5" r="6.8"/><circle cx="1121.7" cy="499.2" r="6.8"/><circle cx="1113.9" cy="483.6" r="6.8"/><circle cx="1057.7" cy="501.6" r="6.8"/><circle cx="1103.8" cy="478.1" r="6.8"/>
</g>
<g fill="#d8e8f2">
<circle cx="1038.4" cy="484.7" r="6.8"/><circle cx="1026.7" cy="486.3" r="6.8"/><circle cx="663.0" cy="736.5" r="6.8"/><circle cx="592.8" cy="756.4" r="6.8"/><circle cx="616.6" cy="749.4" r="6.8"/><circle cx="609.1" cy="760.0" r="6.8"/><circle cx="644.6" cy="747.7" r="6.8"/><circle cx="658.3" cy="751.5" r="6.8"/><circle cx="656.8" cy="758.7" r="6.8"/><circle cx="660.3" cy="759.0" r="6.8"/><circle cx="682.5" cy="751.4" r="6.8"/><circle cx="707.9" cy="758.4" r="6.8"/><circle cx="731.9" cy="745.3" r="6.8"/><circle cx="578.9" cy="770.6" r="6.8"/><circle cx="587.9" cy="779.9" r="6.8"/><circle cx="611.2" cy="767.5" r="6.8"/><circle cx="624.1" cy="770.9" r="6.8"/><circle cx="658.0" cy="779.7" r="6.8"/><circle cx="666.2" cy="765.5" r="6.8"/><circle cx="671.1" cy="779.4" r="6.8"/><circle cx="710.8" cy="778.0" r="6.8"/><circle cx="705.0" cy="776.7" r="6.8"/><circle cx="705.0" cy="769.6" r="6.8"/><circle cx="712.8" cy="768.3" r="6.8"/><circle cx="702.6" cy="771.6" r="6.8"/><circle cx="737.9" cy="763.1" r="6.8"/><circle cx="731.7" cy="771.9" r="6.8"/><circle cx="557.3" cy="794.0" r="6.8"/><circle cx="576.5" cy="783.4" r="6.8"/><circle cx="568.2" cy="785.6" r="6.8"/><circle cx="581.6" cy="799.2" r="6.8"/><circle cx="603.3" cy="799.9" r="6.8"/><circle cx="626.7" cy="799.3" r="6.8"/><circle cx="623.2" cy="787.0" r="6.8"/><circle cx="642.3" cy="787.7" r="6.8"/><circle cx="676.1" cy="784.3" r="6.8"/><circle cx="669.6" cy="797.0" r="6.8"/><circle cx="698.0" cy="783.7" r="6.8"/><circle cx="698.5" cy="795.9" r="6.8"/><circle cx="686.9" cy="784.1" r="6.8"/><circle cx="713.6" cy="786.9" r="6.8"/><circle cx="736.1" cy="782.0" r="6.8"/><circle cx="559.4" cy="812.9" r="6.8"/><circle cx="572.5" cy="818.2" r="6.8"/><circle cx="565.5" cy="807.3" r="6.8"/><circle cx="593.1" cy="808.5" r="6.8"/><circle cx="594.7" cy="816.1" r="6.8"/><circle cx="594.1" cy="806.8" r="6.8"/><circle cx="593.2" cy="800.6" r="6.8"/><circle cx="588.9" cy="809.7" r="6.8"/><circle cx="589.5" cy="813.6" r="6.8"/><circle cx="606.9" cy="806.9" r="6.8"/><circle cx="626.4" cy="806.8" r="6.8"/><circle cx="635.1" cy="811.9" r="6.8"/><circle cx="635.1" cy="805.6" r="6.8"/><circle cx="658.9" cy="804.4" r="6.8"/><circle cx="654.5" cy="808.9" r="6.8"/><circle cx="649.6" cy="805.9" r="6.8"/><circle cx="709.1" cy="818.7" r="6.8"/><circle cx="735.8" cy="812.4" r="6.8"/><circle cx="730.2" cy="808.7" r="6.8"/><circle cx="572.1" cy="838.2" r="6.8"/><circle cx="580.2" cy="839.9" r="6.8"/><circle cx="582.6" cy="831.1" r="6.8"/><circle cx="611.7" cy="825.0" r="6.8"/><circle cx="632.3" cy="824.8" r="6.8"/><circle cx="629.0" cy="833.1" r="6.8"/><circle cx="637.7" cy="827.1" r="6.8"/><circle cx="659.5" cy="829.3" r="6.8"/><circle cx="667.8" cy="825.7" r="6.8"/><circle cx="699.5" cy="835.5" r="6.8"/><circle cx="700.6" cy="837.9" r="6.8"/><circle cx="736.6" cy="828.8" r="6.8"/><circle cx="621.1" cy="843.7" r="6.8"/><circle cx="661.2" cy="841.4" r="6.8"/><circle cx="667.1" cy="857.0" r="6.8"/><circle cx="664.5" cy="853.1" r="6.8"/><circle cx="673.8" cy="844.9" r="6.8"/><circle cx="694.5" cy="859.5" r="6.8"/><circle cx="703.6" cy="858.2" r="6.8"/><circle cx="733.5" cy="847.6" r="6.8"/><circle cx="724.7" cy="850.9" r="6.8"/><circle cx="735.9" cy="851.4" r="6.8"/><circle cx="574.9" cy="878.9" r="6.8"/><circle cx="560.6" cy="860.6" r="6.8"/><circle cx="594.6" cy="872.0" r="6.8"/><circle cx="586.3" cy="878.1" r="6.8"/><circle cx="595.7" cy="879.6" r="6.8"/><circle cx="616.3" cy="868.9" r="6.8"/><circle cx="613.6" cy="874.2" r="6.8"/><circle cx="636.9" cy="867.5" r="6.8"/><circle cx="643.3" cy="870.3" r="6.8"/><circle cx="696.0" cy="868.5" r="6.8"/><circle cx="680.5" cy="871.5" r="6.8"/><circle cx="697.5" cy="861.5" r="6.8"/><circle cx="715.6" cy="878.9" r="6.8"/><circle cx="733.6" cy="878.6" r="6.8"/><circle cx="721.8" cy="860.7" r="6.8"/><circle cx="620.1" cy="534.6" r="6.8"/><circle cx="618.1" cy="559.2" r="6.8"/><circle cx="517.1" cy="501.6" r="6.8"/><circle cx="635.1" cy="455.1" r="6.8"/><circle cx="530.3" cy="463.8" r="6.8"/><circle cx="601.2" cy="460.2" r="6.8"/><circle cx="591.6" cy="413.7" r="6.8"/><circle cx="617.2" cy="431.3" r="6.8"/><circle cx="624.0" cy="553.8" r="6.8"/><circle cx="867.9" cy="571.6" r="6.8"/><circle cx="690.7" cy="694.9" r="6.8"/><circle cx="657.3" cy="729.8" r="6.8"/><circle cx="662.0" cy="731.9" r="6.8"/><circle cx="656.6" cy="714.6" r="6.8"/><circle cx="716.4" cy="735.7" r="6.8"/><circle cx="715.6" cy="732.0" r="6.8"/><circle cx="671.5" cy="728.2" r="6.8"/><circle cx="597.7" cy="698.6" r="6.8"/><circle cx="493.6" cy="880.5" r="6.8"/><circle cx="530.8" cy="880.1" r="6.8"/><circle cx="512.2" cy="886.3" r="6.8"/><circle cx="510.8" cy="851.5" r="6.8"/><circle cx="549.8" cy="861.9" r="6.8"/><circle cx="546.0" cy="845.0" r="6.8"/><circle cx="419.3" cy="405.0" r="6.8"/><circle cx="441.3" cy="427.5" r="6.8"/><circle cx="342.6" cy="522.7" r="6.8"/><circle cx="409.2" cy="555.6" r="6.8"/><circle cx="366.3" cy="404.3" r="6.8"/><circle cx="273.7" cy="386.7" r="6.8"/><circle cx="346.0" cy="469.0" r="6.8"/><circle cx="367.5" cy="465.5" r="6.8"/><circle cx="391.3" cy="395.4" r="6.8"/><circle cx="333.3" cy="412.7" r="6.8"/><circle cx="344.5" cy="511.7" r="6.8"/><circle cx="357.1" cy="403.6" r="6.8"/><circle cx="394.2" cy="449.6" r="6.8"/><circle cx="373.1" cy="525.3" r="6.8"/><circle cx="376.3" cy="540.4" r="6.8"/><circle cx="353.0" cy="432.2" r="6.8"/><circle cx="286.8" cy="443.5" r="6.8"/><circle cx="322.1" cy="486.7" r="6.8"/><circle cx="334.2" cy="486.2" r="6.8"/><circle cx="317.4" cy="425.1" r="6.8"/><circle cx="411.1" cy="443.6" r="6.8"/><circle cx="335.7" cy="480.6" r="6.8"/><circle cx="329.8" cy="476.5" r="6.8"/><circle cx="410.1" cy="396.8" r="6.8"/><circle cx="338.7" cy="390.6" r="6.8"/><circle cx="383.8" cy="524.6" r="6.8"/><circle cx="302.0" cy="383.7" r="6.8"/><circle cx="381.2" cy="437.2" r="6.8"/><circle cx="335.0" cy="518.4" r="6.8"/><circle cx="324.2" cy="387.2" r="6.8"/><circle cx="392.2" cy="402.5" r="6.8"/><circle cx="317.5" cy="496.7" r="6.8"/><circle cx="390.4" cy="421.4" r="6.8"/><circle cx="347.4" cy="530.9" r="6.8"/><circle cx="358.8" cy="387.9" r="6.8"/><circle cx="413.2" cy="457.3" r="6.8"/><circle cx="329.7" cy="505.5" r="6.8"/><circle cx="364.5" cy="400.5" r="6.8"/><circle cx="366.4" cy="546.8" r="6.8"/><circle cx="379.1" cy="448.5" r="6.8"/><circle cx="384.2" cy="472.5" r="6.8"/><circle cx="308.7" cy="445.7" r="6.8"/><circle cx="380.9" cy="475.8" r="6.8"/><circle cx="339.6" cy="410.8" r="6.8"/><circle cx="355.1" cy="523.2" r="6.8"/><circle cx="330.1" cy="420.1" r="6.8"/><circle cx="316.8" cy="466.0" r="6.8"/><circle cx="404.1" cy="480.4" r="6.8"/><circle cx="293.3" cy="421.8" r="6.8"/><circle cx="297.7" cy="418.4" r="6.8"/><circle cx="376.8" cy="467.1" r="6.8"/><circle cx="288.0" cy="457.5" r="6.8"/><circle cx="365.3" cy="457.7" r="6.8"/><circle cx="318.8" cy="468.4" r="6.8"/><circle cx="394.2" cy="423.6" r="6.8"/><circle cx="306.7" cy="401.8" r="6.8"/><circle cx="407.1" cy="542.5" r="6.8"/><circle cx="368.6" cy="535.0" r="6.8"/><circle cx="308.1" cy="486.0" r="6.8"/><circle cx="352.0" cy="497.1" r="6.8"/><circle cx="352.9" cy="474.8" r="6.8"/><circle cx="408.2" cy="550.3" r="6.8"/><circle cx="355.0" cy="421.4" r="6.8"/><circle cx="334.5" cy="565.8" r="6.8"/><circle cx="1012.5" cy="263.0" r="6.8"/><circle cx="1017.3" cy="274.7" r="6.8"/><circle cx="1054.8" cy="314.1" r="6.8"/><circle cx="1042.5" cy="334.8" r="6.8"/><circle cx="1060.9" cy="305.8" r="6.8"/><circle cx="1035.0" cy="332.2" r="6.8"/><circle cx="1069.8" cy="312.4" r="6.8"/><circle cx="1045.6" cy="286.7" r="6.8"/><circle cx="1018.0" cy="289.1" r="6.8"/><circle cx="1031.0" cy="318.6" r="6.8"/><circle cx="1023.0" cy="301.9" r="6.8"/><circle cx="999.2" cy="311.6" r="6.8"/><circle cx="1015.9" cy="332.4" r="6.8"/><circle cx="1023.8" cy="341.4" r="6.8"/><circle cx="1046.5" cy="315.9" r="6.8"/><circle cx="1020.7" cy="266.1" r="6.8"/><circle cx="1045.0" cy="321.0" r="6.8"/><circle cx="1002.9" cy="322.5" r="6.8"/><circle cx="1045.8" cy="282.7" r="6.8"/><circle cx="1051.1" cy="298.4" r="6.8"/><circle cx="1037.5" cy="335.6" r="6.8"/><circle cx="842.3" cy="351.3" r="6.8"/><circle cx="803.7" cy="335.7" r="6.8"/><circle cx="832.7" cy="288.2" r="6.8"/><circle cx="849.5" cy="336.1" r="6.8"/><circle cx="816.1" cy="312.3" r="6.8"/><circle cx="817.0" cy="334.4" r="6.8"/><circle cx="1061.4" cy="458.2" r="6.8"/><circle cx="854.6" cy="398.9" r="6.8"/><circle cx="968.1" cy="420.4" r="6.8"/><circle cx="984.1" cy="456.2" r="6.8"/><circle cx="991.9" cy="460.2" r="6.8"/><circle cx="992.4" cy="449.6" r="6.8"/><circle cx="984.9" cy="476.8" r="6.8"/><circle cx="867.7" cy="380.2" r="6.8"/><circle cx="959.3" cy="433.5" r="6.8"/><circle cx="907.7" cy="378.0" r="6.8"/><circle cx="1041.6" cy="456.9" r="6.8"/><circle cx="1019.9" cy="446.0" r="6.8"/><circle cx="1055.2" cy="463.6" r="6.8"/><circle cx="990.2" cy="438.5" r="6.8"/><circle cx="1051.6" cy="475.7" r="6.8"/><circle cx="912.0" cy="376.3" r="6.8"/><circle cx="1074.5" cy="460.5" r="6.8"/><circle cx="897.2" cy="381.1" r="6.8"/><circle cx="912.6" cy="406.9" r="6.8"/><circle cx="882.3" cy="400.5" r="6.8"/><circle cx="869.1" cy="408.3" r="6.8"/><circle cx="915.3" cy="394.2" r="6.8"/><circle cx="1032.6" cy="442.7" r="6.8"/><circle cx="959.2" cy="416.5" r="6.8"/><circle cx="874.2" cy="365.4" r="6.8"/><circle cx="896.8" cy="419.3" r="6.8"/><circle cx="871.8" cy="358.9" r="6.8"/><circle cx="919.9" cy="438.5" r="6.8"/><circle cx="970.3" cy="443.5" r="6.8"/><circle cx="1026.0" cy="450.2" r="6.8"/><circle cx="970.9" cy="440.4" r="6.8"/><circle cx="927.2" cy="420.7" r="6.8"/><circle cx="1005.5" cy="474.1" r="6.8"/><circle cx="969.8" cy="430.9" r="6.8"/><circle cx="888.5" cy="373.9" r="6.8"/><circle cx="999.6" cy="457.6" r="6.8"/><circle cx="1035.4" cy="469.1" r="6.8"/><circle cx="1060.5" cy="445.3" r="6.8"/><circle cx="1009.6" cy="427.6" r="6.8"/><circle cx="952.3" cy="437.8" r="6.8"/><circle cx="932.4" cy="437.1" r="6.8"/><circle cx="929.1" cy="397.9" r="6.8"/><circle cx="998.2" cy="446.2" r="6.8"/><circle cx="1106.1" cy="475.4" r="6.8"/><circle cx="968.4" cy="414.4" r="6.8"/><circle cx="897.7" cy="389.0" r="6.8"/><circle cx="986.0" cy="465.3" r="6.8"/><circle cx="907.3" cy="390.4" r="6.8"/><circle cx="1083.7" cy="473.9" r="6.8"/><circle cx="955.4" cy="421.8" r="6.8"/><circle cx="937.1" cy="425.1" r="6.8"/><circle cx="997.1" cy="462.5" r="6.8"/><circle cx="877.9" cy="412.0" r="6.8"/><circle cx="857.9" cy="405.7" r="6.8"/><circle cx="1040.3" cy="470.9" r="6.8"/><circle cx="867.3" cy="424.5" r="6.8"/><circle cx="860.8" cy="419.7" r="6.8"/><circle cx="919.6" cy="412.4" r="6.8"/><circle cx="865.9" cy="364.0" r="6.8"/><circle cx="1007.8" cy="450.0" r="6.8"/><circle cx="909.1" cy="390.6" r="6.8"/><circle cx="811.8" cy="434.3" r="6.8"/><circle cx="832.0" cy="435.1" r="6.8"/><circle cx="853.8" cy="440.2" r="6.8"/><circle cx="847.5" cy="445.5" r="6.8"/><circle cx="360.1" cy="305.4" r="6.8"/><circle cx="527.7" cy="215.6" r="6.8"/><circle cx="406.6" cy="259.3" r="6.8"/><circle cx="332.5" cy="317.2" r="6.8"/><circle cx="486.7" cy="284.5" r="6.8"/><circle cx="423.3" cy="248.9" r="6.8"/><circle cx="451.5" cy="229.5" r="6.8"/><circle cx="342.1" cy="258.4" r="6.8"/><circle cx="365.8" cy="262.1" r="6.8"/><circle cx="351.2" cy="256.7" r="6.8"/><circle cx="305.5" cy="354.6" r="6.8"/><circle cx="426.7" cy="338.6" r="6.8"/><circle cx="295.1" cy="291.8" r="6.8"/><circle cx="364.4" cy="353.1" r="6.8"/><circle cx="279.3" cy="355.4" r="6.8"/><circle cx="391.9" cy="292.6" r="6.8"/><circle cx="494.6" cy="258.1" r="6.8"/><circle cx="452.9" cy="257.9" r="6.8"/><circle cx="329.1" cy="280.4" r="6.8"/><circle cx="364.2" cy="373.6" r="6.8"/><circle cx="260.9" cy="370.1" r="6.8"/><circle cx="488.3" cy="273.5" r="6.8"/><circle cx="494.4" cy="293.3" r="6.8"/><circle cx="432.3" cy="342.8" r="6.8"/><circle cx="321.0" cy="287.5" r="6.8"/><circle cx="469.6" cy="238.3" r="6.8"/><circle cx="515.2" cy="327.9" r="6.8"/><circle cx="392.2" cy="268.4" r="6.8"/><circle cx="468.5" cy="356.7" r="6.8"/><circle cx="304.5" cy="320.1" r="6.8"/><circle cx="293.0" cy="312.8" r="6.8"/><circle cx="318.2" cy="312.2" r="6.8"/><circle cx="546.4" cy="291.4" r="6.8"/><circle cx="433.3" cy="300.0" r="6.8"/><circle cx="418.9" cy="346.0" r="6.8"/><circle cx="503.1" cy="285.5" r="6.8"/><circle cx="342.8" cy="331.2" r="6.8"/><circle cx="401.3" cy="331.2" r="6.8"/><circle cx="411.1" cy="292.3" r="6.8"/><circle cx="465.5" cy="324.6" r="6.8"/><circle cx="443.3" cy="350.5" r="6.8"/><circle cx="465.0" cy="333.2" r="6.8"/><circle cx="531.0" cy="292.6" r="6.8"/><circle cx="331.2" cy="357.2" r="6.8"/><circle cx="514.9" cy="323.7" r="6.8"/><circle cx="331.4" cy="301.3" r="6.8"/><circle cx="499.9" cy="207.5" r="6.8"/><circle cx="460.6" cy="301.3" r="6.8"/><circle cx="330.3" cy="305.0" r="6.8"/><circle cx="376.4" cy="271.7" r="6.8"/><circle cx="297.0" cy="331.7" r="6.8"/><circle cx="530.2" cy="258.5" r="6.8"/><circle cx="440.3" cy="344.9" r="6.8"/><circle cx="500.6" cy="304.3" r="6.8"/><circle cx="410.7" cy="230.4" r="6.8"/><circle cx="517.8" cy="302.9" r="6.8"/><circle cx="509.4" cy="219.5" r="6.8"/><circle cx="335.8" cy="301.5" r="6.8"/><circle cx="339.7" cy="306.0" r="6.8"/><circle cx="542.5" cy="370.0" r="6.8"/><circle cx="372.2" cy="318.0" r="6.8"/><circle cx="330.5" cy="373.7" r="6.8"/><circle cx="409.1" cy="330.5" r="6.8"/><circle cx="540.7" cy="309.8" r="6.8"/><circle cx="431.7" cy="371.5" r="6.8"/><circle cx="438.9" cy="287.9" r="6.8"/><circle cx="527.1" cy="366.2" r="6.8"/><circle cx="288.6" cy="346.5" r="6.8"/><circle cx="458.8" cy="299.8" r="6.8"/><circle cx="449.5" cy="336.2" r="6.8"/><circle cx="370.1" cy="287.9" r="6.8"/><circle cx="472.1" cy="222.0" r="6.8"/><circle cx="527.4" cy="264.4" r="6.8"/><circle cx="351.3" cy="375.4" r="6.8"/><circle cx="532.7" cy="193.3" r="6.8"/><circle cx="342.4" cy="317.1" r="6.8"/><circle cx="452.0" cy="320.3" r="6.8"/><circle cx="410.5" cy="251.2" r="6.8"/><circle cx="475.7" cy="249.3" r="6.8"/><circle cx="266.2" cy="371.0" r="6.8"/><circle cx="351.6" cy="366.2" r="6.8"/><circle cx="514.3" cy="220.8" r="6.8"/><circle cx="437.2" cy="356.8" r="6.8"/><circle cx="443.1" cy="329.1" r="6.8"/><circle cx="263.5" cy="374.4" r="6.8"/><circle cx="364.9" cy="361.8" r="6.8"/><circle cx="415.0" cy="298.9" r="6.8"/><circle cx="382.6" cy="274.5" r="6.8"/><circle cx="409.7" cy="278.4" r="6.8"/><circle cx="376.7" cy="266.9" r="6.8"/><circle cx="523.8" cy="194.9" r="6.8"/><circle cx="318.2" cy="290.4" r="6.8"/><circle cx="301.9" cy="360.0" r="6.8"/><circle cx="531.0" cy="246.8" r="6.8"/><circle cx="523.8" cy="285.8" r="6.8"/><circle cx="541.6" cy="253.7" r="6.8"/><circle cx="524.0" cy="222.2" r="6.8"/><circle cx="523.1" cy="305.6" r="6.8"/><circle cx="327.5" cy="362.6" r="6.8"/><circle cx="468.6" cy="290.7" r="6.8"/><circle cx="546.5" cy="344.4" r="6.8"/><circle cx="422.5" cy="363.7" r="6.8"/><circle cx="489.7" cy="320.9" r="6.8"/><circle cx="382.4" cy="282.2" r="6.8"/><circle cx="358.2" cy="355.7" r="6.8"/><circle cx="353.5" cy="242.6" r="6.8"/><circle cx="499.8" cy="372.0" r="6.8"/><circle cx="534.3" cy="268.8" r="6.8"/><circle cx="346.4" cy="373.3" r="6.8"/><circle cx="294.1" cy="300.3" r="6.8"/><circle cx="546.0" cy="349.7" r="6.8"/><circle cx="393.7" cy="318.7" r="6.8"/><circle cx="544.0" cy="300.9" r="6.8"/><circle cx="410.7" cy="353.4" r="6.8"/><circle cx="501.3" cy="283.2" r="6.8"/><circle cx="259.8" cy="316.3" r="6.8"/><circle cx="242.8" cy="321.5" r="6.8"/><circle cx="232.9" cy="332.8" r="6.8"/><circle cx="237.6" cy="319.6" r="6.8"/><circle cx="279.8" cy="300.0" r="6.8"/><circle cx="502.6" cy="376.2" r="6.8"/><circle cx="606.0" cy="915.9" r="6.8"/><circle cx="583.7" cy="1073.8" r="6.8"/><circle cx="522.8" cy="933.1" r="6.8"/><circle cx="672.4" cy="1034.8" r="6.8"/><circle cx="655.1" cy="1013.6" r="6.8"/><circle cx="640.5" cy="960.8" r="6.8"/><circle cx="632.3" cy="995.7" r="6.8"/><circle cx="535.0" cy="952.8" r="6.8"/><circle cx="527.7" cy="912.3" r="6.8"/><circle cx="519.2" cy="906.4" r="6.8"/><circle cx="530.3" cy="937.3" r="6.8"/><circle cx="563.1" cy="921.2" r="6.8"/><circle cx="630.2" cy="988.1" r="6.8"/><circle cx="644.0" cy="1031.7" r="6.8"/><circle cx="620.2" cy="1050.8" r="6.8"/><circle cx="660.8" cy="928.2" r="6.8"/><circle cx="537.9" cy="910.2" r="6.8"/><circle cx="635.6" cy="913.4" r="6.8"/><circle cx="512.6" cy="927.7" r="6.8"/><circle cx="617.1" cy="1057.0" r="6.8"/><circle cx="592.7" cy="921.4" r="6.8"/><circle cx="613.1" cy="977.7" r="6.8"/><circle cx="566.9" cy="960.2" r="6.8"/><circle cx="522.1" cy="894.0" r="6.8"/><circle cx="576.7" cy="1018.4" r="6.8"/><circle cx="651.3" cy="954.6" r="6.8"/><circle cx="565.0" cy="925.0" r="6.8"/><circle cx="562.5" cy="956.7" r="6.8"/><circle cx="573.6" cy="1032.6" r="6.8"/><circle cx="496.7" cy="946.7" r="6.8"/><circle cx="668.3" cy="942.6" r="6.8"/><circle cx="560.5" cy="1005.2" r="6.8"/><circle cx="569.9" cy="913.1" r="6.8"/><circle cx="613.5" cy="965.8" r="6.8"/><circle cx="595.6" cy="1041.9" r="6.8"/><circle cx="503.4" cy="927.6" r="6.8"/><circle cx="671.1" cy="1044.0" r="6.8"/><circle cx="625.5" cy="948.4" r="6.8"/><circle cx="549.6" cy="985.2" r="6.8"/><circle cx="642.7" cy="1022.5" r="6.8"/><circle cx="656.5" cy="1025.7" r="6.8"/><circle cx="485.1" cy="968.5" r="6.8"/><circle cx="686.3" cy="1028.9" r="6.8"/><circle cx="599.1" cy="1010.6" r="6.8"/><circle cx="616.5" cy="968.5" r="6.8"/><circle cx="629.2" cy="1077.4" r="6.8"/><circle cx="515.9" cy="960.8" r="6.8"/><circle cx="572.8" cy="935.5" r="6.8"/><circle cx="501.8" cy="963.3" r="6.8"/><circle cx="614.8" cy="1009.4" r="6.8"/><circle cx="626.0" cy="906.1" r="6.8"/><circle cx="521.1" cy="955.2" r="6.8"/><circle cx="614.6" cy="941.9" r="6.8"/><circle cx="552.6" cy="972.2" r="6.8"/><circle cx="528.2" cy="901.9" r="6.8"/><circle cx="582.2" cy="1066.0" r="6.8"/><circle cx="491.7" cy="903.6" r="6.8"/><circle cx="637.9" cy="1077.4" r="6.8"/><circle cx="618.3" cy="1029.6" r="6.8"/><circle cx="505.3" cy="992.8" r="6.8"/><circle cx="701.3" cy="1055.4" r="6.8"/><circle cx="544.0" cy="890.5" r="6.8"/><circle cx="554.1" cy="1006.7" r="6.8"/><circle cx="607.1" cy="934.6" r="6.8"/><circle cx="698.8" cy="1068.8" r="6.8"/><circle cx="676.1" cy="1005.7" r="6.8"/><circle cx="632.9" cy="949.9" r="6.8"/><circle cx="572.7" cy="904.3" r="6.8"/><circle cx="504.6" cy="883.5" r="6.8"/><circle cx="524.7" cy="943.4" r="6.8"/><circle cx="681.6" cy="979.9" r="6.8"/><circle cx="545.9" cy="1049.3" r="6.8"/><circle cx="545.7" cy="912.6" r="6.8"/><circle cx="555.1" cy="939.5" r="6.8"/><circle cx="527.4" cy="918.2" r="6.8"/><circle cx="549.9" cy="1041.5" r="6.8"/><circle cx="491.9" cy="945.8" r="6.8"/><circle cx="623.0" cy="926.1" r="6.8"/><circle cx="548.0" cy="1011.8" r="6.8"/><circle cx="653.6" cy="1001.4" r="6.8"/><circle cx="523.0" cy="905.7" r="6.8"/><circle cx="522.3" cy="992.6" r="6.8"/><circle cx="557.9" cy="1048.0" r="6.8"/><circle cx="641.2" cy="925.9" r="6.8"/><circle cx="564.8" cy="1015.8" r="6.8"/><circle cx="644.0" cy="955.0" r="6.8"/><circle cx="558.8" cy="1036.8" r="6.8"/><circle cx="551.6" cy="991.3" r="6.8"/><circle cx="534.6" cy="1012.4" r="6.8"/><circle cx="631.9" cy="944.8" r="6.8"/><circle cx="648.1" cy="1059.1" r="6.8"/><circle cx="659.5" cy="1010.7" r="6.8"/><circle cx="675.6" cy="979.6" r="6.8"/><circle cx="524.5" cy="1027.1" r="6.8"/><circle cx="637.0" cy="1057.1" r="6.8"/><circle cx="588.2" cy="933.9" r="6.8"/><circle cx="587.6" cy="1013.9" r="6.8"/><circle cx="579.1" cy="1030.3" r="6.8"/><circle cx="640.1" cy="1021.1" r="6.8"/><circle cx="641.1" cy="931.4" r="6.8"/><circle cx="600.7" cy="951.8" r="6.8"/><circle cx="585.5" cy="1079.1" r="6.8"/><circle cx="542.4" cy="988.7" r="6.8"/><circle cx="581.0" cy="1070.5" r="6.8"/><circle cx="654.1" cy="1049.6" r="6.8"/><circle cx="544.9" cy="898.4" r="6.8"/><circle cx="551.7" cy="1026.1" r="6.8"/><circle cx="598.0" cy="956.4" r="6.8"/><circle cx="552.1" cy="961.0" r="6.8"/><circle cx="567.7" cy="969.3" r="6.8"/><circle cx="486.4" cy="953.0" r="6.8"/><circle cx="610.1" cy="943.1" r="6.8"/><circle cx="653.0" cy="919.6" r="6.8"/><circle cx="656.1" cy="1061.5" r="6.8"/><circle cx="587.7" cy="1068.1" r="6.8"/><circle cx="610.4" cy="960.7" r="6.8"/><circle cx="471.2" cy="890.9" r="6.8"/><circle cx="537.1" cy="930.6" r="6.8"/><circle cx="558.9" cy="1004.5" r="6.8"/><circle cx="601.7" cy="1045.9" r="6.8"/><circle cx="755.4" cy="1028.4" r="6.8"/><circle cx="711.4" cy="1042.1" r="6.8"/><circle cx="806.6" cy="911.7" r="6.8"/><circle cx="805.3" cy="886.2" r="6.8"/><circle cx="800.6" cy="951.8" r="6.8"/><circle cx="782.5" cy="926.8" r="6.8"/><circle cx="794.3" cy="942.1" r="6.8"/><circle cx="745.5" cy="889.8" r="6.8"/><circle cx="790.4" cy="888.3" r="6.8"/><circle cx="768.5" cy="896.1" r="6.8"/><circle cx="778.4" cy="960.5" r="6.8"/><circle cx="787.3" cy="892.9" r="6.8"/><circle cx="796.2" cy="921.4" r="6.8"/><circle cx="796.0" cy="897.1" r="6.8"/><circle cx="778.8" cy="950.6" r="6.8"/><circle cx="805.5" cy="977.1" r="6.8"/><circle cx="741.1" cy="915.2" r="6.8"/><circle cx="795.8" cy="980.6" r="6.8"/><circle cx="803.2" cy="923.2" r="6.8"/><circle cx="794.2" cy="947.1" r="6.8"/><circle cx="774.0" cy="897.1" r="6.8"/><circle cx="788.1" cy="934.0" r="6.8"/><circle cx="784.9" cy="963.0" r="6.8"/><circle cx="791.6" cy="939.4" r="6.8"/><circle cx="664.4" cy="883.3" r="6.8"/><circle cx="697.0" cy="882.4" r="6.8"/><circle cx="672.3" cy="885.9" r="6.8"/><circle cx="611.4" cy="225.0" r="6.8"/><circle cx="767.7" cy="290.4" r="6.8"/><circle cx="734.7" cy="302.8" r="6.8"/><circle cx="705.2" cy="284.3" r="6.8"/><circle cx="716.2" cy="269.8" r="6.8"/><circle cx="708.6" cy="316.1" r="6.8"/><circle cx="584.4" cy="280.7" r="6.8"/><circle cx="662.7" cy="215.5" r="6.8"/><circle cx="590.9" cy="273.3" r="6.8"/><circle cx="767.3" cy="271.1" r="6.8"/><circle cx="578.9" cy="249.9" r="6.8"/><circle cx="577.9" cy="295.1" r="6.8"/><circle cx="743.8" cy="291.8" r="6.8"/><circle cx="611.6" cy="288.3" r="6.8"/><circle cx="772.6" cy="294.2" r="6.8"/><circle cx="566.9" cy="261.7" r="6.8"/><circle cx="794.4" cy="274.9" r="6.8"/><circle cx="633.4" cy="296.3" r="6.8"/><circle cx="732.2" cy="286.2" r="6.8"/><circle cx="672.0" cy="262.9" r="6.8"/><circle cx="557.9" cy="205.3" r="6.8"/><circle cx="604.8" cy="250.7" r="6.8"/><circle cx="770.2" cy="316.5" r="6.8"/><circle cx="743.5" cy="258.1" r="6.8"/><circle cx="743.8" cy="312.8" r="6.8"/><circle cx="641.1" cy="266.1" r="6.8"/><circle cx="565.4" cy="299.8" r="6.8"/><circle cx="639.9" cy="213.8" r="6.8"/><circle cx="678.3" cy="227.1" r="6.8"/><circle cx="752.0" cy="282.2" r="6.8"/><circle cx="645.3" cy="285.6" r="6.8"/><circle cx="645.6" cy="227.9" r="6.8"/><circle cx="717.8" cy="229.2" r="6.8"/><circle cx="624.0" cy="281.2" r="6.8"/><circle cx="720.0" cy="286.8" r="6.8"/><circle cx="754.4" cy="270.4" r="6.8"/><circle cx="570.8" cy="241.7" r="6.8"/><circle cx="632.7" cy="240.4" r="6.8"/><circle cx="619.6" cy="298.5" r="6.8"/><circle cx="801.1" cy="309.7" r="6.8"/><circle cx="610.6" cy="214.8" r="6.8"/><circle cx="756.2" cy="331.7" r="6.8"/><circle cx="745.4" cy="286.3" r="6.8"/><circle cx="617.4" cy="323.5" r="6.8"/><circle cx="676.7" cy="218.3" r="6.8"/><circle cx="664.4" cy="279.4" r="6.8"/><circle cx="699.3" cy="312.8" r="6.8"/><circle cx="669.8" cy="312.2" r="6.8"/><circle cx="655.3" cy="292.7" r="6.8"/><circle cx="785.2" cy="276.9" r="6.8"/><circle cx="763.4" cy="278.9" r="6.8"/><circle cx="609.0" cy="302.1" r="6.8"/><circle cx="699.8" cy="217.6" r="6.8"/><circle cx="604.0" cy="270.3" r="6.8"/><circle cx="578.0" cy="321.6" r="6.8"/><circle cx="684.8" cy="241.4" r="6.8"/><circle cx="569.7" cy="255.5" r="6.8"/><circle cx="775.7" cy="317.5" r="6.8"/><circle cx="574.2" cy="219.5" r="6.8"/><circle cx="584.1" cy="250.3" r="6.8"/><circle cx="568.4" cy="305.7" r="6.8"/><circle cx="737.2" cy="325.2" r="6.8"/><circle cx="675.7" cy="300.1" r="6.8"/><circle cx="727.4" cy="289.1" r="6.8"/><circle cx="668.4" cy="328.8" r="6.8"/><circle cx="646.2" cy="254.0" r="6.8"/><circle cx="710.0" cy="283.6" r="6.8"/><circle cx="568.8" cy="216.6" r="6.8"/><circle cx="746.8" cy="237.8" r="6.8"/><circle cx="644.5" cy="272.1" r="6.8"/><circle cx="638.2" cy="289.9" r="6.8"/><circle cx="705.1" cy="259.4" r="6.8"/><circle cx="657.1" cy="254.7" r="6.8"/><circle cx="769.4" cy="295.8" r="6.8"/><circle cx="719.4" cy="301.7" r="6.8"/><circle cx="656.0" cy="288.3" r="6.8"/><circle cx="653.0" cy="334.8" r="6.8"/><circle cx="573.4" cy="233.0" r="6.8"/><circle cx="700.6" cy="233.1" r="6.8"/><circle cx="685.3" cy="247.9" r="6.8"/><circle cx="772.6" cy="272.4" r="6.8"/><circle cx="706.4" cy="307.6" r="6.8"/><circle cx="605.0" cy="260.5" r="6.8"/><circle cx="618.7" cy="217.4" r="6.8"/><circle cx="562.0" cy="234.4" r="6.8"/><circle cx="573.0" cy="265.9" r="6.8"/><circle cx="648.2" cy="318.4" r="6.8"/><circle cx="784.1" cy="782.7" r="6.8"/><circle cx="868.7" cy="859.1" r="6.8"/><circle cx="964.4" cy="808.3" r="6.8"/><circle cx="899.4" cy="845.0" r="6.8"/><circle cx="758.0" cy="867.4" r="6.8"/><circle cx="963.0" cy="822.2" r="6.8"/><circle cx="782.7" cy="857.2" r="6.8"/><circle cx="934.1" cy="895.3" r="6.8"/><circle cx="908.7" cy="788.2" r="6.8"/><circle cx="815.7" cy="858.6" r="6.8"/><circle cx="910.6" cy="938.0" r="6.8"/><circle cx="951.9" cy="877.5" r="6.8"/><circle cx="744.8" cy="765.1" r="6.8"/><circle cx="846.8" cy="797.2" r="6.8"/><circle cx="999.8" cy="807.4" r="6.8"/><circle cx="941.3" cy="873.5" r="6.8"/><circle cx="845.1" cy="821.0" r="6.8"/><circle cx="881.0" cy="914.4" r="6.8"/><circle cx="1020.6" cy="789.1" r="6.8"/><circle cx="920.0" cy="920.4" r="6.8"/><circle cx="845.5" cy="776.5" r="6.8"/><circle cx="998.6" cy="780.1" r="6.8"/><circle cx="800.7" cy="870.6" r="6.8"/><circle cx="852.3" cy="849.6" r="6.8"/><circle cx="883.0" cy="791.6" r="6.8"/><circle cx="920.7" cy="901.6" r="6.8"/><circle cx="824.1" cy="760.9" r="6.8"/><circle cx="809.8" cy="845.8" r="6.8"/><circle cx="901.8" cy="890.9" r="6.8"/><circle cx="955.0" cy="891.3" r="6.8"/><circle cx="854.5" cy="863.9" r="6.8"/><circle cx="817.7" cy="828.2" r="6.8"/><circle cx="930.5" cy="807.2" r="6.8"/><circle cx="942.5" cy="856.7" r="6.8"/><circle cx="770.5" cy="809.0" r="6.8"/><circle cx="767.7" cy="819.3" r="6.8"/><circle cx="778.7" cy="768.6" r="6.8"/><circle cx="907.8" cy="901.1" r="6.8"/><circle cx="864.7" cy="949.0" r="6.8"/><circle cx="990.7" cy="789.8" r="6.8"/><circle cx="746.8" cy="851.3" r="6.8"/><circle cx="847.6" cy="837.9" r="6.8"/><circle cx="940.7" cy="800.1" r="6.8"/><circle cx="864.3" cy="861.8" r="6.8"/><circle cx="876.3" cy="877.5" r="6.8"/><circle cx="831.2" cy="913.8" r="6.8"/><circle cx="793.4" cy="786.3" r="6.8"/><circle cx="744.4" cy="853.6" r="6.8"/><circle cx="917.6" cy="779.4" r="6.8"/><circle cx="891.9" cy="801.9" r="6.8"/><circle cx="948.1" cy="821.8" r="6.8"/><circle cx="993.9" cy="798.3" r="6.8"/><circle cx="751.8" cy="806.0" r="6.8"/><circle cx="1009.1" cy="790.8" r="6.8"/><circle cx="920.6" cy="916.3" r="6.8"/><circle cx="920.8" cy="859.2" r="6.8"/><circle cx="873.0" cy="903.4" r="6.8"/><circle cx="796.9" cy="777.2" r="6.8"/><circle cx="930.0" cy="871.9" r="6.8"/><circle cx="781.7" cy="810.9" r="6.8"/><circle cx="989.7" cy="782.6" r="6.8"/><circle cx="1000.9" cy="828.9" r="6.8"/><circle cx="913.8" cy="924.4" r="6.8"/><circle cx="869.4" cy="839.6" r="6.8"/><circle cx="835.3" cy="945.7" r="6.8"/><circle cx="846.6" cy="857.3" r="6.8"/><circle cx="921.3" cy="864.5" r="6.8"/><circle cx="1007.1" cy="783.2" r="6.8"/><circle cx="887.8" cy="845.5" r="6.8"/><circle cx="841.7" cy="860.2" r="6.8"/><circle cx="796.6" cy="829.2" r="6.8"/><circle cx="891.3" cy="923.4" r="6.8"/><circle cx="878.9" cy="919.7" r="6.8"/><circle cx="784.6" cy="824.3" r="6.8"/><circle cx="772.7" cy="852.0" r="6.8"/><circle cx="991.2" cy="827.7" r="6.8"/><circle cx="846.4" cy="844.6" r="6.8"/><circle cx="915.8" cy="895.1" r="6.8"/><circle cx="960.5" cy="811.8" r="6.8"/><circle cx="921.5" cy="836.6" r="6.8"/><circle cx="817.2" cy="913.9" r="6.8"/><circle cx="809.6" cy="775.1" r="6.8"/><circle cx="968.6" cy="823.0" r="6.8"/><circle cx="880.5" cy="794.1" r="6.8"/><circle cx="772.9" cy="841.8" r="6.8"/><circle cx="954.1" cy="803.5" r="6.8"/><circle cx="819.1" cy="868.0" r="6.8"/><circle cx="867.1" cy="866.5" r="6.8"/><circle cx="787.4" cy="847.8" r="6.8"/><circle cx="897.9" cy="831.6" r="6.8"/><circle cx="831.9" cy="956.3" r="6.8"/><circle cx="748.3" cy="774.9" r="6.8"/><circle cx="957.7" cy="843.4" r="6.8"/><circle cx="882.0" cy="810.4" r="6.8"/><circle cx="935.5" cy="885.1" r="6.8"/><circle cx="1016.7" cy="788.9" r="6.8"/><circle cx="933.9" cy="796.3" r="6.8"/><circle cx="894.8" cy="807.2" r="6.8"/><circle cx="847.5" cy="946.3" r="6.8"/><circle cx="922.1" cy="800.9" r="6.8"/><circle cx="832.6" cy="858.4" r="6.8"/><circle cx="925.9" cy="891.4" r="6.8"/><circle cx="790.2" cy="806.1" r="6.8"/><circle cx="908.1" cy="933.4" r="6.8"/><circle cx="759.2" cy="788.6" r="6.8"/><circle cx="911.3" cy="791.7" r="6.8"/><circle cx="815.3" cy="880.7" r="6.8"/><circle cx="824.4" cy="811.3" r="6.8"/><circle cx="788.0" cy="872.9" r="6.8"/><circle cx="973.0" cy="821.3" r="6.8"/><circle cx="968.2" cy="804.2" r="6.8"/><circle cx="748.0" cy="743.4" r="6.8"/><circle cx="959.5" cy="838.9" r="6.8"/><circle cx="904.6" cy="793.9" r="6.8"/><circle cx="961.5" cy="881.9" r="6.8"/><circle cx="882.9" cy="853.0" r="6.8"/><circle cx="848.4" cy="824.6" r="6.8"/><circle cx="835.0" cy="819.2" r="6.8"/><circle cx="935.2" cy="817.0" r="6.8"/><circle cx="911.6" cy="884.3" r="6.8"/><circle cx="764.3" cy="827.1" r="6.8"/><circle cx="804.4" cy="876.4" r="6.8"/><circle cx="978.6" cy="844.6" r="6.8"/><circle cx="887.6" cy="847.9" r="6.8"/><circle cx="824.1" cy="945.6" r="6.8"/><circle cx="820.3" cy="794.4" r="6.8"/><circle cx="787.3" cy="816.7" r="6.8"/><circle cx="851.2" cy="911.9" r="6.8"/><circle cx="975.9" cy="866.3" r="6.8"/><circle cx="1002.6" cy="783.3" r="6.8"/><circle cx="889.0" cy="877.4" r="6.8"/><circle cx="870.1" cy="866.5" r="6.8"/><circle cx="757.0" cy="831.6" r="6.8"/><circle cx="796.9" cy="846.4" r="6.8"/><circle cx="948.2" cy="831.3" r="6.8"/><circle cx="753.0" cy="778.5" r="6.8"/><circle cx="971.6" cy="850.2" r="6.8"/><circle cx="847.4" cy="793.8" r="6.8"/><circle cx="761.1" cy="813.0" r="6.8"/><circle cx="931.3" cy="918.3" r="6.8"/><circle cx="878.0" cy="859.7" r="6.8"/><circle cx="855.2" cy="801.9" r="6.8"/><circle cx="968.3" cy="859.1" r="6.8"/><circle cx="751.0" cy="876.4" r="6.8"/><circle cx="975.9" cy="789.7" r="6.8"/><circle cx="835.7" cy="786.2" r="6.8"/><circle cx="1096.3" cy="482.8" r="6.8"/><circle cx="1101.9" cy="507.3" r="6.8"/><circle cx="1085.0" cy="489.2" r="6.8"/><circle cx="1097.2" cy="513.2" r="6.8"/><circle cx="1091.0" cy="498.2" r="6.8"/><circle cx="1102.5" cy="492.9" r="6.8"/><circle cx="1101.3" cy="500.1" r="6.8"/><circle cx="768.9" cy="425.7" r="6.8"/><circle cx="766.4" cy="634.5" r="6.8"/><circle cx="899.5" cy="605.2" r="6.8"/><circle cx="931.0" cy="588.0" r="6.8"/><circle cx="956.2" cy="306.3" r="6.8"/><circle cx="948.7" cy="329.8" r="6.8"/><circle cx="975.2" cy="307.6" r="6.8"/><circle cx="907.7" cy="315.0" r="6.8"/><circle cx="939.2" cy="316.1" r="6.8"/><circle cx="964.9" cy="328.8" r="6.8"/><circle cx="912.3" cy="319.8" r="6.8"/><circle cx="921.8" cy="317.2" r="6.8"/><circle cx="962.3" cy="309.0" r="6.8"/><circle cx="947.3" cy="323.7" r="6.8"/><circle cx="907.6" cy="327.9" r="6.8"/><circle cx="679.7" cy="368.4" r="6.8"/><circle cx="714.0" cy="368.4" r="6.8"/><circle cx="699.4" cy="390.9" r="6.8"/><circle cx="692.3" cy="582.2" r="6.8"/><circle cx="505.3" cy="424.7" r="6.8"/><circle cx="574.2" cy="398.0" r="6.8"/><circle cx="698.0" cy="466.9" r="6.8"/><circle cx="780.9" cy="426.1" r="6.8"/><circle cx="800.6" cy="426.1" r="6.8"/><circle cx="793.6" cy="466.9" r="6.8"/><circle cx="619.2" cy="428.3" r="6.8"/><circle cx="528.4" cy="452.8" r="6.8"/><circle cx="574.2" cy="485.2" r="6.8"/><circle cx="893.1" cy="615.4" r="6.8"/><circle cx="836.9" cy="556.9" r="6.8"/><circle cx="848.1" cy="555.5" r="6.8"/><circle cx="862.2" cy="565.9" r="6.8"/><circle cx="755.3" cy="663.8" r="6.8"/><circle cx="692.0" cy="581.6" r="6.8"/><circle cx="907.2" cy="541.4" r="6.8"/><circle cx="682.2" cy="691.9" r="6.8"/><circle cx="689.2" cy="697.5" r="6.8"/><circle cx="678.0" cy="705.9" r="6.8"/><circle cx="738.4" cy="732.1" r="6.8"/><circle cx="789.1" cy="732.1" r="6.8"/><circle cx="918.4" cy="648.3" r="6.8"/><circle cx="957.8" cy="651.1" r="6.8"/><circle cx="935.3" cy="663.8" r="6.8"/><circle cx="360.5" cy="723.3" r="6.8"/><circle cx="348.4" cy="757.0" r="6.8"/><circle cx="429.4" cy="750.8" r="6.8"/><circle cx="488.4" cy="736.5" r="6.8"/><circle cx="437.2" cy="791.1" r="6.8"/><circle cx="343.0" cy="828.2" r="6.8"/><circle cx="445.4" cy="811.9" r="6.8"/><circle cx="428.0" cy="833.0" r="6.8"/><circle cx="444.0" cy="852.7" r="6.8"/><circle cx="454.1" cy="850.7" r="6.8"/><circle cx="481.4" cy="856.9" r="6.8"/><circle cx="432.2" cy="862.5" r="6.8"/><circle cx="611.6" cy="709.2" r="6.8"/><circle cx="637.5" cy="710.6" r="6.8"/><circle cx="527.2" cy="821.2" r="6.8"/><circle cx="496.3" cy="840.0" r="6.8"/><circle cx="532.0" cy="835.8" r="6.8"/><circle cx="480.0" cy="896.2" r="6.8"/><circle cx="530.6" cy="883.6" r="6.8"/><circle cx="539.1" cy="893.4" r="6.8"/><circle cx="547.5" cy="856.9" r="6.8"/><circle cx="215.3" cy="382.8" r="6.8"/><circle cx="211.1" cy="394.1" r="6.8"/><circle cx="213.1" cy="439.9" r="6.8"/><circle cx="221.5" cy="448.9" r="6.8"/><circle cx="219.0" cy="458.2" r="6.8"/><circle cx="455.8" cy="394.1" r="6.8"/><circle cx="475.5" cy="388.4" r="6.8"/><circle cx="423.4" cy="392.7" r="6.8"/><circle cx="406.6" cy="491.1" r="6.8"/><circle cx="433.3" cy="542.6" r="6.8"/><circle cx="333.4" cy="573.5" r="6.8"/><circle cx="967.3" cy="335.1" r="6.8"/><circle cx="920.4" cy="301.9" r="6.8"/><circle cx="951.3" cy="276.0" r="6.8"/><circle cx="1054.5" cy="345.5" r="6.8"/><circle cx="1067.2" cy="352.5" r="6.8"/><circle cx="1065.8" cy="363.8" r="6.8"/><circle cx="1048.9" cy="358.1" r="6.8"/><circle cx="830.4" cy="283.6" r="6.8"/><circle cx="851.5" cy="335.6" r="6.8"/><circle cx="842.2" cy="428.4" r="6.8"/><circle cx="1046.4" cy="410.7" r="6.8"/><circle cx="225.7" cy="339.4" r="6.8"/><circle cx="215.3" cy="379.4" r="6.8"/><circle cx="212.5" cy="393.4" r="6.8"/><circle cx="709.5" cy="917.7" r="6.8"/><circle cx="762.2" cy="958.2" r="6.8"/><circle cx="750.1" cy="983.2" r="6.8"/><circle cx="572.2" cy="352.1" r="6.8"/><circle cx="693.1" cy="349.0" r="6.8"/><circle cx="679.1" cy="368.1" r="6.8"/><circle cx="714.2" cy="368.1" r="6.8"/><circle cx="745.2" cy="352.1" r="6.8"/><circle cx="768.2" cy="350.4" r="6.8"/><circle cx="298.5" cy="908.2" r="6.8"/><circle cx="373.4" cy="925.0" r="6.8"/><circle cx="367.0" cy="928.9" r="6.8"/><circle cx="385.0" cy="928.6" r="6.8"/><circle cx="375.5" cy="935.2" r="6.8"/><circle cx="408.5" cy="913.2" r="6.8"/><circle cx="419.1" cy="933.8" r="6.8"/><circle cx="359.3" cy="950.0" r="6.8"/><circle cx="350.4" cy="956.3" r="6.8"/><circle cx="357.5" cy="963.1" r="6.8"/><circle cx="362.8" cy="957.0" r="6.8"/><circle cx="820.5" cy="494.5" r="6.8"/><circle cx="871.9" cy="495.2" r="6.8"/><circle cx="885.2" cy="495.2" r="6.8"/><circle cx="859.2" cy="521.9" r="6.8"/><circle cx="850.1" cy="530.3" r="6.8"/><circle cx="900.0" cy="509.9" r="6.8"/><circle cx="916.9" cy="508.5" r="6.8"/><circle cx="927.4" cy="519.8" r="6.8"/><circle cx="932.3" cy="490.2" r="6.8"/><circle cx="953.4" cy="494.5" r="6.8"/><circle cx="964.7" cy="496.6" r="6.8"/><circle cx="984.4" cy="494.5" r="6.8"/><circle cx="942.2" cy="502.2" r="6.8"/><circle cx="907.0" cy="521.9" r="6.8"/><circle cx="1097.5" cy="513.3" r="6.8"/><circle cx="1116.2" cy="496.9" r="6.8"/><circle cx="1108.4" cy="503.1" r="6.8"/><circle cx="1102.2" cy="484.4" r="6.8"/>
</g>
<g fill="#f3f5f8">
<circle cx="1009.0" cy="480.3" r="6.8"/><circle cx="1037.3" cy="498.7" r="6.8"/><circle cx="1030.5" cy="485.2" r="6.8"/><circle cx="603.6" cy="748.7" r="6.8"/><circle cx="633.5" cy="755.3" r="6.8"/><circle cx="632.0" cy="742.2" r="6.8"/><circle cx="650.3" cy="759.2" r="6.8"/><circle cx="646.9" cy="743.5" r="6.8"/><circle cx="686.1" cy="745.4" r="6.8"/><circle cx="729.0" cy="759.1" r="6.8"/><circle cx="739.9" cy="758.4" r="6.8"/><circle cx="570.0" cy="777.4" r="6.8"/><circle cx="599.2" cy="767.7" r="6.8"/><circle cx="599.8" cy="778.7" r="6.8"/><circle cx="607.5" cy="768.2" r="6.8"/><circle cx="631.6" cy="767.4" r="6.8"/><circle cx="678.2" cy="775.5" r="6.8"/><circle cx="699.0" cy="769.3" r="6.8"/><circle cx="573.0" cy="788.4" r="6.8"/><circle cx="588.2" cy="784.8" r="6.8"/><circle cx="606.9" cy="791.2" r="6.8"/><circle cx="692.3" cy="792.2" r="6.8"/><circle cx="705.8" cy="790.3" r="6.8"/><circle cx="723.2" cy="791.4" r="6.8"/><circle cx="565.4" cy="811.7" r="6.8"/><circle cx="651.9" cy="817.9" r="6.8"/><circle cx="689.2" cy="806.6" r="6.8"/><circle cx="705.8" cy="803.9" r="6.8"/><circle cx="566.2" cy="824.1" r="6.8"/><circle cx="598.3" cy="832.2" r="6.8"/><circle cx="622.8" cy="835.9" r="6.8"/><circle cx="661.4" cy="823.5" r="6.8"/><circle cx="669.6" cy="835.4" r="6.8"/><circle cx="683.3" cy="835.2" r="6.8"/><circle cx="690.1" cy="837.5" r="6.8"/><circle cx="738.5" cy="835.6" r="6.8"/><circle cx="582.8" cy="855.8" r="6.8"/><circle cx="675.7" cy="855.2" r="6.8"/><circle cx="710.9" cy="853.2" r="6.8"/><circle cx="571.0" cy="868.0" r="6.8"/><circle cx="674.7" cy="879.0" r="6.8"/><circle cx="661.2" cy="864.2" r="6.8"/><circle cx="675.8" cy="728.5" r="6.8"/><circle cx="668.2" cy="725.2" r="6.8"/><circle cx="650.5" cy="720.2" r="6.8"/><circle cx="480.8" cy="887.1" r="6.8"/><circle cx="525.2" cy="873.7" r="6.8"/><circle cx="311.0" cy="441.3" r="6.8"/><circle cx="339.6" cy="464.9" r="6.8"/><circle cx="330.8" cy="514.9" r="6.8"/><circle cx="369.1" cy="485.8" r="6.8"/><circle cx="364.6" cy="499.6" r="6.8"/><circle cx="407.6" cy="445.4" r="6.8"/><circle cx="323.1" cy="506.8" r="6.8"/><circle cx="318.9" cy="384.1" r="6.8"/><circle cx="289.9" cy="397.7" r="6.8"/><circle cx="288.4" cy="425.5" r="6.8"/><circle cx="363.8" cy="448.7" r="6.8"/><circle cx="285.9" cy="457.5" r="6.8"/><circle cx="339.9" cy="438.6" r="6.8"/><circle cx="356.0" cy="450.5" r="6.8"/><circle cx="280.0" cy="389.5" r="6.8"/><circle cx="293.4" cy="462.8" r="6.8"/><circle cx="353.7" cy="459.2" r="6.8"/><circle cx="409.6" cy="429.9" r="6.8"/><circle cx="1038.1" cy="311.2" r="6.8"/><circle cx="1009.3" cy="310.2" r="6.8"/><circle cx="1049.7" cy="286.2" r="6.8"/><circle cx="1027.2" cy="276.8" r="6.8"/><circle cx="1030.9" cy="328.8" r="6.8"/><circle cx="1009.1" cy="321.4" r="6.8"/><circle cx="1015.2" cy="326.5" r="6.8"/><circle cx="1065.9" cy="306.7" r="6.8"/><circle cx="1020.6" cy="322.4" r="6.8"/><circle cx="996.8" cy="295.0" r="6.8"/><circle cx="1028.7" cy="313.8" r="6.8"/><circle cx="1029.7" cy="303.7" r="6.8"/><circle cx="1019.5" cy="260.2" r="6.8"/><circle cx="1032.7" cy="311.2" r="6.8"/><circle cx="848.1" cy="329.9" r="6.8"/><circle cx="806.3" cy="281.9" r="6.8"/><circle cx="849.2" cy="345.6" r="6.8"/><circle cx="840.2" cy="336.2" r="6.8"/><circle cx="808.6" cy="312.7" r="6.8"/><circle cx="809.3" cy="281.0" r="6.8"/><circle cx="1031.8" cy="466.8" r="6.8"/><circle cx="980.6" cy="451.2" r="6.8"/><circle cx="893.3" cy="395.1" r="6.8"/><circle cx="913.1" cy="432.5" r="6.8"/><circle cx="1060.6" cy="472.7" r="6.8"/><circle cx="998.2" cy="472.4" r="6.8"/><circle cx="880.8" cy="418.8" r="6.8"/><circle cx="910.6" cy="387.1" r="6.8"/><circle cx="1006.2" cy="445.2" r="6.8"/><circle cx="943.1" cy="427.6" r="6.8"/><circle cx="914.2" cy="448.8" r="6.8"/><circle cx="1022.5" cy="452.9" r="6.8"/><circle cx="965.3" cy="433.9" r="6.8"/><circle cx="922.7" cy="396.6" r="6.8"/><circle cx="1063.8" cy="469.5" r="6.8"/><circle cx="833.2" cy="430.2" r="6.8"/><circle cx="438.2" cy="335.5" r="6.8"/><circle cx="446.5" cy="283.1" r="6.8"/><circle cx="534.5" cy="375.8" r="6.8"/><circle cx="464.9" cy="315.4" r="6.8"/><circle cx="374.5" cy="293.5" r="6.8"/><circle cx="419.4" cy="281.6" r="6.8"/><circle cx="396.5" cy="298.7" r="6.8"/><circle cx="459.7" cy="241.7" r="6.8"/><circle cx="376.2" cy="249.2" r="6.8"/><circle cx="408.7" cy="324.2" r="6.8"/><circle cx="487.8" cy="250.1" r="6.8"/><circle cx="323.5" cy="336.2" r="6.8"/><circle cx="510.2" cy="283.7" r="6.8"/><circle cx="479.6" cy="354.5" r="6.8"/><circle cx="358.1" cy="336.8" r="6.8"/><circle cx="474.5" cy="376.8" r="6.8"/><circle cx="411.6" cy="344.8" r="6.8"/><circle cx="486.2" cy="270.3" r="6.8"/><circle cx="472.0" cy="242.7" r="6.8"/><circle cx="442.4" cy="359.7" r="6.8"/><circle cx="505.3" cy="314.1" r="6.8"/><circle cx="398.5" cy="336.8" r="6.8"/><circle cx="431.9" cy="362.5" r="6.8"/><circle cx="494.4" cy="322.2" r="6.8"/><circle cx="338.7" cy="330.2" r="6.8"/><circle cx="483.0" cy="320.9" r="6.8"/><circle cx="407.2" cy="321.4" r="6.8"/><circle cx="457.0" cy="233.2" r="6.8"/><circle cx="388.8" cy="314.3" r="6.8"/><circle cx="458.8" cy="372.1" r="6.8"/><circle cx="506.9" cy="258.9" r="6.8"/><circle cx="531.9" cy="262.9" r="6.8"/><circle cx="534.3" cy="313.6" r="6.8"/><circle cx="239.3" cy="315.9" r="6.8"/><circle cx="500.4" cy="358.7" r="6.8"/><circle cx="667.6" cy="799.9" r="6.8"/><circle cx="587.4" cy="799.4" r="6.8"/><circle cx="614.9" cy="791.8" r="6.8"/><circle cx="602.8" cy="850.2" r="6.8"/><circle cx="577.1" cy="799.5" r="6.8"/><circle cx="604.8" cy="782.1" r="6.8"/><circle cx="660.3" cy="784.3" r="6.8"/><circle cx="670.8" cy="821.2" r="6.8"/><circle cx="622.4" cy="828.4" r="6.8"/><circle cx="592.6" cy="754.1" r="6.8"/><circle cx="664.6" cy="776.3" r="6.8"/><circle cx="617.0" cy="759.9" r="6.8"/><circle cx="693.7" cy="803.5" r="6.8"/><circle cx="554.2" cy="811.5" r="6.8"/><circle cx="594.1" cy="870.9" r="6.8"/><circle cx="660.5" cy="767.0" r="6.8"/><circle cx="630.2" cy="760.2" r="6.8"/><circle cx="641.0" cy="833.8" r="6.8"/><circle cx="644.6" cy="797.5" r="6.8"/><circle cx="575.9" cy="863.2" r="6.8"/><circle cx="746.9" cy="823.4" r="6.8"/><circle cx="768.6" cy="881.2" r="6.8"/><circle cx="775.3" cy="825.1" r="6.8"/><circle cx="750.2" cy="758.8" r="6.8"/><circle cx="773.3" cy="757.4" r="6.8"/><circle cx="705.6" cy="886.5" r="6.8"/><circle cx="627.5" cy="855.5" r="6.8"/><circle cx="745.7" cy="808.3" r="6.8"/><circle cx="551.3" cy="1031.6" r="6.8"/><circle cx="715.7" cy="1060.3" r="6.8"/><circle cx="668.4" cy="947.1" r="6.8"/><circle cx="656.2" cy="1070.4" r="6.8"/><circle cx="477.3" cy="934.7" r="6.8"/><circle cx="665.2" cy="1003.0" r="6.8"/><circle cx="639.4" cy="1004.1" r="6.8"/><circle cx="621.2" cy="1007.8" r="6.8"/><circle cx="518.5" cy="1027.3" r="6.8"/><circle cx="597.0" cy="942.0" r="6.8"/><circle cx="665.4" cy="989.2" r="6.8"/><circle cx="670.3" cy="955.8" r="6.8"/><circle cx="592.6" cy="959.3" r="6.8"/><circle cx="598.3" cy="989.1" r="6.8"/><circle cx="639.8" cy="1066.9" r="6.8"/><circle cx="557.1" cy="927.8" r="6.8"/><circle cx="554.6" cy="928.8" r="6.8"/><circle cx="706.0" cy="1046.5" r="6.8"/><circle cx="519.1" cy="945.5" r="6.8"/><circle cx="598.3" cy="959.5" r="6.8"/><circle cx="680.0" cy="1039.7" r="6.8"/><circle cx="578.9" cy="1076.2" r="6.8"/><circle cx="628.6" cy="991.5" r="6.8"/><circle cx="506.3" cy="999.2" r="6.8"/><circle cx="555.1" cy="996.6" r="6.8"/><circle cx="624.2" cy="953.2" r="6.8"/><circle cx="669.1" cy="981.3" r="6.8"/><circle cx="549.3" cy="938.5" r="6.8"/><circle cx="562.1" cy="915.8" r="6.8"/><circle cx="630.4" cy="957.1" r="6.8"/><circle cx="608.2" cy="987.6" r="6.8"/><circle cx="641.1" cy="1001.1" r="6.8"/><circle cx="675.1" cy="960.1" r="6.8"/><circle cx="530.9" cy="884.3" r="6.8"/><circle cx="624.2" cy="1017.5" r="6.8"/><circle cx="709.2" cy="1037.1" r="6.8"/><circle cx="789.8" cy="917.8" r="6.8"/><circle cx="756.1" cy="903.7" r="6.8"/><circle cx="795.2" cy="904.9" r="6.8"/><circle cx="732.9" cy="916.6" r="6.8"/><circle cx="783.2" cy="915.0" r="6.8"/><circle cx="752.0" cy="902.1" r="6.8"/><circle cx="804.1" cy="908.9" r="6.8"/><circle cx="784.3" cy="884.1" r="6.8"/><circle cx="742.3" cy="889.7" r="6.8"/><circle cx="798.2" cy="958.4" r="6.8"/><circle cx="765.8" cy="898.0" r="6.8"/><circle cx="789.2" cy="975.7" r="6.8"/><circle cx="674.5" cy="244.2" r="6.8"/><circle cx="580.5" cy="322.1" r="6.8"/><circle cx="586.8" cy="295.7" r="6.8"/><circle cx="683.5" cy="231.6" r="6.8"/><circle cx="622.9" cy="238.3" r="6.8"/><circle cx="641.7" cy="326.3" r="6.8"/><circle cx="694.8" cy="272.4" r="6.8"/><circle cx="710.8" cy="306.4" r="6.8"/><circle cx="749.9" cy="248.2" r="6.8"/><circle cx="788.4" cy="329.3" r="6.8"/><circle cx="770.3" cy="280.5" r="6.8"/><circle cx="762.7" cy="285.3" r="6.8"/><circle cx="721.3" cy="294.8" r="6.8"/><circle cx="682.6" cy="325.1" r="6.8"/><circle cx="631.0" cy="302.1" r="6.8"/><circle cx="764.6" cy="301.1" r="6.8"/><circle cx="654.6" cy="218.3" r="6.8"/><circle cx="680.1" cy="261.6" r="6.8"/><circle cx="766.1" cy="264.8" r="6.8"/><circle cx="717.5" cy="274.8" r="6.8"/><circle cx="788.7" cy="328.4" r="6.8"/><circle cx="790.7" cy="288.1" r="6.8"/><circle cx="571.3" cy="263.3" r="6.8"/><circle cx="729.9" cy="321.1" r="6.8"/><circle cx="559.4" cy="286.3" r="6.8"/><circle cx="561.6" cy="281.1" r="6.8"/><circle cx="758.5" cy="316.4" r="6.8"/><circle cx="663.4" cy="226.2" r="6.8"/><circle cx="767.2" cy="293.4" r="6.8"/><circle cx="981.0" cy="806.2" r="6.8"/><circle cx="879.8" cy="888.4" r="6.8"/><circle cx="859.3" cy="820.7" r="6.8"/><circle cx="804.8" cy="852.6" r="6.8"/><circle cx="914.7" cy="907.9" r="6.8"/><circle cx="771.4" cy="789.9" r="6.8"/><circle cx="753.5" cy="799.4" r="6.8"/><circle cx="928.1" cy="797.2" r="6.8"/><circle cx="885.5" cy="916.7" r="6.8"/><circle cx="843.3" cy="874.7" r="6.8"/><circle cx="812.1" cy="773.5" r="6.8"/><circle cx="954.5" cy="810.9" r="6.8"/><circle cx="792.0" cy="828.2" r="6.8"/><circle cx="921.1" cy="812.0" r="6.8"/><circle cx="893.2" cy="916.1" r="6.8"/><circle cx="863.8" cy="883.2" r="6.8"/><circle cx="934.7" cy="916.2" r="6.8"/><circle cx="917.1" cy="886.0" r="6.8"/><circle cx="882.6" cy="926.3" r="6.8"/><circle cx="998.0" cy="819.0" r="6.8"/><circle cx="798.1" cy="875.8" r="6.8"/><circle cx="912.3" cy="808.4" r="6.8"/><circle cx="855.0" cy="874.1" r="6.8"/><circle cx="757.8" cy="767.3" r="6.8"/><circle cx="843.7" cy="891.1" r="6.8"/><circle cx="886.7" cy="844.4" r="6.8"/><circle cx="906.7" cy="827.9" r="6.8"/><circle cx="871.8" cy="828.3" r="6.8"/><circle cx="746.1" cy="789.3" r="6.8"/><circle cx="891.1" cy="815.0" r="6.8"/><circle cx="898.5" cy="891.2" r="6.8"/><circle cx="789.7" cy="799.9" r="6.8"/><circle cx="968.3" cy="776.7" r="6.8"/><circle cx="793.2" cy="867.0" r="6.8"/><circle cx="826.0" cy="922.5" r="6.8"/><circle cx="943.5" cy="790.2" r="6.8"/><circle cx="980.6" cy="813.7" r="6.8"/><circle cx="821.4" cy="799.2" r="6.8"/><circle cx="950.5" cy="900.5" r="6.8"/><circle cx="818.6" cy="776.8" r="6.8"/><circle cx="807.1" cy="819.0" r="6.8"/><circle cx="843.4" cy="783.5" r="6.8"/><circle cx="943.7" cy="894.7" r="6.8"/><circle cx="810.4" cy="838.6" r="6.8"/><circle cx="933.8" cy="910.9" r="6.8"/><circle cx="851.5" cy="860.9" r="6.8"/><circle cx="819.7" cy="927.5" r="6.8"/><circle cx="820.8" cy="828.0" r="6.8"/><circle cx="807.0" cy="768.9" r="6.8"/><circle cx="1011.4" cy="827.4" r="6.8"/><circle cx="995.3" cy="812.7" r="6.8"/><circle cx="868.4" cy="902.1" r="6.8"/><circle cx="899.4" cy="936.6" r="6.8"/><circle cx="757.3" cy="829.0" r="6.8"/><circle cx="894.0" cy="903.4" r="6.8"/><circle cx="876.2" cy="940.8" r="6.8"/><circle cx="814.6" cy="883.4" r="6.8"/><circle cx="940.8" cy="904.8" r="6.8"/><circle cx="960.3" cy="814.3" r="6.8"/><circle cx="957.6" cy="812.9" r="6.8"/><circle cx="900.2" cy="859.1" r="6.8"/><circle cx="745.6" cy="832.0" r="6.8"/><circle cx="881.1" cy="840.5" r="6.8"/><circle cx="941.5" cy="843.7" r="6.8"/><circle cx="896.3" cy="851.6" r="6.8"/><circle cx="783.6" cy="800.5" r="6.8"/><circle cx="846.0" cy="874.2" r="6.8"/><circle cx="857.9" cy="941.9" r="6.8"/><circle cx="788.7" cy="854.5" r="6.8"/><circle cx="754.6" cy="860.3" r="6.8"/><circle cx="755.6" cy="849.3" r="6.8"/><circle cx="989.4" cy="805.6" r="6.8"/><circle cx="906.2" cy="812.1" r="6.8"/><circle cx="954.3" cy="852.9" r="6.8"/><circle cx="899.5" cy="869.0" r="6.8"/><circle cx="783.7" cy="875.3" r="6.8"/><circle cx="816.8" cy="924.4" r="6.8"/><circle cx="828.9" cy="856.4" r="6.8"/><circle cx="963.9" cy="879.9" r="6.8"/><circle cx="1104.7" cy="487.4" r="6.8"/><circle cx="1098.0" cy="500.2" r="6.8"/><circle cx="1065.7" cy="493.3" r="6.8"/><circle cx="1112.0" cy="499.3" r="6.8"/><circle cx="900.9" cy="592.7" r="6.8"/><circle cx="913.0" cy="325.6" r="6.8"/><circle cx="956.1" cy="324.1" r="6.8"/><circle cx="985.3" cy="310.4" r="6.8"/><circle cx="696.0" cy="372.7" r="6.8"/><circle cx="686.7" cy="385.3" r="6.8"/><circle cx="709.2" cy="403.6" r="6.8"/><circle cx="696.0" cy="578.8" r="6.8"/><circle cx="681.1" cy="447.2" r="6.8"/><circle cx="572.8" cy="482.3" r="6.8"/><circle cx="905.8" cy="596.2" r="6.8"/><circle cx="898.8" cy="611.7" r="6.8"/><circle cx="875.7" cy="548.4" r="6.8"/><circle cx="866.4" cy="587.8" r="6.8"/><circle cx="743.5" cy="660.4" r="6.8"/><circle cx="737.0" cy="663.2" r="6.8"/><circle cx="760.4" cy="669.9" r="6.8"/><circle cx="696.2" cy="578.0" r="6.8"/><circle cx="689.2" cy="630.6" r="6.8"/><circle cx="914.2" cy="686.2" r="6.8"/><circle cx="363.3" cy="762.7" r="6.8"/><circle cx="397.0" cy="748.6" r="6.8"/><circle cx="390.0" cy="758.4" r="6.8"/><circle cx="618.4" cy="687.6" r="6.8"/><circle cx="629.1" cy="731.7" r="6.8"/><circle cx="519.9" cy="837.2" r="6.8"/><circle cx="551.2" cy="837.2" r="6.8"/><circle cx="244.0" cy="479.8" r="6.8"/><circle cx="402.3" cy="529.1" r="6.8"/><circle cx="283.7" cy="397.4" r="6.8"/><circle cx="306.7" cy="440.5" r="6.8"/><circle cx="301.1" cy="453.1" r="6.8"/><circle cx="316.6" cy="453.1" r="6.8"/><circle cx="295.5" cy="486.3" r="6.8"/><circle cx="318.0" cy="490.2" r="6.8"/><circle cx="332.0" cy="491.1" r="6.8"/><circle cx="341.9" cy="481.2" r="6.8"/><circle cx="332.6" cy="517.8" r="6.8"/><circle cx="382.7" cy="509.9" r="6.8"/><circle cx="384.1" cy="526.2" r="6.8"/><circle cx="374.2" cy="540.9" r="6.8"/><circle cx="392.5" cy="545.4" r="6.8"/><circle cx="361.6" cy="423.0" r="6.8"/><circle cx="339.1" cy="410.4" r="6.8"/><circle cx="348.9" cy="401.1" r="6.8"/><circle cx="394.8" cy="403.1" r="6.8"/><circle cx="385.5" cy="439.1" r="6.8"/><circle cx="395.3" cy="459.3" r="6.8"/><circle cx="384.1" cy="475.6" r="6.8"/><circle cx="378.4" cy="491.1" r="6.8"/><circle cx="341.3" cy="392.7" r="6.8"/><circle cx="391.1" cy="386.2" r="6.8"/><circle cx="438.9" cy="385.1" r="6.8"/><circle cx="906.3" cy="287.2" r="6.8"/><circle cx="933.6" cy="291.5" r="6.8"/><circle cx="1063.0" cy="346.3" r="6.8"/><circle cx="862.4" cy="278.8" r="6.8"/><circle cx="851.2" cy="372.2" r="6.8"/><circle cx="946.2" cy="434.1" r="6.8"/><circle cx="956.1" cy="425.6" r="6.8"/><circle cx="971.6" cy="427.0" r="6.8"/><circle cx="1012.3" cy="431.2" r="6.8"/><circle cx="1006.7" cy="446.7" r="6.8"/><circle cx="998.3" cy="466.4" r="6.8"/><circle cx="1044.7" cy="459.4" r="6.8"/><circle cx="1058.8" cy="455.2" r="6.8"/><circle cx="964.5" cy="415.8" r="6.8"/><circle cx="946.2" cy="410.2" r="6.8"/><circle cx="915.3" cy="422.8" r="6.8"/><circle cx="920.9" cy="382.0" r="6.8"/><circle cx="275.8" cy="365.3" r="6.8"/><circle cx="353.1" cy="242.4" r="6.8"/><circle cx="408.5" cy="227.5" r="6.8"/><circle cx="413.6" cy="235.9" r="6.8"/><circle cx="427.7" cy="242.1" r="6.8"/><circle cx="447.3" cy="249.4" r="6.8"/><circle cx="374.2" cy="268.3" r="6.8"/><circle cx="408.0" cy="258.4" r="6.8"/><circle cx="428.5" cy="266.9" r="6.8"/><circle cx="453.0" cy="271.1" r="6.8"/><circle cx="462.8" cy="276.7" r="6.8"/><circle cx="474.1" cy="261.2" r="6.8"/><circle cx="486.7" cy="270.5" r="6.8"/><circle cx="506.4" cy="224.7" r="6.8"/><circle cx="533.1" cy="239.6" r="6.8"/><circle cx="523.3" cy="265.5" r="6.8"/><circle cx="538.8" cy="279.5" r="6.8"/><circle cx="515.7" cy="283.8" r="6.8"/><circle cx="496.0" cy="300.6" r="6.8"/><circle cx="454.4" cy="289.4" r="6.8"/><circle cx="443.1" cy="297.8" r="6.8"/><circle cx="425.7" cy="309.1" r="6.8"/><circle cx="454.4" cy="321.2" r="6.8"/><circle cx="467.9" cy="316.9" r="6.8"/><circle cx="377.9" cy="306.2" r="6.8"/><circle cx="391.1" cy="323.1" r="6.8"/><circle cx="335.7" cy="325.9" r="6.8"/><circle cx="330.6" cy="338.6" r="6.8"/><circle cx="346.9" cy="351.2" r="6.8"/><circle cx="363.0" cy="361.1" r="6.8"/><circle cx="469.3" cy="352.1" r="6.8"/><circle cx="485.3" cy="360.2" r="6.8"/><circle cx="469.3" cy="363.1" r="6.8"/><circle cx="327.2" cy="285.2" r="6.8"/><circle cx="345.5" cy="285.2" r="6.8"/><circle cx="294.1" cy="304.8" r="6.8"/><circle cx="305.3" cy="358.3" r="6.8"/><circle cx="406.6" cy="376.6" r="6.8"/><circle cx="581.6" cy="900.0" r="6.8"/><circle cx="721.4" cy="995.3" r="6.8"/><circle cx="708.8" cy="918.5" r="6.8"/><circle cx="506.2" cy="906.7" r="6.8"/><circle cx="535.8" cy="910.4" r="6.8"/><circle cx="581.3" cy="900.2" r="6.8"/><circle cx="484.6" cy="921.3" r="6.8"/><circle cx="526.5" cy="937.1" r="6.8"/><circle cx="570.4" cy="941.0" r="6.8"/><circle cx="498.4" cy="962.1" r="6.8"/><circle cx="546.5" cy="993.3" r="6.8"/><circle cx="563.3" cy="1015.0" r="6.8"/><circle cx="556.3" cy="1025.4" r="6.8"/><circle cx="585.6" cy="1025.4" r="6.8"/><circle cx="617.3" cy="1016.4" r="6.8"/><circle cx="632.8" cy="1002.3" r="6.8"/><circle cx="624.4" cy="965.8" r="6.8"/><circle cx="626.3" cy="979.0" r="6.8"/><circle cx="651.1" cy="958.8" r="6.8"/><circle cx="677.8" cy="962.4" r="6.8"/><circle cx="532.4" cy="1033.3" r="6.8"/><circle cx="533.5" cy="1047.9" r="6.8"/><circle cx="569.5" cy="1045.9" r="6.8"/><circle cx="606.1" cy="1042.6" r="6.8"/><circle cx="630.0" cy="1034.1" r="6.8"/><circle cx="684.3" cy="1036.9" r="6.8"/><circle cx="605.5" cy="1071.2" r="6.8"/><circle cx="646.9" cy="1072.7" r="6.8"/><circle cx="660.4" cy="1065.1" r="6.8"/><circle cx="691.3" cy="1070.7" r="6.8"/><circle cx="638.4" cy="1081.9" r="6.8"/><circle cx="736.3" cy="1053.0" r="6.8"/><circle cx="762.8" cy="1034.1" r="6.8"/><circle cx="622.1" cy="913.8" r="6.8"/><circle cx="631.2" cy="354.9" r="6.8"/><circle cx="695.4" cy="372.3" r="6.8"/><circle cx="703.8" cy="215.7" r="6.8"/><circle cx="663.6" cy="228.9" r="6.8"/><circle cx="608.8" cy="238.2" r="6.8"/><circle cx="599.8" cy="252.8" r="6.8"/><circle cx="613.0" cy="251.4" r="6.8"/><circle cx="566.0" cy="259.8" r="6.8"/><circle cx="611.6" cy="278.1" r="6.8"/><circle cx="640.2" cy="282.9" r="6.8"/><circle cx="661.6" cy="308.2" r="6.8"/><circle cx="678.5" cy="325.9" r="6.8"/><circle cx="602.6" cy="327.3" r="6.8"/><circle cx="566.0" cy="316.1" r="6.8"/><circle cx="717.9" cy="318.3" r="6.8"/><circle cx="739.5" cy="314.1" r="6.8"/><circle cx="704.4" cy="293.0" r="6.8"/><circle cx="731.1" cy="280.4" r="6.8"/><circle cx="747.4" cy="282.3" r="6.8"/><circle cx="754.4" cy="293.6" r="6.8"/><circle cx="723.5" cy="264.6" r="6.8"/><circle cx="736.2" cy="254.2" r="6.8"/><circle cx="749.4" cy="242.4" r="6.8"/><circle cx="694.5" cy="262.7" r="6.8"/><circle cx="699.6" cy="244.4" r="6.8"/><circle cx="800.0" cy="300.1" r="6.8"/><circle cx="808.4" cy="311.0" r="6.8"/><circle cx="632.7" cy="259.8" r="6.8"/><circle cx="627.9" cy="266.9" r="6.8"/><circle cx="1004.4" cy="844.3" r="6.8"/><circle cx="415.5" cy="929.3" r="6.8"/><circle cx="898.6" cy="498.0" r="6.8"/><circle cx="916.2" cy="500.1" r="6.8"/><circle cx="894.4" cy="518.4" r="6.8"/><circle cx="874.4" cy="529.6" r="6.8"/><circle cx="906.3" cy="534.2" r="6.8"/><circle cx="912.4" cy="537.3" r="6.8"/><circle cx="883.1" cy="505.0" r="6.8"/><circle cx="1095.9" cy="496.9" r="6.8"/>
</g>
<g fill="#fcebe0">
<circle cx="1019.4" cy="489.6" r="6.8"/><circle cx="616.9" cy="756.1" r="6.8"/><circle cx="706.1" cy="751.6" r="6.8"/><circle cx="565.5" cy="760.7" r="6.8"/><circle cx="591.6" cy="777.7" r="6.8"/><circle cx="637.6" cy="778.1" r="6.8"/><circle cx="639.7" cy="765.5" r="6.8"/><circle cx="636.6" cy="771.5" r="6.8"/><circle cx="586.3" cy="799.6" r="6.8"/><circle cx="613.8" cy="799.9" r="6.8"/><circle cx="646.5" cy="786.2" r="6.8"/><circle cx="666.3" cy="791.9" r="6.8"/><circle cx="578.7" cy="804.1" r="6.8"/><circle cx="577.3" cy="810.6" r="6.8"/><circle cx="634.2" cy="818.4" r="6.8"/><circle cx="697.6" cy="804.4" r="6.8"/><circle cx="700.2" cy="804.8" r="6.8"/><circle cx="577.5" cy="831.0" r="6.8"/><circle cx="616.6" cy="826.1" r="6.8"/><circle cx="629.1" cy="820.3" r="6.8"/><circle cx="713.3" cy="830.1" r="6.8"/><circle cx="563.3" cy="857.4" r="6.8"/><circle cx="701.4" cy="848.5" r="6.8"/><circle cx="629.7" cy="870.4" r="6.8"/><circle cx="643.7" cy="873.1" r="6.8"/><circle cx="667.1" cy="862.7" r="6.8"/><circle cx="685.0" cy="730.7" r="6.8"/><circle cx="708.5" cy="734.2" r="6.8"/><circle cx="526.3" cy="887.5" r="6.8"/><circle cx="520.6" cy="863.6" r="6.8"/><circle cx="356.9" cy="501.2" r="6.8"/><circle cx="393.5" cy="542.5" r="6.8"/><circle cx="380.7" cy="546.7" r="6.8"/><circle cx="1031.2" cy="345.0" r="6.8"/><circle cx="1018.7" cy="318.7" r="6.8"/><circle cx="1001.3" cy="264.9" r="6.8"/><circle cx="964.1" cy="440.4" r="6.8"/><circle cx="991.4" cy="420.7" r="6.8"/><circle cx="876.9" cy="365.6" r="6.8"/><circle cx="453.4" cy="288.7" r="6.8"/><circle cx="363.0" cy="369.0" r="6.8"/><circle cx="465.0" cy="355.1" r="6.8"/><circle cx="429.9" cy="372.4" r="6.8"/><circle cx="638.5" cy="803.9" r="6.8"/><circle cx="594.2" cy="775.9" r="6.8"/><circle cx="678.6" cy="803.6" r="6.8"/><circle cx="583.7" cy="870.4" r="6.8"/><circle cx="592.6" cy="768.5" r="6.8"/><circle cx="644.3" cy="758.8" r="6.8"/><circle cx="607.1" cy="845.3" r="6.8"/><circle cx="662.8" cy="769.5" r="6.8"/><circle cx="597.1" cy="852.0" r="6.8"/><circle cx="583.4" cy="774.6" r="6.8"/><circle cx="606.2" cy="822.5" r="6.8"/><circle cx="588.0" cy="844.0" r="6.8"/><circle cx="693.8" cy="830.9" r="6.8"/><circle cx="682.2" cy="807.3" r="6.8"/><circle cx="554.1" cy="803.6" r="6.8"/><circle cx="581.9" cy="811.8" r="6.8"/><circle cx="633.7" cy="764.5" r="6.8"/><circle cx="562.7" cy="845.2" r="6.8"/><circle cx="608.0" cy="775.0" r="6.8"/><circle cx="624.1" cy="803.2" r="6.8"/><circle cx="561.5" cy="821.7" r="6.8"/><circle cx="588.3" cy="766.8" r="6.8"/><circle cx="601.3" cy="806.5" r="6.8"/><circle cx="640.8" cy="794.8" r="6.8"/><circle cx="647.4" cy="765.9" r="6.8"/><circle cx="571.3" cy="885.2" r="6.8"/><circle cx="650.1" cy="789.4" r="6.8"/><circle cx="718.0" cy="865.6" r="6.8"/><circle cx="762.9" cy="843.0" r="6.8"/><circle cx="716.8" cy="852.5" r="6.8"/><circle cx="763.8" cy="800.3" r="6.8"/><circle cx="679.2" cy="881.6" r="6.8"/><circle cx="778.9" cy="807.2" r="6.8"/><circle cx="638.8" cy="860.2" r="6.8"/><circle cx="656.3" cy="870.9" r="6.8"/><circle cx="482.8" cy="939.2" r="6.8"/><circle cx="576.3" cy="927.5" r="6.8"/><circle cx="540.1" cy="991.6" r="6.8"/><circle cx="718.9" cy="885.5" r="6.8"/><circle cx="805.8" cy="936.8" r="6.8"/><circle cx="719.4" cy="893.0" r="6.8"/><circle cx="787.7" cy="949.6" r="6.8"/><circle cx="750.4" cy="887.1" r="6.8"/><circle cx="802.7" cy="892.3" r="6.8"/><circle cx="775.6" cy="266.6" r="6.8"/><circle cx="760.4" cy="328.9" r="6.8"/><circle cx="700.8" cy="224.8" r="6.8"/><circle cx="571.5" cy="296.2" r="6.8"/><circle cx="690.3" cy="238.4" r="6.8"/><circle cx="640.5" cy="297.8" r="6.8"/><circle cx="786.9" cy="771.8" r="6.8"/><circle cx="875.3" cy="866.2" r="6.8"/><circle cx="871.4" cy="894.0" r="6.8"/><circle cx="910.6" cy="842.0" r="6.8"/><circle cx="959.7" cy="878.1" r="6.8"/><circle cx="751.7" cy="811.6" r="6.8"/><circle cx="769.2" cy="875.8" r="6.8"/><circle cx="901.5" cy="851.6" r="6.8"/><circle cx="820.1" cy="809.2" r="6.8"/><circle cx="915.5" cy="882.1" r="6.8"/><circle cx="917.3" cy="333.6" r="6.8"/><circle cx="709.2" cy="380.2" r="6.8"/><circle cx="401.2" cy="759.0" r="6.8"/><circle cx="419.5" cy="764.1" r="6.8"/><circle cx="434.4" cy="849.8" r="6.8"/><circle cx="222.3" cy="389.8" r="6.8"/><circle cx="228.0" cy="467.2" r="6.8"/><circle cx="237.8" cy="412.3" r="6.8"/><circle cx="292.1" cy="418.0" r="6.8"/><circle cx="413.6" cy="453.1" r="6.8"/><circle cx="364.4" cy="460.2" r="6.8"/><circle cx="334.8" cy="446.1" r="6.8"/><circle cx="328.7" cy="423.0" r="6.8"/><circle cx="373.4" cy="412.3" r="6.8"/><circle cx="372.8" cy="398.3" r="6.8"/><circle cx="360.2" cy="394.1" r="6.8"/><circle cx="353.1" cy="384.2" r="6.8"/><circle cx="371.4" cy="481.2" r="6.8"/><circle cx="981.4" cy="297.1" r="6.8"/><circle cx="1007.6" cy="259.7" r="6.8"/><circle cx="1032.6" cy="265.9" r="6.8"/><circle cx="1029.2" cy="322.1" r="6.8"/><circle cx="1015.7" cy="330.8" r="6.8"/><circle cx="1066.3" cy="329.4" r="6.8"/><circle cx="934.4" cy="308.9" r="6.8"/><circle cx="950.5" cy="314.5" r="6.8"/><circle cx="1067.2" cy="404.5" r="6.8"/><circle cx="895.1" cy="379.2" r="6.8"/><circle cx="888.6" cy="390.5" r="6.8"/><circle cx="878.2" cy="404.0" r="6.8"/><circle cx="887.2" cy="426.2" r="6.8"/><circle cx="950.5" cy="389.9" r="6.8"/><circle cx="1022.2" cy="448.1" r="6.8"/><circle cx="995.5" cy="449.5" r="6.8"/><circle cx="865.2" cy="436.0" r="6.8"/><circle cx="880.2" cy="453.8" r="6.8"/><circle cx="222.3" cy="390.6" r="6.8"/><circle cx="507.8" cy="268.3" r="6.8"/><circle cx="429.1" cy="288.0" r="6.8"/><circle cx="402.3" cy="309.1" r="6.8"/><circle cx="400.9" cy="318.1" r="6.8"/><circle cx="420.6" cy="322.3" r="6.8"/><circle cx="357.3" cy="271.1" r="6.8"/><circle cx="360.2" cy="286.6" r="6.8"/><circle cx="363.0" cy="307.1" r="6.8"/><circle cx="365.2" cy="325.9" r="6.8"/><circle cx="297.4" cy="314.1" r="6.8"/><circle cx="433.3" cy="359.1" r="6.8"/><circle cx="430.5" cy="369.0" r="6.8"/><circle cx="388.3" cy="372.9" r="6.8"/><circle cx="500.6" cy="926.4" r="6.8"/><circle cx="523.7" cy="922.2" r="6.8"/><circle cx="552.1" cy="925.0" r="6.8"/><circle cx="614.5" cy="922.2" r="6.8"/><circle cx="607.5" cy="954.5" r="6.8"/><circle cx="642.7" cy="945.2" r="6.8"/><circle cx="512.4" cy="968.0" r="6.8"/><circle cx="564.5" cy="967.2" r="6.8"/><circle cx="589.8" cy="978.4" r="6.8"/><circle cx="665.2" cy="975.1" r="6.8"/><circle cx="505.4" cy="986.9" r="6.8"/><circle cx="523.7" cy="990.2" r="6.8"/><circle cx="648.3" cy="1022.9" r="6.8"/><circle cx="615.1" cy="1038.1" r="6.8"/><circle cx="665.2" cy="1038.9" r="6.8"/><circle cx="753.8" cy="1036.1" r="6.8"/><circle cx="783.3" cy="1008.0" r="6.8"/><circle cx="697.5" cy="882.8" r="6.8"/><circle cx="596.2" cy="886.2" r="6.8"/><circle cx="617.3" cy="882.8" r="6.8"/><circle cx="777.7" cy="901.1" r="6.8"/><circle cx="733.5" cy="886.2" r="6.8"/><circle cx="681.3" cy="348.4" r="6.8"/><circle cx="704.4" cy="350.7" r="6.8"/><circle cx="711.4" cy="353.5" r="6.8"/><circle cx="614.4" cy="210.1" r="6.8"/><circle cx="625.6" cy="252.0" r="6.8"/><circle cx="645.3" cy="255.6" r="6.8"/><circle cx="598.3" cy="285.2" r="6.8"/><circle cx="551.1" cy="311.3" r="6.8"/><circle cx="735.3" cy="302.0" r="6.8"/><circle cx="764.8" cy="259.0" r="6.8"/><circle cx="774.7" cy="275.3" r="6.8"/><circle cx="799.4" cy="280.4" r="6.8"/><circle cx="771.5" cy="750.1" r="6.8"/><circle cx="799.1" cy="762.2" r="6.8"/><circle cx="791.5" cy="779.9" r="6.8"/><circle cx="751.8" cy="826.0" r="6.8"/><circle cx="766.2" cy="816.2" r="6.8"/><circle cx="808.3" cy="827.7" r="6.8"/><circle cx="825.2" cy="841.5" r="6.8"/><circle cx="750.7" cy="867.7" r="6.8"/><circle cx="841.2" cy="857.8" r="6.8"/><circle cx="867.1" cy="824.6" r="6.8"/><circle cx="871.3" cy="841.5" r="6.8"/><circle cx="879.8" cy="857.2" r="6.8"/><circle cx="893.8" cy="865.4" r="6.8"/><circle cx="862.3" cy="885.1" r="6.8"/><circle cx="899.5" cy="901.4" r="6.8"/><circle cx="894.1" cy="919.1" r="6.8"/><circle cx="911.6" cy="833.9" r="6.8"/><circle cx="983.3" cy="817.0" r="6.8"/><circle cx="950.9" cy="831.1" r="6.8"/><circle cx="959.4" cy="826.9" r="6.8"/><circle cx="840.4" cy="938.0" r="6.8"/><circle cx="844.1" cy="945.0" r="6.8"/><circle cx="380.4" cy="920.0" r="6.8"/><circle cx="851.5" cy="512.0" r="6.8"/><circle cx="912.4" cy="522.3" r="6.8"/><circle cx="930.9" cy="491.2" r="6.8"/><circle cx="950.3" cy="487.4" r="6.8"/><circle cx="1074.1" cy="487.5" r="6.8"/><circle cx="1110.3" cy="492.2" r="6.8"/><circle cx="1049.1" cy="493.8" r="6.8"/>
</g>
<g fill="#fcd8c6">
<circle cx="1002.3" cy="491.5" r="6.8"/><circle cx="560.6" cy="756.5" r="6.8"/><circle cx="617.8" cy="748.5" r="6.8"/><circle cx="634.1" cy="744.9" r="6.8"/><circle cx="608.8" cy="811.4" r="6.8"/><circle cx="610.8" cy="805.3" r="6.8"/><circle cx="693.3" cy="817.6" r="6.8"/><circle cx="675.7" cy="830.2" r="6.8"/><circle cx="662.7" cy="836.1" r="6.8"/><circle cx="672.8" cy="868.6" r="6.8"/><circle cx="662.4" cy="712.8" r="6.8"/><circle cx="646.4" cy="719.1" r="6.8"/><circle cx="546.4" cy="856.0" r="6.8"/><circle cx="1001.8" cy="303.9" r="6.8"/><circle cx="805.4" cy="343.2" r="6.8"/><circle cx="868.9" cy="394.9" r="6.8"/><circle cx="936.7" cy="385.1" r="6.8"/><circle cx="439.5" cy="232.2" r="6.8"/><circle cx="487.5" cy="243.0" r="6.8"/><circle cx="526.6" cy="232.0" r="6.8"/><circle cx="493.0" cy="299.5" r="6.8"/><circle cx="428.0" cy="296.9" r="6.8"/><circle cx="615.2" cy="786.7" r="6.8"/><circle cx="591.4" cy="852.5" r="6.8"/><circle cx="606.8" cy="841.3" r="6.8"/><circle cx="566.9" cy="881.7" r="6.8"/><circle cx="594.8" cy="831.4" r="6.8"/><circle cx="665.5" cy="815.9" r="6.8"/><circle cx="667.3" cy="818.4" r="6.8"/><circle cx="627.0" cy="811.7" r="6.8"/><circle cx="581.7" cy="876.9" r="6.8"/><circle cx="612.5" cy="829.2" r="6.8"/><circle cx="562.1" cy="834.6" r="6.8"/><circle cx="582.6" cy="784.4" r="6.8"/><circle cx="616.1" cy="771.3" r="6.8"/><circle cx="622.3" cy="826.1" r="6.8"/><circle cx="666.1" cy="839.0" r="6.8"/><circle cx="620.3" cy="813.6" r="6.8"/><circle cx="588.2" cy="828.7" r="6.8"/><circle cx="569.0" cy="877.4" r="6.8"/><circle cx="557.3" cy="797.6" r="6.8"/><circle cx="656.1" cy="855.7" r="6.8"/><circle cx="766.4" cy="855.7" r="6.8"/><circle cx="756.2" cy="815.3" r="6.8"/><circle cx="694.9" cy="873.3" r="6.8"/><circle cx="774.4" cy="866.1" r="6.8"/><circle cx="732.7" cy="779.5" r="6.8"/><circle cx="753.6" cy="821.3" r="6.8"/><circle cx="743.3" cy="880.0" r="6.8"/><circle cx="751.3" cy="304.6" r="6.8"/><circle cx="609.0" cy="282.0" r="6.8"/><circle cx="642.7" cy="317.5" r="6.8"/><circle cx="862.2" cy="554.1" r="6.8"/><circle cx="666.7" cy="727.0" r="6.8"/><circle cx="675.2" cy="736.9" r="6.8"/><circle cx="370.3" cy="764.1" r="6.8"/><circle cx="413.3" cy="861.7" r="6.8"/><circle cx="527.2" cy="860.2" r="6.8"/><circle cx="211.1" cy="427.2" r="6.8"/><circle cx="1055.4" cy="356.7" r="6.8"/><circle cx="1065.2" cy="391.9" r="6.8"/><circle cx="846.4" cy="321.6" r="6.8"/><circle cx="853.4" cy="353.3" r="6.8"/><circle cx="801.4" cy="280.8" r="6.8"/><circle cx="801.4" cy="329.4" r="6.8"/><circle cx="989.3" cy="413.8" r="6.8"/><circle cx="1052.3" cy="433.2" r="6.8"/><circle cx="1018.0" cy="465.8" r="6.8"/><circle cx="262.6" cy="370.4" r="6.8"/><circle cx="488.1" cy="228.3" r="6.8"/><circle cx="488.7" cy="255.6" r="6.8"/><circle cx="500.8" cy="257.6" r="6.8"/><circle cx="524.7" cy="333.0" r="6.8"/><circle cx="384.1" cy="286.6" r="6.8"/><circle cx="399.5" cy="289.9" r="6.8"/><circle cx="409.4" cy="299.2" r="6.8"/><circle cx="298.3" cy="368.1" r="6.8"/><circle cx="426.2" cy="349.0" r="6.8"/><circle cx="670.7" cy="923.1" r="6.8"/><circle cx="752.3" cy="913.2" r="6.8"/><circle cx="604.7" cy="917.1" r="6.8"/><circle cx="583.6" cy="937.1" r="6.8"/><circle cx="597.7" cy="944.1" r="6.8"/><circle cx="604.1" cy="979.3" r="6.8"/><circle cx="670.2" cy="923.0" r="6.8"/><circle cx="776.2" cy="961.6" r="6.8"/><circle cx="732.1" cy="986.9" r="6.8"/><circle cx="644.1" cy="881.4" r="6.8"/><circle cx="660.9" cy="881.4" r="6.8"/><circle cx="685.7" cy="886.2" r="6.8"/><circle cx="559.7" cy="881.4" r="6.8"/><circle cx="572.3" cy="885.1" r="6.8"/><circle cx="752.3" cy="913.2" r="6.8"/><circle cx="777.7" cy="920.8" r="6.8"/><circle cx="650.4" cy="264.1" r="6.8"/><circle cx="554.5" cy="297.2" r="6.8"/><circle cx="714.2" cy="252.0" r="6.8"/><circle cx="719.3" cy="290.2" r="6.8"/><circle cx="799.4" cy="328.8" r="6.8"/><circle cx="770.1" cy="789.8" r="6.8"/><circle cx="819.6" cy="829.7" r="6.8"/><circle cx="789.2" cy="845.7" r="6.8"/><circle cx="745.1" cy="860.6" r="6.8"/><circle cx="828.0" cy="871.0" r="6.8"/><circle cx="855.3" cy="833.9" r="6.8"/><circle cx="902.3" cy="800.2" r="6.8"/><circle cx="968.4" cy="785.2" r="6.8"/><circle cx="959.4" cy="866.8" r="6.8"/><circle cx="937.4" cy="897.8" r="6.8"/><circle cx="857.5" cy="514.1" r="6.8"/><circle cx="871.2" cy="508.2" r="6.8"/><circle cx="881.4" cy="501.2" r="6.8"/><circle cx="1090.5" cy="483.3" r="6.8"/><circle cx="1086.6" cy="498.1" r="6.8"/><circle cx="1102.2" cy="507.0" r="6.8"/><circle cx="1082.7" cy="513.3" r="6.8"/>
</g>
<g fill="#f4b6a0">
<circle cx="636.8" cy="751.2" r="6.8"/><circle cx="621.8" cy="753.1" r="6.8"/><circle cx="573.0" cy="764.0" r="6.8"/><circle cx="604.6" cy="772.6" r="6.8"/><circle cx="599.9" cy="794.0" r="6.8"/><circle cx="632.5" cy="805.1" r="6.8"/><circle cx="627.3" cy="754.6" r="6.8"/><circle cx="704.5" cy="811.7" r="6.8"/><circle cx="631.9" cy="820.3" r="6.8"/><circle cx="623.8" cy="822.3" r="6.8"/><circle cx="631.0" cy="772.8" r="6.8"/><circle cx="569.0" cy="861.8" r="6.8"/><circle cx="628.4" cy="805.3" r="6.8"/><circle cx="752.9" cy="746.6" r="6.8"/><circle cx="719.0" cy="883.1" r="6.8"/><circle cx="684.4" cy="720.0" r="6.8"/><circle cx="401.5" cy="446.9" r="6.8"/><circle cx="420.6" cy="381.4" r="6.8"/><circle cx="1036.2" cy="476.2" r="6.8"/><circle cx="1050.3" cy="475.7" r="6.8"/><circle cx="518.5" cy="305.4" r="6.8"/><circle cx="534.5" cy="330.2" r="6.8"/><circle cx="420.6" cy="380.2" r="6.8"/><circle cx="494.2" cy="991.7" r="6.8"/><circle cx="673.6" cy="891.2" r="6.8"/><circle cx="786.9" cy="937.1" r="6.8"/><circle cx="788.2" cy="266.3" r="6.8"/><circle cx="777.4" cy="797.3" r="6.8"/><circle cx="818.2" cy="850.8" r="6.8"/><circle cx="921.4" cy="811.4" r="6.8"/><circle cx="914.4" cy="864.0" r="6.8"/><circle cx="956.0" cy="812.8" r="6.8"/><circle cx="949.0" cy="850.2" r="6.8"/><circle cx="930.0" cy="500.1" r="6.8"/><circle cx="941.5" cy="497.5" r="6.8"/><circle cx="964.4" cy="490.2" r="6.8"/><circle cx="1079.5" cy="507.0" r="6.8"/>
</g>
<g fill="#e2867f">
<circle cx="563.2" cy="789.3" r="6.8"/><circle cx="584.9" cy="835.0" r="6.8"/><circle cx="577.0" cy="749.0" r="6.8"/><circle cx="617.9" cy="740.5" r="6.8"/><circle cx="594.4" cy="795.8" r="6.8"/><circle cx="894.5" cy="600.5" r="6.8"/><circle cx="629.9" cy="743.9" r="6.8"/><circle cx="608.3" cy="756.6" r="6.8"/><circle cx="574.5" cy="774.8" r="6.8"/><circle cx="588.6" cy="798.8" r="6.8"/><circle cx="619.5" cy="827.7" r="6.8"/><circle cx="683.4" cy="826.9" r="6.8"/><circle cx="583.8" cy="819.8" r="6.8"/><circle cx="579.6" cy="866.2" r="6.8"/>
</g>
<g fill="#cb5868">
<circle cx="615.3" cy="746.2" r="6.8"/><circle cx="622.3" cy="756.6" r="6.8"/><circle cx="638.7" cy="782.7" r="6.8"/><circle cx="600.4" cy="788.3" r="6.8"/><circle cx="668.8" cy="824.1" r="6.8"/>
</g>
</g>
<g id="lb"><circle class="lc" cx="371.6" cy="344.7" r="10.7"/><text x="371.6" y="350.0">1</text><circle class="lc" cx="679.6" cy="265.7" r="10.7"/><text x="679.6" y="271.0">6</text><circle class="lc" cx="1013.6" cy="310.7" r="10.7"/><text x="1013.6" y="316.0">9</text><circle class="lc" cx="979.6" cy="444.7" r="10.7"/><text x="979.6" y="450.0">7</text><circle class="lc" cx="615.6" cy="487.7" r="10.7"/><text x="615.6" y="493.0">4</text><circle class="lc" cx="761.6" cy="514.7" r="10.7"/><text x="761.6" y="520.0">10</text><circle class="lc" cx="819.6" cy="623.7" r="10.7"/><text x="819.6" y="629.0">8</text><circle class="lc" cx="501.6" cy="737.7" r="10.7"/><text x="501.6" y="743.0">2</text><circle class="lc" cx="890.6" cy="883.7" r="10.7"/><text x="890.6" y="889.0">3</text><circle class="lc" cx="575.6" cy="993.7" r="10.7"/><text x="575.6" y="999.0">5</text></g>
<text x="1038" y="1127.3" style="font-size:13.1px">Expression, Z-scaled</text>
<rect x="850" y="1134" width="301" height="15" fill="url(#lg)"/>
<line x1="850.5" y1="1134" x2="850.5" y2="1149" stroke="#000" stroke-width="1"/><text class="tk" x="850.5" y="1162.8">0.0</text><line x1="881.5" y1="1134" x2="881.5" y2="1149" stroke="#000" stroke-width="1"/><text class="tk" x="881.5" y="1162.8">0.5</text><line x1="913.5" y1="1134" x2="913.5" y2="1149" stroke="#000" stroke-width="1"/><text class="tk" x="913.5" y="1162.8">1.0</text><line x1="945.5" y1="1134" x2="945.5" y2="1149" stroke="#000" stroke-width="1"/><text class="tk" x="945.5" y="1162.8">1.5</text><line x1="977.5" y1="1134" x2="977.5" y2="1149" stroke="#000" stroke-width="1"/><text class="tk" x="977.5" y="1162.8">2.0</text><line x1="1016.5" y1="1134" x2="1016.5" y2="1149" stroke="#000" stroke-width="1"/><text class="tk" x="1016.5" y="1162.8">2.6</text><line x1="1048.5" y1="1134" x2="1048.5" y2="1149" stroke="#000" stroke-width="1"/><text class="tk" x="1048.5" y="1162.8">3.1</text><line x1="1080.5" y1="1134" x2="1080.5" y2="1149" stroke="#000" stroke-width="1"/><text class="tk" x="1080.5" y="1162.8">3.6</text><line x1="1112.5" y1="1134" x2="1112.5" y2="1149" stroke="#000" stroke-width="1"/><text class="tk" x="1112.5" y="1162.8">4.1</text><line x1="1150.5" y1="1134" x2="1150.5" y2="1149" stroke="#000" stroke-width="1"/><text class="tk" x="1150.5" y="1162.8">4.7</text>
</svg>
</body></html>
